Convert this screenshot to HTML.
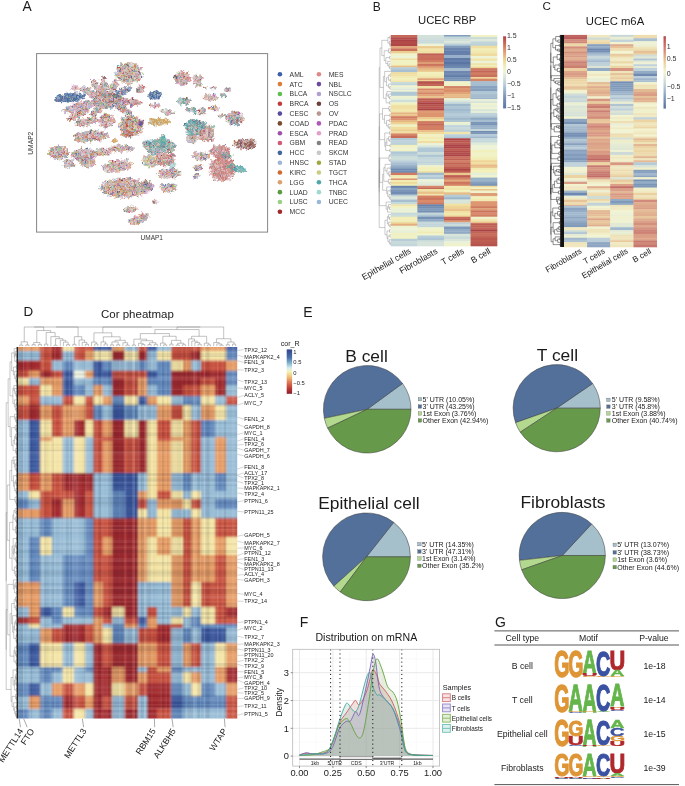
<!DOCTYPE html><html><head><meta charset="utf-8"><style>html,body{margin:0;padding:0;background:#fff;width:685px;height:786px;overflow:hidden}svg{display:block;font-family:"Liberation Sans", sans-serif;will-change:transform;filter:blur(0.35px)}</style></head><body>
<svg width="685" height="786" viewBox="0 0 685 786">
<rect width="685" height="786" fill="#fff"/>
<text x="22.6" y="11.4" font-size="13.8" text-anchor="start" fill="#1a1a1a" >A</text>
<defs><filter id="rough" x="-10%" y="-10%" width="120%" height="120%"><feTurbulence type="fractalNoise" baseFrequency="0.3" numOctaves="2" seed="3" result="n"/><feDisplacementMap in="SourceGraphic" in2="n" scale="5" xChannelSelector="R" yChannelSelector="G"/></filter></defs>
<g filter="url(#rough)"><g opacity="0.55"><ellipse cx="128.8" cy="73.3" rx="11.70" ry="9.24" fill="#c9b0a1" transform="rotate(0 128.8 73.3)"/><ellipse cx="140.5" cy="89.5" rx="4.50" ry="3.52" fill="#c9aaa6" transform="rotate(-60 140.5 89.5)"/><ellipse cx="70" cy="97.5" rx="13.50" ry="3.96" fill="#40669a" transform="rotate(-4 70 97.5)"/><ellipse cx="80" cy="106.5" rx="16.20" ry="4.05" fill="#cda8ac" transform="rotate(-14 80 106.5)"/><ellipse cx="79" cy="114" rx="10.80" ry="3.17" fill="#caa195" transform="rotate(-27 79 114)"/><ellipse cx="90" cy="92.5" rx="10.80" ry="3.17" fill="#c9aaa6" transform="rotate(24 90 92.5)"/><ellipse cx="97" cy="87" rx="9.00" ry="2.99" fill="#cda4a1" transform="rotate(52 97 87)"/><ellipse cx="104" cy="84.5" rx="8.10" ry="2.99" fill="#c9aaa6" transform="rotate(-101 104 84.5)"/><ellipse cx="113" cy="88" rx="8.10" ry="2.99" fill="#c9aaa6" transform="rotate(-63 113 88)"/><ellipse cx="122" cy="92" rx="9.00" ry="3.17" fill="#8f8da1" transform="rotate(-28 122 92)"/><ellipse cx="128" cy="102" rx="12.60" ry="3.52" fill="#cb979b" transform="rotate(5 128 102)"/><ellipse cx="123" cy="109" rx="9.00" ry="3.17" fill="#c9aaa6" transform="rotate(29 123 109)"/><ellipse cx="107" cy="100" rx="12.60" ry="7.48" fill="#c9aaa6" transform="rotate(0 107 100)"/><ellipse cx="97" cy="111" rx="7.20" ry="3.17" fill="#c9aaa6" transform="rotate(-48 97 111)"/><ellipse cx="74.8" cy="88.4" rx="3.42" ry="2.46" fill="#d4a5b6" transform="rotate(0 74.8 88.4)"/><ellipse cx="86" cy="122" rx="10.80" ry="3.96" fill="#c9aaa6" transform="rotate(-10 86 122)"/><ellipse cx="106" cy="121" rx="7.20" ry="6.16" fill="#cda8ac" transform="rotate(0 106 121)"/><ellipse cx="131" cy="126" rx="10.80" ry="9.68" fill="#caa195" transform="rotate(0 131 126)"/><ellipse cx="140" cy="123" rx="3.15" ry="1.32" fill="#5a4aa0" transform="rotate(0 140 123)"/><ellipse cx="127" cy="134" rx="5.40" ry="2.64" fill="#d06a30" transform="rotate(0 127 134)"/><ellipse cx="91" cy="136.5" rx="15.30" ry="5.28" fill="#c9aaa6" transform="rotate(-5 91 136.5)"/><ellipse cx="115" cy="140.5" rx="2.25" ry="1.32" fill="#d0a050" transform="rotate(0 115 140.5)"/><ellipse cx="58.8" cy="152.6" rx="9.00" ry="6.16" fill="#c9aaa6" transform="rotate(0 58.8 152.6)"/><ellipse cx="84" cy="155" rx="10.80" ry="6.16" fill="#c9aaa6" transform="rotate(0 84 155)"/><ellipse cx="87.4" cy="162.7" rx="7.20" ry="4.40" fill="#cda899" transform="rotate(0 87.4 162.7)"/><ellipse cx="69" cy="163.6" rx="5.40" ry="4.40" fill="#c9aaa6" transform="rotate(0 69 163.6)"/><ellipse cx="121" cy="148.5" rx="10.80" ry="3.52" fill="#c9aaa6" transform="rotate(0 121 148.5)"/><ellipse cx="117.6" cy="166" rx="13.50" ry="5.28" fill="#c9aaa6" transform="rotate(-10 117.6 166)"/><ellipse cx="103" cy="152" rx="7.20" ry="3.52" fill="#c9aaa6" transform="rotate(0 103 152)"/><ellipse cx="124.3" cy="187.9" rx="21.60" ry="8.80" fill="#cca89c" transform="rotate(0 124.3 187.9)"/><ellipse cx="146" cy="186" rx="5.40" ry="4.40" fill="#c9aaa6" transform="rotate(0 146 186)"/><ellipse cx="131" cy="209.7" rx="6.30" ry="2.64" fill="#c9aaa6" transform="rotate(0 131 209.7)"/><ellipse cx="137.7" cy="219.8" rx="9.00" ry="3.52" fill="#c9aaa6" transform="rotate(-10 137.7 219.8)"/><ellipse cx="144.4" cy="215.6" rx="4.50" ry="2.64" fill="#c9aaa6" transform="rotate(0 144.4 215.6)"/><ellipse cx="182.4" cy="78.2" rx="7.56" ry="6.34" fill="#cfa29f" transform="rotate(0 182.4 78.2)"/><ellipse cx="176" cy="77.3" rx="2.25" ry="1.32" fill="#40669a" transform="rotate(0 176 77.3)"/><ellipse cx="197.4" cy="80.4" rx="4.32" ry="5.72" fill="#c9aaa6" transform="rotate(0 197.4 80.4)"/><ellipse cx="205" cy="87.8" rx="1.80" ry="1.14" fill="#c9aaa6" transform="rotate(0 205 87.8)"/><ellipse cx="213.5" cy="87.8" rx="3.15" ry="1.14" fill="#c9aaa6" transform="rotate(0 213.5 87.8)"/><ellipse cx="228" cy="89.6" rx="3.60" ry="1.94" fill="#c9aaa6" transform="rotate(0 228 89.6)"/><ellipse cx="155.4" cy="95.4" rx="5.94" ry="3.87" fill="#40669a" transform="rotate(0 155.4 95.4)"/><ellipse cx="154.8" cy="105.8" rx="4.68" ry="2.29" fill="#d1a6b2" transform="rotate(0 154.8 105.8)"/><ellipse cx="167" cy="112.3" rx="6.30" ry="2.64" fill="#c9aaa6" transform="rotate(10 167 112.3)"/><ellipse cx="159" cy="122" rx="9.90" ry="3.52" fill="#d0a050" transform="rotate(0 159 122)"/><ellipse cx="184.3" cy="101.5" rx="5.85" ry="3.08" fill="#9da9a7" transform="rotate(0 184.3 101.5)"/><ellipse cx="190.7" cy="109.7" rx="4.68" ry="2.64" fill="#acaaa6" transform="rotate(0 190.7 109.7)"/><ellipse cx="201.7" cy="111.5" rx="3.60" ry="3.52" fill="#c9aaa6" transform="rotate(0 201.7 111.5)"/><ellipse cx="210.4" cy="97.5" rx="7.20" ry="3.08" fill="#c9aaa6" transform="rotate(0 210.4 97.5)"/><ellipse cx="223.6" cy="95.3" rx="3.60" ry="1.32" fill="#50a8a8" transform="rotate(30 223.6 95.3)"/><ellipse cx="214" cy="108.4" rx="4.50" ry="2.29" fill="#c9aaa6" transform="rotate(0 214 108.4)"/><ellipse cx="221" cy="116" rx="3.60" ry="1.94" fill="#c9aaa6" transform="rotate(0 221 116)"/><ellipse cx="234.6" cy="118" rx="7.92" ry="6.16" fill="#c9aaa6" transform="rotate(0 234.6 118)"/><ellipse cx="234.6" cy="120.5" rx="4.50" ry="4.40" fill="#9da9a7" transform="rotate(0 234.6 120.5)"/><ellipse cx="195" cy="111.5" rx="1.35" ry="2.64" fill="#50a8a8" transform="rotate(0 195 111.5)"/><ellipse cx="195" cy="128.5" rx="9.00" ry="5.72" fill="#9da9a7" transform="rotate(-10 195 128.5)"/><ellipse cx="206" cy="135" rx="7.65" ry="6.16" fill="#cb9e9b" transform="rotate(0 206 135)"/><ellipse cx="192" cy="138.5" rx="5.40" ry="4.40" fill="#c9aaa6" transform="rotate(0 192 138.5)"/><ellipse cx="201" cy="124" rx="5.40" ry="3.08" fill="#9da9a7" transform="rotate(0 201 124)"/><ellipse cx="191" cy="123" rx="6.30" ry="2.64" fill="#50a8a8" transform="rotate(-20 191 123)"/><ellipse cx="210" cy="128" rx="3.60" ry="2.64" fill="#c9aaa6" transform="rotate(0 210 128)"/><ellipse cx="155" cy="147" rx="9.00" ry="7.04" fill="#96a9a7" transform="rotate(-20 155 147)"/><ellipse cx="168" cy="146" rx="7.20" ry="5.28" fill="#9da9a7" transform="rotate(20 168 146)"/><ellipse cx="165" cy="158.5" rx="9.00" ry="6.16" fill="#cb9e9b" transform="rotate(0 165 158.5)"/><ellipse cx="150" cy="161" rx="7.20" ry="5.28" fill="#c9ba98" transform="rotate(0 150 161)"/><ellipse cx="163" cy="140" rx="3.15" ry="4.40" fill="#50a8a8" transform="rotate(0 163 140)"/><ellipse cx="146" cy="144" rx="3.60" ry="3.52" fill="#8fa9a7" transform="rotate(0 146 144)"/><ellipse cx="172.5" cy="166" rx="2.25" ry="4.40" fill="#a0d8d0" transform="rotate(0 172.5 166)"/><ellipse cx="169" cy="173.5" rx="10.80" ry="4.40" fill="#c9aaa6" transform="rotate(0 169 173.5)"/><ellipse cx="146.5" cy="186.5" rx="5.85" ry="4.84" fill="#cda8ac" transform="rotate(0 146.5 186.5)"/><ellipse cx="150.5" cy="188" rx="1.80" ry="2.64" fill="#5a4aa0" transform="rotate(0 150.5 188)"/><ellipse cx="169" cy="188" rx="8.10" ry="3.78" fill="#c9aaa6" transform="rotate(0 169 188)"/><ellipse cx="154.3" cy="201.5" rx="3.60" ry="1.76" fill="#c9aaa6" transform="rotate(0 154.3 201.5)"/><ellipse cx="222.3" cy="168.5" rx="11.70" ry="11.44" fill="#cc9290" transform="rotate(0 222.3 168.5)"/><ellipse cx="220.5" cy="152" rx="9.00" ry="6.16" fill="#cc9895" transform="rotate(0 220.5 152)"/><ellipse cx="236" cy="168.5" rx="9.00" ry="2.82" fill="#50a8a8" transform="rotate(12 236 168.5)"/><ellipse cx="226" cy="155.5" rx="6.30" ry="2.20" fill="#50a8a8" transform="rotate(10 226 155.5)"/><ellipse cx="200.4" cy="156.4" rx="8.10" ry="3.96" fill="#c9aaa6" transform="rotate(0 200.4 156.4)"/><ellipse cx="198.5" cy="167.6" rx="4.05" ry="3.17" fill="#c9aaa6" transform="rotate(0 198.5 167.6)"/><ellipse cx="196.5" cy="176" rx="2.88" ry="2.64" fill="#c9aaa6" transform="rotate(0 196.5 176)"/><ellipse cx="244.7" cy="143.8" rx="9.90" ry="4.84" fill="#ab7c75" transform="rotate(0 244.7 143.8)"/><ellipse cx="252" cy="145" rx="3.60" ry="2.20" fill="#8a4a40" transform="rotate(0 252 145)"/></g>
<g opacity="0.95">
<path stroke="#7a4a30" stroke-width="0.95" stroke-linecap="square" fill="none" d="M124.0 65.6h0M126.0 64.6h0M124.2 76.0h0M120.5 78.9h0M120.7 79.8h0M136.6 74.8h0M134.6 70.7h0M132.4 70.3h0M129.7 70.8h0M137.1 89.9h0M81.8 108.3h0M85.4 107.1h0M81.9 111.4h0M75.6 113.7h0M100.4 85.5h0M101.3 87.7h0M94.0 81.4h0M105.3 91.8h0M113.9 88.8h0M123.5 98.3h0M128.2 111.7h0M123.9 107.7h0M104.5 95.0h0M107.0 98.9h0M108.9 106.7h0M100.4 102.1h0M110.9 102.1h0M111.8 97.3h0M102.7 105.8h0M113.9 102.4h0M100.6 103.2h0M102.1 105.4h0M98.0 110.7h0M75.5 87.7h0M108.5 127.5h0M105.4 121.8h0M102.3 119.0h0M122.2 125.5h0M141.6 123.7h0M139.8 131.5h0M133.3 122.2h0M124.9 129.6h0M97.8 133.6h0M90.7 132.0h0M84.1 137.3h0M76.2 135.0h0M75.2 139.3h0M89.7 139.6h0M91.6 135.8h0M67.3 150.1h0M55.4 156.9h0M92.0 150.5h0M73.8 158.8h0M74.2 157.3h0M78.9 151.9h0M83.1 161.1h0M81.1 165.1h0M73.2 165.5h0M123.9 149.7h0M111.4 163.3h0M102.5 151.9h0M118.6 188.2h0M137.3 196.4h0M139.2 182.4h0M108.0 186.0h0M135.5 184.7h0M121.0 184.4h0M113.5 185.0h0M130.5 179.0h0M112.6 194.4h0M148.5 189.2h0M145.3 183.0h0M140.1 218.0h0M142.5 215.2h0M176.0 78.2h0M175.7 81.8h0M185.3 80.3h0M197.9 85.4h0M197.1 76.1h0M159.0 92.7h0M169.6 110.0h0M167.0 120.2h0M188.0 103.5h0M234.8 112.6h0M238.1 122.6h0M228.8 116.1h0M187.6 128.3h0M192.5 129.2h0M188.8 125.0h0M202.4 135.8h0M199.1 127.5h0M190.7 120.0h0M193.2 124.3h0M151.7 154.2h0M150.5 145.8h0M153.7 141.2h0M162.6 142.8h0M163.6 141.2h0M162.7 163.0h0M158.4 161.9h0M156.5 156.4h0M162.3 169.3h0M161.8 175.6h0M143.8 187.2h0M150.3 182.0h0M167.0 187.3h0M171.8 185.6h0M172.2 190.1h0M227.4 157.9h0M231.0 159.9h0M226.3 178.2h0M220.0 175.8h0M218.1 172.2h0M230.7 159.8h0M219.7 153.5h0M219.8 152.0h0M196.6 173.9h0M252.7 146.7h0M244.6 143.4h0"/>
<path stroke="#c8cc88" stroke-width="0.95" stroke-linecap="square" fill="none" d="M129.8 70.3h0M129.0 63.1h0M138.6 68.7h0M128.1 76.9h0M134.3 76.5h0M127.8 66.0h0M127.4 74.4h0M119.6 69.8h0M117.9 70.3h0M139.0 75.8h0M127.9 72.9h0M117.9 69.8h0M130.0 62.9h0M121.2 80.2h0M129.3 70.1h0M130.1 65.2h0M122.2 71.5h0M129.7 73.8h0M127.2 66.3h0M128.2 83.0h0M130.4 83.1h0M118.5 72.0h0M126.0 73.0h0M130.3 72.0h0M136.4 68.2h0M130.7 77.7h0M116.7 77.4h0M140.8 76.3h0M129.5 67.5h0M117.6 71.1h0M129.4 73.4h0M134.1 67.3h0M118.8 70.2h0M133.7 73.1h0M121.5 82.1h0M135.6 80.8h0M130.1 78.1h0M123.0 63.4h0M116.8 68.4h0M125.8 82.7h0M121.3 75.5h0M125.1 82.1h0M138.3 76.9h0M127.7 65.9h0M130.5 79.0h0M127.3 71.9h0M122.7 80.3h0M129.0 69.3h0M119.8 79.6h0M129.6 76.3h0M120.0 78.7h0M118.8 67.3h0M121.8 65.6h0M130.2 83.0h0M139.4 79.5h0M127.5 67.3h0M124.3 78.8h0M141.9 72.6h0M120.9 76.0h0M116.9 75.3h0M134.4 74.1h0M134.2 73.3h0M125.9 81.9h0M124.7 69.5h0M136.3 75.0h0M135.0 64.5h0M120.5 76.3h0M120.8 70.8h0M132.4 72.5h0M134.7 73.6h0M116.7 68.3h0M124.8 76.4h0M137.8 76.2h0M133.1 67.8h0M121.5 65.3h0M129.9 81.3h0M134.8 76.1h0M139.3 74.3h0M127.7 79.1h0M136.3 82.4h0M128.1 71.4h0M123.6 78.4h0M127.1 77.2h0M122.3 71.6h0M120.6 66.3h0M131.5 71.0h0M124.8 82.2h0M124.0 67.9h0M134.7 66.6h0M127.4 64.4h0M132.3 72.2h0M128.2 76.1h0M134.6 74.5h0M137.2 69.8h0M121.1 74.9h0M137.3 69.7h0M128.6 62.6h0M121.3 66.3h0M122.0 80.3h0M118.5 71.2h0M131.3 81.3h0M130.8 78.7h0M124.3 71.9h0M127.0 73.4h0M129.7 65.5h0M125.6 75.2h0M136.2 65.8h0M138.9 72.0h0M133.6 75.9h0M130.9 75.1h0M141.0 77.2h0M137.7 73.6h0M127.4 70.8h0M132.1 67.8h0M123.1 74.7h0M122.9 67.5h0M117.7 68.2h0M125.8 64.2h0M123.9 76.9h0M133.1 77.7h0M140.1 78.5h0M123.6 76.3h0M133.8 70.0h0M138.5 75.7h0M137.8 68.5h0M121.9 65.3h0M143.2 87.9h0M142.1 89.9h0M137.9 88.3h0M142.8 90.1h0M82.0 95.3h0M71.7 99.2h0M67.2 93.4h0M68.2 100.7h0M79.0 94.1h0M77.2 95.9h0M89.2 107.2h0M87.5 108.1h0M87.4 100.6h0M93.4 102.4h0M71.0 110.3h0M92.0 104.5h0M82.4 102.8h0M79.7 103.1h0M73.5 105.0h0M74.1 105.2h0M86.7 103.7h0M72.5 112.4h0M90.3 105.2h0M77.0 103.3h0M77.9 111.0h0M79.2 113.8h0M75.0 119.0h0M77.8 110.5h0M88.7 109.5h0M82.2 113.2h0M81.9 110.6h0M89.9 91.5h0M97.0 98.3h0M88.9 89.5h0M95.4 93.7h0M80.3 89.2h0M88.3 92.5h0M81.8 88.9h0M85.4 93.1h0M97.5 82.4h0M94.0 85.4h0M91.4 81.8h0M99.7 89.8h0M98.7 84.3h0M92.3 86.6h0M95.9 86.9h0M93.1 87.1h0M98.1 83.9h0M99.6 94.1h0M107.6 89.6h0M103.3 75.7h0M103.2 77.4h0M104.7 84.2h0M104.5 82.3h0M110.1 86.5h0M109.4 94.9h0M112.1 84.3h0M109.1 89.0h0M114.1 86.3h0M115.2 84.5h0M116.0 80.0h0M116.7 82.0h0M113.0 88.3h0M115.8 88.6h0M111.9 94.1h0M115.0 93.0h0M129.3 91.4h0M114.6 94.8h0M132.8 105.7h0M141.4 103.8h0M129.9 100.2h0M115.3 102.2h0M139.6 103.2h0M124.2 100.3h0M128.0 98.2h0M127.2 99.1h0M138.3 102.4h0M136.4 103.5h0M132.7 104.0h0M132.3 101.1h0M130.9 101.2h0M123.0 105.2h0M126.5 107.8h0M124.9 109.7h0M125.2 109.6h0M128.3 113.3h0M123.4 107.0h0M120.0 110.6h0M129.2 109.7h0M96.4 98.6h0M119.6 101.6h0M113.5 94.5h0M98.9 98.7h0M97.2 96.0h0M108.2 94.9h0M107.5 101.8h0M104.1 100.8h0M98.0 99.8h0M101.3 105.3h0M98.5 102.2h0M117.0 97.0h0M108.3 108.0h0M105.6 106.9h0M113.5 95.1h0M116.4 96.3h0M104.5 93.6h0M102.2 99.3h0M99.8 97.7h0M103.6 93.5h0M96.6 103.1h0M117.6 98.6h0M114.5 99.0h0M118.3 103.5h0M101.2 95.3h0M112.1 103.9h0M95.7 98.6h0M96.4 100.7h0M106.4 98.6h0M103.4 108.6h0M111.2 98.3h0M118.5 99.5h0M102.7 99.7h0M112.2 100.9h0M100.5 103.0h0M102.1 95.4h0M95.2 99.0h0M106.5 100.8h0M113.2 98.2h0M115.5 96.9h0M116.7 94.8h0M96.0 116.4h0M93.7 112.6h0M95.8 107.7h0M95.8 111.7h0M95.1 109.9h0M97.6 106.5h0M95.6 115.2h0M90.9 114.8h0M95.4 107.4h0M93.0 115.8h0M92.1 112.2h0M100.9 107.7h0M75.5 87.1h0M75.7 89.2h0M75.8 91.2h0M79.8 124.7h0M80.0 123.8h0M76.5 123.6h0M93.3 123.4h0M87.3 117.2h0M80.2 121.8h0M79.1 120.4h0M93.7 122.7h0M97.2 118.3h0M84.4 120.2h0M83.1 118.1h0M89.9 118.6h0M87.9 119.4h0M93.0 117.9h0M90.2 125.5h0M97.8 119.2h0M96.8 119.8h0M109.3 115.7h0M101.4 124.6h0M108.4 120.2h0M102.9 115.8h0M104.0 127.6h0M100.6 117.2h0M108.2 119.6h0M99.7 120.9h0M100.0 123.5h0M111.6 121.7h0M109.1 125.6h0M102.8 125.6h0M110.0 120.6h0M106.0 122.1h0M120.8 130.7h0M131.3 114.5h0M131.3 123.2h0M129.4 127.0h0M121.8 127.8h0M140.3 122.1h0M140.0 131.4h0M126.7 129.4h0M122.6 132.7h0M122.0 123.5h0M134.1 127.4h0M127.6 118.2h0M131.5 131.7h0M128.1 129.8h0M123.0 120.1h0M125.2 117.5h0M135.7 128.9h0M126.1 116.1h0M124.2 129.4h0M135.4 131.3h0M137.0 119.7h0M132.3 129.9h0M120.5 122.5h0M134.8 115.5h0M141.2 132.3h0M124.2 130.7h0M125.1 125.3h0M132.4 134.6h0M134.4 125.3h0M130.9 115.8h0M129.4 132.8h0M120.9 121.9h0M123.3 132.9h0M127.5 122.6h0M130.9 130.2h0M126.5 130.1h0M139.6 119.9h0M136.6 126.0h0M121.7 130.0h0M128.6 115.1h0M127.2 120.3h0M133.0 135.9h0M136.2 119.4h0M126.4 130.4h0M128.5 133.5h0M125.6 131.0h0M120.2 127.1h0M128.6 132.8h0M128.7 131.1h0M124.3 133.6h0M127.4 131.4h0M81.1 138.7h0M91.2 135.1h0M75.8 138.9h0M92.5 141.3h0M105.2 135.1h0M102.4 132.6h0M81.9 140.7h0M93.9 130.1h0M105.6 133.0h0M83.4 135.9h0M95.4 130.6h0M75.9 136.6h0M75.5 136.6h0M104.9 134.0h0M103.3 133.5h0M81.1 134.2h0M92.0 130.5h0M77.5 134.9h0M84.7 135.1h0M94.7 134.9h0M108.4 134.7h0M81.9 132.2h0M85.5 141.2h0M89.5 140.4h0M99.8 131.0h0M93.1 138.7h0M85.4 141.0h0M102.0 136.5h0M106.2 132.8h0M94.6 138.4h0M90.6 140.0h0M78.0 141.6h0M103.8 135.8h0M113.9 139.2h0M57.4 150.7h0M52.6 153.6h0M54.5 148.1h0M55.0 151.2h0M59.3 159.9h0M49.8 151.9h0M55.6 150.3h0M54.9 158.5h0M65.6 157.2h0M59.0 158.6h0M55.8 154.5h0M65.9 152.6h0M55.6 152.6h0M66.1 150.6h0M60.2 157.7h0M65.7 154.1h0M73.2 153.0h0M87.4 160.3h0M80.0 156.7h0M81.8 151.3h0M77.4 149.8h0M74.1 155.4h0M85.5 159.3h0M95.3 154.9h0M83.2 151.9h0M78.2 159.8h0M94.4 155.7h0M86.8 157.8h0M85.1 158.5h0M88.9 148.9h0M86.4 154.6h0M91.3 158.5h0M79.0 156.2h0M79.9 148.8h0M74.1 151.7h0M86.3 166.0h0M87.8 166.7h0M90.8 161.3h0M94.2 160.4h0M85.7 162.4h0M85.9 161.2h0M92.8 161.4h0M88.4 161.4h0M64.6 167.4h0M70.1 161.0h0M65.2 160.8h0M66.2 167.9h0M73.0 164.8h0M124.6 146.5h0M117.9 150.8h0M117.3 148.3h0M121.5 145.7h0M129.6 150.2h0M114.3 146.1h0M117.4 149.6h0M116.8 148.1h0M130.2 147.5h0M124.6 144.8h0M111.6 146.0h0M113.9 147.9h0M123.6 151.4h0M109.9 149.9h0M116.4 149.3h0M125.8 152.3h0M109.8 150.3h0M124.9 151.2h0M106.2 171.4h0M108.6 167.7h0M114.7 166.6h0M130.1 164.6h0M108.1 163.5h0M105.4 166.6h0M128.6 162.6h0M105.9 167.4h0M118.9 164.6h0M130.2 160.7h0M115.5 167.7h0M108.6 164.3h0M119.9 165.1h0M131.9 165.7h0M123.7 167.5h0M115.8 166.8h0M124.8 163.6h0M116.5 169.2h0M120.4 169.0h0M113.4 166.3h0M121.5 170.4h0M120.5 161.5h0M110.5 163.3h0M126.9 165.9h0M112.4 163.9h0M124.2 161.8h0M108.9 166.2h0M95.1 153.2h0M102.7 155.3h0M107.1 150.2h0M106.7 155.6h0M101.0 153.0h0M107.8 153.6h0M99.5 152.2h0M123.6 194.9h0M119.7 190.1h0M115.2 196.6h0M134.0 194.9h0M141.0 190.7h0M145.9 187.6h0M119.9 190.0h0M124.0 191.7h0M119.1 187.3h0M149.3 188.7h0M130.5 192.9h0M120.6 178.5h0M129.0 193.2h0M126.9 192.5h0M115.1 188.1h0M106.1 194.0h0M137.2 188.8h0M132.5 187.6h0M142.0 193.7h0M129.9 191.5h0M115.7 189.1h0M132.9 195.1h0M121.4 195.4h0M142.1 191.0h0M128.1 179.7h0M144.1 181.9h0M111.1 185.9h0M136.3 181.8h0M106.0 186.5h0M140.0 190.3h0M128.8 193.0h0M134.4 195.8h0M133.5 185.2h0M107.1 192.2h0M129.4 191.7h0M129.0 181.6h0M106.5 181.0h0M136.4 190.4h0M113.0 181.9h0M140.4 185.3h0M114.0 193.8h0M114.0 187.8h0M127.4 182.0h0M140.8 193.8h0M132.6 189.0h0M136.3 184.7h0M140.0 194.3h0M111.3 184.0h0M136.3 195.2h0M118.4 196.7h0M137.7 193.8h0M113.4 190.6h0M131.9 193.3h0M143.7 184.8h0M133.4 181.3h0M122.7 187.9h0M115.8 195.4h0M105.7 191.3h0M127.1 191.6h0M142.4 190.4h0M143.5 183.6h0M144.3 184.5h0M148.7 189.0h0M143.9 189.8h0M147.4 190.0h0M143.9 186.9h0M150.5 185.0h0M147.0 186.3h0M149.3 187.7h0M143.3 186.1h0M148.2 184.2h0M149.3 188.6h0M144.8 190.1h0M132.2 207.8h0M133.5 207.4h0M133.8 208.9h0M131.2 210.2h0M126.7 211.2h0M140.0 216.5h0M147.3 218.7h0M143.2 219.4h0M136.8 219.8h0M133.5 223.4h0M143.2 218.5h0M139.3 222.5h0M136.7 220.3h0M141.7 222.2h0M139.4 217.2h0M130.2 221.1h0M135.0 219.7h0M138.4 218.4h0M130.7 221.6h0M143.6 217.0h0M141.2 215.3h0M145.3 214.8h0M145.0 216.2h0M149.1 214.5h0M141.6 215.1h0M185.1 78.8h0M182.0 83.0h0M182.7 72.1h0M178.7 79.0h0M173.9 79.2h0M182.3 74.5h0M175.2 76.7h0M180.6 83.8h0M181.3 80.3h0M177.1 74.7h0M177.1 72.3h0M185.6 73.5h0M179.0 80.2h0M175.3 77.4h0M182.1 84.4h0M188.0 78.4h0M176.8 80.1h0M180.9 71.5h0M198.7 86.0h0M194.5 75.4h0M198.0 86.1h0M200.5 80.8h0M194.6 84.8h0M196.1 75.1h0M194.4 79.2h0M200.4 78.8h0M197.6 85.7h0M198.9 85.1h0M201.5 84.2h0M196.5 85.4h0M200.4 76.5h0M206.2 87.4h0M229.6 89.5h0M150.4 95.0h0M149.1 95.0h0M155.1 93.5h0M155.5 105.2h0M152.7 104.5h0M155.8 103.2h0M159.3 105.4h0M154.0 105.2h0M151.9 106.7h0M170.5 114.2h0M166.8 111.2h0M171.0 111.8h0M162.0 110.0h0M172.5 114.0h0M157.0 123.2h0M166.6 121.9h0M159.2 121.7h0M181.8 102.0h0M178.5 99.7h0M192.2 109.5h0M194.3 108.7h0M192.3 108.5h0M190.4 107.7h0M189.0 108.3h0M202.8 108.1h0M203.6 108.2h0M202.2 110.0h0M201.5 110.6h0M203.5 111.2h0M203.6 114.8h0M210.4 94.2h0M214.3 97.6h0M208.1 99.5h0M210.2 101.1h0M208.7 96.7h0M215.0 107.2h0M219.3 117.9h0M219.6 115.8h0M237.0 113.3h0M225.6 117.1h0M237.5 124.0h0M232.8 115.5h0M237.7 112.9h0M242.1 120.7h0M231.9 121.9h0M228.0 114.5h0M233.0 112.3h0M233.9 120.2h0M233.8 117.5h0M238.1 121.3h0M241.8 118.5h0M232.0 121.1h0M237.0 113.8h0M228.7 117.4h0M230.6 116.8h0M228.4 116.4h0M232.9 116.7h0M233.2 116.6h0M235.5 122.8h0M236.8 122.3h0M236.2 123.8h0M195.7 111.8h0M188.6 131.6h0M203.0 128.0h0M192.6 125.7h0M194.0 130.7h0M194.1 122.9h0M202.9 125.6h0M188.9 125.7h0M193.0 126.9h0M186.8 131.5h0M198.6 128.7h0M197.7 122.0h0M192.6 133.1h0M207.6 131.8h0M213.9 134.4h0M200.0 132.7h0M202.6 133.8h0M208.9 136.7h0M211.2 131.3h0M210.5 134.1h0M207.4 140.2h0M201.8 131.8h0M198.0 132.9h0M200.1 130.6h0M197.5 133.0h0M206.6 133.1h0M204.2 129.0h0M211.6 134.6h0M205.1 129.4h0M202.9 140.2h0M199.3 139.3h0M201.8 134.1h0M210.7 134.0h0M191.6 138.5h0M190.3 136.6h0M191.2 142.6h0M190.4 139.6h0M197.0 136.5h0M194.0 135.6h0M198.3 124.8h0M197.7 122.5h0M197.4 124.7h0M207.9 128.0h0M146.4 150.4h0M164.2 146.1h0M154.1 146.0h0M155.7 145.3h0M160.5 143.4h0M162.5 148.0h0M151.5 141.9h0M161.9 145.2h0M147.7 144.8h0M164.4 147.4h0M153.0 145.1h0M158.0 153.7h0M150.1 151.3h0M158.2 150.6h0M149.0 149.5h0M152.4 143.3h0M148.5 143.3h0M154.6 145.0h0M162.6 142.4h0M147.2 147.2h0M165.1 147.5h0M166.5 143.1h0M163.4 145.6h0M170.4 148.7h0M173.7 148.6h0M166.1 145.8h0M172.8 143.7h0M170.6 149.2h0M163.6 144.4h0M163.2 146.5h0M174.2 148.5h0M162.5 144.8h0M173.7 146.2h0M164.3 145.0h0M173.4 147.4h0M168.4 143.9h0M160.6 142.9h0M162.0 162.0h0M171.5 162.7h0M173.5 162.4h0M161.5 152.3h0M163.1 162.1h0M166.8 164.3h0M161.8 159.6h0M166.7 155.5h0M167.6 159.9h0M168.0 165.0h0M172.6 160.2h0M162.3 159.1h0M168.1 163.7h0M159.0 155.0h0M158.4 155.8h0M161.7 157.5h0M160.4 152.3h0M167.5 152.6h0M153.3 159.6h0M149.4 155.0h0M155.1 165.9h0M146.7 165.0h0M154.8 159.2h0M150.3 156.8h0M151.1 163.9h0M155.0 160.2h0M153.7 161.4h0M144.0 161.4h0M153.4 165.9h0M145.5 160.8h0M150.7 166.8h0M144.0 162.0h0M144.7 157.2h0M148.9 160.0h0M153.6 164.2h0M157.2 164.0h0M150.4 158.3h0M149.0 156.8h0M145.5 161.5h0M156.6 159.2h0M144.1 159.3h0M153.9 163.1h0M152.6 165.7h0M153.5 157.9h0M149.5 162.0h0M151.8 157.9h0M141.9 161.2h0M145.3 156.4h0M152.8 158.8h0M150.5 156.3h0M145.1 156.4h0M149.7 161.4h0M148.4 157.6h0M149.3 164.2h0M144.9 157.1h0M149.9 159.3h0M157.1 159.3h0M146.1 156.5h0M152.9 162.0h0M146.9 159.8h0M154.8 165.0h0M145.8 156.4h0M142.8 161.3h0M155.3 164.8h0M149.8 165.7h0M153.8 163.6h0M156.0 161.5h0M155.7 160.7h0M148.3 156.4h0M146.4 164.2h0M143.3 161.2h0M151.2 160.4h0M145.9 160.5h0M151.0 161.5h0M144.0 164.7h0M154.1 156.0h0M151.2 157.7h0M146.2 161.9h0M147.0 157.8h0M144.9 158.5h0M146.5 158.7h0M148.6 161.6h0M147.6 162.4h0M149.2 160.8h0M144.8 157.7h0M149.6 156.5h0M147.9 155.1h0M150.7 165.6h0M147.1 163.8h0M156.9 162.6h0M155.1 160.0h0M149.8 164.4h0M150.4 157.3h0M144.3 157.5h0M163.7 135.8h0M160.0 138.0h0M143.1 145.0h0M179.8 173.4h0M165.0 173.2h0M164.0 174.2h0M170.0 168.7h0M176.4 176.1h0M161.5 170.7h0M173.8 173.2h0M170.8 177.0h0M171.2 173.7h0M176.3 170.8h0M175.6 177.9h0M164.1 174.8h0M178.4 172.5h0M179.8 171.1h0M164.9 170.1h0M176.1 173.8h0M176.7 172.0h0M175.6 170.4h0M181.4 174.1h0M169.5 172.1h0M150.7 189.8h0M147.1 187.8h0M139.7 186.8h0M145.8 184.2h0M144.3 183.9h0M147.4 183.9h0M146.0 181.7h0M150.9 188.3h0M144.7 191.0h0M167.9 191.7h0M161.5 188.9h0M165.4 190.5h0M172.5 191.1h0M175.3 186.5h0M169.0 184.3h0M173.9 185.9h0M167.6 187.3h0M165.8 186.6h0M172.4 189.1h0M164.5 187.0h0M168.0 187.5h0M172.2 189.4h0M166.7 185.8h0M151.4 202.2h0M219.8 175.7h0M213.9 168.2h0M234.4 172.5h0M211.6 173.9h0M223.9 163.1h0M220.3 165.0h0M220.2 168.1h0M229.3 157.2h0M222.8 157.4h0M215.8 178.6h0M221.6 168.0h0M229.0 174.6h0M233.7 175.1h0M232.3 164.3h0M226.3 167.7h0M232.7 170.2h0M234.8 165.6h0M225.8 158.2h0M223.1 165.9h0M220.7 179.1h0M223.1 158.0h0M217.1 159.3h0M217.5 162.4h0M231.8 161.8h0M219.1 154.4h0M229.2 149.5h0M226.3 157.5h0M215.0 157.5h0M224.2 155.2h0M220.0 146.7h0M217.2 151.1h0M214.9 153.9h0M222.8 149.1h0M217.1 153.5h0M219.9 153.5h0M227.8 166.7h0M228.5 156.8h0M193.6 155.2h0M197.2 155.8h0M192.6 157.5h0M202.3 157.6h0M198.5 155.4h0M196.1 156.9h0M198.9 164.1h0M201.0 165.8h0M196.3 166.4h0M195.2 174.4h0M197.2 177.8h0M197.3 174.7h0M196.0 175.6h0M249.1 143.8h0M245.8 140.8h0M242.2 145.6h0M239.7 143.8h0M240.9 147.2h0M238.6 139.9h0M253.8 143.4h0M240.9 148.5h0M248.0 145.5h0"/>
<path stroke="#d05a78" stroke-width="0.95" stroke-linecap="square" fill="none" d="M117.6 71.6h0M122.0 69.9h0M128.2 76.7h0M121.5 82.6h0M122.0 76.3h0M122.8 70.0h0M130.2 76.4h0M122.9 73.8h0M128.9 70.6h0M130.3 75.1h0M127.5 69.2h0M133.8 70.9h0M127.9 68.8h0M123.3 75.3h0M128.6 69.3h0M129.3 72.1h0M141.1 68.6h0M125.7 72.0h0M128.9 67.3h0M140.0 79.4h0M124.8 76.1h0M127.7 79.2h0M141.1 87.7h0M142.9 86.2h0M140.6 85.2h0M143.5 88.6h0M142.8 90.1h0M142.9 86.8h0M138.0 91.3h0M66.5 100.9h0M64.3 95.5h0M75.4 93.5h0M79.2 96.6h0M84.8 102.4h0M89.3 107.7h0M86.9 101.2h0M91.6 105.1h0M64.8 112.8h0M86.1 104.3h0M69.6 108.1h0M78.2 103.4h0M73.0 119.4h0M70.7 118.1h0M79.5 117.8h0M86.8 112.0h0M83.5 110.5h0M74.8 116.5h0M84.5 114.5h0M70.9 120.1h0M87.1 88.4h0M84.2 90.2h0M90.1 94.2h0M99.4 95.7h0M93.5 92.9h0M86.1 89.5h0M81.8 90.7h0M96.9 92.6h0M81.6 87.7h0M89.7 96.0h0M95.7 95.6h0M91.8 81.5h0M92.4 85.1h0M95.8 88.9h0M100.0 86.1h0M96.0 83.9h0M90.5 81.5h0M93.8 84.2h0M106.1 89.4h0M102.3 77.4h0M104.2 84.2h0M104.1 78.1h0M107.4 88.4h0M116.4 87.2h0M111.2 91.8h0M113.9 85.2h0M116.0 80.1h0M112.0 86.5h0M114.8 84.5h0M113.5 90.1h0M109.2 89.2h0M121.3 88.2h0M114.9 94.8h0M127.9 92.1h0M115.4 97.0h0M122.2 104.3h0M117.2 100.7h0M125.2 101.7h0M135.4 102.8h0M122.2 104.4h0M117.1 98.9h0M119.6 99.2h0M135.2 102.2h0M131.8 106.1h0M134.8 101.9h0M124.6 102.3h0M142.0 104.0h0M132.8 105.7h0M142.0 102.6h0M133.6 104.7h0M141.3 103.4h0M128.9 100.9h0M114.3 101.2h0M134.2 104.7h0M131.4 106.3h0M132.3 99.7h0M123.8 102.3h0M133.2 99.5h0M130.2 104.1h0M130.1 104.5h0M137.2 102.4h0M131.3 105.8h0M117.8 100.3h0M123.2 98.0h0M124.7 99.6h0M135.9 100.1h0M115.3 101.3h0M137.0 103.8h0M135.3 103.0h0M119.7 102.5h0M116.7 102.3h0M135.3 104.2h0M118.3 100.8h0M131.7 103.5h0M122.9 104.7h0M125.2 102.2h0M126.8 102.1h0M128.9 99.1h0M136.7 103.1h0M123.0 101.8h0M134.0 105.7h0M113.8 100.2h0M121.3 110.6h0M121.3 111.6h0M125.0 111.7h0M130.6 112.5h0M120.3 109.8h0M122.6 110.7h0M126.7 112.6h0M124.0 110.1h0M115.4 106.6h0M109.1 96.3h0M112.3 96.2h0M103.7 106.7h0M97.7 94.9h0M104.5 101.3h0M110.5 107.0h0M98.3 107.0h0M95.2 101.5h0M106.2 102.5h0M108.9 99.3h0M100.0 93.0h0M121.1 100.6h0M117.0 101.6h0M107.9 94.4h0M97.0 95.3h0M100.3 95.5h0M112.1 94.8h0M105.1 93.8h0M93.9 96.9h0M93.3 100.3h0M98.7 94.4h0M98.9 95.6h0M92.8 112.6h0M95.8 115.6h0M91.9 115.3h0M96.2 115.9h0M101.1 106.7h0M75.9 86.3h0M78.1 88.3h0M94.6 122.1h0M81.5 124.6h0M78.8 119.8h0M95.2 121.0h0M86.4 120.3h0M84.7 123.2h0M83.7 122.5h0M89.9 119.4h0M103.1 115.5h0M113.1 119.7h0M114.0 119.2h0M105.9 125.2h0M103.1 120.3h0M101.7 118.1h0M105.1 122.5h0M106.2 117.0h0M110.1 118.7h0M134.8 130.5h0M122.8 125.4h0M140.6 121.9h0M126.1 117.3h0M137.4 131.1h0M122.0 118.0h0M136.3 117.2h0M139.4 125.0h0M140.5 120.5h0M138.7 125.0h0M136.9 116.9h0M127.1 134.1h0M128.9 117.7h0M124.3 131.4h0M142.2 122.4h0M123.5 132.8h0M138.0 119.0h0M126.0 131.8h0M130.0 125.6h0M127.4 121.8h0M142.7 123.4h0M137.4 127.3h0M137.7 128.1h0M143.2 128.0h0M138.4 130.3h0M127.7 125.8h0M131.4 132.4h0M132.4 133.1h0M127.5 134.2h0M132.4 134.6h0M124.8 136.5h0M128.3 132.7h0M91.3 136.5h0M102.2 137.8h0M91.3 139.9h0M84.2 139.6h0M90.3 131.8h0M91.3 132.8h0M79.6 140.9h0M96.4 136.7h0M75.6 137.8h0M78.0 140.3h0M93.9 137.8h0M108.1 136.2h0M73.6 136.7h0M84.3 133.1h0M78.2 140.5h0M94.9 138.2h0M78.6 139.5h0M82.6 133.3h0M82.5 135.4h0M101.2 139.9h0M94.4 137.4h0M85.2 135.2h0M96.6 131.8h0M114.1 140.0h0M55.5 159.0h0M52.2 147.9h0M63.9 149.5h0M62.4 151.4h0M64.8 155.2h0M63.9 151.4h0M59.9 155.8h0M53.1 156.3h0M60.8 145.8h0M49.9 154.8h0M64.6 151.7h0M61.7 159.6h0M56.6 152.8h0M62.4 156.4h0M60.4 148.2h0M66.5 152.1h0M55.5 148.1h0M51.3 152.2h0M63.7 158.7h0M63.6 151.0h0M60.6 158.1h0M60.5 147.8h0M51.4 147.9h0M80.5 148.9h0M77.8 160.1h0M93.0 158.6h0M83.6 149.2h0M92.0 153.5h0M85.7 155.3h0M92.9 154.8h0M85.5 152.6h0M92.5 152.8h0M92.3 162.9h0M87.0 163.8h0M86.5 164.3h0M86.0 166.8h0M94.5 163.0h0M81.7 159.5h0M91.4 162.5h0M91.0 162.3h0M84.8 162.9h0M66.2 159.7h0M71.4 160.9h0M68.4 164.7h0M64.8 165.3h0M66.7 167.0h0M66.2 161.2h0M72.6 164.9h0M114.1 148.5h0M122.9 145.4h0M114.9 146.9h0M127.8 168.1h0M113.9 168.0h0M110.3 166.6h0M113.0 168.1h0M119.8 168.1h0M119.0 171.7h0M117.1 160.7h0M104.1 168.4h0M118.0 161.3h0M128.9 163.0h0M112.3 169.7h0M132.7 164.7h0M123.1 163.0h0M121.3 169.6h0M106.6 151.7h0M96.8 153.9h0M95.0 152.0h0M97.5 152.3h0M147.4 185.1h0M110.8 196.1h0M142.8 194.2h0M143.9 184.1h0M139.0 180.0h0M119.7 190.0h0M128.2 179.5h0M122.6 181.2h0M111.4 180.7h0M125.0 180.8h0M117.0 192.9h0M147.2 188.2h0M109.0 189.8h0M114.5 180.8h0M131.9 188.4h0M138.0 183.1h0M117.5 181.3h0M127.3 189.4h0M101.9 187.6h0M127.2 184.9h0M118.9 181.3h0M108.3 193.4h0M142.1 191.6h0M132.3 195.1h0M106.5 190.6h0M123.5 186.8h0M104.4 181.8h0M101.5 185.1h0M133.7 191.1h0M141.6 194.8h0M123.3 193.5h0M143.4 184.8h0M114.4 195.3h0M143.9 191.0h0M104.0 192.9h0M139.2 188.9h0M134.1 188.9h0M115.9 190.3h0M117.9 194.6h0M125.6 181.6h0M133.5 180.8h0M118.8 192.5h0M145.2 190.6h0M129.2 184.7h0M131.0 196.6h0M135.1 195.8h0M104.2 191.8h0M113.8 192.3h0M141.4 182.4h0M113.8 181.2h0M128.4 196.8h0M112.8 182.6h0M131.3 186.5h0M129.4 183.3h0M145.9 190.4h0M115.2 185.0h0M113.7 190.8h0M113.1 189.8h0M109.1 184.1h0M127.9 197.3h0M133.9 181.4h0M146.3 187.0h0M143.1 188.3h0M145.4 186.4h0M144.2 189.2h0M141.8 188.8h0M143.2 183.0h0M151.1 187.1h0M130.5 211.0h0M136.2 208.5h0M126.8 210.4h0M127.9 208.2h0M144.9 217.3h0M133.3 224.2h0M136.9 220.7h0M128.9 222.7h0M127.4 220.9h0M137.5 221.3h0M144.3 220.5h0M147.2 217.1h0M146.2 217.6h0M142.4 213.0h0M144.3 218.4h0M142.6 213.7h0M176.7 79.1h0M174.6 77.1h0M186.6 79.8h0M189.0 79.9h0M177.1 79.4h0M179.6 74.5h0M179.1 84.1h0M182.1 74.9h0M183.7 73.7h0M182.6 79.4h0M174.4 76.5h0M186.4 83.8h0M185.0 77.7h0M176.5 77.4h0M195.9 77.6h0M195.4 80.1h0M199.3 83.0h0M202.1 77.9h0M201.8 78.7h0M201.2 77.3h0M213.3 87.3h0M212.1 87.7h0M157.7 98.6h0M154.0 108.1h0M155.5 107.0h0M167.2 113.8h0M171.7 112.0h0M171.2 110.7h0M169.4 112.6h0M160.0 111.1h0M163.1 122.7h0M165.8 121.8h0M160.9 122.7h0M154.1 122.2h0M183.5 98.5h0M186.0 100.1h0M187.7 102.1h0M184.2 98.2h0M201.7 111.4h0M204.7 109.3h0M203.9 111.6h0M199.5 108.3h0M208.8 98.2h0M225.6 96.8h0M211.4 109.9h0M217.0 106.7h0M219.9 115.1h0M226.5 120.0h0M239.2 112.7h0M238.6 120.1h0M240.9 121.5h0M229.1 116.5h0M236.8 120.5h0M226.3 119.7h0M233.0 120.6h0M195.4 112.9h0M191.8 126.5h0M192.1 132.3h0M197.2 126.6h0M194.3 126.2h0M188.1 129.2h0M198.5 127.7h0M195.1 128.3h0M191.8 131.2h0M193.1 123.1h0M196.9 122.9h0M211.2 136.6h0M205.6 141.4h0M205.0 130.7h0M202.3 140.1h0M201.0 135.1h0M204.6 129.4h0M199.4 135.7h0M209.0 134.3h0M209.7 134.6h0M190.3 137.9h0M192.4 136.7h0M195.1 136.6h0M193.0 135.6h0M189.8 138.0h0M195.7 141.7h0M187.7 134.7h0M193.9 139.2h0M190.7 134.0h0M197.1 123.4h0M204.3 125.2h0M200.3 126.9h0M188.4 121.8h0M211.1 129.7h0M209.1 130.6h0M210.0 125.6h0M210.0 129.6h0M211.0 128.8h0M163.1 148.0h0M165.0 147.5h0M158.7 151.2h0M162.0 151.6h0M155.4 143.9h0M152.1 142.2h0M146.5 152.4h0M150.1 150.1h0M157.1 138.5h0M149.8 151.3h0M164.6 145.0h0M171.0 149.1h0M161.5 147.3h0M169.6 142.2h0M160.0 145.3h0M161.6 143.6h0M168.9 144.0h0M169.0 147.0h0M174.0 146.8h0M164.6 155.2h0M158.5 153.3h0M161.5 154.9h0M166.5 161.8h0M167.6 159.5h0M168.2 158.2h0M169.4 155.9h0M160.7 164.3h0M170.4 156.5h0M152.0 162.6h0M149.3 163.6h0M155.5 162.5h0M142.0 159.3h0M155.3 161.3h0M151.3 162.3h0M150.4 160.5h0M174.5 168.6h0M167.0 172.4h0M166.8 172.7h0M175.7 171.3h0M160.0 174.4h0M179.5 172.3h0M169.9 174.4h0M178.1 175.5h0M172.9 171.9h0M162.5 171.9h0M168.2 177.9h0M163.8 173.0h0M147.0 184.4h0M146.8 182.9h0M146.7 184.1h0M147.3 182.7h0M149.8 185.4h0M147.7 189.3h0M143.0 190.0h0M163.3 190.3h0M173.6 189.7h0M170.0 184.4h0M169.8 185.1h0M171.5 185.3h0M175.2 187.2h0M151.9 200.9h0M231.8 161.4h0M220.9 172.8h0M223.2 158.0h0M231.1 163.0h0M215.1 167.0h0M228.2 162.9h0M223.8 160.0h0M227.4 159.4h0M227.7 167.5h0M218.1 174.0h0M221.5 157.5h0M213.7 173.3h0M220.0 181.2h0M215.6 156.7h0M224.2 160.8h0M220.9 169.2h0M223.7 156.5h0M214.9 146.1h0M228.2 152.2h0M212.2 150.6h0M220.1 157.3h0M210.7 151.0h0M229.9 151.5h0M221.4 153.0h0M245.7 171.1h0M235.2 171.4h0M239.6 171.1h0M236.9 166.4h0M223.8 156.4h0M200.6 152.3h0M197.6 156.5h0M201.0 154.1h0M205.4 160.4h0M201.7 165.7h0M196.8 167.3h0M196.1 174.2h0M239.5 145.2h0M246.3 139.9h0M251.3 144.1h0M248.6 142.0h0M239.5 142.5h0M239.6 147.6h0M247.8 141.9h0M249.5 145.2h0"/>
<path stroke="#b89890" stroke-width="0.95" stroke-linecap="square" fill="none" d="M121.2 76.1h0M131.0 76.4h0M134.2 67.7h0M128.5 63.1h0M122.0 68.7h0M140.0 70.1h0M130.3 69.5h0M129.1 77.5h0M138.7 72.3h0M136.9 78.8h0M132.8 79.1h0M126.9 64.3h0M118.1 70.2h0M119.4 67.7h0M129.3 64.5h0M120.9 71.9h0M128.4 63.6h0M125.1 74.7h0M131.9 77.9h0M128.7 73.6h0M140.7 70.8h0M123.6 67.6h0M124.8 81.3h0M131.1 73.3h0M125.4 71.1h0M132.8 74.0h0M134.3 80.0h0M130.5 69.6h0M135.6 64.1h0M120.2 80.5h0M140.5 92.1h0M140.4 87.5h0M140.3 90.4h0M138.8 87.9h0M142.8 91.6h0M143.8 90.0h0M138.1 86.9h0M139.8 85.4h0M139.9 89.7h0M63.6 96.1h0M79.3 94.0h0M72.8 94.3h0M83.9 96.4h0M90.0 101.5h0M74.8 107.5h0M83.4 103.2h0M70.4 106.3h0M95.2 105.0h0M65.7 110.9h0M70.6 106.6h0M86.1 103.4h0M75.6 106.2h0M90.7 103.0h0M88.6 100.9h0M65.7 107.9h0M82.9 106.4h0M86.3 109.4h0M79.0 105.1h0M68.0 118.1h0M71.7 117.8h0M84.9 108.9h0M79.7 111.0h0M75.4 117.7h0M82.9 113.6h0M87.5 108.9h0M78.4 114.9h0M78.7 113.4h0M84.1 109.5h0M79.2 117.4h0M84.9 112.3h0M84.8 113.7h0M90.3 96.0h0M98.2 95.3h0M84.9 91.9h0M100.3 96.7h0M94.3 92.8h0M87.4 90.6h0M80.0 88.2h0M85.7 92.8h0M94.8 92.2h0M85.8 92.5h0M83.4 87.5h0M89.4 90.6h0M95.4 92.7h0M97.8 94.3h0M98.6 97.7h0M88.6 93.1h0M98.9 96.6h0M96.2 92.8h0M92.5 95.9h0M102.1 93.7h0M94.1 85.5h0M95.5 81.8h0M93.7 83.1h0M92.6 79.9h0M93.6 83.4h0M102.3 94.2h0M97.3 91.3h0M103.7 94.6h0M92.6 85.4h0M100.5 92.9h0M103.5 90.9h0M105.4 91.5h0M104.5 81.7h0M103.5 92.5h0M103.8 86.5h0M107.7 86.0h0M101.3 88.2h0M102.4 89.8h0M106.8 90.9h0M105.5 82.0h0M103.7 92.1h0M101.3 82.4h0M103.1 88.8h0M116.5 82.3h0M114.5 84.8h0M113.0 91.0h0M108.0 92.2h0M111.0 94.9h0M112.9 82.9h0M109.5 88.2h0M116.5 83.5h0M117.4 86.2h0M123.5 89.7h0M125.3 89.4h0M129.5 86.9h0M123.6 90.2h0M122.8 93.2h0M123.1 89.3h0M134.2 102.1h0M132.1 101.0h0M123.5 105.5h0M140.3 104.1h0M129.6 102.3h0M134.7 100.2h0M136.0 101.7h0M129.5 102.8h0M131.2 98.1h0M122.0 104.8h0M137.8 104.9h0M136.4 101.6h0M124.1 108.3h0M124.8 108.6h0M130.2 114.7h0M119.8 107.0h0M122.4 110.3h0M121.0 110.0h0M120.3 111.7h0M120.3 110.4h0M115.7 106.2h0M103.2 91.4h0M108.9 93.5h0M103.8 104.8h0M100.0 107.1h0M104.5 108.5h0M119.6 100.5h0M111.9 92.1h0M112.5 99.0h0M119.2 97.6h0M101.0 94.1h0M118.0 97.8h0M99.5 104.8h0M96.1 98.4h0M106.7 104.6h0M105.5 107.4h0M100.1 103.8h0M113.7 101.2h0M100.7 98.1h0M101.6 96.1h0M116.9 101.7h0M117.0 102.1h0M100.3 93.5h0M112.5 102.5h0M111.0 104.0h0M105.8 91.7h0M96.1 101.0h0M103.0 95.2h0M107.2 107.4h0M96.5 96.1h0M109.6 108.0h0M111.6 107.8h0M109.6 98.3h0M109.9 95.0h0M119.0 97.5h0M113.1 101.3h0M95.2 102.4h0M105.7 106.3h0M100.1 94.9h0M97.8 97.9h0M98.0 96.8h0M93.7 100.5h0M115.1 103.0h0M101.4 93.0h0M95.6 99.9h0M112.0 93.8h0M102.6 99.4h0M109.7 107.5h0M110.3 94.5h0M108.6 104.2h0M118.1 94.6h0M105.6 103.4h0M94.9 112.9h0M94.6 116.7h0M92.9 111.3h0M96.9 110.0h0M98.7 107.1h0M95.2 113.6h0M100.1 108.3h0M94.6 110.3h0M96.0 107.4h0M93.8 116.2h0M91.9 114.0h0M96.9 114.1h0M94.5 113.4h0M70.9 88.8h0M84.2 127.0h0M77.6 122.6h0M83.6 118.5h0M91.3 123.2h0M78.0 121.3h0M86.5 119.8h0M90.1 120.4h0M105.4 118.8h0M113.6 120.8h0M101.4 124.4h0M102.8 118.8h0M105.0 114.8h0M112.1 125.2h0M113.8 123.5h0M111.0 124.4h0M134.8 133.2h0M126.1 123.0h0M129.5 116.0h0M139.6 119.7h0M136.7 127.4h0M138.9 126.5h0M138.0 126.0h0M133.7 135.4h0M127.0 121.6h0M133.1 137.3h0M128.8 132.9h0M128.4 117.9h0M124.2 129.7h0M137.1 117.5h0M121.2 127.4h0M138.8 118.9h0M138.7 128.1h0M142.1 126.2h0M141.0 121.2h0M131.7 125.0h0M132.7 126.0h0M123.9 125.4h0M130.3 125.3h0M129.9 134.3h0M127.8 118.1h0M137.0 133.8h0M121.5 128.5h0M132.6 126.1h0M125.7 136.4h0M124.9 131.2h0M135.4 130.1h0M136.6 122.0h0M123.4 135.0h0M124.9 135.9h0M140.3 130.4h0M122.7 124.0h0M130.0 136.5h0M124.2 132.0h0M132.8 133.0h0M92.5 136.5h0M100.8 140.9h0M101.6 140.4h0M98.1 141.5h0M105.3 138.3h0M102.1 138.1h0M82.3 139.1h0M86.6 136.8h0M85.8 135.0h0M94.7 133.3h0M105.0 133.7h0M99.6 141.1h0M93.5 136.0h0M79.4 139.2h0M92.6 133.0h0M87.7 141.6h0M85.2 139.3h0M98.1 139.4h0M105.3 137.9h0M92.3 137.4h0M85.6 142.9h0M89.5 131.8h0M90.1 139.0h0M85.8 137.5h0M57.0 157.0h0M61.2 159.2h0M68.4 153.5h0M61.1 146.3h0M60.3 146.9h0M60.6 148.7h0M64.8 156.5h0M52.6 147.9h0M60.1 151.4h0M55.1 151.2h0M64.8 152.7h0M58.6 156.3h0M51.3 149.8h0M57.6 156.0h0M60.3 156.2h0M58.3 158.1h0M65.4 157.1h0M50.9 157.4h0M61.0 146.1h0M79.5 149.1h0M89.8 151.8h0M85.7 151.7h0M75.0 157.7h0M76.7 157.2h0M84.6 152.7h0M76.7 154.6h0M78.4 161.3h0M89.8 152.7h0M91.2 155.6h0M76.3 151.5h0M82.3 156.5h0M73.3 157.5h0M89.7 152.8h0M80.9 158.0h0M82.9 149.2h0M72.2 152.8h0M85.9 161.8h0M78.3 159.2h0M80.4 149.5h0M74.0 152.8h0M92.3 153.5h0M86.1 161.7h0M81.4 149.0h0M80.1 153.4h0M93.7 153.8h0M86.3 152.9h0M90.4 155.5h0M85.5 158.0h0M86.6 166.3h0M85.6 161.3h0M80.1 163.6h0M90.7 161.9h0M82.9 159.5h0M81.3 159.7h0M86.8 161.1h0M89.7 160.4h0M83.6 159.2h0M82.9 166.6h0M82.4 163.2h0M70.5 159.9h0M72.4 164.3h0M64.0 162.9h0M65.0 167.6h0M67.3 162.4h0M126.5 148.1h0M120.5 147.6h0M116.4 149.0h0M131.6 148.3h0M122.1 152.0h0M129.8 147.0h0M131.4 150.3h0M113.4 149.8h0M117.9 145.2h0M125.4 147.0h0M121.1 149.0h0M116.2 147.2h0M130.2 149.8h0M129.7 146.4h0M119.3 145.6h0M123.5 166.3h0M112.5 164.2h0M108.4 163.6h0M110.4 167.3h0M113.0 163.0h0M124.1 162.6h0M103.4 167.7h0M121.6 160.8h0M120.6 166.8h0M115.9 165.1h0M124.6 170.0h0M128.2 166.5h0M118.8 163.7h0M117.3 164.2h0M123.4 162.8h0M114.1 168.6h0M115.5 167.7h0M123.7 162.9h0M131.0 162.8h0M103.6 168.1h0M124.6 160.0h0M112.0 172.5h0M107.9 166.9h0M120.6 160.2h0M114.8 165.2h0M119.1 160.5h0M106.6 166.3h0M103.9 154.0h0M100.9 148.9h0M95.9 150.2h0M103.3 150.4h0M106.1 151.7h0M101.9 152.0h0M101.6 150.8h0M98.8 152.0h0M105.6 155.5h0M142.3 182.7h0M124.0 195.9h0M144.9 185.3h0M118.7 178.4h0M109.4 194.5h0M121.4 181.8h0M134.7 193.6h0M125.9 191.7h0M123.5 196.6h0M104.4 189.8h0M123.3 177.8h0M137.0 188.1h0M125.1 196.9h0M126.1 195.7h0M109.4 187.7h0M110.8 182.1h0M119.9 195.7h0M143.3 194.7h0M121.7 186.8h0M143.2 186.7h0M110.4 191.1h0M140.4 187.6h0M143.4 192.2h0M120.4 198.1h0M103.9 190.9h0M112.7 183.1h0M138.4 184.6h0M111.0 187.9h0M118.9 184.5h0M131.1 195.6h0M132.6 180.4h0M134.9 191.3h0M134.7 185.6h0M133.8 189.4h0M132.2 188.2h0M105.8 187.5h0M125.9 195.4h0M118.4 193.0h0M119.5 187.5h0M127.6 191.7h0M131.7 180.7h0M130.0 195.7h0M118.9 186.5h0M130.4 178.9h0M108.0 190.3h0M124.3 190.0h0M140.6 184.5h0M136.2 183.8h0M140.1 192.0h0M119.3 183.0h0M122.9 189.8h0M101.6 189.5h0M143.2 185.6h0M109.9 180.2h0M133.4 185.4h0M119.9 180.6h0M142.2 194.2h0M135.2 195.3h0M114.9 180.0h0M126.9 189.3h0M143.6 187.9h0M110.1 187.8h0M125.5 197.2h0M124.4 180.1h0M148.5 183.0h0M147.2 183.1h0M147.9 187.8h0M146.1 182.6h0M143.0 189.7h0M150.6 187.1h0M151.5 183.5h0M145.9 185.5h0M131.0 207.0h0M124.4 208.4h0M129.4 210.0h0M132.9 211.0h0M126.2 211.9h0M134.7 217.9h0M134.3 220.6h0M140.3 221.4h0M133.2 220.6h0M134.4 223.1h0M138.6 220.5h0M135.8 221.7h0M141.7 221.5h0M142.6 217.1h0M147.7 216.0h0M140.4 215.1h0M143.6 215.2h0M147.4 215.7h0M143.5 213.7h0M186.8 74.1h0M178.1 84.6h0M183.5 77.8h0M182.5 82.9h0M176.0 77.2h0M183.3 75.3h0M183.5 73.7h0M181.3 71.4h0M175.8 75.8h0M182.1 74.9h0M187.9 78.3h0M185.5 74.7h0M178.2 78.0h0M185.5 82.2h0M187.0 72.5h0M183.7 83.3h0M181.5 77.6h0M199.0 77.1h0M196.5 86.2h0M199.1 84.7h0M200.8 75.7h0M194.7 81.5h0M197.9 84.7h0M199.5 85.6h0M198.9 81.0h0M197.1 85.7h0M205.1 87.8h0M215.6 88.3h0M229.3 88.5h0M153.5 92.2h0M150.5 94.8h0M156.7 104.8h0M158.9 106.8h0M151.5 105.1h0M154.6 108.4h0M161.1 109.9h0M169.9 111.5h0M163.5 110.1h0M167.3 112.3h0M168.0 111.1h0M168.1 124.0h0M160.4 119.3h0M149.6 123.1h0M159.2 118.8h0M180.6 102.8h0M178.7 100.8h0M186.3 98.5h0M186.3 104.6h0M183.9 103.1h0M190.1 108.9h0M189.6 107.5h0M193.4 107.5h0M186.4 110.5h0M203.1 114.6h0M201.5 113.3h0M199.1 109.6h0M201.2 114.2h0M201.6 114.7h0M211.5 95.5h0M202.8 98.2h0M208.3 97.8h0M209.8 96.7h0M212.2 96.3h0M213.9 95.1h0M210.3 97.6h0M205.9 94.9h0M223.3 95.0h0M220.9 93.5h0M214.3 110.6h0M219.0 108.5h0M218.6 107.6h0M222.9 116.7h0M224.5 115.8h0M228.8 120.1h0M230.5 116.8h0M237.2 122.7h0M238.1 115.6h0M235.8 124.2h0M241.2 122.8h0M233.7 118.9h0M239.3 118.4h0M236.5 112.2h0M232.3 120.8h0M236.8 113.9h0M231.7 122.9h0M232.2 112.2h0M235.4 116.4h0M237.4 111.8h0M230.6 124.0h0M228.5 119.3h0M230.3 115.3h0M232.0 112.2h0M240.6 113.7h0M235.1 113.4h0M235.8 120.7h0M233.2 121.2h0M193.9 109.8h0M196.2 128.9h0M195.8 133.6h0M187.9 129.9h0M192.6 126.9h0M201.1 123.9h0M194.6 131.6h0M193.0 128.9h0M185.0 127.9h0M193.5 135.0h0M190.0 126.4h0M194.6 124.3h0M203.7 127.3h0M187.1 127.2h0M201.9 122.7h0M185.9 131.5h0M186.5 129.2h0M207.2 136.3h0M206.9 140.0h0M201.2 138.9h0M201.6 131.5h0M206.1 134.6h0M204.3 140.3h0M202.4 140.4h0M208.5 138.5h0M208.7 134.7h0M197.6 133.9h0M199.4 138.9h0M211.0 140.0h0M210.4 137.8h0M208.2 128.4h0M208.3 139.3h0M199.6 132.6h0M204.9 128.8h0M192.5 138.4h0M194.9 138.4h0M195.6 138.5h0M196.7 136.6h0M193.6 140.5h0M195.5 122.9h0M201.4 126.6h0M204.9 125.4h0M203.2 123.7h0M194.3 124.5h0M191.0 122.6h0M209.2 129.0h0M211.7 126.9h0M163.7 144.1h0M154.2 150.9h0M148.0 152.3h0M159.2 148.2h0M162.6 140.7h0M152.5 140.7h0M163.2 148.0h0M163.5 143.3h0M161.8 141.9h0M159.2 150.9h0M156.2 144.8h0M155.9 141.1h0M156.4 154.6h0M149.3 147.9h0M157.5 143.4h0M167.5 147.8h0M169.8 152.4h0M170.3 144.0h0M168.9 149.1h0M162.4 142.7h0M159.5 159.0h0M166.1 161.6h0M158.7 158.5h0M165.6 158.6h0M171.8 157.6h0M172.6 154.8h0M170.8 163.6h0M158.6 158.6h0M151.8 159.2h0M145.2 157.9h0M148.6 157.4h0M150.7 160.8h0M156.6 158.5h0M151.6 163.7h0M164.0 136.3h0M162.3 138.9h0M161.3 135.6h0M159.9 137.9h0M165.0 139.9h0M145.7 142.9h0M143.2 144.2h0M147.7 145.3h0M144.4 142.7h0M144.3 143.0h0M143.8 142.0h0M171.7 166.5h0M173.6 162.9h0M171.6 171.6h0M161.0 176.6h0M178.5 170.5h0M166.5 169.6h0M169.8 170.7h0M163.7 174.1h0M168.1 171.2h0M171.5 174.5h0M179.3 172.1h0M177.4 175.3h0M167.4 173.1h0M175.1 169.9h0M180.8 171.9h0M163.0 170.0h0M177.9 171.8h0M145.9 192.0h0M146.5 185.4h0M146.2 185.4h0M147.7 186.2h0M141.7 188.2h0M145.9 184.3h0M141.8 187.2h0M143.2 185.8h0M150.6 189.9h0M173.2 185.8h0M160.9 187.5h0M176.2 189.0h0M174.1 184.2h0M173.4 190.2h0M170.6 183.6h0M164.2 188.4h0M165.0 185.9h0M154.7 203.0h0M219.8 175.9h0M214.7 175.4h0M231.2 166.8h0M229.3 170.0h0M224.0 170.9h0M216.5 158.6h0M234.7 164.8h0M220.8 167.7h0M214.5 166.1h0M232.2 174.4h0M219.3 172.3h0M231.3 178.3h0M212.5 173.0h0M222.9 157.8h0M215.8 170.1h0M231.0 165.8h0M221.4 175.1h0M217.2 176.2h0M217.9 181.2h0M219.7 172.6h0M235.3 167.5h0M227.4 161.5h0M224.6 158.0h0M227.1 165.0h0M226.4 174.3h0M212.0 173.8h0M222.4 155.5h0M216.0 162.5h0M226.9 168.1h0M232.6 176.5h0M233.3 174.7h0M233.0 161.5h0M223.6 169.0h0M231.1 163.1h0M226.0 158.8h0M223.3 163.2h0M219.7 158.8h0M223.0 149.1h0M215.8 154.9h0M217.1 158.9h0M227.3 149.7h0M229.4 149.8h0M217.9 150.7h0M219.4 147.8h0M217.6 153.0h0M226.6 146.7h0M210.1 152.0h0M222.3 145.5h0M213.2 147.6h0M220.3 148.9h0M210.4 152.4h0M217.8 148.5h0M219.1 146.7h0M228.1 167.2h0M228.7 168.7h0M241.4 167.1h0M232.0 170.8h0M234.8 166.6h0M228.1 153.4h0M225.1 153.3h0M229.2 157.4h0M228.4 156.7h0M195.0 156.8h0M204.3 159.4h0M195.5 153.0h0M197.3 155.4h0M200.2 157.5h0M203.8 153.9h0M201.0 164.8h0M200.7 168.0h0M196.6 167.8h0M193.2 175.9h0M193.7 176.1h0M196.4 174.1h0M196.9 174.3h0M195.9 177.4h0M250.0 142.2h0M249.6 143.4h0M250.5 142.0h0M243.3 138.9h0M242.9 148.6h0M254.7 143.1h0M243.8 143.8h0M250.3 145.7h0M243.8 144.1h0M240.4 148.7h0M254.4 142.7h0M251.9 139.7h0M243.4 148.2h0M248.8 145.6h0M243.8 148.7h0M249.2 143.7h0"/>
<path stroke="#a0b4d8" stroke-width="0.95" stroke-linecap="square" fill="none" d="M118.4 69.1h0M118.4 71.5h0M134.2 68.0h0M125.6 72.7h0M116.1 69.7h0M116.5 72.7h0M125.1 66.6h0M128.5 80.0h0M128.5 73.1h0M127.8 81.8h0M123.4 77.8h0M126.3 77.2h0M125.4 67.9h0M134.8 67.6h0M117.5 74.5h0M118.0 76.2h0M138.9 68.1h0M122.6 80.8h0M120.1 79.3h0M124.5 74.0h0M129.1 73.4h0M124.0 78.1h0M118.5 80.5h0M127.3 80.7h0M118.1 73.1h0M136.3 80.8h0M132.6 80.9h0M131.0 64.0h0M139.7 88.3h0M137.1 88.8h0M60.0 100.5h0M64.7 97.7h0M66.4 98.5h0M75.8 94.5h0M70.3 101.8h0M58.7 98.4h0M60.0 96.4h0M88.5 100.4h0M71.7 110.7h0M86.0 105.9h0M96.3 102.7h0M73.5 109.8h0M67.8 109.9h0M72.3 106.7h0M89.2 101.7h0M77.0 108.4h0M68.3 107.6h0M71.4 107.0h0M83.9 101.7h0M86.8 101.6h0M68.5 109.4h0M86.9 105.3h0M81.1 110.4h0M89.4 106.3h0M76.8 109.2h0M65.3 110.2h0M65.5 112.4h0M80.0 105.7h0M83.3 112.8h0M83.6 111.8h0M83.3 112.1h0M78.4 114.4h0M86.8 109.1h0M86.9 112.9h0M78.8 116.6h0M75.4 116.7h0M85.5 93.0h0M88.5 95.4h0M85.4 93.6h0M91.5 95.1h0M86.6 89.5h0M85.0 94.1h0M91.3 95.4h0M87.6 94.0h0M93.9 87.8h0M97.8 89.8h0M97.8 91.4h0M100.6 89.5h0M98.8 90.6h0M98.8 83.8h0M102.4 85.2h0M105.5 85.3h0M116.8 81.3h0M113.1 83.5h0M114.6 85.3h0M111.9 93.4h0M115.1 89.5h0M121.6 92.5h0M129.6 88.5h0M126.2 93.1h0M127.6 92.4h0M126.6 87.7h0M126.2 89.8h0M120.7 100.0h0M121.2 101.6h0M136.6 101.9h0M131.7 102.7h0M124.6 108.7h0M122.7 112.4h0M123.1 107.3h0M123.1 111.1h0M96.8 95.2h0M99.9 102.4h0M108.5 98.8h0M119.1 95.6h0M97.7 95.8h0M99.1 92.9h0M101.1 104.3h0M104.0 95.1h0M101.2 95.9h0M116.2 103.2h0M98.5 101.0h0M107.4 100.3h0M102.4 93.7h0M117.8 98.8h0M117.6 104.9h0M110.9 100.9h0M97.7 104.7h0M97.9 101.6h0M105.4 97.7h0M98.3 94.0h0M108.0 94.8h0M119.8 102.0h0M93.8 103.6h0M97.8 102.8h0M94.4 100.9h0M117.0 97.2h0M111.6 106.3h0M104.9 94.7h0M105.3 98.4h0M107.3 107.2h0M98.8 107.1h0M108.2 100.4h0M91.5 117.2h0M100.2 105.5h0M102.9 105.8h0M96.1 111.1h0M98.8 108.7h0M84.4 123.7h0M86.8 124.9h0M91.5 119.8h0M84.2 124.6h0M84.5 122.7h0M78.8 124.3h0M106.8 127.5h0M102.3 120.8h0M109.2 127.2h0M109.6 117.5h0M104.0 124.1h0M103.5 115.3h0M101.9 115.4h0M109.7 116.0h0M105.4 115.5h0M103.0 115.5h0M133.6 117.1h0M141.9 124.4h0M127.8 124.6h0M137.3 124.5h0M126.2 117.9h0M129.0 126.4h0M127.7 133.5h0M127.1 126.5h0M135.2 122.6h0M135.5 132.1h0M124.2 128.0h0M133.1 132.0h0M127.1 126.9h0M123.6 132.0h0M130.9 136.2h0M129.7 133.5h0M121.9 123.0h0M131.2 127.7h0M130.9 114.6h0M125.0 126.8h0M142.1 129.2h0M126.3 118.5h0M119.1 127.0h0M129.2 117.0h0M127.5 117.4h0M118.7 127.7h0M95.3 140.5h0M87.6 134.7h0M83.4 138.1h0M99.0 139.4h0M88.7 141.4h0M92.1 141.2h0M91.9 137.7h0M89.5 134.9h0M87.1 137.2h0M90.1 137.7h0M83.4 135.3h0M98.0 130.5h0M84.3 134.4h0M80.7 135.1h0M98.4 139.3h0M85.5 136.5h0M85.0 132.6h0M80.1 141.6h0M50.7 152.6h0M68.8 152.6h0M67.6 152.8h0M55.4 152.0h0M51.5 149.6h0M63.4 154.0h0M58.9 154.2h0M55.4 159.1h0M63.7 156.5h0M50.1 153.8h0M60.2 150.1h0M52.1 149.4h0M75.3 154.5h0M78.1 158.6h0M78.4 151.1h0M88.2 149.2h0M82.1 153.7h0M74.3 156.9h0M95.8 154.4h0M95.9 155.9h0M73.9 159.0h0M92.2 151.1h0M83.6 160.3h0M84.6 149.0h0M72.4 153.7h0M81.4 161.5h0M84.7 159.9h0M86.4 152.2h0M84.4 160.0h0M91.0 152.9h0M87.7 159.1h0M81.0 163.2h0M85.5 160.9h0M88.0 163.2h0M92.7 159.7h0M82.9 164.1h0M73.3 162.0h0M70.9 164.7h0M71.6 162.5h0M66.8 163.6h0M73.9 160.6h0M74.1 165.0h0M72.5 163.6h0M71.1 163.3h0M118.0 149.7h0M122.2 149.2h0M122.0 146.8h0M121.1 148.0h0M115.5 150.1h0M115.1 151.6h0M124.3 145.7h0M122.2 146.9h0M130.3 150.3h0M130.7 165.7h0M108.1 163.8h0M112.3 170.8h0M110.9 164.5h0M119.4 164.2h0M111.6 163.0h0M116.9 166.6h0M113.6 165.5h0M109.9 166.6h0M120.3 165.5h0M103.9 170.8h0M112.8 171.0h0M107.1 151.8h0M98.6 155.3h0M107.8 150.1h0M97.3 154.4h0M97.0 153.7h0M99.7 148.4h0M101.5 183.5h0M112.8 184.2h0M115.7 194.2h0M124.3 195.1h0M126.8 192.2h0M116.8 181.7h0M128.7 188.5h0M110.8 191.4h0M114.5 191.1h0M134.4 180.3h0M140.6 193.5h0M122.8 184.8h0M146.9 187.9h0M124.0 188.2h0M126.4 197.0h0M121.7 197.1h0M127.9 186.8h0M112.3 183.4h0M108.4 193.8h0M123.6 188.1h0M136.0 188.1h0M109.3 196.2h0M103.3 189.5h0M105.5 183.6h0M136.8 188.9h0M138.1 195.9h0M134.1 187.2h0M125.5 180.6h0M121.1 182.6h0M138.0 187.6h0M131.8 190.4h0M106.7 182.2h0M130.5 181.7h0M115.5 179.3h0M102.9 185.4h0M142.0 188.6h0M132.1 190.6h0M137.7 194.4h0M137.9 180.2h0M104.0 190.5h0M106.1 192.6h0M107.7 189.4h0M135.2 189.6h0M105.9 184.4h0M136.7 187.5h0M145.3 189.2h0M134.2 189.2h0M135.1 191.9h0M137.0 189.2h0M124.1 181.3h0M144.4 185.4h0M145.8 188.5h0M146.1 182.0h0M143.2 187.1h0M127.6 210.7h0M126.1 207.5h0M126.3 211.8h0M133.4 207.6h0M128.6 208.2h0M128.0 208.0h0M127.9 209.8h0M145.8 220.0h0M130.0 222.8h0M140.3 217.4h0M134.8 217.2h0M141.9 216.3h0M139.9 221.7h0M142.7 218.7h0M143.7 218.9h0M136.7 218.6h0M146.5 214.4h0M142.3 214.2h0M187.3 79.3h0M188.2 81.4h0M182.0 74.4h0M188.2 78.7h0M176.6 83.5h0M186.5 81.5h0M186.4 73.4h0M178.8 78.5h0M183.7 77.5h0M176.8 78.4h0M195.3 79.1h0M199.7 81.9h0M195.7 77.1h0M199.0 86.4h0M194.1 76.7h0M211.7 86.9h0M226.1 90.5h0M225.7 90.9h0M155.6 91.9h0M150.4 96.0h0M152.8 99.6h0M158.5 103.9h0M157.7 107.4h0M168.3 110.3h0M162.3 111.9h0M167.0 109.8h0M171.1 113.9h0M165.5 124.8h0M186.8 101.3h0M180.9 103.9h0M185.8 100.5h0M191.1 112.4h0M194.0 109.7h0M203.7 109.7h0M211.0 100.5h0M210.6 95.4h0M211.1 98.2h0M209.8 97.2h0M206.4 95.7h0M213.6 97.7h0M222.9 95.5h0M221.2 114.7h0M231.9 112.5h0M231.2 123.2h0M233.3 112.2h0M238.7 113.4h0M234.8 124.4h0M235.6 123.0h0M238.6 118.7h0M236.3 122.2h0M195.1 113.6h0M194.5 114.1h0M197.2 132.8h0M186.2 133.0h0M192.7 133.8h0M198.9 130.1h0M202.8 127.5h0M208.4 130.9h0M213.4 135.9h0M202.8 135.1h0M201.9 137.1h0M211.5 138.7h0M210.4 129.2h0M204.8 132.9h0M187.3 137.8h0M190.9 140.8h0M190.6 139.4h0M189.2 136.0h0M194.1 141.7h0M206.7 125.3h0M202.4 126.7h0M184.4 125.0h0M194.9 122.6h0M210.5 128.1h0M209.4 129.9h0M162.6 143.2h0M159.3 148.9h0M154.8 148.7h0M155.0 140.1h0M157.3 149.5h0M154.5 138.7h0M158.5 150.9h0M156.9 151.8h0M162.1 152.1h0M151.1 150.6h0M158.9 150.2h0M165.5 142.6h0M160.4 144.6h0M171.4 148.0h0M165.0 151.6h0M172.3 146.4h0M163.6 160.2h0M164.4 160.9h0M172.8 159.7h0M164.8 158.6h0M167.6 161.7h0M157.2 156.4h0M171.3 157.7h0M160.7 154.0h0M173.4 162.0h0M163.4 155.7h0M168.1 162.6h0M157.7 163.5h0M168.6 163.3h0M161.6 158.5h0M163.1 163.9h0M153.1 166.3h0M154.5 162.7h0M146.9 156.2h0M150.2 166.5h0M144.5 161.4h0M144.8 159.4h0M148.1 157.7h0M144.9 144.3h0M145.3 142.3h0M165.1 176.9h0M175.1 170.1h0M168.4 173.0h0M165.6 176.4h0M168.0 174.8h0M165.0 175.1h0M170.9 173.4h0M172.7 172.1h0M172.3 173.2h0M171.8 171.9h0M179.1 173.0h0M161.8 173.3h0M180.1 174.1h0M159.0 173.5h0M169.2 169.0h0M161.5 175.5h0M170.7 170.6h0M174.6 175.0h0M170.1 169.0h0M143.0 184.8h0M147.8 188.4h0M147.0 185.7h0M145.8 186.0h0M148.1 185.9h0M144.4 187.2h0M153.1 186.7h0M142.0 190.7h0M171.5 188.3h0M173.4 185.0h0M172.2 188.6h0M155.5 202.2h0M232.0 162.5h0M216.3 167.6h0M221.5 157.7h0M219.0 163.5h0M214.9 166.9h0M213.8 176.9h0M219.2 171.1h0M224.5 170.6h0M219.3 162.4h0M227.3 165.2h0M219.8 179.7h0M221.9 159.4h0M219.7 178.6h0M217.8 168.9h0M214.4 150.3h0M229.8 149.6h0M217.4 154.8h0M227.0 156.3h0M222.2 147.7h0M227.7 151.1h0M219.1 155.0h0M217.8 152.5h0M219.4 157.2h0M233.1 169.9h0M221.1 153.0h0M199.9 156.6h0M195.8 152.3h0M192.9 156.1h0M205.1 157.1h0M197.8 159.0h0M203.1 154.8h0M196.7 165.7h0M195.4 169.2h0M196.7 167.7h0M200.3 168.8h0M241.0 142.4h0M238.7 145.5h0M255.4 144.7h0M238.6 148.1h0M239.7 140.0h0M238.6 146.9h0M249.6 141.4h0M240.8 148.2h0M254.7 145.4h0M251.9 144.8h0"/>
<path stroke="#5a9a40" stroke-width="0.95" stroke-linecap="square" fill="none" d="M120.8 77.3h0M132.0 68.1h0M124.1 77.2h0M122.9 78.1h0M133.0 79.7h0M134.7 80.3h0M77.8 104.3h0M66.7 108.2h0M84.1 110.1h0M95.3 100.4h0M62.9 109.3h0M73.3 117.6h0M78.5 117.9h0M77.6 114.4h0M80.0 90.4h0M100.8 95.5h0M100.3 93.2h0M110.9 91.1h0M131.8 98.3h0M123.9 112.8h0M127.7 111.9h0M115.4 103.9h0M103.6 100.1h0M98.5 103.4h0M101.6 107.0h0M107.7 103.3h0M113.0 98.6h0M90.6 119.6h0M76.8 123.4h0M79.0 121.8h0M108.4 118.9h0M107.5 116.3h0M108.2 119.7h0M132.4 126.0h0M140.7 125.0h0M128.9 127.5h0M130.3 137.3h0M133.9 117.5h0M127.3 122.6h0M126.0 133.0h0M142.6 124.1h0M131.6 122.6h0M135.6 124.9h0M91.7 139.1h0M92.7 130.9h0M98.9 135.1h0M104.1 135.3h0M60.6 150.8h0M66.8 151.1h0M52.6 149.8h0M64.2 149.9h0M59.2 150.0h0M59.4 147.1h0M78.5 156.0h0M86.4 150.7h0M86.8 161.0h0M92.2 155.3h0M80.3 162.2h0M81.2 160.4h0M82.5 163.2h0M67.0 159.6h0M73.3 164.6h0M121.0 146.8h0M119.5 150.9h0M125.2 149.1h0M97.8 150.0h0M105.1 150.6h0M104.6 183.5h0M117.3 190.4h0M131.3 192.3h0M126.4 178.9h0M103.1 191.8h0M133.4 182.1h0M128.9 186.5h0M151.4 185.8h0M135.7 209.6h0M185.7 77.5h0M196.1 83.8h0M227.0 88.3h0M167.4 110.5h0M153.0 119.7h0M150.8 122.8h0M184.9 100.9h0M187.8 109.1h0M215.1 100.1h0M211.6 97.3h0M213.4 108.3h0M219.9 115.8h0M228.5 120.5h0M232.9 117.6h0M234.9 115.3h0M226.7 116.2h0M198.4 124.5h0M188.7 130.2h0M198.0 131.8h0M210.4 139.5h0M211.7 133.3h0M194.3 134.5h0M192.5 142.8h0M201.2 121.5h0M194.2 124.4h0M213.2 127.0h0M164.8 143.7h0M162.5 146.3h0M151.1 147.1h0M164.8 147.8h0M172.9 161.8h0M173.0 159.2h0M168.7 155.4h0M169.0 157.8h0M156.0 157.1h0M164.4 140.3h0M164.1 137.9h0M178.1 174.6h0M178.2 170.4h0M174.6 176.6h0M170.5 175.1h0M158.3 174.0h0M149.1 187.6h0M175.0 189.6h0M219.6 163.6h0M211.0 164.0h0M213.0 175.6h0M226.7 153.3h0M241.0 170.7h0M200.9 154.4h0M197.5 160.4h0M245.0 139.6h0M234.3 144.4h0M252.7 141.0h0M245.7 144.4h0"/>
<path stroke="#a0a840" stroke-width="0.95" stroke-linecap="square" fill="none" d="M131.1 72.3h0M133.2 82.3h0M136.2 73.5h0M120.7 69.2h0M121.5 75.2h0M137.5 67.4h0M124.1 66.4h0M137.1 78.6h0M126.5 76.0h0M132.0 73.1h0M128.6 83.4h0M121.4 78.2h0M136.5 77.0h0M125.1 72.7h0M123.3 75.2h0M136.4 71.7h0M129.3 78.6h0M116.4 74.7h0M126.4 65.0h0M129.2 74.2h0M135.6 64.2h0M138.2 89.8h0M140.0 87.0h0M68.4 97.4h0M75.7 97.6h0M60.6 99.3h0M76.5 96.0h0M79.0 111.5h0M78.2 108.8h0M80.9 111.0h0M65.1 110.4h0M95.4 102.0h0M77.5 107.8h0M78.9 105.7h0M75.4 113.5h0M86.8 110.4h0M71.7 119.4h0M81.7 113.7h0M80.7 113.5h0M73.8 113.3h0M79.1 113.5h0M71.2 119.4h0M72.8 118.9h0M82.8 113.4h0M82.5 115.4h0M96.0 96.9h0M80.9 88.4h0M87.6 94.5h0M79.0 88.0h0M86.6 88.6h0M83.9 91.2h0M91.7 90.5h0M97.2 98.0h0M94.5 93.8h0M88.2 89.5h0M93.8 79.6h0M95.9 85.3h0M97.5 84.7h0M92.4 86.1h0M99.7 85.9h0M102.6 90.1h0M92.4 81.4h0M98.3 89.2h0M101.6 87.2h0M106.7 81.3h0M104.3 85.3h0M101.9 84.3h0M116.1 82.5h0M110.0 94.0h0M110.4 91.8h0M122.2 88.3h0M125.9 92.1h0M122.3 96.0h0M118.9 103.6h0M131.7 103.1h0M126.6 101.3h0M137.6 101.3h0M128.0 98.5h0M124.1 105.0h0M123.4 104.8h0M124.2 98.1h0M123.3 100.5h0M118.4 105.9h0M129.6 113.5h0M118.6 107.4h0M125.8 109.7h0M120.1 109.0h0M118.3 101.9h0M106.4 103.8h0M96.2 102.6h0M116.4 100.1h0M118.0 105.0h0M115.9 101.9h0M100.5 104.3h0M102.4 103.0h0M94.9 100.1h0M105.3 106.1h0M109.4 96.0h0M109.4 93.5h0M97.4 94.9h0M117.7 103.0h0M101.3 95.7h0M96.9 106.3h0M106.9 104.3h0M101.8 96.4h0M101.4 107.6h0M98.9 105.6h0M99.9 104.0h0M110.4 100.4h0M95.0 112.0h0M93.9 114.5h0M100.4 112.7h0M90.9 114.6h0M95.0 117.1h0M94.5 110.4h0M99.6 109.6h0M90.9 114.3h0M75.2 88.7h0M71.9 88.8h0M83.1 123.7h0M96.5 121.4h0M83.1 120.6h0M85.1 125.3h0M86.5 122.8h0M77.7 126.5h0M97.9 120.0h0M94.1 122.4h0M87.5 118.8h0M87.9 119.0h0M113.1 119.3h0M106.2 121.6h0M104.1 127.3h0M108.2 121.3h0M104.4 125.1h0M108.4 114.9h0M106.7 123.9h0M105.5 127.3h0M106.7 115.0h0M111.9 121.3h0M104.8 117.5h0M101.2 126.1h0M110.3 125.9h0M125.2 118.8h0M135.2 124.6h0M128.6 117.7h0M136.2 118.8h0M127.7 126.1h0M123.8 125.7h0M140.6 133.3h0M125.2 126.1h0M123.8 124.4h0M134.6 119.5h0M132.9 117.8h0M135.1 119.9h0M135.1 135.1h0M128.4 121.3h0M119.4 121.7h0M128.8 121.3h0M132.3 129.4h0M130.9 116.4h0M136.2 133.4h0M129.4 128.2h0M126.7 131.8h0M134.0 130.5h0M126.0 119.8h0M132.8 121.0h0M133.2 119.6h0M142.1 122.7h0M138.3 120.6h0M129.3 119.4h0M120.1 126.4h0M127.8 125.7h0M129.2 126.6h0M124.3 116.3h0M138.3 134.7h0M123.1 123.5h0M123.4 119.1h0M87.9 138.5h0M76.3 135.1h0M90.6 131.9h0M98.6 137.3h0M91.9 134.6h0M84.9 137.9h0M82.1 133.1h0M95.0 138.9h0M86.8 134.2h0M103.6 135.5h0M105.6 137.9h0M78.4 140.0h0M90.8 138.6h0M80.5 136.7h0M87.5 134.8h0M95.3 133.0h0M87.7 135.7h0M84.0 139.4h0M67.4 153.3h0M65.5 147.7h0M60.5 147.6h0M57.2 155.1h0M49.1 152.8h0M58.8 148.9h0M60.2 151.9h0M67.4 151.9h0M59.6 157.0h0M53.5 155.9h0M67.0 150.6h0M49.3 152.7h0M50.4 152.2h0M59.3 146.3h0M91.8 154.1h0M84.5 148.9h0M77.7 152.3h0M85.3 160.1h0M87.0 148.5h0M89.7 155.5h0M86.5 149.0h0M82.6 159.1h0M90.8 159.4h0M76.8 154.2h0M84.1 158.6h0M86.2 160.8h0M73.9 152.4h0M76.5 152.5h0M86.2 156.5h0M81.6 161.3h0M79.5 156.6h0M85.5 153.8h0M92.8 161.1h0M89.7 160.7h0M82.8 164.8h0M83.7 165.1h0M91.4 163.6h0M90.6 165.3h0M90.5 163.5h0M71.6 160.4h0M72.0 165.7h0M64.9 165.2h0M131.2 146.8h0M116.1 148.4h0M112.7 148.0h0M117.6 148.3h0M130.3 147.5h0M127.1 148.8h0M122.8 149.3h0M113.2 162.2h0M124.6 164.7h0M126.7 163.6h0M118.5 159.5h0M119.2 170.1h0M112.0 165.4h0M119.8 170.9h0M125.4 165.2h0M124.2 161.1h0M103.8 165.6h0M123.7 168.2h0M125.5 170.3h0M119.6 167.1h0M129.3 164.7h0M118.4 159.8h0M97.2 150.9h0M102.4 149.3h0M102.7 154.6h0M128.0 190.3h0M114.9 193.8h0M129.0 196.2h0M121.8 178.6h0M115.5 182.9h0M126.1 185.4h0M109.5 194.2h0M126.1 188.0h0M137.1 191.3h0M127.5 198.1h0M122.1 187.0h0M137.1 181.1h0M146.3 187.7h0M113.0 192.4h0M121.2 180.3h0M127.4 178.2h0M138.9 189.8h0M133.1 194.8h0M114.2 182.6h0M131.8 189.5h0M122.8 189.2h0M143.3 192.6h0M137.6 189.3h0M119.9 191.6h0M123.1 179.3h0M128.1 190.7h0M103.3 191.0h0M135.0 185.0h0M110.3 188.1h0M118.0 193.6h0M107.5 183.8h0M130.8 191.0h0M114.3 190.1h0M117.3 189.7h0M103.4 187.6h0M112.5 184.6h0M128.7 189.3h0M112.4 188.4h0M119.8 189.3h0M116.2 192.7h0M141.4 184.9h0M104.3 187.8h0M121.4 192.5h0M113.4 186.1h0M102.4 189.9h0M148.5 185.6h0M145.0 188.0h0M146.7 187.0h0M149.8 187.6h0M148.8 183.2h0M129.4 207.6h0M124.1 210.1h0M137.3 216.2h0M134.7 223.5h0M144.3 217.3h0M137.2 222.5h0M133.1 217.0h0M130.9 221.6h0M148.7 214.0h0M146.1 214.0h0M174.4 81.3h0M174.9 76.9h0M180.4 79.0h0M186.7 83.7h0M180.7 82.8h0M186.5 82.6h0M186.0 79.1h0M188.4 80.6h0M186.0 73.1h0M177.8 75.7h0M197.0 75.8h0M199.6 80.7h0M195.2 78.9h0M204.9 88.1h0M158.1 93.2h0M158.7 96.9h0M163.0 109.3h0M165.2 122.8h0M168.4 124.3h0M153.2 120.0h0M161.0 121.4h0M167.5 123.2h0M161.5 118.0h0M154.5 120.1h0M183.5 101.5h0M192.2 108.1h0M198.3 112.8h0M202.7 114.0h0M214.7 99.1h0M216.6 98.1h0M214.9 107.5h0M212.2 108.7h0M210.3 108.9h0M220.8 114.2h0M221.3 116.0h0M228.2 122.6h0M232.3 125.1h0M232.0 114.2h0M235.6 114.1h0M236.0 114.2h0M230.1 120.7h0M195.7 113.4h0M196.3 125.3h0M199.6 133.3h0M189.1 133.5h0M197.4 126.3h0M195.3 132.2h0M205.3 128.0h0M191.2 135.0h0M198.7 133.3h0M194.6 135.3h0M201.8 131.2h0M191.9 126.1h0M187.9 130.0h0M212.0 129.7h0M207.9 139.7h0M201.3 132.9h0M202.5 140.7h0M200.8 136.0h0M214.4 135.6h0M192.6 137.0h0M194.7 137.9h0M193.5 136.6h0M191.6 137.2h0M194.7 136.1h0M188.1 136.4h0M189.6 133.7h0M191.8 140.3h0M202.6 125.4h0M185.0 125.7h0M196.4 122.3h0M206.9 127.9h0M208.1 128.7h0M210.3 131.1h0M206.6 127.6h0M149.7 145.1h0M145.8 146.7h0M157.4 139.9h0M149.3 142.1h0M152.0 152.8h0M157.5 140.0h0M161.4 152.0h0M162.0 147.2h0M155.0 143.7h0M162.0 142.9h0M157.5 144.8h0M155.6 140.1h0M158.2 149.0h0M163.0 148.9h0M171.1 150.0h0M166.9 144.8h0M172.5 142.1h0M171.3 149.4h0M167.5 149.8h0M169.4 147.1h0M164.7 164.4h0M172.1 160.9h0M165.9 155.8h0M162.9 151.5h0M162.8 151.5h0M162.7 160.6h0M164.7 163.5h0M168.6 160.8h0M163.7 164.5h0M164.0 155.0h0M164.0 157.6h0M149.5 158.5h0M147.0 164.7h0M155.0 162.6h0M148.4 160.7h0M149.5 158.2h0M163.5 139.8h0M142.9 143.1h0M172.0 175.3h0M159.4 176.7h0M165.6 172.8h0M175.3 171.5h0M167.4 174.8h0M160.4 170.6h0M172.1 170.5h0M163.5 170.2h0M167.9 174.8h0M174.3 169.4h0M165.7 177.0h0M179.5 171.4h0M149.6 183.8h0M149.1 191.0h0M145.1 184.6h0M142.8 184.3h0M141.2 186.9h0M167.9 184.2h0M174.0 188.6h0M169.5 190.0h0M175.4 188.9h0M173.7 189.1h0M170.8 186.2h0M175.9 186.2h0M151.7 200.6h0M227.4 166.9h0M211.3 160.7h0M214.9 160.8h0M224.8 180.0h0M223.3 181.6h0M214.4 175.0h0M218.1 174.3h0M220.5 177.1h0M232.5 171.2h0M229.7 166.5h0M224.8 169.8h0M223.5 158.0h0M227.7 165.4h0M234.9 169.7h0M223.2 179.2h0M215.0 179.4h0M229.4 157.2h0M218.2 155.9h0M221.5 171.1h0M226.6 158.7h0M220.4 162.1h0M209.8 170.7h0M219.9 173.0h0M218.3 167.2h0M228.6 165.7h0M219.0 154.3h0M225.5 149.4h0M217.6 155.5h0M216.8 148.5h0M215.3 156.6h0M232.4 166.2h0M230.5 167.1h0M232.9 168.2h0M232.2 155.1h0M227.2 157.0h0M195.9 159.0h0M196.5 154.9h0M192.8 156.0h0M208.6 157.0h0M192.4 157.1h0M207.9 154.2h0M203.1 155.6h0M208.1 155.4h0M201.7 155.4h0M197.5 168.4h0M194.5 176.6h0M194.9 173.8h0M248.2 146.8h0M250.1 140.8h0M252.3 139.6h0M243.1 146.6h0M246.3 148.9h0M239.8 140.1h0M250.3 142.6h0M237.3 141.0h0M244.3 140.4h0M251.0 146.2h0"/>
<path stroke="#98b8d8" stroke-width="0.95" stroke-linecap="square" fill="none" d="M139.0 78.4h0M131.0 65.4h0M121.5 72.8h0M130.9 69.5h0M135.1 80.2h0M125.9 79.9h0M137.5 67.9h0M119.5 69.5h0M128.0 74.7h0M138.1 70.5h0M128.9 68.3h0M115.5 70.8h0M137.7 69.6h0M116.5 74.6h0M125.9 72.2h0M140.3 69.4h0M128.4 72.0h0M139.6 77.5h0M132.4 75.6h0M119.9 70.2h0M124.8 78.2h0M137.0 92.5h0M137.5 89.1h0M141.1 89.0h0M137.0 92.8h0M55.8 96.6h0M61.6 101.6h0M77.6 111.2h0M86.3 102.0h0M89.1 104.9h0M70.4 112.2h0M94.6 104.5h0M89.9 101.4h0M85.7 101.7h0M69.5 106.8h0M89.9 105.1h0M78.4 105.9h0M69.0 107.9h0M62.5 110.9h0M89.1 106.4h0M88.2 103.6h0M79.2 110.3h0M94.5 100.1h0M66.8 108.4h0M87.3 106.7h0M75.6 109.7h0M95.7 105.4h0M77.4 114.2h0M69.3 116.9h0M86.2 109.0h0M75.5 119.4h0M75.7 113.3h0M85.9 110.0h0M76.2 114.9h0M78.4 117.6h0M86.4 111.2h0M78.3 111.7h0M78.3 113.0h0M78.4 117.1h0M90.1 94.3h0M90.6 96.5h0M82.3 88.5h0M99.9 96.7h0M92.4 91.0h0M92.2 91.4h0M100.4 95.8h0M93.6 90.8h0M81.8 88.1h0M88.7 90.9h0M80.8 89.2h0M95.8 85.2h0M97.1 82.8h0M101.1 91.8h0M97.6 84.7h0M96.2 86.6h0M101.5 89.8h0M102.8 84.2h0M104.8 80.4h0M105.3 91.2h0M103.6 90.6h0M104.7 92.5h0M105.8 88.7h0M104.8 85.6h0M109.6 95.5h0M109.1 89.0h0M111.7 94.6h0M117.6 83.5h0M111.8 86.9h0M114.2 86.6h0M127.1 86.4h0M122.8 95.0h0M124.5 94.9h0M129.0 100.5h0M121.9 102.1h0M124.2 100.2h0M126.5 100.3h0M124.0 101.6h0M136.3 102.7h0M118.6 99.9h0M128.5 112.3h0M131.1 112.3h0M122.0 105.4h0M129.7 112.8h0M127.3 109.0h0M115.0 95.1h0M105.6 100.8h0M101.9 101.9h0M111.8 101.8h0M101.3 99.9h0M102.6 108.1h0M98.0 93.0h0M112.1 101.5h0M112.0 98.6h0M113.9 100.6h0M115.2 106.1h0M100.8 100.1h0M99.7 99.7h0M96.3 100.0h0M113.4 101.8h0M114.3 95.8h0M114.8 94.8h0M102.0 92.9h0M105.1 98.5h0M108.3 108.6h0M106.0 98.7h0M108.3 106.8h0M114.1 103.8h0M112.9 106.4h0M97.2 103.0h0M111.9 98.0h0M105.8 93.2h0M112.0 94.2h0M114.5 105.4h0M109.3 96.8h0M120.3 100.6h0M102.9 93.0h0M101.4 106.7h0M91.6 112.8h0M94.8 116.2h0M96.9 110.5h0M100.7 107.6h0M99.3 104.8h0M96.6 112.3h0M93.4 110.1h0M99.9 112.8h0M72.9 88.1h0M79.5 124.9h0M90.8 122.7h0M81.6 126.1h0M90.7 120.6h0M91.2 116.9h0M76.9 120.9h0M88.1 121.7h0M88.0 118.9h0M81.6 123.6h0M87.3 120.8h0M106.2 114.0h0M104.2 123.3h0M101.0 120.7h0M106.3 121.4h0M106.3 126.1h0M133.5 120.1h0M126.6 129.7h0M132.7 131.5h0M129.6 127.1h0M129.8 125.1h0M128.4 120.1h0M130.9 129.0h0M127.6 134.3h0M132.6 132.6h0M128.7 133.2h0M124.1 132.1h0M126.6 133.8h0M123.6 117.5h0M123.4 122.6h0M126.7 118.4h0M128.4 117.6h0M132.4 116.5h0M135.4 124.7h0M124.1 120.8h0M138.4 121.9h0M123.9 135.9h0M106.5 133.8h0M86.4 141.3h0M99.3 138.0h0M96.4 140.5h0M91.7 130.8h0M91.9 140.4h0M84.4 136.2h0M87.4 134.1h0M102.3 137.3h0M101.8 135.8h0M80.9 136.1h0M97.9 136.5h0M102.6 137.4h0M100.0 134.8h0M73.5 137.3h0M107.8 133.9h0M104.1 134.6h0M85.8 133.6h0M98.1 134.9h0M94.1 134.5h0M106.6 135.8h0M113.2 140.8h0M58.4 157.3h0M58.7 146.8h0M68.0 151.8h0M63.1 150.2h0M65.9 155.9h0M66.7 150.1h0M59.4 146.1h0M61.2 158.6h0M51.6 150.4h0M60.8 157.3h0M54.2 154.9h0M54.4 158.7h0M56.4 158.1h0M68.0 154.9h0M53.9 150.9h0M80.3 149.5h0M83.3 156.7h0M88.3 153.3h0M77.4 156.9h0M89.2 151.4h0M81.0 162.1h0M92.8 159.1h0M90.2 155.4h0M81.2 153.8h0M81.8 160.0h0M81.9 156.2h0M86.6 161.4h0M90.1 158.0h0M90.3 158.7h0M84.9 153.8h0M87.0 163.1h0M94.2 161.4h0M69.7 168.5h0M71.5 168.3h0M67.0 165.1h0M71.1 166.8h0M67.6 167.3h0M68.8 161.1h0M70.8 164.2h0M128.5 146.5h0M122.4 145.6h0M117.6 147.0h0M117.8 150.8h0M128.7 146.1h0M123.9 149.4h0M123.2 168.3h0M117.3 165.0h0M116.3 166.9h0M119.4 163.7h0M127.4 165.4h0M112.4 165.2h0M120.9 162.3h0M125.0 170.1h0M121.0 168.1h0M107.9 166.0h0M104.9 165.2h0M104.8 153.0h0M127.0 179.4h0M103.9 185.8h0M110.6 183.3h0M111.7 188.6h0M123.8 181.8h0M106.8 187.8h0M114.6 189.0h0M124.6 190.3h0M121.8 186.9h0M142.4 185.1h0M112.5 180.0h0M146.5 183.6h0M145.3 191.4h0M118.3 181.3h0M105.8 182.3h0M129.8 195.7h0M105.0 183.3h0M114.4 184.1h0M126.7 194.0h0M125.0 182.1h0M115.2 193.6h0M118.1 180.6h0M123.8 185.8h0M108.2 195.3h0M131.7 184.1h0M125.7 185.9h0M110.2 191.4h0M151.0 187.8h0M150.0 187.4h0M146.5 189.4h0M145.8 181.8h0M146.5 187.2h0M145.6 185.3h0M129.3 209.0h0M133.3 217.3h0M147.8 217.5h0M140.2 222.5h0M144.5 219.7h0M136.1 218.4h0M147.3 217.1h0M174.4 79.1h0M184.3 82.6h0M184.3 80.7h0M184.3 82.1h0M188.6 81.0h0M186.5 81.9h0M176.2 79.0h0M183.3 80.7h0M180.5 84.3h0M179.9 78.3h0M183.7 73.4h0M185.0 84.5h0M173.8 77.1h0M200.1 81.1h0M197.5 85.2h0M196.8 81.8h0M199.3 78.0h0M215.1 88.8h0M225.7 88.8h0M228.8 88.8h0M159.2 97.0h0M152.4 107.7h0M165.2 112.9h0M165.5 115.2h0M170.6 113.4h0M171.5 113.2h0M170.3 114.3h0M159.9 121.2h0M156.8 122.9h0M155.8 125.7h0M162.5 123.8h0M183.2 102.9h0M179.3 101.1h0M188.8 110.9h0M205.4 111.2h0M203.6 110.6h0M203.7 110.0h0M201.7 112.2h0M214.2 95.2h0M215.0 98.4h0M217.4 96.7h0M226.5 115.5h0M239.6 116.1h0M229.5 121.2h0M239.0 121.3h0M233.6 115.5h0M231.3 122.9h0M237.2 124.7h0M226.6 118.6h0M233.4 124.4h0M235.0 121.2h0M235.1 125.0h0M233.1 124.2h0M238.1 117.5h0M190.4 123.1h0M186.3 127.6h0M189.1 130.6h0M195.4 134.7h0M191.7 132.1h0M189.0 131.1h0M196.2 122.4h0M185.7 128.2h0M187.7 127.6h0M198.1 133.4h0M195.6 133.6h0M199.9 128.5h0M208.4 134.2h0M199.8 131.8h0M212.4 137.2h0M213.3 131.9h0M199.7 134.8h0M210.5 138.8h0M209.2 132.7h0M188.5 139.0h0M192.5 138.6h0M189.3 142.4h0M194.8 135.6h0M190.1 140.9h0M197.2 138.8h0M190.4 138.8h0M188.1 135.5h0M200.3 121.1h0M203.0 121.0h0M199.7 125.3h0M195.2 123.3h0M191.7 125.6h0M190.4 123.0h0M210.0 128.3h0M212.2 125.8h0M212.7 126.3h0M148.6 146.7h0M160.8 140.7h0M147.2 145.3h0M162.9 149.8h0M150.0 140.1h0M153.4 144.7h0M152.2 142.6h0M152.2 150.3h0M155.8 144.2h0M163.6 145.6h0M163.6 143.4h0M168.3 143.3h0M172.3 145.5h0M161.8 148.1h0M167.9 142.0h0M161.9 153.7h0M163.9 163.8h0M159.9 164.7h0M170.7 160.3h0M166.9 156.2h0M168.4 159.6h0M159.6 154.0h0M170.6 159.3h0M165.3 151.2h0M164.7 162.6h0M171.5 161.2h0M166.0 152.3h0M165.3 163.9h0M157.9 159.7h0M150.8 158.9h0M150.0 158.4h0M152.8 159.6h0M148.4 156.5h0M152.2 165.8h0M147.3 155.8h0M153.2 158.8h0M153.7 163.9h0M147.8 155.6h0M155.3 159.6h0M163.2 137.0h0M163.7 142.5h0M148.4 143.1h0M173.7 162.6h0M173.3 163.9h0M172.7 174.0h0M175.9 172.0h0M166.8 178.1h0M171.5 176.6h0M174.4 170.3h0M174.2 170.5h0M161.6 173.1h0M167.0 174.2h0M176.6 170.1h0M177.2 176.7h0M173.3 169.8h0M164.0 173.1h0M165.2 177.8h0M142.8 183.6h0M143.8 190.9h0M150.9 188.8h0M145.0 187.8h0M150.4 183.8h0M144.4 184.0h0M145.4 184.5h0M151.5 188.5h0M170.5 184.6h0M164.4 185.5h0M169.3 184.2h0M176.7 186.4h0M167.8 187.2h0M161.9 188.1h0M176.9 187.4h0M219.3 178.0h0M222.4 174.5h0M230.2 173.4h0M226.6 159.0h0M228.9 157.3h0M221.5 156.8h0M227.2 175.4h0M213.9 163.7h0M235.3 168.0h0M223.1 164.3h0M228.9 174.8h0M231.8 161.3h0M227.9 180.1h0M220.0 177.9h0M224.9 158.0h0M213.2 165.3h0M222.9 154.8h0M212.0 155.0h0M214.2 154.3h0M221.9 148.4h0M215.4 151.5h0M219.4 151.5h0M225.3 152.4h0M218.3 148.9h0M220.1 154.5h0M226.2 156.6h0M229.2 168.4h0M237.9 166.3h0M245.2 171.1h0M242.1 169.9h0M227.9 156.9h0M221.1 156.4h0M208.7 156.5h0M196.0 157.4h0M193.6 156.5h0M202.5 156.9h0M192.8 156.3h0M201.8 159.9h0M194.9 156.4h0M200.0 166.6h0M195.0 165.9h0M198.6 176.9h0M198.8 176.6h0M197.2 174.2h0M245.1 147.5h0M249.2 144.7h0M245.1 149.3h0M248.2 143.1h0M252.6 144.0h0M249.1 146.4h0M238.2 139.6h0M251.7 146.1h0M250.8 139.9h0M243.5 148.1h0"/>
<path stroke="#b058b8" stroke-width="0.95" stroke-linecap="square" fill="none" d="M139.1 69.2h0M139.3 73.8h0M134.4 68.0h0M135.9 66.0h0M138.6 93.1h0M82.9 98.9h0M78.1 103.4h0M85.5 106.0h0M96.2 102.2h0M75.9 111.0h0M75.3 108.2h0M87.8 109.0h0M83.1 108.5h0M93.9 90.9h0M96.3 82.4h0M101.2 79.8h0M105.8 93.4h0M132.4 106.2h0M127.7 110.4h0M99.3 105.4h0M103.4 95.0h0M116.8 105.1h0M105.9 95.5h0M99.0 109.2h0M72.5 86.8h0M82.4 125.5h0M79.7 125.1h0M100.3 126.2h0M131.0 119.3h0M132.9 124.6h0M125.1 123.8h0M137.0 124.1h0M138.4 123.7h0M122.7 119.0h0M124.9 131.4h0M102.1 132.1h0M99.0 140.9h0M87.8 137.8h0M100.9 133.0h0M100.1 137.4h0M56.7 155.7h0M62.4 146.5h0M56.9 147.7h0M67.5 153.2h0M56.3 155.6h0M78.9 157.6h0M75.2 152.6h0M81.8 161.9h0M94.3 156.3h0M91.9 165.2h0M85.2 165.0h0M87.3 159.6h0M81.7 161.6h0M64.4 164.5h0M123.4 148.3h0M113.7 146.3h0M103.9 168.9h0M112.9 165.6h0M109.6 167.2h0M124.8 168.9h0M103.4 148.3h0M134.4 188.0h0M131.3 182.1h0M115.7 181.1h0M144.6 182.5h0M143.6 182.6h0M119.8 195.2h0M117.5 184.7h0M123.7 183.9h0M106.1 191.1h0M130.4 192.1h0M133.1 184.8h0M117.5 184.9h0M117.7 190.4h0M145.3 192.0h0M120.6 178.2h0M134.1 195.5h0M117.1 193.4h0M113.4 194.9h0M134.6 182.2h0M125.1 178.2h0M142.3 185.0h0M150.8 188.0h0M147.3 218.9h0M141.9 216.9h0M131.9 224.0h0M187.4 75.5h0M178.1 83.5h0M228.6 90.4h0M150.9 97.8h0M154.9 104.2h0M170.8 111.5h0M189.6 110.5h0M209.0 99.5h0M213.5 96.3h0M223.0 115.5h0M239.6 112.5h0M237.7 124.8h0M229.7 115.8h0M193.0 130.5h0M191.7 123.8h0M191.1 124.7h0M207.2 138.7h0M201.9 132.4h0M162.6 142.2h0M147.9 152.1h0M162.4 146.5h0M157.3 151.0h0M172.7 148.4h0M167.9 140.4h0M169.2 139.9h0M174.1 143.2h0M170.3 161.5h0M174.6 160.5h0M155.8 160.6h0M161.2 156.5h0M148.6 156.2h0M141.9 144.4h0M162.8 175.1h0M167.3 171.5h0M157.8 172.1h0M167.3 168.5h0M172.7 169.6h0M166.9 174.3h0M166.8 169.5h0M161.6 175.7h0M214.9 174.2h0M230.2 167.4h0M218.3 177.8h0M214.8 161.6h0M233.8 169.5h0M225.0 166.6h0M216.4 155.6h0M212.4 151.2h0M228.9 151.9h0M221.9 149.9h0M234.2 169.6h0M223.0 152.9h0M192.1 157.5h0M203.0 157.5h0M204.7 155.1h0M202.3 168.1h0M200.2 170.6h0M193.9 177.9h0M245.8 149.3h0M251.9 140.4h0"/>
<path stroke="#a0d8d0" stroke-width="0.95" stroke-linecap="square" fill="none" d="M131.0 72.3h0M130.2 66.5h0M137.3 76.2h0M122.3 67.5h0M130.0 65.8h0M122.4 67.2h0M126.6 70.8h0M121.7 73.6h0M72.0 96.5h0M81.5 107.6h0M69.3 111.7h0M90.5 95.0h0M89.1 89.4h0M95.6 93.6h0M96.2 88.7h0M107.0 87.6h0M116.4 81.9h0M113.4 84.6h0M109.6 87.7h0M116.5 94.2h0M132.6 102.3h0M118.2 102.3h0M121.5 101.3h0M136.8 102.5h0M121.3 106.3h0M118.6 100.3h0M118.4 95.3h0M117.2 95.5h0M95.4 97.3h0M93.0 115.0h0M98.5 107.9h0M83.8 126.0h0M81.2 123.8h0M76.9 120.9h0M109.9 121.0h0M130.5 122.4h0M135.6 119.3h0M122.7 129.5h0M140.7 121.4h0M128.0 122.5h0M122.5 128.9h0M96.9 130.6h0M101.1 140.6h0M89.9 139.4h0M104.1 138.2h0M55.5 154.8h0M65.2 156.8h0M63.5 148.7h0M87.8 148.7h0M87.6 154.8h0M79.3 156.3h0M90.5 166.7h0M72.8 166.6h0M69.0 162.4h0M111.2 148.5h0M124.7 170.2h0M115.3 171.4h0M104.0 168.9h0M107.9 150.0h0M124.8 195.3h0M127.9 185.9h0M113.7 191.5h0M120.2 184.7h0M99.5 186.4h0M134.4 194.1h0M116.7 186.8h0M101.9 189.7h0M179.6 76.5h0M188.3 77.6h0M184.7 71.2h0M199.9 81.2h0M229.5 88.8h0M150.3 104.8h0M166.8 109.9h0M149.4 120.8h0M218.1 106.9h0M217.4 106.5h0M218.7 117.1h0M231.1 123.1h0M232.6 122.4h0M236.5 113.4h0M237.4 118.4h0M234.5 119.7h0M198.2 133.8h0M190.3 128.1h0M190.0 127.3h0M208.7 130.4h0M189.8 135.9h0M188.8 134.3h0M198.9 127.2h0M200.0 121.4h0M150.5 149.3h0M166.4 143.3h0M168.3 145.5h0M170.4 163.4h0M169.3 154.7h0M167.3 165.4h0M142.8 162.9h0M143.2 159.2h0M154.7 161.4h0M144.8 164.8h0M171.0 169.5h0M171.1 167.7h0M171.9 168.3h0M172.9 168.0h0M172.1 166.0h0M172.3 161.6h0M172.3 166.1h0M173.3 168.2h0M173.0 161.1h0M170.5 163.3h0M171.6 162.4h0M173.7 170.0h0M170.5 165.2h0M173.1 169.0h0M172.3 160.8h0M173.9 162.4h0M173.7 165.3h0M173.8 163.9h0M170.9 167.5h0M173.7 162.3h0M171.6 166.1h0M170.6 167.4h0M173.2 166.2h0M173.7 165.1h0M176.8 173.7h0M140.9 186.3h0M152.0 186.3h0M174.4 184.3h0M217.4 157.8h0M228.6 176.7h0M220.0 149.1h0M215.8 150.6h0M210.7 152.5h0M219.1 154.2h0M229.1 154.0h0M202.5 152.9h0M200.1 169.2h0M198.6 171.1h0M233.7 144.4h0M249.2 147.5h0M247.8 139.1h0"/>
<path stroke="#e07a3a" stroke-width="0.95" stroke-linecap="square" fill="none" d="M122.9 70.8h0M120.5 69.3h0M132.7 67.0h0M131.5 69.9h0M135.0 68.7h0M138.2 91.4h0M62.1 101.6h0M76.2 105.9h0M76.9 104.0h0M77.7 114.7h0M77.4 118.1h0M74.9 112.9h0M86.9 110.7h0M87.2 94.5h0M98.3 94.6h0M99.7 91.6h0M103.3 87.3h0M114.6 94.2h0M119.2 98.5h0M128.1 102.4h0M101.5 95.4h0M118.4 98.0h0M111.4 99.8h0M98.6 105.2h0M95.7 104.4h0M95.6 116.4h0M97.1 111.4h0M83.4 124.6h0M86.8 125.2h0M80.1 124.5h0M113.9 120.7h0M104.5 119.2h0M106.7 115.1h0M108.0 115.6h0M128.5 117.2h0M136.7 118.2h0M95.1 141.0h0M86.9 133.8h0M104.2 133.9h0M101.6 132.4h0M106.3 135.1h0M80.2 139.4h0M50.9 149.1h0M59.8 147.2h0M67.7 153.3h0M54.2 156.5h0M62.4 156.7h0M72.4 155.2h0M94.0 153.1h0M87.9 161.7h0M84.1 156.7h0M75.2 155.5h0M81.3 147.9h0M84.3 157.5h0M84.0 165.5h0M94.7 160.1h0M115.8 151.3h0M125.4 146.1h0M118.6 165.5h0M119.5 160.7h0M99.2 153.5h0M106.8 194.1h0M104.6 190.2h0M121.5 184.5h0M113.4 190.2h0M142.3 183.7h0M115.6 181.2h0M119.7 182.0h0M144.3 181.3h0M147.8 184.1h0M147.7 186.8h0M128.5 206.8h0M125.5 210.9h0M142.3 214.5h0M174.4 79.3h0M174.8 75.2h0M186.7 83.6h0M200.1 86.1h0M155.0 107.4h0M211.1 98.1h0M203.6 97.6h0M212.5 109.1h0M209.3 108.8h0M240.5 116.3h0M239.6 117.8h0M238.7 123.2h0M233.6 121.3h0M236.8 113.1h0M203.9 127.7h0M214.7 134.1h0M208.4 139.3h0M202.8 132.1h0M209.0 132.4h0M161.4 144.8h0M157.2 139.8h0M147.2 144.2h0M158.8 143.0h0M168.3 149.5h0M157.4 157.5h0M174.4 160.3h0M165.1 156.9h0M162.7 155.9h0M148.6 161.1h0M166.6 174.2h0M168.4 170.3h0M148.8 184.6h0M142.5 186.1h0M172.8 187.8h0M171.6 187.9h0M218.9 179.0h0M216.1 164.1h0M218.5 159.4h0M231.0 173.2h0M225.9 165.0h0M223.5 172.9h0M216.7 147.6h0M226.6 149.9h0M206.6 154.9h0M247.9 147.2h0M239.3 145.7h0"/>
<path stroke="#a050a8" stroke-width="0.95" stroke-linecap="square" fill="none" d="M118.7 67.7h0M133.1 63.7h0M136.1 75.9h0M134.6 81.1h0M137.6 92.9h0M84.6 106.3h0M72.4 112.6h0M66.4 108.9h0M83.4 114.4h0M105.3 77.7h0M104.5 83.1h0M107.1 89.5h0M103.4 92.0h0M112.4 86.5h0M121.5 92.1h0M125.3 88.7h0M121.1 93.9h0M128.3 104.1h0M135.8 100.1h0M125.6 111.5h0M104.2 97.9h0M116.4 103.3h0M100.9 92.2h0M92.6 100.8h0M98.9 105.5h0M99.9 105.5h0M92.8 124.3h0M78.3 125.2h0M104.4 119.0h0M124.2 128.9h0M123.6 126.6h0M131.5 117.4h0M131.5 134.0h0M132.5 122.4h0M141.4 123.1h0M105.5 134.2h0M84.6 139.3h0M80.1 133.6h0M95.6 140.2h0M95.0 139.7h0M78.6 135.1h0M99.8 133.7h0M90.7 141.9h0M52.3 156.3h0M61.6 152.3h0M59.7 153.2h0M80.9 148.6h0M74.0 154.3h0M87.9 157.2h0M86.4 161.4h0M87.5 161.8h0M93.0 162.4h0M90.7 160.9h0M73.5 163.5h0M121.2 147.7h0M126.5 149.9h0M132.4 147.9h0M105.1 166.3h0M106.4 165.1h0M104.1 148.7h0M100.4 155.0h0M117.8 183.6h0M120.2 179.4h0M123.0 178.1h0M117.6 197.0h0M136.1 190.2h0M129.1 179.1h0M126.9 188.2h0M147.1 192.3h0M116.0 188.9h0M100.4 189.5h0M125.3 187.3h0M136.3 194.7h0M130.1 197.5h0M128.5 179.3h0M107.1 190.3h0M128.1 180.7h0M147.6 183.3h0M137.1 210.5h0M132.6 211.7h0M146.7 218.9h0M136.1 218.1h0M197.9 78.9h0M192.9 81.3h0M212.3 87.4h0M213.6 107.9h0M218.4 116.4h0M238.5 113.6h0M235.6 118.3h0M237.1 120.0h0M203.0 131.4h0M209.5 131.9h0M195.7 134.9h0M160.5 145.2h0M155.8 150.4h0M165.1 145.3h0M149.3 141.8h0M174.7 144.8h0M168.3 150.9h0M163.8 144.8h0M173.9 156.6h0M174.5 158.2h0M161.9 164.2h0M159.5 161.6h0M168.7 157.7h0M161.0 159.3h0M150.3 159.3h0M163.2 142.1h0M171.6 172.0h0M160.8 170.5h0M148.8 191.8h0M140.2 187.8h0M144.7 192.1h0M160.4 186.4h0M169.5 191.9h0M221.1 155.7h0M213.3 165.2h0M218.8 172.9h0M218.9 159.1h0M204.6 159.1h0M198.0 170.0h0M195.6 174.0h0M243.3 147.8h0M253.1 140.8h0M243.6 143.5h0M240.0 139.1h0M253.8 144.7h0"/>
<path stroke="#e08888" stroke-width="0.95" stroke-linecap="square" fill="none" d="M138.7 68.4h0M139.7 79.5h0M119.1 80.5h0M126.9 73.2h0M137.9 77.9h0M133.1 78.1h0M140.4 78.0h0M122.4 73.5h0M133.1 68.9h0M130.7 81.8h0M117.1 73.8h0M131.7 69.5h0M138.1 68.8h0M141.2 69.2h0M137.7 65.8h0M121.1 71.1h0M132.6 81.5h0M135.8 66.8h0M136.6 76.1h0M126.9 74.9h0M126.6 71.5h0M129.5 67.1h0M126.8 76.3h0M137.7 68.7h0M137.8 75.5h0M123.0 68.0h0M122.4 66.4h0M129.3 83.4h0M135.3 65.7h0M123.1 70.9h0M125.8 70.2h0M122.4 64.5h0M118.6 78.1h0M133.7 76.9h0M118.2 69.4h0M144.9 87.9h0M140.8 92.2h0M141.1 93.7h0M140.1 88.3h0M140.1 91.1h0M72.9 101.9h0M54.6 98.4h0M65.4 97.8h0M61.7 99.3h0M82.3 97.7h0M65.0 96.8h0M88.7 102.1h0M91.5 101.8h0M65.2 107.7h0M68.0 110.3h0M84.3 102.8h0M74.8 106.6h0M70.6 112.7h0M82.5 108.5h0M76.1 106.0h0M81.5 101.2h0M73.5 107.9h0M85.1 105.0h0M84.7 108.2h0M84.4 107.1h0M94.2 104.0h0M96.0 103.7h0M82.4 109.5h0M72.9 104.2h0M80.1 105.2h0M91.4 106.0h0M76.4 118.3h0M69.5 116.4h0M86.1 108.2h0M85.4 110.4h0M86.6 110.7h0M85.5 112.8h0M74.4 117.5h0M86.3 110.1h0M83.6 110.6h0M75.5 117.0h0M78.2 111.4h0M79.2 113.9h0M85.4 110.5h0M86.2 108.7h0M84.8 108.1h0M79.9 112.1h0M78.3 113.6h0M79.5 112.7h0M99.9 94.8h0M84.1 90.0h0M92.6 96.8h0M92.1 96.5h0M87.3 95.3h0M92.0 93.7h0M79.5 89.2h0M91.7 94.5h0M97.7 97.4h0M86.9 88.0h0M91.8 92.2h0M103.8 93.7h0M101.1 94.0h0M100.1 88.8h0M93.2 81.0h0M95.2 85.3h0M96.1 81.2h0M98.7 93.6h0M100.3 94.7h0M97.1 87.7h0M93.7 85.3h0M95.0 81.2h0M103.2 92.2h0M100.4 89.6h0M103.2 91.4h0M97.1 87.9h0M102.8 93.7h0M98.6 88.2h0M94.8 83.8h0M102.1 92.5h0M101.2 91.1h0M101.6 88.7h0M91.6 85.0h0M95.8 83.7h0M99.1 93.1h0M93.1 79.9h0M95.4 85.8h0M92.9 79.5h0M105.7 82.5h0M103.7 89.5h0M103.2 80.6h0M102.0 76.4h0M104.8 90.7h0M104.2 84.5h0M103.3 91.7h0M100.3 79.6h0M106.3 82.8h0M111.2 87.9h0M114.8 84.4h0M114.4 81.5h0M117.8 80.9h0M111.9 88.8h0M108.0 92.0h0M109.9 87.7h0M117.7 84.6h0M115.6 89.9h0M115.6 79.8h0M117.8 83.3h0M116.3 84.3h0M119.6 96.4h0M116.8 94.6h0M126.1 87.9h0M115.6 93.1h0M130.8 88.0h0M116.1 96.2h0M120.3 89.8h0M123.2 93.5h0M121.8 98.7h0M134.2 103.2h0M140.1 102.5h0M131.7 104.2h0M138.1 100.9h0M126.5 101.5h0M122.7 98.4h0M124.3 99.3h0M126.8 104.9h0M135.2 100.9h0M139.5 102.0h0M134.4 105.4h0M123.7 103.7h0M121.9 100.4h0M126.1 101.0h0M133.5 102.2h0M119.6 98.2h0M134.0 99.0h0M122.2 97.7h0M139.3 104.4h0M124.7 106.1h0M125.3 107.9h0M123.8 109.8h0M125.3 108.3h0M118.7 104.7h0M120.1 107.1h0M131.0 110.7h0M125.9 112.3h0M128.0 109.8h0M127.2 109.3h0M116.9 108.3h0M122.3 105.6h0M122.6 109.5h0M98.3 93.6h0M119.5 103.6h0M93.7 100.7h0M112.9 103.4h0M100.5 107.8h0M103.1 100.8h0M103.6 103.9h0M100.6 96.4h0M107.7 100.2h0M100.2 106.9h0M97.6 98.5h0M93.4 99.5h0M113.1 104.8h0M115.7 96.1h0M96.1 95.4h0M113.8 97.1h0M111.4 107.9h0M115.2 98.7h0M112.1 97.0h0M109.0 103.5h0M98.9 103.7h0M105.7 100.9h0M113.4 95.4h0M112.1 94.0h0M95.3 100.4h0M107.0 93.0h0M104.4 94.5h0M113.6 96.1h0M107.4 107.0h0M98.9 93.4h0M99.2 96.5h0M101.2 98.5h0M116.7 96.8h0M110.4 96.5h0M99.1 105.6h0M109.7 93.7h0M119.2 99.4h0M95.9 97.5h0M106.8 96.3h0M98.2 99.9h0M98.4 93.3h0M106.0 99.1h0M106.2 102.1h0M93.9 96.4h0M105.6 103.7h0M110.0 97.9h0M111.0 102.9h0M111.6 102.7h0M107.9 96.3h0M101.8 110.5h0M97.2 106.5h0M95.6 110.3h0M94.4 108.9h0M72.7 87.7h0M72.3 86.7h0M87.5 122.7h0M88.4 124.0h0M85.8 123.7h0M86.0 118.9h0M82.4 122.8h0M80.1 126.4h0M92.9 118.1h0M89.8 122.4h0M87.6 123.3h0M83.7 121.5h0M81.4 125.6h0M98.9 120.5h0M106.4 126.1h0M107.2 120.1h0M103.0 124.9h0M112.5 124.8h0M100.8 120.4h0M112.7 118.5h0M104.4 125.4h0M97.9 122.5h0M103.5 125.1h0M98.6 119.8h0M100.4 119.8h0M111.8 117.3h0M107.0 120.2h0M98.1 122.1h0M109.1 126.2h0M130.8 128.9h0M127.4 131.7h0M139.6 132.7h0M135.8 118.7h0M129.4 117.4h0M127.9 122.9h0M127.5 120.5h0M123.9 129.9h0M124.2 131.6h0M123.0 132.8h0M141.0 131.5h0M135.4 130.7h0M128.9 134.3h0M133.7 135.1h0M127.7 133.9h0M132.8 123.8h0M124.2 125.6h0M139.7 122.2h0M130.7 136.0h0M120.8 131.4h0M132.3 130.9h0M141.8 131.7h0M129.9 114.7h0M123.7 128.6h0M130.2 126.9h0M130.6 125.4h0M124.7 133.8h0M121.5 119.3h0M127.6 117.5h0M125.1 116.2h0M142.3 130.7h0M126.3 124.9h0M140.1 120.9h0M139.7 119.9h0M123.4 119.5h0M126.1 123.3h0M130.9 128.6h0M127.0 131.5h0M139.2 120.3h0M130.5 126.4h0M123.3 129.0h0M126.5 120.3h0M129.1 116.4h0M133.2 123.5h0M76.5 138.3h0M85.5 134.5h0M100.6 139.0h0M95.0 134.7h0M108.0 136.6h0M90.2 135.2h0M79.7 138.2h0M95.4 141.2h0M81.0 134.9h0M88.9 132.4h0M79.5 133.9h0M87.0 135.2h0M90.7 136.8h0M91.8 134.0h0M88.7 134.3h0M81.6 141.9h0M77.5 139.4h0M86.1 136.7h0M100.9 136.2h0M87.9 141.2h0M93.0 133.6h0M77.2 136.0h0M90.2 132.7h0M82.2 135.0h0M100.1 137.1h0M61.2 147.5h0M59.2 151.4h0M67.5 151.5h0M69.3 152.5h0M64.7 154.4h0M58.1 152.0h0M52.6 153.0h0M49.5 154.8h0M65.5 148.2h0M64.6 149.0h0M79.4 155.4h0M78.6 153.7h0M94.2 154.5h0M80.9 156.4h0M82.5 158.4h0M88.6 151.0h0M84.0 157.0h0M80.5 158.8h0M76.1 152.2h0M74.7 154.9h0M71.8 153.9h0M84.9 156.6h0M71.9 155.3h0M79.0 153.3h0M81.7 148.3h0M94.2 153.5h0M80.9 155.7h0M76.5 159.5h0M95.5 153.1h0M80.1 152.8h0M75.8 152.0h0M76.9 157.4h0M81.3 162.7h0M81.0 161.5h0M93.7 163.1h0M92.9 163.5h0M71.6 164.5h0M71.3 159.0h0M66.4 161.1h0M74.2 165.1h0M63.8 165.2h0M64.7 162.1h0M122.2 150.7h0M131.6 146.8h0M112.2 148.1h0M127.2 147.7h0M115.9 150.8h0M117.9 149.5h0M115.1 147.5h0M114.4 149.7h0M113.1 150.6h0M112.4 147.3h0M128.5 149.2h0M113.8 149.0h0M111.1 169.6h0M117.6 166.1h0M111.4 161.9h0M119.8 162.8h0M106.0 166.4h0M130.2 165.7h0M112.5 164.1h0M127.9 165.0h0M120.0 160.6h0M102.5 166.9h0M113.6 171.6h0M118.3 165.2h0M107.0 163.7h0M111.3 170.6h0M125.6 162.0h0M106.8 166.9h0M130.8 160.8h0M129.3 163.0h0M115.5 160.4h0M125.5 162.6h0M115.4 164.9h0M110.7 161.4h0M130.7 164.6h0M106.1 164.8h0M121.7 165.2h0M128.7 167.8h0M114.1 169.2h0M115.2 165.1h0M98.9 154.0h0M108.5 152.4h0M110.1 152.1h0M99.0 149.9h0M96.6 150.4h0M110.0 150.1h0M108.5 153.0h0M103.7 150.6h0M101.9 148.1h0M100.2 153.8h0M109.8 150.4h0M105.5 152.1h0M109.4 152.7h0M102.2 184.7h0M117.7 195.2h0M144.2 181.6h0M148.3 187.4h0M124.8 179.3h0M111.0 196.5h0M126.1 188.5h0M130.7 187.5h0M142.1 192.1h0M140.3 191.9h0M115.5 189.8h0M112.6 180.1h0M135.2 187.5h0M134.2 190.6h0M102.6 191.7h0M112.4 193.8h0M142.7 183.1h0M127.0 189.7h0M102.6 191.7h0M137.5 180.5h0M127.0 180.7h0M127.6 194.6h0M144.2 192.2h0M148.7 190.2h0M125.3 188.1h0M140.1 186.7h0M133.5 188.9h0M131.3 186.4h0M134.4 178.6h0M133.2 178.5h0M130.9 195.0h0M142.7 186.8h0M128.6 179.7h0M121.4 181.3h0M132.1 186.8h0M144.9 184.0h0M114.5 186.8h0M123.0 178.0h0M118.8 181.7h0M128.8 197.9h0M109.3 187.3h0M146.3 182.8h0M128.6 196.6h0M108.9 188.8h0M141.6 181.3h0M118.8 193.9h0M111.4 187.1h0M124.7 184.4h0M123.1 192.2h0M127.9 196.7h0M135.9 186.1h0M116.2 191.2h0M142.3 187.1h0M137.9 193.0h0M133.5 191.1h0M110.7 191.2h0M108.4 190.5h0M125.2 197.3h0M104.0 185.8h0M129.8 191.3h0M137.5 188.7h0M121.5 198.1h0M123.2 189.1h0M126.8 195.3h0M107.0 181.7h0M149.8 182.8h0M144.6 188.1h0M147.3 187.2h0M150.7 184.2h0M147.3 181.5h0M143.4 185.2h0M146.2 189.1h0M126.0 210.9h0M137.2 208.2h0M128.0 209.2h0M128.8 212.6h0M126.4 211.6h0M133.9 210.5h0M134.3 211.7h0M134.6 211.3h0M128.9 212.2h0M140.9 215.7h0M136.4 217.4h0M139.8 222.8h0M132.7 219.6h0M131.6 223.1h0M134.5 222.8h0M139.8 222.0h0M143.0 217.1h0M181.8 79.3h0M190.0 78.5h0M183.8 77.3h0M185.5 81.1h0M186.2 73.6h0M187.2 81.1h0M184.1 85.2h0M186.2 78.6h0M182.2 72.3h0M175.6 79.3h0M181.4 80.6h0M183.8 77.0h0M176.9 79.4h0M184.5 76.7h0M188.0 78.5h0M177.0 83.1h0M175.4 76.3h0M178.1 74.2h0M185.1 82.7h0M189.4 80.4h0M183.3 77.7h0M182.8 81.0h0M177.3 81.4h0M176.6 74.8h0M176.2 77.5h0M184.4 77.3h0M178.5 74.1h0M184.6 71.8h0M174.6 80.3h0M178.4 78.8h0M182.3 84.4h0M182.4 83.5h0M185.6 76.6h0M190.4 81.1h0M188.3 78.9h0M188.0 76.7h0M184.5 84.0h0M181.2 83.5h0M176.0 76.5h0M188.0 80.4h0M190.2 80.2h0M189.8 78.1h0M177.6 75.9h0M186.4 82.9h0M179.7 80.2h0M186.3 84.4h0M178.6 82.4h0M183.8 82.3h0M174.0 79.1h0M182.9 75.0h0M181.3 80.2h0M185.0 74.5h0M185.1 75.6h0M184.4 72.4h0M185.3 75.8h0M180.6 83.4h0M184.2 72.3h0M182.4 78.6h0M182.9 72.5h0M181.0 83.8h0M178.2 77.1h0M198.0 82.2h0M194.0 76.0h0M193.2 78.1h0M195.9 79.9h0M195.4 79.4h0M193.3 80.3h0M195.5 76.2h0M215.9 87.1h0M228.3 88.7h0M225.3 88.7h0M230.2 91.0h0M226.0 88.9h0M228.7 87.7h0M161.3 95.7h0M150.7 107.1h0M166.1 114.2h0M166.3 113.1h0M163.9 118.8h0M154.3 120.1h0M150.7 122.3h0M148.3 121.7h0M187.6 101.2h0M189.4 102.7h0M187.9 100.4h0M185.7 103.2h0M182.3 101.6h0M185.8 99.1h0M182.0 103.3h0M184.6 100.2h0M192.0 108.6h0M192.3 109.0h0M189.1 112.4h0M195.5 109.5h0M204.3 110.5h0M204.9 108.8h0M214.8 99.9h0M207.1 99.5h0M204.9 96.6h0M213.3 100.5h0M207.3 95.7h0M205.0 97.4h0M205.2 95.6h0M222.9 96.6h0M224.8 96.0h0M226.2 95.8h0M222.8 94.2h0M214.3 110.9h0M216.7 107.1h0M216.9 109.0h0M223.3 115.7h0M222.5 114.6h0M237.4 119.6h0M227.9 114.4h0M232.4 119.5h0M226.8 117.8h0M233.8 114.9h0M227.4 116.5h0M242.3 120.7h0M229.1 113.5h0M240.3 117.6h0M242.8 119.5h0M232.3 116.3h0M236.3 121.8h0M240.3 118.0h0M238.6 118.8h0M231.9 121.1h0M226.2 120.5h0M238.6 111.8h0M237.9 119.8h0M233.1 123.2h0M236.5 120.0h0M231.0 118.0h0M237.7 120.2h0M187.4 129.8h0M184.7 128.7h0M196.3 127.7h0M195.8 129.2h0M194.8 134.1h0M201.3 130.4h0M185.7 130.1h0M199.6 132.6h0M203.7 129.5h0M188.2 125.8h0M198.3 133.5h0M195.4 129.0h0M201.0 126.8h0M203.3 128.3h0M198.6 126.7h0M198.2 129.7h0M192.6 126.6h0M203.3 125.1h0M188.6 127.4h0M203.8 139.8h0M210.2 129.1h0M211.5 139.7h0M206.2 137.7h0M205.8 130.2h0M207.9 139.0h0M200.1 130.3h0M208.6 140.7h0M199.2 131.1h0M200.3 132.9h0M212.0 134.7h0M199.0 135.4h0M211.1 132.9h0M210.8 136.0h0M201.4 140.6h0M204.1 133.1h0M212.0 130.6h0M203.9 128.4h0M191.4 140.0h0M192.0 141.8h0M186.6 136.7h0M192.0 142.7h0M192.5 134.9h0M189.9 138.1h0M196.1 137.7h0M193.8 137.7h0M186.7 139.1h0M199.9 120.7h0M189.2 123.4h0M190.7 125.9h0M187.1 125.6h0M194.3 120.6h0M192.2 120.1h0M207.4 127.1h0M146.3 146.6h0M155.4 147.3h0M160.9 152.4h0M150.9 143.4h0M152.4 152.6h0M151.8 141.1h0M162.9 150.1h0M157.1 153.5h0M153.5 151.0h0M159.3 150.1h0M150.1 148.9h0M155.8 148.4h0M163.1 151.0h0M161.5 142.7h0M174.4 144.9h0M168.3 150.4h0M174.8 147.5h0M173.0 146.0h0M166.4 147.5h0M167.0 143.0h0M169.3 149.3h0M167.5 150.5h0M168.6 148.3h0M162.6 145.0h0M155.9 159.7h0M161.9 155.3h0M174.7 159.2h0M167.2 163.4h0M169.6 161.0h0M158.8 162.2h0M169.8 158.0h0M163.0 157.5h0M162.2 159.0h0M160.8 153.2h0M158.8 155.6h0M164.3 158.5h0M171.4 158.1h0M165.4 156.4h0M174.8 159.8h0M174.1 158.7h0M158.0 161.5h0M150.9 156.5h0M148.1 166.8h0M149.4 155.1h0M154.7 164.2h0M162.3 140.9h0M160.9 143.5h0M147.0 145.7h0M144.6 145.1h0M149.8 143.6h0M172.9 163.2h0M175.3 172.0h0M169.0 174.3h0M173.9 178.2h0M161.0 171.5h0M164.6 175.4h0M174.7 171.8h0M162.6 172.5h0M179.6 174.2h0M162.6 173.5h0M170.3 177.7h0M160.3 173.2h0M161.9 177.4h0M178.2 175.1h0M163.0 173.5h0M172.5 176.4h0M145.5 188.1h0M147.4 182.4h0M141.6 188.3h0M146.0 184.9h0M150.3 184.1h0M152.6 185.9h0M143.9 183.1h0M144.2 184.2h0M148.7 184.6h0M151.1 189.3h0M165.0 192.0h0M175.3 191.2h0M161.3 189.8h0M165.2 191.8h0M167.1 187.8h0M174.6 191.4h0M171.0 190.8h0M171.1 185.8h0M172.5 187.0h0M170.7 187.7h0M174.7 188.3h0M164.7 186.5h0M173.9 188.3h0M155.4 199.8h0M155.4 199.8h0M229.6 160.2h0M227.7 159.4h0M216.4 171.4h0M220.5 170.1h0M227.3 164.5h0M219.3 175.3h0M218.1 156.3h0M229.7 165.4h0M230.3 179.6h0M220.9 166.8h0M223.4 163.7h0M220.9 155.7h0M227.6 157.7h0M226.7 162.4h0M227.5 167.6h0M214.4 167.4h0M231.6 159.2h0M216.3 176.5h0M219.3 167.0h0M221.1 178.8h0M222.3 179.3h0M211.9 166.6h0M221.3 171.6h0M217.4 174.2h0M226.5 158.5h0M220.7 155.3h0M213.4 166.4h0M228.3 175.7h0M225.1 156.4h0M214.8 151.8h0M213.3 157.3h0M219.4 159.1h0M226.6 154.6h0M218.3 155.1h0M216.5 157.7h0M221.5 150.7h0M214.3 154.5h0M223.1 155.7h0M222.4 154.6h0M227.3 148.1h0M212.0 154.0h0M221.1 147.2h0M227.9 150.8h0M211.9 153.5h0M222.8 154.3h0M222.0 154.0h0M212.1 152.0h0M214.8 156.6h0M239.3 166.3h0M229.3 167.7h0M229.5 155.4h0M230.0 157.3h0M206.6 158.6h0M201.0 161.0h0M194.9 159.0h0M192.8 157.0h0M208.2 158.3h0M204.2 157.3h0M204.0 153.1h0M197.8 153.8h0M200.6 156.8h0M195.2 160.2h0M205.4 153.2h0M208.6 155.4h0M193.7 153.7h0M200.4 156.9h0M196.8 155.1h0M204.5 153.7h0M200.8 157.7h0M195.7 166.9h0M200.5 165.9h0M197.6 170.6h0M202.2 168.3h0M193.2 175.3h0M241.5 148.7h0M234.7 142.4h0M247.4 141.9h0M233.7 145.2h0M237.1 148.0h0M251.2 139.7h0M244.6 147.1h0M254.0 144.6h0M252.8 144.4h0M241.5 140.3h0M254.1 145.0h0M237.2 141.6h0M255.2 144.8h0M254.4 143.3h0M250.6 143.6h0"/>
<path stroke="#dba070" stroke-width="0.95" stroke-linecap="square" fill="none" d="M121.5 73.0h0M136.6 64.6h0M126.7 82.4h0M133.5 68.5h0M127.7 65.7h0M130.1 67.7h0M119.2 67.9h0M131.2 70.2h0M124.5 64.3h0M125.3 81.4h0M134.1 71.3h0M131.5 74.4h0M128.9 82.6h0M127.1 78.3h0M128.7 69.9h0M137.9 70.1h0M127.1 81.7h0M136.6 74.7h0M137.9 80.2h0M138.8 73.0h0M118.5 73.2h0M118.7 68.7h0M128.6 68.6h0M139.4 71.6h0M132.5 63.2h0M120.5 73.3h0M123.7 82.1h0M125.8 78.1h0M125.7 76.8h0M130.5 70.2h0M124.9 71.4h0M128.6 73.3h0M142.2 88.4h0M138.9 87.4h0M139.9 93.4h0M139.3 91.6h0M76.8 99.5h0M62.9 100.4h0M77.4 93.9h0M62.6 93.9h0M87.3 109.0h0M78.3 109.0h0M70.8 112.3h0M65.3 111.4h0M66.3 109.6h0M74.5 111.3h0M66.6 109.5h0M86.2 104.9h0M69.4 108.7h0M75.8 115.0h0M80.5 110.0h0M77.0 112.5h0M69.7 118.7h0M69.9 120.3h0M77.9 111.9h0M85.3 114.5h0M87.8 111.9h0M97.8 96.5h0M80.4 90.5h0M88.0 89.9h0M99.1 94.5h0M84.2 90.1h0M94.5 96.6h0M92.5 84.5h0M103.0 95.0h0M96.2 83.0h0M97.8 90.2h0M100.1 91.5h0M91.1 80.3h0M101.2 92.2h0M105.5 93.3h0M105.5 86.6h0M101.6 76.9h0M112.7 92.8h0M112.3 83.5h0M115.4 87.0h0M114.4 83.1h0M113.6 90.2h0M111.7 91.7h0M108.5 92.0h0M112.7 86.2h0M115.9 83.9h0M121.3 90.3h0M122.3 91.8h0M120.2 98.5h0M136.5 103.2h0M128.0 101.1h0M136.7 100.1h0M125.1 99.2h0M126.4 98.5h0M141.7 102.3h0M120.4 104.9h0M120.2 110.5h0M116.9 106.0h0M125.0 111.4h0M120.7 104.3h0M120.6 110.9h0M124.4 107.5h0M108.8 97.6h0M105.1 92.8h0M113.2 101.1h0M106.0 101.4h0M103.9 106.8h0M112.6 101.2h0M102.6 108.1h0M95.9 100.9h0M116.2 101.0h0M113.1 99.0h0M103.8 92.6h0M117.7 103.0h0M109.7 101.2h0M101.8 101.7h0M113.4 99.9h0M95.3 101.1h0M102.7 101.8h0M95.6 98.1h0M108.8 105.9h0M98.9 100.4h0M106.7 100.0h0M102.6 102.2h0M108.0 99.3h0M96.0 101.8h0M96.6 105.2h0M111.8 95.4h0M112.7 97.6h0M100.4 94.3h0M107.0 94.1h0M104.4 97.9h0M107.0 99.5h0M107.2 106.3h0M109.2 102.1h0M120.0 103.6h0M119.6 102.3h0M110.5 92.9h0M116.4 103.2h0M114.8 100.0h0M107.9 92.5h0M105.2 93.1h0M102.0 110.2h0M93.0 111.1h0M95.2 111.7h0M96.7 115.4h0M77.6 86.8h0M92.8 122.1h0M76.5 121.3h0M90.8 122.8h0M96.9 118.3h0M85.5 122.8h0M84.6 124.3h0M84.0 124.7h0M73.8 124.6h0M76.6 124.4h0M109.4 115.9h0M110.2 117.9h0M106.4 119.4h0M112.2 116.9h0M112.5 120.8h0M101.0 126.8h0M111.9 116.1h0M107.5 121.9h0M127.4 120.6h0M137.7 126.7h0M141.5 129.1h0M125.3 119.7h0M126.1 125.3h0M128.3 120.6h0M135.9 122.3h0M122.7 131.7h0M139.7 132.8h0M123.7 125.6h0M137.2 118.0h0M126.1 121.0h0M134.3 122.8h0M129.3 118.0h0M125.7 130.5h0M131.7 121.9h0M135.7 125.0h0M123.5 134.6h0M126.9 126.2h0M130.0 120.1h0M131.2 134.4h0M121.9 120.9h0M142.2 120.9h0M124.5 119.4h0M125.8 131.2h0M134.4 134.7h0M124.2 116.5h0M124.0 130.9h0M129.6 132.3h0M129.8 135.7h0M137.9 117.1h0M138.4 122.5h0M128.2 133.1h0M132.4 132.5h0M97.5 139.4h0M102.9 133.3h0M101.0 131.3h0M97.8 135.0h0M77.3 138.6h0M90.5 131.3h0M103.9 137.6h0M95.5 140.6h0M83.3 137.4h0M92.1 132.4h0M103.1 131.5h0M76.4 139.6h0M79.8 140.4h0M76.7 141.2h0M93.2 136.3h0M99.7 138.4h0M88.7 131.8h0M78.3 140.4h0M85.4 141.4h0M91.6 142.0h0M83.8 142.2h0M106.4 134.9h0M63.3 156.3h0M49.1 150.4h0M63.1 156.8h0M51.1 152.4h0M66.4 152.7h0M54.5 146.6h0M91.9 156.4h0M80.3 157.4h0M84.1 151.2h0M80.8 148.9h0M81.6 156.4h0M73.8 157.4h0M87.7 157.1h0M88.2 161.4h0M80.5 157.5h0M88.2 152.2h0M80.6 149.0h0M91.4 154.7h0M79.8 155.2h0M79.8 152.8h0M86.7 157.4h0M94.6 160.9h0M89.0 163.9h0M83.6 161.1h0M95.0 161.0h0M91.1 162.3h0M85.3 167.3h0M89.4 157.9h0M86.6 164.4h0M91.9 165.0h0M80.3 163.3h0M81.5 162.2h0M79.4 163.9h0M83.8 163.0h0M91.6 158.8h0M84.8 160.4h0M82.9 165.9h0M85.9 166.6h0M90.8 159.6h0M87.5 167.0h0M83.0 165.1h0M87.4 164.0h0M80.6 161.9h0M86.9 161.7h0M74.2 166.5h0M64.5 164.1h0M74.0 163.9h0M68.2 165.3h0M111.2 148.9h0M123.7 151.0h0M129.1 151.0h0M111.8 149.5h0M113.5 151.8h0M130.8 147.8h0M115.0 162.6h0M114.5 172.3h0M107.1 164.7h0M132.1 165.2h0M132.0 162.5h0M123.9 166.7h0M108.1 172.4h0M121.9 169.4h0M118.1 164.0h0M115.9 171.8h0M116.9 168.2h0M126.5 159.7h0M123.6 165.4h0M123.6 168.2h0M116.0 161.3h0M106.0 166.5h0M125.4 164.2h0M101.7 154.8h0M96.5 152.1h0M103.5 152.7h0M112.4 195.5h0M140.1 185.5h0M106.0 183.9h0M144.1 186.0h0M136.4 193.8h0M125.7 191.8h0M136.2 187.2h0M137.6 189.7h0M128.4 190.7h0M129.3 189.3h0M134.2 187.3h0M131.6 178.6h0M127.5 198.2h0M138.6 192.8h0M119.7 179.0h0M119.2 183.2h0M101.0 188.5h0M105.7 193.1h0M126.7 179.7h0M122.2 192.7h0M113.7 197.3h0M109.7 180.1h0M121.3 187.4h0M129.5 196.7h0M130.2 188.5h0M127.1 177.7h0M122.2 190.4h0M117.2 191.8h0M121.3 195.7h0M120.1 191.1h0M117.3 189.7h0M121.6 189.7h0M110.8 181.1h0M117.7 192.9h0M116.6 193.6h0M119.3 181.1h0M119.7 191.2h0M115.4 188.1h0M139.4 186.1h0M130.1 190.9h0M129.3 180.1h0M113.7 182.5h0M107.2 189.8h0M122.6 186.5h0M125.2 183.6h0M137.9 180.5h0M141.1 181.7h0M116.8 186.8h0M108.6 192.3h0M119.0 184.4h0M141.4 186.9h0M120.3 180.4h0M132.0 181.4h0M122.4 183.4h0M137.1 193.3h0M120.4 188.0h0M130.2 192.8h0M132.0 188.4h0M124.6 197.8h0M105.5 186.9h0M108.0 181.8h0M110.9 192.4h0M122.4 186.0h0M125.6 189.3h0M102.8 185.0h0M124.1 185.4h0M117.4 191.6h0M108.8 180.5h0M100.4 188.9h0M123.5 194.5h0M117.9 187.3h0M126.0 192.1h0M115.1 187.9h0M135.2 192.1h0M114.9 191.9h0M118.2 190.4h0M111.3 180.5h0M100.5 190.1h0M120.2 192.0h0M103.3 188.2h0M122.9 191.0h0M122.8 186.5h0M113.6 195.8h0M120.7 187.5h0M131.2 190.4h0M117.2 184.1h0M142.2 193.0h0M136.8 194.1h0M140.3 192.0h0M123.1 196.3h0M122.7 185.7h0M121.8 187.0h0M133.4 186.5h0M106.2 193.9h0M106.9 190.1h0M122.8 180.3h0M125.2 190.3h0M134.5 183.5h0M120.5 193.3h0M123.1 187.8h0M141.5 187.8h0M114.4 191.7h0M149.2 188.2h0M111.7 190.9h0M134.8 189.5h0M110.2 193.4h0M125.3 182.6h0M132.0 187.0h0M137.5 180.8h0M120.9 185.4h0M111.0 184.5h0M124.0 188.2h0M142.6 194.2h0M104.8 193.4h0M138.3 195.8h0M110.7 185.0h0M123.4 183.2h0M119.2 187.3h0M143.3 193.9h0M117.9 187.7h0M125.7 190.3h0M140.4 192.1h0M118.1 187.0h0M110.3 194.8h0M148.7 189.1h0M135.4 187.2h0M108.5 191.5h0M119.4 190.6h0M124.9 182.2h0M116.2 195.6h0M107.6 187.2h0M108.9 194.3h0M127.9 181.2h0M133.6 178.8h0M119.6 185.4h0M133.8 191.0h0M116.5 192.7h0M121.4 190.0h0M129.3 188.6h0M116.2 192.2h0M125.8 194.5h0M118.0 178.0h0M111.6 193.7h0M144.1 192.6h0M118.0 179.1h0M121.6 192.3h0M119.8 182.0h0M138.6 185.1h0M119.6 192.7h0M140.6 183.2h0M138.6 192.6h0M109.7 190.1h0M107.5 183.4h0M144.6 182.8h0M123.2 192.0h0M120.0 179.9h0M104.7 188.1h0M141.2 187.4h0M123.5 191.7h0M103.7 188.0h0M137.3 194.3h0M130.6 187.8h0M104.9 192.1h0M138.9 181.4h0M108.7 189.5h0M126.1 184.3h0M131.8 182.0h0M105.6 188.1h0M115.4 194.3h0M136.4 184.4h0M117.2 190.1h0M122.5 179.9h0M145.8 182.4h0M111.5 183.6h0M126.1 179.2h0M118.3 186.3h0M121.3 191.0h0M104.9 186.6h0M106.4 192.4h0M113.4 185.1h0M115.7 195.8h0M122.3 190.3h0M144.4 193.7h0M126.9 181.3h0M110.2 181.8h0M104.0 191.9h0M105.3 192.5h0M108.1 182.5h0M145.7 187.1h0M125.4 182.2h0M134.7 194.8h0M138.9 194.4h0M109.3 184.6h0M144.7 184.5h0M129.4 178.3h0M104.0 184.8h0M122.3 191.6h0M145.7 180.8h0M143.3 186.8h0M151.0 188.3h0M144.3 183.2h0M145.9 183.5h0M145.1 186.1h0M134.8 211.2h0M132.7 208.2h0M128.6 211.8h0M135.6 207.9h0M139.1 222.1h0M141.4 218.3h0M141.4 216.5h0M135.7 219.8h0M132.1 222.0h0M130.7 220.7h0M132.1 224.1h0M140.7 217.9h0M133.6 218.5h0M139.6 220.3h0M139.1 222.5h0M141.0 222.6h0M149.0 216.1h0M146.2 218.0h0M147.8 213.8h0M142.5 218.4h0M178.6 78.5h0M188.6 74.7h0M175.6 78.4h0M184.2 78.2h0M183.0 82.3h0M197.6 80.7h0M199.7 80.5h0M200.2 77.5h0M228.5 89.3h0M158.7 104.9h0M159.5 105.7h0M172.3 114.2h0M162.9 112.3h0M187.2 98.3h0M189.1 102.8h0M192.5 111.3h0M189.0 107.5h0M193.9 107.4h0M198.8 112.1h0M199.6 110.6h0M201.9 111.0h0M202.2 113.6h0M201.1 111.0h0M211.5 95.8h0M208.8 99.1h0M203.3 96.9h0M216.7 96.9h0M208.2 97.3h0M220.7 94.4h0M225.4 97.6h0M211.6 109.1h0M224.6 116.0h0M238.2 124.8h0M242.5 114.9h0M242.4 119.9h0M234.9 122.8h0M239.0 115.4h0M237.2 122.1h0M238.7 120.8h0M241.9 118.1h0M237.7 122.7h0M234.6 117.2h0M229.1 117.6h0M236.5 123.8h0M238.2 113.1h0M235.9 118.2h0M233.1 125.4h0M197.6 123.3h0M189.1 126.8h0M191.4 130.1h0M189.2 129.8h0M195.4 124.1h0M201.1 133.6h0M209.4 135.7h0M206.1 135.8h0M209.7 132.9h0M205.0 127.9h0M200.0 133.3h0M200.0 132.5h0M200.6 139.8h0M197.5 136.8h0M190.7 135.6h0M191.2 139.7h0M193.8 142.6h0M188.6 135.2h0M206.8 124.8h0M198.2 121.7h0M197.3 125.3h0M211.3 126.5h0M145.7 147.7h0M157.0 142.7h0M157.0 146.7h0M162.8 143.7h0M157.7 144.7h0M151.7 152.8h0M154.1 151.1h0M162.8 143.2h0M147.6 145.2h0M151.5 139.6h0M159.6 143.4h0M164.6 140.9h0M165.7 147.3h0M171.5 152.1h0M161.4 148.0h0M164.1 146.3h0M164.7 150.6h0M166.6 140.2h0M175.4 145.3h0M171.1 161.7h0M165.8 161.9h0M156.4 160.0h0M173.1 156.0h0M160.7 158.7h0M162.3 163.8h0M163.7 157.8h0M162.4 164.3h0M156.7 161.3h0M159.2 163.3h0M160.5 162.9h0M154.6 159.6h0M160.2 155.1h0M168.9 164.5h0M154.0 157.8h0M142.8 161.7h0M151.8 158.9h0M155.4 163.7h0M152.2 157.9h0M147.5 143.8h0M175.4 173.6h0M172.4 175.7h0M162.0 177.5h0M178.2 171.6h0M160.2 171.0h0M178.8 170.8h0M170.0 175.3h0M157.7 171.5h0M173.6 172.7h0M151.3 184.3h0M140.9 187.7h0M150.0 182.6h0M141.0 188.1h0M171.3 186.7h0M165.8 187.4h0M172.2 189.1h0M165.1 188.9h0M160.0 188.1h0M162.4 189.9h0M154.9 200.5h0M153.6 201.8h0M213.9 173.2h0M212.9 160.6h0M218.6 173.7h0M217.2 175.8h0M220.2 163.8h0M214.0 166.2h0M212.7 166.4h0M220.5 164.3h0M227.1 156.2h0M215.5 159.5h0M225.0 156.9h0M221.5 181.7h0M228.5 164.5h0M231.8 169.2h0M228.1 169.1h0M229.7 171.2h0M213.3 165.8h0M227.3 159.4h0M212.0 169.1h0M225.6 166.9h0M216.6 154.6h0M214.5 147.5h0M226.7 149.5h0M227.2 152.4h0M227.4 148.2h0M211.1 154.3h0M230.0 155.0h0M212.3 155.5h0M226.4 166.3h0M230.0 167.3h0M240.0 170.4h0M224.1 154.1h0M202.7 155.8h0M209.5 156.6h0M194.8 152.7h0M200.8 160.2h0M195.4 169.3h0M203.2 167.9h0M196.8 167.9h0M199.1 169.2h0M235.6 143.9h0M243.8 148.5h0M252.0 142.9h0"/>
<path stroke="#808080" stroke-width="0.95" stroke-linecap="square" fill="none" d="M125.2 74.8h0M137.7 75.2h0M141.8 73.2h0M129.9 84.3h0M87.2 102.1h0M94.7 103.5h0M85.1 91.9h0M95.0 80.7h0M106.5 86.6h0M127.4 87.0h0M129.2 90.6h0M115.8 101.1h0M130.9 104.2h0M127.7 100.0h0M121.6 106.7h0M104.4 98.8h0M114.9 105.8h0M115.5 104.2h0M109.4 95.5h0M120.7 97.6h0M112.1 96.2h0M112.5 106.7h0M110.1 94.7h0M113.6 105.3h0M118.5 101.8h0M94.3 116.7h0M75.2 86.1h0M84.8 123.8h0M85.6 118.4h0M80.8 122.3h0M83.3 123.7h0M99.3 121.2h0M102.6 120.1h0M132.6 122.1h0M127.2 117.3h0M122.8 119.9h0M136.7 130.7h0M124.5 134.2h0M126.4 131.6h0M82.9 140.7h0M85.7 131.8h0M81.5 137.5h0M83.3 142.4h0M85.4 139.6h0M95.7 130.4h0M105.7 138.5h0M97.9 139.9h0M58.8 158.8h0M62.5 152.6h0M55.0 155.6h0M62.9 150.2h0M80.0 154.5h0M71.0 167.5h0M125.2 161.6h0M113.0 165.0h0M125.4 169.4h0M124.2 182.5h0M106.6 193.1h0M125.1 190.3h0M106.2 194.1h0M140.6 183.8h0M140.8 191.7h0M118.2 187.9h0M129.1 220.0h0M146.7 214.7h0M175.1 80.4h0M186.7 83.8h0M175.7 80.9h0M180.6 75.3h0M200.2 79.7h0M214.3 88.8h0M161.9 125.1h0M188.1 102.4h0M200.3 114.5h0M240.0 115.0h0M241.2 121.3h0M228.5 115.7h0M235.1 123.5h0M235.9 124.5h0M210.4 140.7h0M213.4 133.9h0M200.8 134.0h0M190.8 142.5h0M194.0 139.4h0M195.1 121.7h0M209.3 126.6h0M211.5 130.2h0M163.6 148.6h0M157.0 144.8h0M150.2 144.5h0M146.3 149.7h0M165.6 164.9h0M167.6 156.8h0M173.3 155.7h0M171.7 157.8h0M171.2 155.7h0M171.9 173.1h0M157.8 173.2h0M171.0 175.4h0M166.8 170.4h0M145.4 189.5h0M144.3 184.7h0M216.0 174.0h0M232.0 164.8h0M225.9 164.0h0M210.8 171.0h0M212.9 149.4h0M221.5 153.9h0M222.9 157.3h0M196.3 167.3h0M238.7 143.4h0M245.9 147.8h0"/>
<path stroke="#5a4aa0" stroke-width="0.95" stroke-linecap="square" fill="none" d="M129.2 75.9h0M135.2 79.4h0M129.7 71.2h0M137.4 66.1h0M134.5 76.5h0M135.2 71.3h0M137.8 76.1h0M141.6 76.3h0M123.0 70.2h0M143.4 89.7h0M83.6 96.0h0M76.9 107.1h0M72.6 106.5h0M75.2 103.7h0M84.6 101.9h0M82.9 108.6h0M95.6 83.4h0M124.8 98.6h0M128.8 102.3h0M124.8 101.9h0M120.0 102.9h0M126.8 100.1h0M133.3 99.3h0M95.8 95.6h0M98.7 102.1h0M113.9 96.9h0M110.9 94.1h0M109.2 99.8h0M112.6 98.0h0M104.6 94.1h0M104.9 96.8h0M106.6 107.6h0M98.0 107.6h0M94.5 120.2h0M76.6 121.9h0M97.2 119.8h0M83.5 120.5h0M104.7 115.6h0M112.8 125.1h0M123.1 128.7h0M125.5 121.7h0M129.4 124.1h0M128.7 119.7h0M133.2 121.7h0M139.0 119.3h0M125.0 133.0h0M140.0 122.6h0M137.3 123.1h0M141.4 124.3h0M138.5 124.0h0M140.7 123.7h0M142.4 123.2h0M136.4 122.9h0M137.7 122.3h0M140.8 123.7h0M142.4 122.8h0M139.0 122.9h0M139.3 123.5h0M137.3 122.1h0M141.2 123.7h0M141.3 122.0h0M139.5 124.1h0M142.0 124.0h0M142.3 122.1h0M97.3 133.8h0M102.1 133.3h0M93.9 137.5h0M98.4 140.8h0M58.5 153.6h0M90.7 156.2h0M90.0 155.2h0M73.5 156.7h0M94.2 151.8h0M92.3 157.3h0M80.5 163.9h0M72.1 159.1h0M64.3 166.5h0M121.9 144.5h0M109.9 149.2h0M119.0 168.1h0M108.6 154.9h0M108.8 154.0h0M105.2 193.9h0M102.0 186.5h0M130.1 178.8h0M115.4 188.0h0M136.4 190.8h0M145.2 186.9h0M141.6 192.6h0M111.1 192.5h0M131.0 178.2h0M100.4 185.5h0M123.5 191.0h0M147.9 183.9h0M124.7 210.6h0M142.8 218.9h0M130.6 219.4h0M183.3 83.7h0M196.9 84.3h0M204.8 88.3h0M154.0 96.8h0M172.8 113.9h0M187.0 104.3h0M201.3 115.1h0M214.2 110.5h0M238.3 123.9h0M229.6 118.9h0M230.1 121.8h0M236.7 113.3h0M233.0 123.0h0M201.2 122.7h0M204.2 121.7h0M185.5 124.5h0M159.9 139.5h0M157.6 153.3h0M152.2 147.2h0M155.7 149.3h0M149.2 145.1h0M163.8 157.3h0M171.8 162.9h0M163.8 165.2h0M155.5 161.7h0M142.3 162.6h0M154.1 165.1h0M164.1 170.7h0M176.6 174.2h0M149.7 188.3h0M150.3 186.4h0M149.2 187.6h0M150.9 190.5h0M149.6 187.7h0M152.2 189.3h0M150.2 190.2h0M152.4 187.7h0M151.3 188.4h0M149.5 185.4h0M151.8 189.7h0M152.2 187.4h0M151.7 190.2h0M151.3 186.8h0M151.9 189.7h0M151.1 190.0h0M164.8 186.2h0M224.9 165.2h0M213.4 174.5h0M225.4 166.7h0M212.7 155.3h0M218.5 151.7h0M224.1 145.3h0M225.4 145.6h0M231.3 167.8h0M207.1 155.5h0M241.9 142.9h0M241.2 146.5h0M240.6 143.6h0M252.6 142.8h0"/>
<path stroke="#98d088" stroke-width="0.95" stroke-linecap="square" fill="none" d="M136.2 74.0h0M128.2 66.2h0M116.0 76.9h0M135.5 69.5h0M131.8 77.3h0M136.6 80.6h0M82.6 112.4h0M82.9 109.7h0M90.3 93.5h0M96.4 93.0h0M91.5 93.0h0M86.2 91.4h0M102.4 92.0h0M103.3 83.1h0M111.6 85.7h0M109.2 92.9h0M124.6 91.0h0M120.0 99.0h0M100.7 100.3h0M105.5 101.5h0M103.0 105.2h0M112.9 100.5h0M109.2 106.1h0M91.9 116.5h0M85.3 118.8h0M111.2 118.0h0M123.0 134.5h0M131.5 120.9h0M129.0 117.1h0M135.5 129.2h0M120.2 129.3h0M126.2 123.7h0M136.9 123.6h0M140.0 126.5h0M95.1 134.4h0M94.9 141.5h0M101.7 138.1h0M84.1 134.6h0M62.7 156.7h0M62.7 153.9h0M51.4 150.1h0M59.4 149.9h0M94.0 154.8h0M91.7 160.7h0M81.9 157.7h0M73.6 157.2h0M92.2 162.8h0M80.2 161.8h0M69.4 165.3h0M128.0 145.7h0M128.8 151.1h0M116.9 165.6h0M101.9 153.2h0M135.8 187.6h0M111.6 182.0h0M137.0 181.9h0M130.1 196.5h0M109.5 187.4h0M117.8 189.8h0M124.0 178.7h0M124.2 187.2h0M147.6 191.3h0M147.5 184.3h0M107.0 194.5h0M144.9 188.7h0M143.1 218.4h0M137.8 218.0h0M131.7 220.3h0M175.9 82.2h0M200.3 80.5h0M173.7 112.9h0M166.3 122.0h0M155.9 118.9h0M155.1 119.7h0M183.0 103.0h0M186.6 98.2h0M232.6 116.2h0M226.5 121.5h0M235.6 123.9h0M202.7 124.7h0M186.7 130.8h0M204.7 132.8h0M200.9 139.6h0M209.1 138.6h0M189.7 134.0h0M203.5 123.8h0M212.4 126.2h0M145.7 145.9h0M162.5 140.6h0M166.4 147.7h0M162.8 154.5h0M163.7 164.7h0M164.3 162.2h0M146.3 164.2h0M160.6 143.3h0M173.8 165.1h0M168.8 178.3h0M144.9 190.1h0M175.4 186.1h0M163.4 187.4h0M153.7 202.7h0M151.5 200.5h0M234.6 168.3h0M214.5 168.2h0M220.8 159.5h0M229.5 157.3h0M227.8 166.0h0M233.2 168.2h0M199.9 161.0h0M199.0 157.4h0M202.8 156.3h0M195.1 165.6h0M245.6 146.9h0M250.9 146.5h0M250.3 143.3h0"/>
<path stroke="#d06a30" stroke-width="0.95" stroke-linecap="square" fill="none" d="M137.2 80.3h0M122.5 66.9h0M137.9 68.6h0M128.9 76.2h0M139.3 72.8h0M128.8 77.1h0M136.9 78.6h0M123.2 83.3h0M128.8 77.9h0M135.3 66.7h0M118.0 75.4h0M125.2 65.4h0M127.3 82.9h0M129.4 71.3h0M131.7 77.2h0M131.8 73.2h0M126.0 83.0h0M131.6 83.4h0M139.0 73.0h0M125.2 67.7h0M118.9 77.9h0M139.4 89.1h0M73.1 95.7h0M70.8 97.7h0M97.4 101.0h0M89.1 101.5h0M79.5 109.0h0M69.5 111.8h0M86.8 103.7h0M87.3 105.8h0M64.0 109.4h0M91.0 106.6h0M74.6 110.0h0M97.4 101.5h0M65.2 110.1h0M66.8 111.2h0M95.7 102.3h0M83.4 103.7h0M81.6 104.7h0M76.5 104.7h0M73.0 108.4h0M73.4 105.8h0M75.4 110.2h0M76.1 114.4h0M80.7 110.5h0M79.7 111.8h0M82.5 111.8h0M87.4 108.4h0M77.1 115.1h0M82.7 108.4h0M84.0 109.6h0M78.8 117.8h0M80.1 112.7h0M82.2 108.7h0M75.3 117.7h0M70.2 116.1h0M78.0 112.2h0M70.5 119.7h0M67.8 119.1h0M86.7 109.0h0M70.7 120.0h0M70.6 119.3h0M69.3 118.5h0M92.5 96.1h0M90.3 88.7h0M96.6 92.0h0M87.3 95.3h0M85.1 89.9h0M81.3 87.3h0M95.6 93.4h0M88.9 90.1h0M92.5 92.5h0M98.5 94.2h0M96.5 92.2h0M102.6 93.3h0M104.0 89.1h0M102.3 77.1h0M104.9 82.9h0M104.5 77.6h0M101.6 84.3h0M106.9 89.1h0M107.8 86.5h0M103.0 84.7h0M100.9 83.5h0M111.4 87.3h0M111.5 87.0h0M115.7 82.3h0M128.5 88.6h0M128.6 91.0h0M123.7 94.3h0M115.1 97.4h0M118.6 101.7h0M139.4 101.3h0M135.5 105.8h0M137.9 99.8h0M134.3 104.6h0M137.2 104.5h0M123.4 98.8h0M127.5 98.6h0M127.1 104.8h0M129.7 104.2h0M137.0 102.1h0M118.8 103.8h0M123.9 110.6h0M115.8 105.8h0M119.9 109.7h0M117.8 109.0h0M122.6 112.5h0M118.6 106.4h0M119.8 109.1h0M108.0 100.9h0M102.6 101.5h0M109.1 96.7h0M115.4 94.1h0M114.3 97.7h0M113.2 94.6h0M112.6 94.0h0M111.7 95.4h0M111.7 101.7h0M103.9 97.9h0M104.0 97.2h0M105.9 96.7h0M111.0 105.1h0M103.9 107.5h0M112.4 97.7h0M111.2 93.5h0M114.8 98.5h0M117.2 98.0h0M119.9 97.1h0M119.1 95.4h0M99.3 93.6h0M98.9 98.5h0M117.1 95.5h0M99.4 99.4h0M113.3 100.9h0M98.1 100.0h0M100.8 99.2h0M114.7 93.6h0M104.0 100.5h0M114.9 93.8h0M103.5 106.3h0M101.1 100.5h0M94.2 101.7h0M99.9 109.3h0M102.9 105.2h0M100.8 111.7h0M92.2 117.6h0M99.4 109.9h0M101.1 107.4h0M88.8 118.1h0M78.8 121.6h0M81.5 126.2h0M97.6 120.7h0M82.6 120.6h0M89.3 120.9h0M76.6 122.3h0M76.0 125.4h0M93.0 121.4h0M83.6 118.2h0M90.0 120.6h0M79.2 121.6h0M80.0 122.8h0M101.3 120.0h0M100.2 121.3h0M102.0 125.7h0M110.6 120.4h0M105.6 117.6h0M110.9 119.8h0M106.4 123.0h0M105.1 115.7h0M105.5 126.5h0M133.6 120.6h0M132.8 118.0h0M125.9 127.4h0M129.2 117.6h0M119.5 124.1h0M123.0 125.7h0M133.1 126.6h0M129.8 134.2h0M141.6 124.0h0M132.4 126.7h0M135.3 120.4h0M139.1 127.5h0M138.4 126.0h0M128.2 120.9h0M120.8 126.6h0M135.7 122.5h0M130.5 122.3h0M125.1 127.2h0M143.2 123.4h0M126.6 119.5h0M133.0 117.9h0M129.3 134.8h0M123.4 127.9h0M126.2 124.4h0M121.4 130.1h0M127.8 133.3h0M122.7 130.7h0M125.1 130.9h0M126.1 122.2h0M125.4 132.0h0M137.4 130.8h0M123.3 133.9h0M137.2 133.6h0M139.9 118.3h0M134.7 117.5h0M127.7 129.4h0M129.3 128.9h0M141.7 129.8h0M124.9 126.7h0M135.9 124.4h0M132.2 132.2h0M131.0 122.5h0M127.4 125.8h0M137.6 127.7h0M126.0 124.2h0M130.2 117.9h0M130.8 131.3h0M125.1 123.3h0M138.8 131.3h0M131.8 129.4h0M126.9 124.8h0M122.7 121.6h0M128.6 133.1h0M131.4 116.7h0M129.6 128.5h0M124.2 121.2h0M129.3 125.8h0M132.3 123.6h0M130.0 119.7h0M127.7 119.9h0M141.0 126.5h0M137.5 132.4h0M132.1 124.4h0M123.1 133.1h0M137.6 134.6h0M132.3 124.8h0M141.8 124.4h0M125.3 122.9h0M132.1 122.8h0M123.6 128.5h0M127.2 133.2h0M129.0 135.6h0M132.6 134.5h0M125.8 132.7h0M122.9 133.2h0M122.0 135.7h0M128.1 134.2h0M121.4 134.2h0M124.2 133.1h0M130.4 132.8h0M122.9 135.2h0M126.5 136.2h0M123.5 134.7h0M132.5 132.7h0M129.6 133.4h0M131.2 134.9h0M126.8 132.4h0M128.4 135.3h0M128.8 136.5h0M125.8 135.5h0M129.7 131.2h0M129.4 131.3h0M126.5 134.7h0M129.6 132.5h0M131.9 134.2h0M130.6 131.5h0M131.5 134.5h0M128.6 136.7h0M127.5 131.7h0M129.0 133.7h0M132.6 134.9h0M126.9 134.4h0M125.8 134.3h0M129.9 136.0h0M129.8 133.4h0M128.6 133.3h0M129.7 134.2h0M128.8 131.5h0M127.7 134.2h0M123.5 132.8h0M102.8 133.7h0M95.2 136.6h0M92.8 131.4h0M78.4 136.5h0M86.0 134.8h0M83.5 134.0h0M94.9 136.2h0M103.4 136.7h0M86.8 136.5h0M79.7 140.3h0M94.0 140.8h0M96.4 132.5h0M93.7 134.7h0M90.6 140.3h0M99.2 139.4h0M87.5 139.8h0M92.9 133.8h0M68.2 155.8h0M64.4 152.2h0M52.0 153.8h0M62.6 152.7h0M64.8 149.0h0M61.7 155.3h0M59.6 157.0h0M49.8 154.2h0M51.4 154.7h0M52.1 151.2h0M63.0 152.3h0M64.9 153.0h0M49.0 153.7h0M52.4 152.5h0M57.1 158.1h0M57.5 147.0h0M62.8 153.1h0M55.0 156.5h0M55.6 146.1h0M90.4 157.4h0M74.9 155.9h0M91.1 156.8h0M74.8 152.8h0M79.9 158.0h0M86.4 152.0h0M91.6 154.5h0M94.3 153.4h0M91.6 151.5h0M96.2 156.0h0M79.8 161.1h0M93.5 165.3h0M88.0 162.7h0M91.9 166.9h0M69.6 163.1h0M73.4 162.7h0M72.6 166.0h0M73.3 163.9h0M126.7 146.3h0M119.0 149.2h0M109.2 148.0h0M111.1 151.0h0M120.9 147.7h0M124.3 148.3h0M132.6 148.9h0M125.8 145.1h0M122.2 144.5h0M125.1 149.0h0M109.7 148.8h0M118.3 166.0h0M110.9 168.4h0M104.5 169.7h0M119.9 171.9h0M130.5 166.8h0M107.8 171.4h0M115.5 162.7h0M112.9 161.8h0M116.9 170.0h0M103.3 166.0h0M109.4 169.1h0M106.8 164.4h0M119.4 163.1h0M121.4 166.8h0M115.7 169.7h0M127.7 169.0h0M120.2 165.2h0M129.8 166.9h0M108.4 164.0h0M111.4 169.1h0M107.9 172.3h0M119.4 170.1h0M100.0 154.8h0M95.3 153.6h0M103.3 155.3h0M107.2 154.6h0M101.5 154.2h0M109.6 194.1h0M139.4 188.5h0M108.5 184.9h0M123.3 186.6h0M114.3 178.6h0M127.3 178.9h0M142.2 185.3h0M117.1 186.6h0M126.3 184.6h0M104.3 185.3h0M115.5 188.0h0M107.4 187.7h0M138.1 186.7h0M107.4 187.7h0M130.5 187.4h0M115.6 186.3h0M127.9 193.9h0M146.2 188.1h0M114.4 181.0h0M109.4 185.4h0M134.5 192.6h0M118.7 193.2h0M125.9 181.6h0M134.8 185.3h0M143.3 184.0h0M115.7 186.9h0M124.4 192.3h0M126.4 188.3h0M143.8 185.4h0M126.5 191.5h0M127.6 182.7h0M132.8 178.8h0M120.4 189.5h0M142.7 188.0h0M124.5 178.2h0M124.7 189.4h0M133.9 189.2h0M115.5 189.0h0M129.9 187.2h0M119.6 190.2h0M125.5 192.3h0M116.2 184.0h0M133.7 187.7h0M145.2 190.9h0M140.6 187.1h0M144.2 185.9h0M144.3 182.9h0M146.7 187.7h0M141.8 184.6h0M147.0 186.1h0M125.8 209.5h0M135.4 208.9h0M135.4 211.3h0M136.9 223.2h0M138.7 223.6h0M145.9 220.1h0M135.2 217.4h0M141.2 218.4h0M131.6 223.8h0M130.0 220.2h0M140.0 214.6h0M139.9 216.2h0M181.3 82.2h0M177.2 80.0h0M177.4 76.1h0M180.7 76.4h0M186.9 73.1h0M183.5 73.0h0M181.1 75.1h0M196.0 84.5h0M201.8 80.8h0M198.9 81.3h0M200.0 75.1h0M205.0 87.2h0M204.6 87.9h0M214.0 87.2h0M150.9 104.6h0M159.3 107.3h0M150.6 124.2h0M168.0 119.5h0M148.8 122.2h0M187.3 98.9h0M188.1 103.8h0M187.7 102.5h0M184.3 98.5h0M192.7 111.4h0M187.1 109.3h0M201.1 112.3h0M199.8 108.8h0M202.8 114.5h0M214.9 100.4h0M221.9 95.2h0M215.6 106.2h0M241.7 122.2h0M241.4 119.7h0M239.5 121.2h0M236.7 112.8h0M238.9 120.6h0M232.5 116.0h0M237.0 118.8h0M234.4 112.2h0M232.7 123.1h0M242.8 118.1h0M232.9 113.3h0M236.0 111.3h0M233.5 118.7h0M200.5 126.0h0M196.0 122.0h0M192.4 129.9h0M198.3 131.8h0M198.8 123.1h0M197.0 128.5h0M202.3 132.4h0M204.6 127.7h0M200.5 130.1h0M186.7 127.8h0M213.1 131.4h0M200.7 130.0h0M201.6 132.1h0M214.1 133.7h0M203.5 135.5h0M198.9 135.9h0M193.0 134.6h0M193.8 142.9h0M188.9 135.4h0M190.8 143.2h0M199.1 121.6h0M196.6 125.5h0M199.5 121.4h0M187.8 124.9h0M211.9 128.6h0M211.9 130.5h0M210.4 131.1h0M209.1 125.2h0M156.3 145.0h0M148.2 152.0h0M156.6 153.2h0M162.8 151.1h0M160.0 140.9h0M156.3 155.2h0M150.2 149.0h0M156.4 151.9h0M159.8 146.5h0M170.8 148.0h0M168.6 149.1h0M174.3 149.2h0M163.2 163.8h0M166.5 163.0h0M168.2 153.9h0M173.0 162.2h0M170.2 160.8h0M171.4 155.2h0M166.9 157.7h0M160.1 163.0h0M166.7 155.2h0M172.4 153.3h0M170.5 163.6h0M158.5 160.5h0M157.2 162.5h0M170.5 155.9h0M163.4 162.8h0M156.7 157.9h0M158.5 152.9h0M155.0 157.0h0M171.6 158.0h0M159.7 159.3h0M143.8 157.0h0M152.7 166.9h0M145.7 166.0h0M147.6 158.9h0M143.1 157.8h0M148.7 146.7h0M146.9 146.3h0M161.3 173.2h0M172.7 174.7h0M158.3 173.5h0M164.1 178.2h0M176.4 174.6h0M167.7 173.1h0M175.4 170.5h0M160.5 171.3h0M170.0 172.4h0M167.0 171.4h0M163.6 172.7h0M144.3 185.9h0M147.6 183.9h0M150.2 188.6h0M152.4 187.5h0M146.6 186.2h0M143.8 191.5h0M160.2 186.8h0M161.7 188.3h0M168.5 190.3h0M173.2 188.6h0M163.7 191.6h0M172.7 186.8h0M152.0 200.7h0M216.7 173.3h0M213.6 162.1h0M233.4 176.2h0M224.7 179.8h0M232.5 168.0h0M216.0 159.9h0M219.8 168.6h0M232.6 163.5h0M214.7 176.8h0M232.8 171.6h0M220.5 158.9h0M214.8 157.2h0M226.9 158.1h0M215.3 164.5h0M215.6 157.0h0M226.4 158.0h0M212.1 172.6h0M229.6 173.3h0M219.1 173.9h0M223.0 155.0h0M224.4 168.5h0M221.7 177.2h0M222.6 172.2h0M223.0 178.8h0M232.1 161.0h0M218.5 164.6h0M214.3 165.9h0M212.0 166.6h0M225.0 162.0h0M221.9 169.8h0M217.9 158.8h0M227.9 154.9h0M224.9 147.7h0M219.4 153.4h0M217.5 151.6h0M216.1 154.9h0M219.9 149.1h0M219.0 158.2h0M223.7 152.1h0M220.1 154.7h0M228.4 153.3h0M226.1 154.5h0M225.5 157.6h0M195.2 157.2h0M205.3 158.4h0M200.5 157.6h0M202.0 154.4h0M200.8 156.8h0M206.6 158.1h0M195.9 165.9h0M201.5 165.2h0M201.3 165.0h0M194.1 167.0h0M197.5 173.6h0M249.8 146.3h0M234.3 142.3h0M242.4 142.0h0M247.0 145.7h0M239.0 139.6h0M236.2 141.8h0M244.6 145.2h0"/>
<path stroke="#b0a0d0" stroke-width="0.95" stroke-linecap="square" fill="none" d="M122.2 77.5h0M123.1 73.7h0M127.7 80.4h0M122.5 67.8h0M125.7 67.8h0M136.4 72.4h0M130.9 70.2h0M131.2 66.8h0M125.5 81.8h0M133.0 79.4h0M122.8 67.7h0M137.3 75.0h0M122.1 78.8h0M139.6 77.0h0M131.4 83.4h0M127.7 74.4h0M122.8 66.6h0M137.3 91.7h0M138.9 88.2h0M137.0 90.4h0M137.8 91.9h0M73.4 95.0h0M65.7 101.6h0M64.5 99.1h0M87.3 105.7h0M72.6 107.4h0M75.4 106.3h0M74.0 104.2h0M79.2 106.8h0M85.5 100.9h0M91.2 106.0h0M85.5 102.4h0M88.4 107.1h0M80.1 111.0h0M73.5 105.6h0M73.3 109.5h0M79.1 106.1h0M78.5 109.8h0M70.9 104.9h0M87.2 107.1h0M70.2 110.6h0M85.2 108.9h0M83.7 113.1h0M85.5 111.3h0M82.3 113.4h0M81.4 86.9h0M85.3 90.0h0M82.6 91.3h0M84.8 88.7h0M83.1 91.7h0M83.7 87.1h0M90.4 94.8h0M82.3 86.7h0M86.4 93.4h0M94.5 94.5h0M93.3 94.7h0M95.4 94.0h0M93.7 96.6h0M96.6 96.8h0M94.2 80.5h0M96.4 88.9h0M98.2 91.1h0M97.0 90.0h0M104.2 92.9h0M104.5 77.9h0M105.1 91.0h0M103.4 83.0h0M104.8 92.6h0M107.4 91.1h0M106.7 82.9h0M102.4 84.5h0M115.9 88.6h0M115.5 85.0h0M115.6 80.8h0M110.1 86.0h0M113.3 88.0h0M119.0 93.7h0M120.9 91.3h0M130.2 90.1h0M122.4 92.5h0M116.9 93.1h0M127.4 88.4h0M124.8 90.6h0M131.1 105.1h0M133.1 101.9h0M122.0 97.8h0M139.9 101.9h0M127.3 102.5h0M120.4 104.3h0M131.2 98.5h0M122.7 101.8h0M118.4 101.5h0M124.6 100.9h0M117.7 108.0h0M116.7 105.4h0M127.9 111.9h0M120.8 110.1h0M118.3 104.2h0M114.7 98.9h0M119.3 98.8h0M102.2 102.3h0M111.9 99.7h0M105.0 95.6h0M100.7 98.1h0M116.0 95.1h0M114.1 103.0h0M110.4 108.7h0M96.8 94.4h0M115.9 94.9h0M95.4 98.0h0M104.2 108.4h0M108.8 93.1h0M117.8 100.3h0M113.0 93.6h0M115.7 94.9h0M101.1 99.7h0M108.6 105.3h0M104.8 94.7h0M111.5 108.0h0M96.2 104.6h0M102.4 105.5h0M115.6 105.5h0M105.4 106.3h0M106.5 91.3h0M101.6 96.1h0M101.6 103.1h0M110.6 93.4h0M95.7 101.6h0M111.6 99.0h0M115.7 93.4h0M97.1 113.3h0M93.9 115.1h0M99.6 112.4h0M91.6 114.0h0M72.2 89.1h0M74.0 85.7h0M90.3 124.8h0M89.0 124.8h0M78.0 120.2h0M78.7 124.7h0M92.4 119.3h0M90.0 117.9h0M96.8 118.1h0M100.6 121.3h0M103.9 123.8h0M106.6 120.4h0M111.0 121.4h0M102.9 117.6h0M101.3 116.0h0M109.2 116.9h0M126.7 136.6h0M128.3 133.5h0M131.7 128.7h0M133.2 115.5h0M140.0 127.3h0M123.7 124.4h0M125.2 132.3h0M126.9 117.2h0M122.8 125.1h0M138.0 130.7h0M126.5 130.6h0M139.1 121.5h0M125.0 134.5h0M125.9 129.7h0M126.9 126.4h0M124.7 120.5h0M127.3 116.2h0M137.8 118.3h0M122.9 122.5h0M129.3 122.6h0M136.5 121.8h0M125.0 132.8h0M128.5 137.0h0M131.3 134.9h0M128.1 134.5h0M97.3 131.8h0M106.6 134.7h0M100.6 131.1h0M83.8 133.8h0M82.7 133.3h0M79.6 135.8h0M77.8 138.0h0M98.8 135.7h0M84.4 133.8h0M79.5 138.2h0M93.9 135.6h0M100.3 134.2h0M96.9 139.2h0M78.6 141.8h0M78.0 133.9h0M92.0 140.1h0M103.3 131.9h0M96.9 134.4h0M52.8 150.4h0M63.4 151.9h0M57.3 154.9h0M57.3 147.0h0M58.5 146.3h0M58.3 146.3h0M50.4 152.8h0M54.5 159.2h0M51.9 155.6h0M55.7 154.4h0M55.0 150.9h0M54.7 150.7h0M66.4 157.1h0M96.2 156.2h0M78.2 153.3h0M91.1 150.9h0M77.2 156.7h0M76.9 158.7h0M90.9 149.1h0M84.2 161.3h0M92.0 159.1h0M79.2 153.2h0M88.0 149.7h0M95.0 152.4h0M78.5 160.6h0M82.6 150.4h0M83.3 162.2h0M84.5 160.8h0M76.7 158.1h0M91.0 159.6h0M91.0 165.8h0M85.9 164.1h0M87.2 160.3h0M85.2 166.6h0M93.7 161.3h0M63.5 163.5h0M70.3 164.4h0M72.3 161.0h0M73.1 166.1h0M74.8 164.9h0M69.6 164.6h0M66.7 162.9h0M130.5 147.7h0M117.6 149.7h0M118.8 146.6h0M118.8 146.6h0M118.7 145.0h0M119.9 160.9h0M123.2 170.1h0M123.6 164.7h0M108.7 169.1h0M113.6 160.6h0M109.9 164.2h0M111.9 171.5h0M114.2 165.0h0M121.0 169.0h0M111.4 166.6h0M105.6 167.1h0M103.0 168.8h0M126.4 164.4h0M108.3 167.3h0M122.1 164.7h0M123.8 166.0h0M106.4 168.4h0M103.8 149.2h0M95.0 150.8h0M110.3 152.5h0M107.2 151.2h0M102.1 190.0h0M114.9 190.5h0M121.0 183.3h0M131.1 196.3h0M123.9 196.4h0M114.2 192.7h0M132.4 193.0h0M131.6 181.8h0M103.9 188.2h0M125.8 179.7h0M136.0 188.5h0M144.9 189.3h0M122.0 195.5h0M121.0 182.7h0M126.9 188.4h0M142.7 185.4h0M149.2 188.5h0M115.5 180.8h0M110.9 184.9h0M122.5 193.7h0M108.4 182.9h0M138.0 180.5h0M117.9 181.7h0M136.8 181.5h0M111.8 193.1h0M135.2 189.8h0M113.2 178.9h0M131.1 190.0h0M113.6 194.3h0M125.7 185.3h0M131.2 183.3h0M132.4 187.0h0M127.6 179.0h0M139.1 179.9h0M133.5 195.7h0M108.7 184.4h0M125.9 196.6h0M137.0 190.2h0M126.0 184.3h0M147.4 189.6h0M150.3 185.4h0M143.3 182.9h0M150.6 185.1h0M126.8 210.1h0M133.9 223.8h0M136.6 218.2h0M143.1 221.5h0M137.9 221.2h0M137.4 220.5h0M144.4 220.0h0M141.3 221.5h0M147.1 213.8h0M141.4 215.7h0M144.1 217.7h0M146.7 216.6h0M143.8 217.8h0M180.7 70.9h0M177.0 81.9h0M175.4 76.6h0M189.6 73.9h0M183.9 73.3h0M179.2 79.8h0M179.9 83.5h0M188.1 80.1h0M194.3 82.3h0M201.4 81.6h0M192.9 77.8h0M195.0 84.2h0M201.1 79.9h0M199.9 78.8h0M212.8 88.6h0M228.7 91.8h0M230.1 88.0h0M157.5 104.2h0M153.5 103.8h0M154.6 125.1h0M159.2 121.9h0M164.1 123.3h0M148.3 122.7h0M168.0 122.0h0M150.4 123.8h0M153.4 119.2h0M156.7 122.8h0M184.9 103.6h0M182.0 101.4h0M180.8 100.2h0M185.8 98.5h0M178.7 100.7h0M190.9 109.4h0M190.1 111.4h0M187.7 110.2h0M192.8 111.6h0M204.6 113.1h0M201.0 112.8h0M198.4 110.8h0M207.4 100.4h0M211.9 99.4h0M213.9 109.8h0M215.2 110.2h0M211.9 110.3h0M236.5 123.9h0M242.3 114.0h0M241.7 120.3h0M230.0 123.6h0M228.0 113.8h0M236.9 124.0h0M235.0 122.5h0M237.0 118.0h0M235.9 115.4h0M243.0 116.5h0M238.3 112.4h0M236.7 124.0h0M233.7 118.6h0M235.0 121.6h0M238.4 120.6h0M232.1 116.9h0M192.2 130.1h0M192.6 132.2h0M205.2 129.3h0M205.6 135.3h0M200.2 135.8h0M202.9 139.4h0M197.8 135.1h0M205.9 131.3h0M199.6 132.1h0M203.5 140.4h0M209.1 134.8h0M188.6 136.1h0M187.2 136.3h0M190.3 136.2h0M192.0 142.9h0M190.6 134.0h0M189.9 136.4h0M189.6 142.0h0M198.5 126.4h0M200.8 124.9h0M210.4 130.6h0M160.8 149.6h0M158.2 152.6h0M153.4 153.2h0M156.3 138.7h0M152.7 152.3h0M152.8 144.7h0M146.3 147.3h0M156.5 147.6h0M153.8 155.2h0M153.5 150.4h0M152.8 148.2h0M149.5 147.2h0M169.6 147.8h0M162.2 143.1h0M164.0 145.8h0M162.7 144.3h0M161.1 143.4h0M164.9 148.1h0M159.7 154.8h0M165.9 152.9h0M166.3 162.2h0M159.9 155.1h0M169.5 155.7h0M158.4 155.5h0M160.3 158.8h0M170.9 160.5h0M144.3 156.8h0M148.8 154.9h0M151.8 163.9h0M150.2 161.0h0M144.1 158.3h0M159.5 140.7h0M146.6 142.7h0M145.1 140.4h0M147.4 145.6h0M146.1 140.9h0M171.8 164.2h0M175.0 166.1h0M171.6 173.2h0M167.8 168.6h0M179.2 171.2h0M166.9 172.0h0M162.0 169.3h0M173.2 172.0h0M160.3 176.0h0M146.6 186.4h0M152.5 186.8h0M148.6 185.2h0M147.2 191.5h0M145.9 185.9h0M147.7 183.7h0M166.9 186.1h0M172.6 190.5h0M173.8 190.3h0M156.2 202.9h0M158.1 201.2h0M217.3 167.0h0M232.0 169.6h0M215.5 160.6h0M214.3 170.8h0M216.9 171.2h0M216.4 180.6h0M222.1 159.7h0M212.1 168.2h0M223.6 167.7h0M233.0 164.8h0M221.7 161.1h0M226.2 174.6h0M230.5 171.3h0M215.8 172.8h0M218.4 158.2h0M227.2 158.2h0M231.0 172.9h0M222.8 166.8h0M212.9 163.2h0M229.0 168.3h0M222.2 152.8h0M225.7 148.6h0M220.0 151.0h0M220.1 147.1h0M217.9 153.6h0M228.6 147.8h0M215.6 148.9h0M214.6 153.2h0M217.6 150.2h0M229.7 148.7h0M225.9 156.1h0M225.5 155.3h0M226.4 153.1h0M195.8 157.7h0M201.8 153.3h0M195.9 158.7h0M198.6 153.4h0M194.2 156.4h0M206.3 156.3h0M202.3 154.5h0M198.8 169.4h0M197.4 167.6h0M196.6 175.1h0M198.1 176.4h0M195.2 176.9h0M196.2 176.3h0M240.2 141.7h0M248.3 148.0h0M252.7 146.7h0M240.7 142.3h0M245.0 140.9h0M244.5 140.0h0M242.0 140.9h0M241.4 140.7h0M240.0 141.6h0M250.3 147.6h0M254.5 143.8h0M248.8 141.2h0M238.9 142.1h0M249.0 139.2h0M253.3 142.7h0"/>
<path stroke="#e0a0c8" stroke-width="0.95" stroke-linecap="square" fill="none" d="M121.3 66.6h0M138.0 74.6h0M122.5 77.1h0M135.1 72.2h0M123.4 72.4h0M129.0 67.4h0M117.9 71.0h0M140.4 70.8h0M126.6 75.1h0M132.8 74.7h0M120.6 75.7h0M136.7 73.8h0M121.7 82.3h0M137.3 76.3h0M129.7 78.9h0M134.3 81.1h0M126.6 79.5h0M122.0 71.6h0M120.9 65.1h0M136.8 66.0h0M138.1 72.6h0M131.4 77.3h0M126.7 69.3h0M136.9 70.3h0M139.4 70.6h0M130.6 76.4h0M119.1 78.9h0M121.8 64.2h0M126.6 79.6h0M123.5 80.8h0M119.8 73.8h0M130.0 62.5h0M144.2 90.8h0M139.3 85.1h0M142.7 92.0h0M142.9 87.6h0M141.8 87.4h0M60.6 100.4h0M60.2 98.5h0M73.4 101.7h0M71.3 96.7h0M56.5 98.9h0M64.0 99.3h0M87.2 100.3h0M76.7 110.2h0M90.5 100.5h0M91.4 107.5h0M92.8 106.4h0M97.6 102.6h0M85.0 110.0h0M74.0 106.2h0M90.9 104.1h0M86.7 102.9h0M74.1 104.4h0M96.7 101.0h0M77.9 105.2h0M85.6 105.2h0M76.8 109.1h0M72.6 112.8h0M87.0 107.7h0M79.5 108.4h0M70.7 111.2h0M69.0 106.9h0M90.6 107.2h0M82.6 102.9h0M91.6 106.6h0M90.1 101.3h0M86.1 105.6h0M68.9 110.1h0M81.7 108.3h0M87.6 101.8h0M83.0 101.7h0M77.9 104.0h0M81.7 108.8h0M83.4 101.7h0M72.9 110.9h0M65.6 107.5h0M88.5 106.7h0M93.5 103.9h0M65.1 107.5h0M90.1 107.1h0M76.4 110.8h0M93.4 106.6h0M86.8 106.3h0M73.6 105.6h0M90.2 101.2h0M79.2 105.9h0M85.5 108.1h0M77.9 103.0h0M71.1 108.9h0M76.9 103.1h0M91.3 105.5h0M75.7 104.4h0M82.9 110.0h0M92.9 102.1h0M75.1 110.1h0M81.5 107.9h0M95.4 103.3h0M73.9 110.6h0M87.7 102.1h0M76.2 112.0h0M96.9 104.1h0M79.4 102.9h0M96.9 101.3h0M91.3 101.1h0M79.9 104.9h0M90.1 100.1h0M94.2 105.1h0M76.0 109.2h0M70.9 111.6h0M73.8 103.4h0M69.7 107.4h0M77.0 117.2h0M73.8 119.9h0M75.5 114.9h0M74.1 117.7h0M75.3 117.4h0M72.0 116.3h0M75.6 118.8h0M72.9 118.3h0M80.2 111.7h0M84.5 92.2h0M100.4 98.2h0M95.3 97.1h0M83.5 91.2h0M83.9 92.8h0M86.8 87.5h0M91.1 89.2h0M93.9 94.5h0M94.8 92.1h0M94.0 96.2h0M90.1 96.0h0M99.6 86.6h0M98.1 87.7h0M96.6 81.3h0M98.7 87.2h0M94.6 83.7h0M103.1 76.8h0M104.1 91.8h0M104.3 81.1h0M107.2 86.8h0M105.7 78.5h0M102.6 78.6h0M102.4 87.6h0M104.0 80.6h0M117.5 85.9h0M113.1 92.6h0M116.3 83.8h0M116.4 83.3h0M111.9 86.7h0M112.8 93.2h0M113.1 89.6h0M116.9 82.1h0M114.0 81.5h0M113.9 82.0h0M115.2 81.9h0M111.1 94.2h0M115.8 79.9h0M122.4 88.5h0M126.9 90.4h0M125.5 90.2h0M124.8 92.9h0M120.5 90.3h0M131.3 100.0h0M135.3 102.1h0M123.4 104.5h0M123.7 104.0h0M123.0 103.9h0M124.6 100.5h0M132.0 103.1h0M127.8 99.4h0M124.2 103.3h0M126.1 99.2h0M130.2 111.9h0M119.2 110.8h0M125.5 109.1h0M117.4 107.1h0M123.3 112.2h0M123.6 106.6h0M128.0 108.9h0M126.1 112.2h0M126.3 109.4h0M116.1 106.1h0M131.5 114.1h0M116.9 107.6h0M108.4 101.7h0M109.8 103.2h0M108.7 91.5h0M120.9 101.2h0M113.8 103.2h0M114.5 99.1h0M104.9 105.3h0M100.8 98.5h0M109.2 92.9h0M119.0 99.8h0M100.3 105.5h0M110.7 97.2h0M106.3 94.2h0M100.7 101.4h0M109.3 93.0h0M105.4 95.8h0M120.6 98.8h0M110.5 104.2h0M97.7 99.7h0M110.5 104.7h0M100.4 98.2h0M112.4 95.0h0M111.5 105.8h0M95.9 104.1h0M102.0 92.9h0M94.6 101.5h0M118.6 102.3h0M97.7 98.6h0M102.0 108.4h0M112.6 106.0h0M105.7 101.3h0M112.4 93.9h0M119.3 102.8h0M118.7 101.0h0M109.0 92.3h0M103.4 96.3h0M102.8 107.1h0M100.6 110.9h0M95.6 114.4h0M76.8 86.4h0M75.7 86.9h0M76.1 86.1h0M76.8 86.3h0M74.1 87.4h0M74.4 86.3h0M77.9 88.9h0M76.6 86.3h0M71.3 88.3h0M72.4 86.6h0M73.2 87.2h0M74.4 86.3h0M74.1 91.2h0M73.6 90.2h0M74.5 91.2h0M78.4 123.9h0M96.2 122.2h0M86.6 119.7h0M83.5 125.5h0M81.2 119.9h0M79.2 126.3h0M77.2 121.8h0M91.6 119.7h0M94.2 123.7h0M85.7 121.1h0M78.4 123.8h0M106.8 124.0h0M108.9 115.7h0M99.1 119.5h0M107.9 121.1h0M101.1 116.5h0M104.1 115.5h0M111.3 121.2h0M104.3 114.8h0M105.3 119.2h0M110.1 125.0h0M111.2 125.3h0M103.4 119.8h0M102.6 115.6h0M104.3 124.9h0M105.1 128.2h0M113.0 123.8h0M113.9 122.4h0M107.7 117.8h0M105.7 125.3h0M113.4 118.1h0M102.6 121.0h0M99.5 120.2h0M107.6 121.8h0M105.5 126.2h0M113.7 120.5h0M111.1 124.6h0M108.5 123.8h0M100.2 120.4h0M105.9 124.9h0M108.6 117.2h0M105.5 124.1h0M109.7 117.8h0M111.8 119.1h0M100.7 122.3h0M110.3 120.0h0M107.8 127.8h0M103.7 127.4h0M113.5 122.5h0M99.0 123.2h0M102.5 122.2h0M112.1 116.9h0M111.4 120.9h0M105.5 125.9h0M108.2 121.8h0M108.5 127.4h0M100.9 122.1h0M142.0 121.8h0M119.4 127.1h0M122.1 132.7h0M141.0 128.6h0M127.9 118.9h0M126.9 132.7h0M123.6 121.7h0M126.8 127.8h0M141.0 120.7h0M129.3 134.0h0M124.6 131.9h0M135.5 119.6h0M137.3 135.2h0M126.1 120.1h0M138.2 127.8h0M131.6 135.6h0M126.2 115.7h0M136.6 130.4h0M130.1 124.4h0M136.6 124.3h0M130.1 121.2h0M138.0 123.2h0M140.4 130.9h0M120.7 132.5h0M131.4 119.1h0M130.9 131.0h0M126.5 120.6h0M122.6 122.5h0M140.7 119.0h0M125.2 130.3h0M120.3 128.2h0M131.3 134.8h0M126.4 132.2h0M87.2 137.5h0M92.2 135.6h0M104.6 132.4h0M87.6 135.0h0M94.0 135.5h0M77.3 135.3h0M78.1 133.9h0M105.0 133.5h0M95.7 139.1h0M77.4 135.9h0M89.6 138.1h0M90.7 136.3h0M93.1 136.6h0M97.6 135.6h0M78.9 140.6h0M91.9 133.9h0M85.3 136.4h0M99.4 141.3h0M90.7 139.9h0M97.8 138.3h0M80.8 135.8h0M85.0 137.7h0M85.6 136.1h0M92.6 140.4h0M101.2 137.4h0M84.9 131.6h0M106.6 136.1h0M84.9 139.2h0M100.3 133.0h0M95.5 136.9h0M88.5 141.6h0M104.4 135.8h0M80.3 132.6h0M50.7 149.8h0M51.7 157.3h0M60.6 159.0h0M54.5 151.1h0M56.8 147.0h0M57.2 149.7h0M60.2 151.3h0M54.8 149.4h0M60.6 153.5h0M54.9 149.2h0M54.5 152.3h0M59.2 145.8h0M67.6 149.4h0M66.0 150.1h0M51.3 156.5h0M62.6 152.7h0M86.9 150.2h0M94.0 157.2h0M81.5 154.9h0M74.7 154.5h0M85.3 156.7h0M84.8 149.8h0M95.6 157.6h0M81.9 152.0h0M89.6 155.7h0M87.4 156.2h0M73.3 157.0h0M93.6 159.0h0M92.7 160.0h0M84.5 151.9h0M77.5 154.7h0M82.6 152.6h0M91.0 158.5h0M85.1 160.9h0M83.9 153.6h0M90.0 155.2h0M83.7 152.7h0M82.7 150.0h0M89.3 149.7h0M91.4 150.0h0M92.9 156.7h0M89.0 158.6h0M89.4 148.6h0M79.5 155.7h0M82.9 157.2h0M96.2 154.0h0M94.2 163.3h0M87.1 160.0h0M90.0 166.4h0M92.9 165.1h0M86.9 158.6h0M91.3 160.4h0M95.2 162.2h0M80.0 164.5h0M71.9 162.1h0M69.9 166.4h0M67.9 167.7h0M68.4 161.8h0M64.3 164.5h0M67.6 168.5h0M70.4 167.2h0M71.7 160.0h0M71.4 159.7h0M68.5 165.9h0M70.7 165.3h0M123.4 148.1h0M118.2 149.6h0M117.8 146.9h0M123.2 149.5h0M129.2 150.0h0M127.6 147.2h0M110.7 149.2h0M129.8 150.7h0M121.4 151.8h0M112.0 165.7h0M131.5 164.2h0M122.7 170.2h0M105.3 170.8h0M130.9 164.7h0M113.5 161.3h0M113.0 171.2h0M123.6 160.9h0M124.2 169.9h0M126.8 166.7h0M115.2 169.6h0M122.2 162.4h0M122.5 170.0h0M120.4 171.4h0M127.6 160.5h0M128.8 167.6h0M125.5 161.6h0M118.7 160.7h0M128.8 166.7h0M117.3 168.3h0M120.1 166.2h0M117.5 161.4h0M122.7 167.9h0M127.3 166.6h0M124.4 164.1h0M116.5 163.5h0M116.3 169.7h0M123.3 166.3h0M126.8 163.8h0M125.0 160.7h0M121.1 159.4h0M108.0 151.5h0M109.0 150.6h0M106.4 148.3h0M103.8 155.8h0M102.2 149.6h0M103.7 150.6h0M98.7 155.0h0M103.7 150.2h0M100.6 152.1h0M118.9 189.4h0M126.6 177.6h0M132.2 186.5h0M144.7 192.4h0M117.2 183.5h0M113.2 194.0h0M134.5 193.9h0M135.6 189.3h0M131.4 180.6h0M111.9 191.2h0M141.3 182.8h0M141.4 190.8h0M143.5 190.8h0M102.5 190.6h0M129.9 192.9h0M134.8 179.7h0M139.9 191.9h0M114.8 189.9h0M132.3 197.0h0M134.2 193.0h0M110.8 193.3h0M112.4 195.3h0M114.9 192.7h0M140.9 187.3h0M123.0 180.0h0M126.5 193.9h0M121.9 181.6h0M118.0 179.1h0M117.8 181.1h0M135.2 191.5h0M118.4 189.9h0M111.2 183.7h0M140.5 192.3h0M122.4 194.8h0M114.9 188.8h0M101.1 187.7h0M146.2 187.7h0M138.1 182.3h0M135.0 178.5h0M140.6 195.3h0M126.5 187.5h0M140.2 192.4h0M114.7 185.9h0M129.5 181.0h0M111.6 191.8h0M121.4 197.1h0M145.8 184.0h0M145.0 184.1h0M123.7 194.4h0M150.1 185.5h0M149.1 185.3h0M142.9 184.7h0M146.8 187.6h0M147.6 183.4h0M128.5 211.0h0M131.7 212.7h0M129.7 211.4h0M137.3 209.9h0M135.5 208.0h0M131.0 210.8h0M143.8 220.8h0M143.7 221.5h0M136.9 217.1h0M140.3 223.1h0M145.8 220.3h0M135.2 216.5h0M135.2 217.5h0M145.1 218.4h0M145.9 220.0h0M137.8 215.9h0M133.1 220.8h0M143.1 216.0h0M148.5 215.4h0M146.8 217.9h0M148.5 213.9h0M146.2 215.6h0M187.1 78.4h0M180.6 81.8h0M181.7 72.3h0M179.3 79.2h0M186.7 76.2h0M179.7 85.3h0M191.1 77.5h0M177.8 84.4h0M176.1 80.4h0M177.7 80.5h0M178.3 76.1h0M182.9 84.0h0M182.3 72.9h0M179.1 78.4h0M196.8 87.1h0M197.6 80.3h0M199.5 77.0h0M196.1 86.7h0M194.1 80.0h0M195.8 80.5h0M196.0 86.7h0M154.4 91.5h0M153.8 95.2h0M156.0 99.7h0M156.4 104.8h0M159.0 104.4h0M153.6 103.9h0M159.7 104.7h0M156.1 107.9h0M155.8 104.1h0M156.0 105.6h0M155.5 104.7h0M155.9 107.2h0M156.6 106.1h0M154.1 107.8h0M154.3 105.8h0M157.7 107.1h0M158.8 106.0h0M151.4 106.6h0M157.2 106.0h0M171.1 114.0h0M167.6 113.6h0M154.6 122.8h0M161.9 123.1h0M178.9 101.7h0M185.9 100.6h0M189.2 100.4h0M185.9 102.0h0M190.5 108.3h0M193.3 112.1h0M187.3 109.4h0M200.9 110.2h0M204.2 111.7h0M202.1 113.0h0M201.8 108.9h0M198.5 109.8h0M212.5 95.3h0M210.4 94.8h0M213.0 97.5h0M212.1 97.6h0M215.0 96.2h0M222.0 94.9h0M213.9 109.4h0M218.2 109.9h0M210.6 108.2h0M223.2 115.1h0M230.7 119.6h0M228.2 114.0h0M235.9 110.8h0M227.8 117.6h0M242.0 121.6h0M229.6 118.9h0M234.7 119.5h0M233.6 125.0h0M237.7 123.7h0M233.4 111.1h0M238.5 120.1h0M235.0 114.4h0M239.4 113.8h0M228.1 116.0h0M229.1 121.8h0M227.8 115.9h0M240.7 113.9h0M233.3 113.6h0M238.7 117.3h0M229.3 118.2h0M233.2 115.3h0M228.2 114.9h0M233.9 121.5h0M239.1 114.1h0M232.7 121.2h0M238.2 123.4h0M232.0 122.1h0M189.5 131.0h0M192.5 133.8h0M193.7 128.1h0M186.1 128.9h0M194.8 134.0h0M199.6 127.5h0M203.0 125.0h0M197.2 123.3h0M197.3 130.3h0M195.9 129.0h0M202.5 128.6h0M201.4 126.7h0M194.8 133.1h0M190.2 129.0h0M203.9 126.8h0M194.4 128.8h0M193.7 123.2h0M204.2 131.0h0M199.6 132.3h0M200.1 136.2h0M214.4 133.2h0M203.2 135.1h0M211.1 134.8h0M207.8 127.9h0M211.4 129.9h0M213.0 132.0h0M212.5 136.1h0M207.5 130.1h0M197.4 134.3h0M211.4 140.4h0M203.7 141.4h0M205.7 140.5h0M208.7 132.1h0M208.6 138.9h0M199.4 137.7h0M191.5 142.4h0M194.7 135.9h0M192.5 142.6h0M187.8 139.7h0M188.0 140.8h0M195.1 135.9h0M194.3 135.9h0M187.9 140.9h0M190.4 142.5h0M190.2 137.8h0M195.1 140.5h0M202.3 126.5h0M198.6 123.9h0M199.8 124.1h0M197.9 121.1h0M201.7 127.2h0M189.8 124.7h0M192.7 123.9h0M194.5 121.1h0M213.9 128.9h0M211.1 126.0h0M211.1 127.1h0M150.2 144.4h0M151.4 143.5h0M156.6 140.0h0M149.3 153.3h0M161.5 146.7h0M157.2 144.8h0M159.3 145.3h0M161.2 150.3h0M158.3 147.5h0M156.4 146.0h0M160.0 149.5h0M157.0 154.9h0M163.2 141.0h0M148.2 152.7h0M152.6 152.7h0M151.5 144.1h0M164.2 143.5h0M164.4 145.0h0M167.7 147.4h0M161.4 145.7h0M172.7 146.9h0M170.4 144.1h0M168.4 144.4h0M169.7 151.3h0M164.5 140.3h0M161.4 158.6h0M159.6 155.8h0M161.9 155.6h0M170.6 161.7h0M161.9 152.3h0M172.8 154.4h0M172.7 155.6h0M162.3 158.3h0M162.1 163.3h0M170.5 155.5h0M167.5 161.3h0M172.9 163.1h0M162.7 163.4h0M163.5 165.6h0M151.4 160.1h0M146.9 163.8h0M148.0 164.4h0M144.6 158.2h0M155.6 164.7h0M146.7 163.0h0M143.6 162.2h0M150.6 166.7h0M162.0 137.1h0M145.0 143.2h0M144.7 140.1h0M175.1 166.4h0M174.0 169.5h0M166.9 172.4h0M175.5 173.1h0M170.7 177.2h0M159.7 175.6h0M168.5 173.1h0M168.8 177.6h0M169.4 174.1h0M176.3 174.6h0M179.8 171.6h0M161.1 170.7h0M160.8 175.2h0M161.0 171.1h0M149.8 183.1h0M148.6 181.4h0M142.1 184.0h0M149.5 183.7h0M141.5 184.9h0M142.0 188.1h0M148.1 186.6h0M142.4 186.3h0M147.6 191.4h0M152.3 185.2h0M145.0 188.7h0M150.8 187.6h0M149.8 183.8h0M151.0 188.9h0M147.3 182.6h0M144.1 188.4h0M141.4 188.6h0M147.1 190.1h0M145.7 189.2h0M141.1 188.9h0M149.1 182.2h0M151.5 186.6h0M145.7 186.1h0M151.0 187.9h0M168.5 188.3h0M167.0 183.6h0M163.6 188.9h0M170.6 187.2h0M176.6 188.0h0M176.4 188.1h0M152.5 202.7h0M230.0 176.4h0M216.7 158.6h0M219.9 170.4h0M220.0 179.0h0M225.8 158.0h0M223.8 157.2h0M223.1 160.5h0M222.7 161.6h0M223.9 179.4h0M219.3 178.3h0M214.0 178.5h0M222.1 173.7h0M215.8 170.4h0M212.3 161.8h0M211.8 170.6h0M229.7 177.3h0M223.1 165.7h0M231.8 169.1h0M215.1 176.4h0M211.6 170.2h0M217.0 162.9h0M222.2 165.8h0M210.7 175.0h0M229.9 169.0h0M226.4 160.6h0M226.1 164.9h0M217.3 168.3h0M210.1 163.8h0M233.4 171.3h0M210.4 166.3h0M222.6 152.0h0M211.7 150.7h0M211.6 150.3h0M212.3 149.9h0M229.2 153.8h0M214.6 155.7h0M215.8 157.9h0M225.4 149.7h0M227.2 155.1h0M228.8 151.7h0M222.1 148.4h0M221.8 152.3h0M239.2 168.4h0M235.8 170.1h0M224.9 157.4h0M194.0 155.5h0M204.8 152.8h0M195.8 153.2h0M198.6 159.5h0M208.0 157.0h0M198.2 171.1h0M201.5 167.2h0M201.3 166.9h0M199.7 175.6h0M194.1 176.7h0M243.4 146.4h0M247.5 142.2h0M244.0 141.0h0M238.7 142.1h0M247.7 147.2h0M250.3 145.4h0M247.1 146.2h0M243.8 148.1h0M250.5 139.0h0M250.8 144.8h0M251.4 147.1h0M254.5 143.7h0"/>
<path stroke="#c8c8c8" stroke-width="0.95" stroke-linecap="square" fill="none" d="M126.0 71.1h0M137.0 66.1h0M122.4 78.4h0M118.8 80.4h0M128.0 69.9h0M129.4 77.3h0M125.9 82.1h0M138.2 78.7h0M134.1 76.3h0M132.5 64.1h0M138.0 66.6h0M131.9 75.9h0M120.3 66.5h0M115.6 75.5h0M130.7 76.6h0M125.5 72.2h0M133.3 69.8h0M141.0 71.6h0M130.6 76.1h0M137.6 92.4h0M75.5 93.2h0M68.5 100.0h0M76.8 103.5h0M84.1 109.9h0M70.6 111.5h0M80.3 106.6h0M92.6 101.6h0M83.7 107.8h0M72.7 108.9h0M85.5 100.7h0M62.8 110.4h0M87.8 108.8h0M84.9 106.8h0M83.6 107.8h0M80.6 104.1h0M88.4 107.6h0M71.1 115.3h0M79.9 109.6h0M85.6 113.4h0M77.7 113.6h0M70.0 116.9h0M80.6 110.6h0M76.3 114.7h0M79.4 116.7h0M88.9 92.5h0M88.1 89.4h0M95.3 93.2h0M93.3 93.5h0M84.2 92.0h0M88.5 95.0h0M84.5 86.8h0M93.4 85.7h0M99.6 92.5h0M97.2 88.4h0M94.8 85.2h0M93.4 88.1h0M99.3 91.3h0M103.3 79.4h0M103.3 87.5h0M100.7 83.6h0M106.3 85.7h0M103.8 92.1h0M104.5 87.9h0M110.3 86.8h0M112.5 91.4h0M111.4 84.3h0M113.0 88.9h0M115.4 85.2h0M122.7 94.8h0M118.8 96.7h0M116.9 92.3h0M120.5 90.7h0M122.2 90.7h0M128.6 90.5h0M136.2 101.3h0M127.3 101.8h0M139.4 103.6h0M129.4 100.6h0M138.4 103.4h0M138.2 102.2h0M131.0 100.7h0M125.8 98.9h0M121.5 107.5h0M126.2 109.3h0M125.0 113.1h0M129.5 110.6h0M131.4 113.1h0M123.0 106.4h0M126.9 111.8h0M127.5 111.6h0M128.9 110.2h0M117.4 103.6h0M113.7 104.8h0M109.1 107.7h0M105.6 105.0h0M107.1 98.1h0M112.5 94.2h0M111.2 91.6h0M119.9 102.4h0M100.5 105.3h0M111.1 91.6h0M104.7 98.3h0M95.7 105.0h0M99.8 98.2h0M100.7 101.3h0M98.2 100.2h0M115.7 98.4h0M99.0 97.2h0M95.7 101.9h0M97.5 107.1h0M99.0 111.9h0M99.0 105.3h0M99.2 106.6h0M97.4 106.0h0M74.8 86.6h0M74.8 90.8h0M93.5 120.9h0M77.9 123.3h0M93.0 120.3h0M78.8 120.9h0M84.1 122.8h0M87.2 126.4h0M80.8 123.5h0M86.6 121.8h0M88.9 125.5h0M93.0 118.9h0M79.5 126.3h0M94.5 120.2h0M84.9 120.8h0M85.2 124.8h0M80.0 119.4h0M83.3 120.2h0M95.7 119.0h0M105.5 123.0h0M110.7 114.9h0M109.6 122.1h0M109.3 126.7h0M102.8 124.8h0M104.8 122.8h0M101.2 119.0h0M130.7 125.5h0M136.1 125.4h0M140.4 129.6h0M131.0 125.1h0M140.8 121.4h0M125.7 117.2h0M142.2 125.1h0M129.2 124.5h0M133.7 115.6h0M136.4 121.8h0M142.9 124.7h0M142.1 128.8h0M127.2 125.0h0M138.0 126.1h0M140.9 126.2h0M120.9 123.4h0M123.8 126.0h0M126.0 118.6h0M128.1 135.2h0M85.7 132.0h0M89.0 137.8h0M86.0 139.5h0M90.9 133.3h0M94.9 141.3h0M88.0 131.2h0M97.2 139.7h0M88.7 131.3h0M86.1 133.9h0M77.6 133.8h0M90.5 134.0h0M85.6 139.9h0M75.0 136.5h0M75.4 136.5h0M83.5 139.4h0M59.7 147.3h0M54.4 152.8h0M57.1 150.0h0M58.4 150.2h0M67.3 151.4h0M57.4 159.5h0M59.7 158.4h0M52.9 155.5h0M52.5 153.6h0M68.0 151.8h0M66.9 152.4h0M62.9 147.9h0M76.2 151.9h0M86.8 159.8h0M89.8 155.4h0M95.6 156.3h0M80.6 150.8h0M86.2 149.2h0M75.6 152.2h0M90.0 159.2h0M92.5 150.2h0M91.8 152.4h0M81.8 151.0h0M89.2 152.3h0M90.6 157.7h0M75.4 152.6h0M73.0 157.8h0M86.6 151.9h0M81.3 166.0h0M88.0 164.4h0M84.1 159.1h0M87.1 165.3h0M87.6 166.8h0M91.4 163.8h0M85.5 163.9h0M85.7 162.3h0M80.5 161.6h0M84.1 158.6h0M89.1 164.5h0M64.8 166.4h0M66.8 166.5h0M68.2 162.7h0M126.4 149.7h0M110.6 146.5h0M115.1 146.8h0M116.6 151.9h0M121.2 149.1h0M118.4 144.9h0M128.0 145.6h0M132.7 148.7h0M127.2 152.1h0M117.1 146.0h0M119.7 162.7h0M114.3 163.6h0M128.1 168.1h0M124.9 162.5h0M117.4 168.5h0M127.4 159.8h0M127.1 160.0h0M124.2 164.5h0M115.7 161.9h0M117.1 168.5h0M119.7 162.7h0M122.4 170.4h0M118.5 169.2h0M114.5 164.0h0M121.1 166.7h0M111.1 152.8h0M103.9 151.8h0M121.6 181.8h0M117.7 186.8h0M112.3 188.3h0M134.2 185.6h0M137.7 189.4h0M141.2 182.4h0M118.0 193.7h0M140.1 182.0h0M111.0 190.8h0M128.1 190.0h0M133.8 184.3h0M147.8 191.0h0M136.7 190.1h0M117.1 182.8h0M126.3 182.4h0M129.1 183.1h0M108.1 192.0h0M103.9 184.5h0M111.2 190.3h0M117.8 192.0h0M126.4 188.3h0M124.0 184.0h0M113.8 187.0h0M140.1 192.4h0M109.6 194.7h0M129.7 181.9h0M125.5 187.1h0M138.9 192.0h0M104.4 186.7h0M120.3 193.3h0M144.1 188.9h0M104.3 183.9h0M146.3 184.6h0M119.2 188.2h0M129.7 198.0h0M115.8 197.5h0M135.7 178.7h0M128.1 181.3h0M145.5 183.7h0M137.4 180.9h0M126.1 183.1h0M112.8 184.8h0M146.3 181.5h0M143.1 181.7h0M148.8 181.4h0M151.7 185.7h0M131.3 209.1h0M128.2 211.7h0M125.7 209.5h0M129.4 209.0h0M128.7 212.2h0M143.9 220.1h0M138.5 217.7h0M142.5 219.8h0M138.3 217.6h0M143.8 214.2h0M144.8 217.0h0M189.8 79.6h0M182.8 82.8h0M177.4 73.0h0M187.3 76.1h0M185.7 76.7h0M199.6 77.6h0M200.1 82.6h0M194.8 86.3h0M197.2 84.2h0M199.0 77.5h0M206.1 88.3h0M215.0 87.4h0M212.8 88.7h0M225.6 90.0h0M226.1 90.6h0M229.8 87.9h0M158.8 93.5h0M151.6 103.8h0M167.0 112.0h0M171.2 113.1h0M152.8 123.7h0M151.6 122.1h0M153.2 124.0h0M168.9 121.5h0M180.7 104.1h0M181.4 99.0h0M193.6 111.7h0M190.8 110.0h0M199.5 109.0h0M201.5 108.4h0M200.5 109.7h0M216.4 99.1h0M207.6 99.0h0M218.2 109.0h0M211.3 106.1h0M215.2 109.3h0M220.1 115.3h0M222.1 115.4h0M220.9 115.7h0M243.4 116.3h0M232.0 121.1h0M236.5 117.2h0M233.4 118.7h0M228.0 121.4h0M236.2 112.6h0M227.2 120.8h0M231.5 116.8h0M234.6 118.3h0M228.9 117.8h0M229.9 122.7h0M228.6 123.1h0M228.9 123.5h0M234.7 122.5h0M233.9 121.6h0M231.4 118.7h0M233.4 115.8h0M237.3 116.7h0M235.8 123.2h0M191.9 130.8h0M195.8 128.3h0M196.8 132.6h0M198.8 123.5h0M189.1 127.6h0M195.7 122.8h0M198.7 126.2h0M213.4 134.8h0M203.6 137.3h0M202.5 137.7h0M202.7 132.5h0M209.6 135.0h0M206.1 130.1h0M205.1 138.0h0M212.1 136.5h0M203.6 128.3h0M203.7 130.1h0M200.7 139.1h0M204.9 139.7h0M207.7 130.4h0M197.3 137.1h0M193.1 136.9h0M190.6 137.6h0M194.1 139.5h0M197.5 138.6h0M188.3 139.7h0M204.5 125.3h0M200.5 126.6h0M190.4 123.6h0M211.6 130.2h0M208.1 125.9h0M162.0 145.7h0M147.4 146.9h0M155.2 143.9h0M151.4 145.6h0M146.3 152.1h0M151.7 152.5h0M152.6 143.9h0M155.7 153.1h0M161.7 150.4h0M145.0 146.7h0M166.8 145.8h0M170.8 148.8h0M172.9 150.5h0M171.3 146.5h0M166.3 145.9h0M171.1 149.3h0M172.6 142.6h0M162.9 142.1h0M164.4 147.0h0M161.4 155.6h0M160.9 153.4h0M159.2 159.6h0M170.0 163.1h0M165.1 154.9h0M165.0 155.5h0M162.9 157.1h0M156.0 155.3h0M170.9 163.7h0M145.4 159.6h0M156.1 162.4h0M146.4 164.5h0M161.4 143.0h0M162.9 138.9h0M148.4 144.7h0M145.3 141.7h0M145.1 141.1h0M171.8 166.1h0M168.1 178.5h0M157.9 173.5h0M169.8 176.7h0M164.4 171.1h0M169.8 171.4h0M167.6 173.2h0M164.1 177.7h0M173.2 176.1h0M163.7 174.8h0M163.9 175.3h0M171.4 175.2h0M168.4 169.2h0M164.6 175.2h0M171.9 174.2h0M178.9 171.3h0M149.7 190.2h0M147.4 183.6h0M151.0 187.4h0M147.3 190.6h0M141.9 190.0h0M176.6 185.9h0M166.0 190.7h0M162.4 190.1h0M169.6 184.6h0M165.5 185.5h0M169.3 184.2h0M164.5 188.1h0M154.3 203.4h0M155.9 200.3h0M155.3 202.7h0M229.1 168.6h0M227.4 156.3h0M227.6 175.5h0M232.1 169.9h0M220.7 170.3h0M211.5 166.1h0M227.7 177.7h0M232.3 167.3h0M215.7 176.5h0M227.8 158.5h0M223.7 167.3h0M221.5 171.5h0M215.6 161.1h0M229.6 172.1h0M216.5 167.4h0M219.2 170.8h0M232.5 174.1h0M214.8 165.6h0M219.6 160.3h0M214.7 173.9h0M226.6 159.6h0M218.3 167.9h0M225.8 179.3h0M210.3 168.4h0M214.4 174.7h0M224.1 176.4h0M214.4 153.3h0M225.5 155.8h0M219.0 154.0h0M219.5 153.7h0M227.7 149.3h0M222.2 149.8h0M225.4 151.3h0M216.5 158.4h0M239.8 168.0h0M236.0 171.4h0M228.3 156.3h0M204.2 159.9h0M192.3 156.9h0M205.0 155.8h0M194.8 153.7h0M206.6 155.5h0M193.2 155.7h0M204.1 152.3h0M196.2 170.0h0M201.6 166.6h0M198.5 170.5h0M194.1 176.9h0M252.0 146.2h0M239.4 145.4h0M238.6 140.6h0M242.5 147.3h0M248.8 142.0h0M239.6 138.8h0M252.0 147.2h0"/>
<path stroke="#6a4aa0" stroke-width="0.95" stroke-linecap="square" fill="none" d="M141.7 76.6h0M124.9 80.4h0M134.6 68.1h0M133.2 78.6h0M125.6 84.0h0M132.1 67.8h0M139.5 75.1h0M130.7 78.1h0M138.9 89.5h0M83.0 98.6h0M78.5 103.6h0M83.2 105.0h0M85.7 109.3h0M68.5 118.9h0M88.5 91.2h0M90.5 79.9h0M101.7 88.5h0M105.5 89.7h0M114.1 87.9h0M131.3 104.4h0M119.2 109.6h0M126.3 114.3h0M127.1 107.9h0M97.1 104.7h0M113.9 103.2h0M94.8 104.3h0M113.5 99.7h0M100.2 107.4h0M112.6 103.4h0M94.3 116.4h0M80.7 121.0h0M96.0 122.1h0M110.2 117.1h0M102.9 122.5h0M109.3 116.4h0M134.3 132.8h0M131.3 115.4h0M127.9 132.1h0M130.9 120.1h0M127.2 135.1h0M125.5 131.5h0M98.4 138.4h0M60.7 153.9h0M66.3 157.0h0M86.9 157.7h0M83.2 160.7h0M76.9 159.8h0M115.5 161.4h0M125.4 165.3h0M132.6 194.3h0M122.2 188.6h0M122.0 179.7h0M129.2 189.8h0M101.0 188.2h0M102.9 182.7h0M104.6 191.2h0M132.4 193.1h0M113.3 192.2h0M140.4 194.1h0M133.8 183.5h0M138.0 221.7h0M176.0 82.1h0M227.7 89.2h0M189.9 100.4h0M201.0 108.3h0M197.9 110.6h0M232.3 123.5h0M234.6 124.2h0M231.5 121.7h0M203.4 131.7h0M204.7 140.8h0M209.7 132.6h0M204.0 134.8h0M188.3 134.8h0M186.4 124.4h0M148.7 148.3h0M159.3 152.8h0M163.8 150.8h0M168.2 146.1h0M148.3 158.3h0M144.5 144.4h0M172.2 176.7h0M170.3 173.2h0M165.4 172.9h0M145.2 184.5h0M221.2 171.0h0M225.3 165.5h0M220.6 175.3h0M223.5 156.1h0M221.3 148.0h0M198.7 171.2h0M194.6 176.9h0M241.7 142.5h0M242.0 145.1h0M249.8 146.1h0"/>
<path stroke="#6a4038" stroke-width="0.95" stroke-linecap="square" fill="none" d="M139.8 71.5h0M140.1 72.0h0M120.8 68.1h0M126.0 79.7h0M127.9 65.5h0M123.9 79.6h0M137.1 89.5h0M93.0 103.8h0M84.0 108.5h0M82.6 103.1h0M78.4 113.4h0M98.2 94.9h0M98.3 84.3h0M106.0 88.7h0M113.0 86.8h0M137.9 105.5h0M132.7 99.5h0M122.7 101.7h0M119.6 105.9h0M124.2 108.4h0M112.9 100.5h0M107.2 92.6h0M111.6 93.1h0M110.2 94.2h0M115.7 94.1h0M97.6 113.1h0M76.7 125.2h0M77.2 121.2h0M78.6 123.0h0M106.0 126.1h0M108.1 126.3h0M109.3 116.6h0M104.2 121.6h0M128.9 135.5h0M141.2 125.6h0M125.5 115.9h0M139.2 123.4h0M139.5 121.0h0M74.8 135.4h0M78.1 134.9h0M92.4 131.6h0M100.2 132.6h0M76.4 135.2h0M87.4 134.8h0M57.4 153.0h0M55.6 145.8h0M76.4 150.7h0M92.6 151.9h0M67.0 160.9h0M96.3 153.6h0M117.0 196.7h0M105.4 191.1h0M124.8 186.4h0M122.5 180.5h0M119.3 196.1h0M105.3 188.0h0M118.7 192.7h0M117.1 193.5h0M133.3 207.3h0M139.8 218.7h0M175.3 75.5h0M160.4 97.1h0M186.5 98.8h0M226.4 116.7h0M236.2 122.6h0M236.4 121.0h0M241.5 121.0h0M199.7 123.4h0M198.8 127.3h0M196.8 133.0h0M203.1 128.4h0M201.8 131.8h0M200.7 135.5h0M191.6 138.9h0M190.2 126.2h0M173.1 145.8h0M169.5 152.1h0M161.5 156.5h0M169.1 162.4h0M177.1 176.5h0M173.5 176.7h0M172.4 173.9h0M145.5 180.9h0M145.6 182.4h0M162.4 185.0h0M154.0 203.4h0M226.5 168.1h0M231.7 173.2h0M229.3 167.9h0M192.4 157.5h0M247.7 143.6h0"/>
<path stroke="#50a8a8" stroke-width="0.95" stroke-linecap="square" fill="none" d="M121.7 63.9h0M139.9 73.2h0M116.1 74.5h0M128.1 80.3h0M118.4 66.5h0M126.7 80.4h0M124.7 78.9h0M120.1 65.8h0M132.0 71.8h0M131.6 71.2h0M131.8 76.8h0M132.3 77.9h0M136.2 67.4h0M129.5 66.4h0M132.4 80.1h0M133.7 68.3h0M128.1 79.6h0M121.8 64.7h0M134.2 71.7h0M143.7 89.4h0M138.3 90.7h0M141.1 87.3h0M60.3 94.5h0M64.3 94.5h0M76.9 108.4h0M74.3 110.6h0M89.7 107.7h0M67.7 106.9h0M66.7 110.0h0M69.0 108.3h0M71.7 111.0h0M82.9 108.7h0M87.2 102.4h0M94.1 101.5h0M68.3 113.0h0M95.1 103.6h0M85.1 103.0h0M78.2 102.8h0M66.9 107.8h0M64.3 110.8h0M90.3 104.1h0M71.5 108.5h0M78.7 116.7h0M77.0 115.2h0M69.5 117.4h0M86.0 91.1h0M85.0 93.0h0M89.9 91.5h0M92.4 95.6h0M85.6 92.9h0M93.7 90.8h0M88.9 90.0h0M91.2 81.3h0M94.6 84.1h0M95.2 88.1h0M92.1 84.3h0M91.1 81.0h0M94.5 86.6h0M103.6 77.6h0M102.7 78.7h0M106.6 88.7h0M107.2 91.7h0M104.0 81.8h0M103.8 84.4h0M115.3 85.8h0M113.7 84.6h0M125.9 88.8h0M119.5 93.5h0M115.1 96.3h0M122.7 93.9h0M139.0 103.5h0M127.8 101.6h0M120.9 103.8h0M135.3 104.4h0M141.6 104.2h0M132.2 104.5h0M117.5 102.9h0M125.6 105.9h0M133.9 99.8h0M133.3 105.1h0M122.2 105.3h0M119.4 108.7h0M126.3 112.7h0M127.7 111.3h0M120.5 107.2h0M121.6 106.9h0M126.8 111.5h0M123.4 108.8h0M117.1 106.1h0M130.8 112.7h0M117.9 96.2h0M99.6 104.0h0M110.0 108.4h0M93.9 100.1h0M110.8 95.2h0M119.0 98.8h0M93.9 99.9h0M107.4 97.4h0M114.0 101.8h0M100.5 93.2h0M118.6 103.7h0M110.3 102.6h0M114.2 95.6h0M117.2 102.8h0M101.1 102.9h0M103.5 94.7h0M105.6 105.0h0M109.1 97.3h0M107.6 95.1h0M112.8 106.5h0M103.9 95.7h0M102.6 96.4h0M93.9 99.7h0M97.1 102.5h0M112.1 92.0h0M107.6 105.5h0M103.7 103.9h0M105.7 108.1h0M102.1 94.2h0M105.0 107.1h0M106.9 102.4h0M104.8 93.2h0M110.5 106.8h0M98.5 105.1h0M111.0 93.4h0M111.4 101.8h0M115.6 97.9h0M107.6 102.3h0M96.4 108.7h0M96.3 109.6h0M97.9 113.5h0M73.8 90.1h0M89.8 118.9h0M88.9 118.6h0M88.0 119.5h0M79.8 121.9h0M87.5 118.8h0M76.1 122.3h0M103.0 121.3h0M104.0 120.3h0M109.1 117.3h0M106.7 116.5h0M104.4 126.0h0M110.7 123.6h0M101.7 116.4h0M127.2 119.4h0M127.2 133.4h0M130.1 128.0h0M138.3 132.0h0M131.9 117.0h0M122.5 131.6h0M130.9 125.7h0M126.3 117.7h0M135.3 130.1h0M123.2 119.6h0M122.3 125.4h0M125.6 123.9h0M131.2 134.4h0M124.9 129.2h0M135.5 119.8h0M140.7 129.2h0M135.7 134.1h0M123.4 119.5h0M131.7 131.7h0M124.5 129.5h0M130.0 121.3h0M122.7 122.5h0M135.4 119.8h0M123.0 130.6h0M123.0 136.4h0M130.3 136.6h0M122.9 133.9h0M77.6 138.2h0M91.1 141.0h0M92.5 139.1h0M101.5 133.7h0M106.8 136.0h0M76.9 138.7h0M83.1 132.5h0M86.9 132.3h0M101.2 135.0h0M80.1 133.2h0M100.5 136.8h0M95.4 132.8h0M87.1 140.9h0M82.2 139.8h0M87.2 139.2h0M92.4 131.0h0M68.1 155.0h0M58.1 153.2h0M59.8 148.2h0M65.8 156.7h0M63.2 158.2h0M65.6 153.9h0M62.6 151.6h0M59.7 146.8h0M54.4 149.0h0M50.2 152.8h0M58.1 152.2h0M56.0 147.5h0M55.3 156.9h0M90.4 158.1h0M78.7 160.1h0M93.5 157.3h0M86.1 150.0h0M75.5 154.0h0M82.2 157.6h0M86.8 152.8h0M79.5 158.6h0M81.1 157.6h0M75.0 157.0h0M76.9 153.8h0M75.1 155.3h0M85.9 163.2h0M84.7 163.7h0M88.8 159.8h0M84.2 163.4h0M81.9 160.2h0M88.0 166.3h0M85.2 166.2h0M65.6 163.1h0M71.0 164.0h0M71.1 161.0h0M66.2 166.7h0M63.3 161.7h0M74.3 166.2h0M63.3 165.5h0M67.1 161.3h0M112.9 149.7h0M116.5 151.4h0M125.4 146.4h0M124.4 145.8h0M119.4 148.6h0M111.2 147.5h0M113.1 149.1h0M106.2 172.0h0M126.3 159.9h0M115.4 169.5h0M120.2 169.0h0M108.7 164.8h0M106.5 171.3h0M113.4 169.8h0M118.8 167.4h0M109.3 172.5h0M122.8 162.7h0M121.4 160.4h0M103.7 167.8h0M104.1 154.4h0M96.5 150.0h0M101.3 149.9h0M96.6 151.7h0M108.3 184.5h0M129.8 191.2h0M116.9 178.2h0M142.6 190.1h0M99.6 188.1h0M128.3 178.6h0M130.1 178.6h0M122.0 192.9h0M143.6 183.6h0M137.8 185.7h0M113.8 188.5h0M135.6 185.9h0M131.6 191.4h0M107.7 182.4h0M138.2 191.1h0M140.8 185.2h0M113.5 187.2h0M116.9 197.3h0M121.9 185.1h0M133.9 188.2h0M117.5 195.4h0M110.9 187.6h0M118.2 196.8h0M130.8 197.3h0M138.4 184.8h0M104.9 189.9h0M116.5 194.2h0M128.0 180.0h0M121.8 193.1h0M140.6 182.5h0M114.6 182.0h0M123.6 178.1h0M126.7 192.8h0M130.0 197.5h0M113.1 189.3h0M131.6 186.3h0M104.0 191.2h0M140.8 187.5h0M144.8 185.0h0M146.6 187.1h0M126.4 210.6h0M131.3 206.8h0M126.8 207.5h0M132.8 210.5h0M126.7 210.7h0M131.6 218.6h0M135.2 221.2h0M139.7 222.5h0M128.9 221.0h0M140.3 217.6h0M141.0 221.6h0M144.1 217.7h0M129.2 221.3h0M145.4 216.5h0M145.0 216.6h0M142.8 222.6h0M141.1 217.3h0M179.3 75.4h0M178.6 78.1h0M180.9 81.4h0M176.6 80.9h0M181.2 76.5h0M181.2 80.1h0M183.8 82.6h0M179.2 73.4h0M195.2 85.5h0M195.7 74.1h0M199.5 84.7h0M201.1 78.2h0M195.5 79.1h0M197.7 85.1h0M226.8 89.1h0M158.3 97.8h0M153.0 96.7h0M159.8 104.8h0M154.6 103.7h0M163.8 113.0h0M162.5 109.9h0M162.5 111.0h0M155.4 120.9h0M161.1 123.4h0M149.2 121.4h0M159.2 121.6h0M154.4 122.9h0M188.6 102.7h0M179.3 99.8h0M185.6 99.4h0M185.3 99.6h0M185.1 102.1h0M183.5 99.5h0M182.9 103.2h0M178.2 102.7h0M188.5 100.0h0M182.4 102.6h0M183.5 102.9h0M186.4 99.7h0M188.3 103.0h0M188.3 104.3h0M180.2 104.3h0M186.3 103.9h0M182.8 98.9h0M182.5 100.0h0M184.8 104.0h0M183.1 103.1h0M177.7 100.6h0M177.5 101.7h0M190.0 101.5h0M181.1 98.7h0M184.1 103.6h0M182.1 105.0h0M189.9 99.9h0M181.1 100.6h0M182.6 100.3h0M194.0 108.9h0M193.4 107.6h0M192.2 109.2h0M189.1 107.8h0M189.2 110.3h0M189.0 110.0h0M187.5 107.4h0M194.0 110.0h0M188.7 108.5h0M189.6 108.0h0M193.3 108.3h0M187.4 110.3h0M190.5 111.0h0M203.2 108.9h0M203.5 111.8h0M215.2 95.1h0M210.4 98.4h0M226.7 96.8h0M221.3 94.5h0M227.1 96.4h0M222.4 96.2h0M224.3 94.9h0M224.1 96.8h0M225.5 97.5h0M215.5 109.3h0M212.8 110.7h0M224.1 115.9h0M222.4 116.7h0M225.5 116.9h0M240.4 116.3h0M243.5 118.0h0M230.9 117.1h0M233.8 121.3h0M229.2 118.4h0M240.3 119.9h0M232.1 120.1h0M235.9 122.5h0M238.3 123.3h0M238.3 118.3h0M237.6 119.7h0M233.2 125.1h0M232.8 118.4h0M237.5 123.1h0M233.0 117.3h0M238.3 120.3h0M237.3 124.7h0M230.4 121.2h0M233.3 117.7h0M232.9 118.1h0M235.2 118.9h0M238.2 124.2h0M234.2 124.3h0M235.5 124.3h0M237.9 118.5h0M238.1 119.5h0M229.5 121.2h0M195.2 111.2h0M195.7 112.0h0M195.9 111.0h0M194.1 111.1h0M195.5 109.7h0M195.6 111.8h0M195.9 113.2h0M197.5 122.9h0M190.3 131.2h0M192.2 129.7h0M189.1 130.1h0M201.2 127.8h0M204.2 125.5h0M199.8 131.1h0M188.2 132.0h0M190.5 128.7h0M195.6 124.9h0M193.1 126.2h0M199.6 123.7h0M188.1 125.4h0M191.6 123.7h0M200.7 132.3h0M205.4 128.0h0M205.2 127.6h0M188.5 129.1h0M201.3 122.7h0M196.3 129.5h0M187.2 129.9h0M199.3 123.9h0M198.0 126.7h0M202.6 126.7h0M197.5 126.4h0M193.6 122.2h0M196.4 134.1h0M199.4 126.6h0M192.7 129.8h0M201.4 127.1h0M201.0 126.3h0M200.4 122.4h0M192.0 123.4h0M191.2 123.4h0M193.3 133.8h0M196.3 133.3h0M191.5 126.8h0M201.5 124.2h0M204.9 125.9h0M193.7 125.0h0M186.9 133.4h0M191.7 124.5h0M191.7 126.3h0M197.3 125.1h0M187.9 133.4h0M191.1 130.7h0M188.0 131.6h0M192.9 133.1h0M191.9 134.6h0M189.5 130.8h0M193.5 127.8h0M195.3 129.6h0M200.9 128.9h0M195.8 131.5h0M198.8 134.1h0M197.9 134.1h0M186.2 127.2h0M199.1 132.6h0M198.9 129.4h0M197.1 129.3h0M192.6 128.4h0M202.5 128.1h0M199.5 129.2h0M202.1 126.7h0M200.5 129.1h0M189.8 132.2h0M200.4 124.8h0M185.6 128.2h0M194.5 126.0h0M191.8 133.5h0M191.5 133.9h0M197.9 129.7h0M192.4 134.0h0M199.5 126.6h0M200.8 129.3h0M190.5 131.4h0M196.8 133.8h0M201.3 132.5h0M203.6 129.3h0M189.2 131.0h0M202.3 126.3h0M194.7 128.0h0M195.3 134.7h0M197.0 129.3h0M192.1 131.5h0M194.9 126.4h0M197.4 130.3h0M187.7 128.2h0M210.0 139.6h0M212.5 136.2h0M211.2 130.1h0M208.5 133.8h0M209.3 136.1h0M206.2 139.9h0M192.7 137.8h0M194.9 140.2h0M188.9 141.2h0M191.0 143.6h0M193.5 140.9h0M190.2 133.6h0M206.3 122.5h0M203.0 121.1h0M200.8 124.2h0M203.2 125.6h0M196.8 125.6h0M201.7 121.9h0M205.1 123.9h0M199.5 123.9h0M201.1 122.8h0M201.8 122.0h0M202.9 120.6h0M199.8 125.8h0M200.2 127.2h0M197.6 125.2h0M201.1 124.7h0M198.0 127.1h0M199.1 124.7h0M200.5 124.0h0M198.8 121.3h0M196.0 125.4h0M205.0 125.3h0M197.1 124.0h0M202.6 123.1h0M203.4 122.1h0M200.1 122.7h0M198.8 121.2h0M204.8 123.7h0M203.3 127.4h0M203.3 122.0h0M195.2 123.1h0M186.2 126.6h0M187.9 126.5h0M185.3 126.2h0M184.8 124.6h0M196.0 121.9h0M186.6 123.1h0M194.3 119.3h0M189.6 121.1h0M191.1 125.2h0M192.8 119.9h0M184.7 125.7h0M186.9 123.5h0M189.7 123.1h0M186.3 123.5h0M187.5 125.5h0M194.9 122.0h0M192.7 121.8h0M193.5 119.8h0M196.1 120.9h0M187.1 125.1h0M192.8 122.2h0M197.4 120.6h0M194.2 121.1h0M189.6 122.4h0M193.2 124.6h0M190.2 120.1h0M185.1 125.3h0M188.6 124.8h0M194.4 124.0h0M190.0 121.3h0M187.2 126.3h0M194.8 123.2h0M196.1 122.0h0M191.1 126.0h0M196.3 119.5h0M186.3 124.6h0M189.6 125.1h0M189.7 125.5h0M195.5 122.4h0M193.4 124.0h0M192.8 122.8h0M187.3 123.1h0M195.3 119.4h0M188.0 125.2h0M208.6 127.2h0M213.9 127.2h0M155.6 150.9h0M153.7 152.8h0M164.2 146.1h0M149.6 147.6h0M147.9 145.9h0M160.8 146.2h0M151.4 154.7h0M155.3 139.3h0M164.7 147.4h0M160.1 152.5h0M161.0 151.5h0M152.7 144.6h0M161.6 144.0h0M158.5 147.2h0M163.8 143.4h0M157.8 140.7h0M156.8 146.7h0M162.2 150.8h0M159.4 143.2h0M155.1 153.2h0M158.3 148.8h0M159.3 154.2h0M158.8 145.5h0M162.5 142.2h0M160.2 147.5h0M148.2 150.9h0M151.6 151.6h0M156.2 141.5h0M154.1 141.0h0M161.8 149.2h0M160.6 147.5h0M155.9 153.4h0M157.5 154.0h0M150.7 145.1h0M152.8 139.6h0M156.4 143.3h0M156.6 149.5h0M152.9 140.1h0M152.2 145.2h0M156.9 140.9h0M163.4 146.0h0M151.3 153.7h0M146.3 145.3h0M151.6 141.7h0M158.6 145.7h0M160.0 140.0h0M152.8 154.2h0M157.4 142.3h0M159.9 139.7h0M150.6 148.0h0M160.4 146.1h0M152.1 151.4h0M148.1 142.2h0M150.7 148.4h0M157.7 147.5h0M147.7 145.0h0M152.4 151.6h0M159.9 144.3h0M155.8 144.9h0M148.5 144.0h0M153.0 147.6h0M156.1 145.0h0M160.5 147.3h0M156.0 138.5h0M147.8 142.2h0M159.7 149.4h0M147.6 149.6h0M149.6 148.6h0M150.1 150.5h0M163.3 148.0h0M155.2 143.7h0M154.7 153.0h0M155.1 142.0h0M153.5 146.1h0M151.7 144.4h0M153.0 150.1h0M146.4 143.6h0M154.6 145.5h0M153.9 142.6h0M158.3 147.3h0M161.3 142.5h0M157.2 142.8h0M155.8 148.2h0M163.1 147.7h0M150.4 142.9h0M152.7 151.4h0M151.1 141.0h0M161.1 146.4h0M153.4 146.8h0M150.2 150.4h0M157.8 153.1h0M153.1 145.3h0M154.5 142.9h0M149.5 142.9h0M157.7 142.2h0M154.3 150.0h0M159.3 142.9h0M158.9 150.4h0M152.1 151.0h0M160.6 147.8h0M153.1 140.9h0M154.1 146.5h0M153.7 139.8h0M148.7 141.1h0M161.1 140.8h0M149.4 153.1h0M154.7 140.9h0M148.7 152.2h0M162.5 150.2h0M150.4 142.8h0M149.3 141.3h0M169.1 148.3h0M169.7 147.7h0M169.0 151.2h0M160.2 144.5h0M170.5 145.3h0M162.7 145.9h0M169.4 144.1h0M172.0 142.4h0M165.7 151.5h0M161.3 144.9h0M169.1 151.4h0M173.5 143.2h0M167.8 151.4h0M169.8 145.1h0M166.8 151.7h0M163.5 150.3h0M163.2 144.1h0M166.5 141.4h0M170.0 143.3h0M161.1 148.3h0M173.1 146.2h0M164.7 140.7h0M172.8 148.8h0M165.8 143.1h0M165.5 148.2h0M170.7 145.0h0M171.4 152.4h0M171.8 143.2h0M171.9 142.2h0M161.5 141.9h0M164.6 145.6h0M165.1 147.8h0M172.9 147.7h0M169.4 141.3h0M170.1 147.0h0M164.1 148.2h0M172.7 143.3h0M167.7 146.9h0M174.7 144.7h0M162.6 142.5h0M170.3 150.3h0M161.5 146.7h0M172.3 143.4h0M173.8 150.1h0M167.6 142.0h0M174.7 145.7h0M173.1 146.9h0M163.2 146.0h0M173.0 150.8h0M164.2 142.9h0M175.2 146.6h0M163.4 142.9h0M161.6 146.8h0M164.3 150.4h0M166.5 146.2h0M166.3 146.7h0M168.9 140.9h0M173.3 145.0h0M175.6 146.1h0M166.1 146.9h0M167.3 146.7h0M162.7 141.6h0M165.4 151.2h0M168.5 145.8h0M167.0 147.1h0M174.1 147.6h0M171.5 160.5h0M165.7 164.7h0M165.4 165.6h0M165.6 159.6h0M169.2 163.4h0M159.2 161.5h0M159.0 164.4h0M166.6 164.2h0M162.4 158.3h0M164.6 152.2h0M156.9 159.6h0M159.7 160.0h0M168.6 164.3h0M145.6 164.0h0M144.4 161.0h0M157.5 159.4h0M154.0 163.7h0M146.8 164.8h0M144.9 162.4h0M162.7 140.3h0M160.0 139.4h0M162.6 141.7h0M162.2 136.9h0M163.7 137.7h0M165.9 139.1h0M163.8 141.9h0M161.1 142.9h0M164.9 136.3h0M162.9 139.1h0M163.5 143.3h0M160.2 141.2h0M166.0 137.8h0M164.6 135.7h0M165.8 142.0h0M162.5 140.6h0M164.4 140.6h0M160.1 138.0h0M164.8 140.6h0M162.4 137.9h0M163.2 136.5h0M160.7 142.5h0M161.4 143.9h0M164.1 140.8h0M162.7 145.1h0M163.1 141.4h0M163.9 138.5h0M165.5 143.4h0M160.7 142.1h0M164.4 136.5h0M163.4 142.3h0M162.7 137.3h0M164.1 136.4h0M165.1 140.3h0M163.1 139.0h0M162.7 143.2h0M165.0 143.7h0M164.2 142.5h0M162.6 142.1h0M149.1 142.6h0M144.0 142.3h0M148.5 145.5h0M144.8 141.4h0M144.4 144.8h0M142.3 145.7h0M147.6 140.4h0M147.5 144.9h0M146.7 142.1h0M146.5 144.4h0M144.3 147.4h0M147.5 141.7h0M146.2 143.2h0M145.0 147.0h0M143.1 142.3h0M173.7 168.6h0M167.1 169.1h0M173.5 174.1h0M171.7 172.4h0M161.9 169.8h0M145.7 187.4h0M146.7 182.8h0M150.6 186.1h0M146.5 181.6h0M142.1 184.3h0M142.1 186.5h0M151.9 188.4h0M167.0 190.7h0M171.6 191.5h0M168.3 184.5h0M167.4 184.8h0M163.0 187.6h0M177.7 189.6h0M172.1 183.9h0M165.4 187.1h0M152.8 201.0h0M224.7 158.5h0M219.1 179.2h0M225.5 175.6h0M235.6 171.1h0M229.7 172.5h0M222.4 173.8h0M215.5 173.2h0M216.6 163.7h0M234.5 174.2h0M234.6 166.0h0M219.3 174.9h0M213.4 163.2h0M216.6 168.2h0M223.9 156.0h0M212.2 177.6h0M222.0 171.4h0M228.5 163.2h0M221.3 177.6h0M212.3 166.6h0M225.2 170.4h0M222.3 156.4h0M224.8 159.9h0M225.5 178.4h0M229.3 149.7h0M212.3 152.0h0M220.4 150.7h0M222.8 154.4h0M218.2 156.5h0M214.3 148.3h0M211.8 151.5h0M214.8 146.1h0M219.1 157.5h0M216.8 149.4h0M223.9 155.1h0M243.9 169.9h0M234.4 169.3h0M236.2 170.4h0M229.6 167.6h0M238.1 166.7h0M233.9 169.6h0M242.4 171.1h0M227.9 168.4h0M230.9 169.8h0M236.5 166.9h0M245.1 170.8h0M227.6 168.3h0M245.4 171.2h0M228.0 168.3h0M230.3 165.2h0M228.1 168.0h0M227.4 167.7h0M230.3 166.1h0M232.9 167.4h0M232.2 169.7h0M239.1 167.4h0M228.9 168.1h0M235.7 171.2h0M238.0 166.2h0M231.2 166.6h0M239.6 168.5h0M232.5 166.4h0M244.1 172.0h0M234.2 170.8h0M240.2 168.0h0M241.8 169.1h0M229.0 166.1h0M231.5 169.3h0M238.2 165.8h0M228.5 166.4h0M239.0 170.5h0M237.3 165.8h0M229.2 165.6h0M234.9 165.1h0M243.9 169.3h0M238.4 171.0h0M243.0 171.7h0M238.6 172.3h0M237.1 170.7h0M231.8 170.7h0M230.4 164.6h0M245.1 168.8h0M229.5 165.4h0M237.5 172.1h0M236.1 167.7h0M234.3 166.2h0M230.7 167.3h0M235.9 170.6h0M229.4 166.6h0M240.9 167.8h0M232.3 168.9h0M241.0 167.2h0M237.7 166.0h0M243.0 169.9h0M233.8 167.0h0M236.3 169.6h0M233.4 164.8h0M244.1 171.2h0M232.8 170.2h0M232.7 169.1h0M242.9 167.6h0M239.5 168.5h0M232.3 168.0h0M241.7 167.4h0M242.1 168.3h0M240.2 166.7h0M230.5 166.5h0M235.4 169.8h0M235.5 169.2h0M233.5 164.7h0M235.6 168.3h0M241.7 171.5h0M238.9 171.0h0M244.3 171.6h0M230.0 165.5h0M238.9 166.9h0M240.1 166.4h0M236.2 169.6h0M225.7 154.2h0M223.3 152.9h0M219.8 153.4h0M231.1 155.5h0M223.1 153.0h0M230.4 157.1h0M227.1 156.7h0M228.4 156.1h0M231.0 156.3h0M229.8 156.3h0M223.8 155.1h0M220.9 153.9h0M228.3 154.1h0M231.6 157.6h0M222.9 155.7h0M225.5 156.4h0M221.4 152.9h0M226.4 154.9h0M225.6 157.2h0M229.5 154.4h0M229.4 155.2h0M226.8 153.3h0M226.0 155.5h0M231.9 157.5h0M222.3 153.6h0M226.3 157.0h0M221.1 155.0h0M225.7 157.8h0M229.7 156.9h0M224.8 153.2h0M229.5 158.1h0M224.0 153.9h0M231.6 155.6h0M221.4 155.7h0M224.3 156.3h0M222.7 154.4h0M224.1 156.9h0M228.8 157.4h0M219.3 155.5h0M224.8 155.7h0M224.1 153.3h0M197.3 156.0h0M205.8 154.5h0M200.9 152.8h0M207.2 155.1h0M206.0 157.8h0M206.3 159.3h0M194.7 166.7h0M200.9 167.2h0M197.4 173.9h0M195.5 176.9h0M237.3 142.7h0M248.6 141.2h0M244.2 138.8h0M238.5 141.5h0M251.6 145.1h0"/>
<path stroke="#40669a" stroke-width="0.95" stroke-linecap="square" fill="none" d="M119.4 78.1h0M132.3 78.5h0M115.2 73.1h0M126.5 76.9h0M125.9 67.0h0M132.1 70.5h0M128.3 66.0h0M127.3 66.3h0M124.7 68.9h0M83.6 95.0h0M69.8 101.3h0M59.3 96.1h0M61.1 97.2h0M73.5 100.7h0M81.7 95.2h0M64.7 100.2h0M67.1 99.4h0M73.9 95.7h0M72.9 95.0h0M73.7 99.4h0M58.9 100.8h0M79.8 96.1h0M72.8 97.8h0M68.4 95.5h0M70.1 98.0h0M70.1 98.8h0M79.4 96.5h0M77.0 92.9h0M73.8 94.6h0M62.5 97.4h0M60.8 100.6h0M61.1 98.8h0M75.8 98.0h0M72.7 100.9h0M60.3 101.6h0M79.3 98.6h0M70.0 95.0h0M69.4 94.1h0M60.0 100.0h0M77.5 97.0h0M59.7 96.0h0M55.7 98.6h0M76.0 98.5h0M76.8 96.1h0M67.8 102.1h0M73.7 101.3h0M73.4 96.1h0M56.0 100.3h0M78.0 100.3h0M76.6 96.0h0M73.7 98.9h0M74.1 97.6h0M77.0 97.2h0M61.0 94.7h0M59.9 101.3h0M59.0 95.9h0M65.7 100.7h0M68.2 93.7h0M59.1 100.0h0M70.5 95.0h0M64.9 96.7h0M60.6 98.8h0M60.0 100.3h0M74.5 100.6h0M67.8 100.4h0M65.7 93.5h0M76.5 95.1h0M74.9 100.1h0M66.1 99.3h0M56.7 100.9h0M72.9 96.9h0M80.6 96.0h0M82.2 96.1h0M70.6 100.5h0M77.5 96.0h0M57.2 100.8h0M75.8 99.1h0M56.1 100.3h0M64.8 98.0h0M62.4 96.3h0M81.3 97.2h0M81.0 94.4h0M56.0 98.8h0M69.7 98.3h0M55.8 96.7h0M71.9 95.7h0M79.2 94.9h0M79.6 97.7h0M68.0 99.0h0M79.4 96.8h0M75.4 95.2h0M80.4 93.4h0M67.4 99.2h0M82.9 98.4h0M80.4 94.8h0M72.5 95.6h0M64.7 101.1h0M66.3 93.3h0M61.3 98.5h0M69.0 99.7h0M83.8 96.8h0M65.4 100.2h0M69.8 101.0h0M71.0 93.5h0M63.1 101.7h0M55.8 96.9h0M56.5 99.0h0M71.8 100.1h0M68.5 93.2h0M74.4 93.7h0M65.3 96.6h0M59.2 95.1h0M69.1 94.2h0M69.9 97.8h0M68.8 94.4h0M70.1 96.2h0M66.8 94.9h0M66.7 97.9h0M72.3 94.8h0M79.1 98.9h0M83.8 95.7h0M62.1 100.3h0M58.9 96.8h0M60.3 95.5h0M79.1 96.7h0M79.0 100.7h0M57.3 100.4h0M84.7 98.1h0M71.3 101.6h0M62.4 101.2h0M60.5 97.8h0M70.0 101.4h0M76.0 101.3h0M79.8 96.0h0M68.6 96.0h0M65.6 101.1h0M76.3 96.5h0M79.4 93.2h0M80.2 93.6h0M68.8 100.5h0M65.1 94.1h0M81.4 96.8h0M74.9 93.1h0M84.3 95.2h0M66.1 98.0h0M82.8 96.6h0M80.6 98.5h0M58.9 99.1h0M55.7 97.5h0M63.3 100.5h0M79.7 98.5h0M75.9 95.0h0M77.3 93.9h0M64.3 97.3h0M62.4 97.0h0M68.7 100.8h0M78.6 95.1h0M78.1 96.7h0M75.5 99.5h0M66.0 101.7h0M63.4 99.2h0M80.3 97.4h0M67.5 100.6h0M76.2 99.7h0M60.4 101.7h0M75.6 100.9h0M64.6 93.8h0M81.2 98.3h0M67.0 98.4h0M81.0 99.5h0M75.6 99.5h0M77.8 100.0h0M76.5 99.0h0M60.8 95.5h0M79.4 95.5h0M73.8 93.8h0M56.1 98.0h0M61.4 99.3h0M64.7 98.5h0M70.9 93.0h0M70.1 96.8h0M74.2 99.3h0M66.9 97.8h0M56.5 98.2h0M68.7 99.3h0M68.5 96.1h0M66.8 95.7h0M77.4 97.1h0M60.6 100.1h0M62.7 98.6h0M77.1 99.1h0M81.6 98.8h0M62.5 96.7h0M59.3 100.9h0M57.8 99.0h0M60.7 95.8h0M61.1 98.9h0M79.0 96.5h0M82.2 97.0h0M74.2 94.4h0M82.7 95.5h0M72.6 93.8h0M68.7 98.4h0M76.5 96.5h0M74.7 105.9h0M80.2 107.5h0M81.7 106.1h0M81.4 110.5h0M78.1 103.2h0M80.4 90.7h0M86.0 87.5h0M96.4 93.0h0M95.1 94.4h0M100.9 94.5h0M102.8 86.8h0M113.1 87.5h0M112.0 88.8h0M125.0 90.4h0M116.8 97.8h0M117.8 94.3h0M119.8 96.6h0M114.5 96.4h0M113.6 95.8h0M116.6 97.0h0M114.5 94.8h0M117.7 91.9h0M129.9 89.8h0M130.0 88.8h0M122.0 92.1h0M112.7 96.5h0M119.9 89.5h0M124.0 87.6h0M116.2 91.7h0M117.7 91.1h0M126.7 90.1h0M117.1 94.4h0M127.7 91.5h0M118.2 93.3h0M123.4 94.3h0M113.8 96.2h0M125.0 93.7h0M116.7 92.1h0M122.1 93.5h0M114.4 94.6h0M128.9 91.3h0M115.0 97.0h0M125.7 91.5h0M126.0 90.9h0M126.9 89.7h0M121.3 89.9h0M127.9 90.4h0M130.1 90.3h0M115.9 93.9h0M118.0 95.7h0M118.3 95.6h0M131.2 88.4h0M117.7 93.6h0M128.7 90.6h0M121.5 88.7h0M116.4 96.9h0M124.3 88.2h0M125.3 91.9h0M113.5 96.9h0M119.0 91.2h0M124.6 91.9h0M123.8 91.9h0M124.4 91.0h0M123.2 93.9h0M118.0 91.6h0M122.6 91.9h0M124.6 94.6h0M120.0 93.6h0M116.8 95.7h0M136.1 104.0h0M119.0 101.0h0M122.6 103.7h0M131.0 105.5h0M125.3 106.4h0M118.5 109.9h0M117.5 107.4h0M120.5 107.9h0M125.3 109.6h0M95.8 98.5h0M106.1 106.6h0M94.2 97.7h0M103.3 104.2h0M110.9 92.6h0M114.0 105.5h0M111.2 101.9h0M113.6 105.9h0M94.4 99.5h0M110.1 106.8h0M92.6 111.3h0M99.7 105.6h0M92.8 122.7h0M86.9 124.5h0M79.1 122.9h0M102.0 117.7h0M135.7 125.1h0M130.6 132.8h0M130.2 132.5h0M90.4 137.2h0M91.6 132.0h0M87.2 139.7h0M51.0 151.1h0M50.5 154.8h0M63.8 146.5h0M90.3 153.5h0M87.7 148.4h0M72.6 154.1h0M81.0 148.3h0M84.3 158.1h0M87.4 148.2h0M91.3 157.0h0M86.5 160.2h0M128.2 145.5h0M133.0 149.2h0M128.3 149.3h0M103.3 166.6h0M108.1 165.6h0M112.1 162.0h0M106.5 151.3h0M133.5 183.2h0M135.2 185.7h0M115.5 186.1h0M135.4 181.2h0M118.1 183.2h0M118.8 192.5h0M143.8 216.7h0M175.8 77.8h0M174.4 77.8h0M176.8 78.3h0M175.7 77.2h0M176.5 78.5h0M176.4 76.1h0M174.5 77.2h0M176.1 76.3h0M173.9 76.9h0M175.9 77.2h0M158.1 91.7h0M158.1 97.2h0M156.5 96.4h0M158.2 92.0h0M152.3 98.4h0M152.5 92.2h0M157.2 92.8h0M159.2 96.0h0M151.0 92.1h0M157.9 97.7h0M152.1 96.6h0M155.1 91.3h0M152.3 96.4h0M154.0 91.3h0M160.2 96.1h0M159.6 91.8h0M156.6 92.9h0M155.7 94.5h0M151.0 98.6h0M149.3 95.0h0M157.6 91.9h0M159.9 96.9h0M150.3 97.3h0M154.6 97.5h0M158.1 97.8h0M152.3 98.9h0M154.4 97.3h0M156.6 92.8h0M153.1 96.1h0M154.4 99.1h0M155.4 94.7h0M149.9 92.8h0M148.9 95.7h0M156.7 92.5h0M160.2 93.1h0M156.2 94.6h0M156.9 98.1h0M158.8 99.1h0M158.9 97.1h0M153.0 95.5h0M158.7 92.2h0M151.0 94.4h0M161.6 96.3h0M157.3 93.4h0M159.3 96.3h0M151.8 95.1h0M153.0 94.2h0M151.9 94.7h0M151.3 98.8h0M156.8 97.3h0M151.3 92.2h0M151.9 95.7h0M152.6 95.9h0M150.8 93.2h0M158.8 92.4h0M154.4 91.2h0M155.9 92.8h0M152.6 96.2h0M160.8 95.7h0M154.6 91.6h0M155.2 91.5h0M149.4 96.9h0M160.5 96.9h0M159.5 93.3h0M160.4 96.9h0M150.5 97.4h0M151.0 97.3h0M157.4 91.6h0M158.3 95.3h0M150.9 98.3h0M150.8 94.2h0M159.6 95.3h0M149.6 93.6h0M151.6 95.4h0M150.5 95.3h0M151.7 97.5h0M157.6 99.1h0M153.6 92.5h0M157.2 91.4h0M155.6 98.8h0M160.5 95.5h0M158.8 96.2h0M160.5 96.2h0M157.4 97.4h0M152.8 91.8h0M155.6 97.5h0M152.8 96.7h0M153.6 93.1h0M152.7 95.9h0M156.0 97.1h0M159.3 98.4h0M161.2 93.8h0M161.6 95.0h0M156.7 105.5h0M168.4 110.8h0M167.9 121.5h0M212.4 106.6h0M241.2 119.1h0M233.4 119.2h0M236.8 120.9h0M236.0 120.2h0M203.3 124.3h0M197.9 124.0h0M201.3 121.2h0M196.6 122.0h0M194.2 121.5h0M175.2 147.0h0M158.6 160.3h0M174.0 155.8h0M169.9 164.6h0M179.0 171.7h0M172.7 185.3h0M171.4 186.6h0M167.6 187.9h0M169.0 186.8h0M163.5 186.1h0M232.8 163.4h0M229.3 158.5h0M217.8 170.5h0M221.3 167.8h0M225.4 157.5h0M226.8 151.0h0M215.8 151.4h0M235.2 166.9h0M228.3 158.2h0M200.5 158.0h0M204.5 158.7h0M196.6 170.5h0M195.8 168.6h0M247.2 146.5h0"/>
<path stroke="#a0282a" stroke-width="0.95" stroke-linecap="square" fill="none" d="M119.6 71.8h0M123.1 73.3h0M129.0 77.4h0M126.4 73.8h0M140.3 67.9h0M126.4 71.9h0M119.0 67.4h0M138.4 80.1h0M140.5 93.5h0M73.8 99.0h0M57.1 99.8h0M72.6 100.4h0M68.7 112.0h0M81.1 104.6h0M93.7 103.6h0M78.9 108.2h0M68.1 119.1h0M71.5 118.4h0M95.6 96.9h0M95.1 86.1h0M99.3 92.2h0M90.7 82.7h0M99.5 90.4h0M100.7 79.9h0M104.0 77.6h0M114.7 89.6h0M108.3 92.3h0M127.5 89.4h0M128.8 100.7h0M129.1 102.7h0M125.1 103.3h0M129.9 112.0h0M95.8 101.7h0M109.1 100.5h0M117.5 97.8h0M109.7 104.9h0M105.0 95.9h0M115.7 95.4h0M119.9 99.7h0M108.8 104.8h0M92.6 113.8h0M87.5 119.9h0M89.4 119.6h0M113.9 122.8h0M104.8 115.7h0M101.7 118.0h0M132.4 129.1h0M129.9 119.8h0M126.7 126.3h0M142.8 126.1h0M128.2 119.5h0M129.8 136.0h0M90.1 138.0h0M96.5 139.3h0M99.0 140.3h0M53.2 152.3h0M60.1 154.2h0M64.7 153.1h0M81.5 157.9h0M78.0 158.6h0M73.0 162.3h0M126.5 150.1h0M114.9 150.6h0M115.7 148.4h0M126.9 150.0h0M111.6 161.7h0M122.3 163.3h0M107.2 165.9h0M119.1 163.5h0M102.4 148.4h0M104.9 154.1h0M109.1 189.3h0M107.8 193.4h0M124.2 178.6h0M119.8 179.7h0M149.6 183.1h0M129.4 212.2h0M190.1 77.8h0M187.1 77.5h0M177.3 78.2h0M200.3 79.7h0M193.8 83.8h0M155.9 106.3h0M149.7 105.5h0M157.3 125.0h0M199.2 111.5h0M198.9 111.5h0M205.2 111.0h0M198.2 110.7h0M210.4 98.5h0M211.1 139.5h0M192.6 137.9h0M192.4 120.1h0M163.5 147.1h0M169.0 149.7h0M171.1 157.0h0M158.9 158.1h0M153.9 161.2h0M146.5 142.5h0M176.1 170.1h0M167.0 188.6h0M165.5 189.0h0M170.4 185.4h0M153.9 202.5h0M152.5 201.8h0M223.2 166.3h0M225.3 179.5h0M217.2 157.4h0M224.4 173.0h0M215.6 172.0h0M212.1 175.2h0M212.5 175.6h0M214.1 179.3h0M228.5 151.2h0M225.3 148.9h0M193.8 156.4h0M205.8 158.0h0M194.8 154.2h0M202.0 168.4h0M196.1 169.4h0"/>
<path stroke="#c23b3b" stroke-width="0.95" stroke-linecap="square" fill="none" d="M119.2 78.2h0M126.4 80.2h0M118.5 67.7h0M120.6 69.0h0M137.9 79.4h0M125.2 80.6h0M143.2 86.3h0M62.1 99.0h0M94.3 105.5h0M87.4 103.9h0M72.5 115.1h0M79.0 115.3h0M90.8 93.1h0M97.1 97.6h0M92.5 85.7h0M109.8 93.8h0M110.4 85.6h0M121.2 91.4h0M141.2 102.5h0M131.5 98.8h0M120.5 108.8h0M121.8 108.3h0M110.1 100.7h0M109.6 101.9h0M114.2 102.4h0M93.0 98.5h0M107.5 108.5h0M105.5 94.9h0M113.1 95.1h0M103.2 97.1h0M114.2 94.8h0M98.5 112.1h0M76.0 87.9h0M80.3 118.7h0M87.8 117.5h0M95.6 118.4h0M94.2 123.2h0M90.6 123.3h0M104.6 116.2h0M105.8 118.0h0M106.5 124.2h0M134.5 130.0h0M138.0 128.9h0M127.2 123.4h0M126.9 126.0h0M126.4 125.6h0M130.1 132.0h0M93.0 135.5h0M94.6 135.0h0M84.0 136.1h0M57.8 147.9h0M58.3 155.2h0M68.1 154.5h0M56.1 145.8h0M76.9 150.9h0M85.8 157.1h0M88.4 156.9h0M82.3 159.6h0M94.4 158.6h0M95.2 164.6h0M67.5 161.9h0M71.6 164.2h0M106.8 163.7h0M114.9 161.8h0M119.0 165.1h0M118.7 178.1h0M125.1 194.9h0M123.5 192.7h0M109.6 180.5h0M134.6 188.6h0M146.5 184.4h0M150.6 182.5h0M128.4 210.1h0M131.3 208.1h0M142.8 215.8h0M174.2 77.7h0M183.2 76.3h0M201.2 83.6h0M227.0 90.5h0M214.3 108.8h0M210.0 108.4h0M221.6 114.0h0M231.4 113.5h0M235.3 119.5h0M237.5 120.8h0M230.7 118.5h0M238.0 121.2h0M235.4 121.6h0M197.5 130.0h0M188.8 129.4h0M204.1 129.1h0M197.3 124.2h0M151.8 152.0h0M153.6 145.5h0M173.2 142.0h0M168.7 142.5h0M169.2 142.3h0M158.5 156.2h0M160.4 162.4h0M149.3 146.4h0M145.8 144.2h0M177.6 176.4h0M171.1 171.1h0M171.0 170.7h0M166.1 175.4h0M232.5 160.5h0M223.0 177.9h0M225.9 160.4h0M211.8 177.1h0M213.9 167.6h0M220.1 164.9h0M229.2 160.9h0M212.9 176.2h0M201.3 157.3h0M195.2 169.9h0M199.9 166.4h0M243.6 148.1h0M241.9 138.4h0"/>
<path stroke="#3c5fa8" stroke-width="0.95" stroke-linecap="square" fill="none" d="M124.5 69.2h0M139.6 72.7h0M131.5 76.6h0M131.1 76.9h0M120.7 79.1h0M119.6 70.5h0M120.7 71.7h0M66.9 94.3h0M71.4 95.7h0M79.7 96.5h0M73.2 100.5h0M74.6 104.5h0M67.8 108.4h0M91.7 106.4h0M78.4 111.6h0M69.7 118.4h0M79.8 111.2h0M83.6 89.4h0M106.1 84.2h0M102.3 76.4h0M115.3 80.8h0M124.7 94.4h0M127.3 102.1h0M128.6 113.4h0M108.5 102.8h0M118.1 97.7h0M107.1 105.7h0M99.2 99.9h0M103.5 99.1h0M115.9 103.8h0M110.8 99.6h0M105.8 97.5h0M101.8 99.7h0M96.0 111.4h0M88.3 122.7h0M111.5 117.3h0M131.5 135.2h0M133.2 115.0h0M121.8 129.5h0M118.7 126.3h0M141.6 123.9h0M136.8 131.5h0M90.6 132.5h0M107.3 133.8h0M82.9 137.9h0M95.1 138.0h0M83.1 137.6h0M55.2 150.8h0M57.1 148.9h0M56.3 149.9h0M62.9 156.3h0M78.7 153.7h0M74.8 150.9h0M90.1 160.3h0M75.4 153.7h0M82.9 151.4h0M77.6 155.6h0M81.7 156.1h0M85.8 161.0h0M85.5 162.6h0M129.1 148.7h0M127.6 148.2h0M123.7 169.0h0M116.7 159.9h0M121.8 166.2h0M120.0 164.4h0M101.8 151.5h0M104.4 153.8h0M100.6 148.5h0M128.8 184.5h0M111.6 193.9h0M136.8 192.6h0M119.6 185.4h0M122.0 187.3h0M102.9 192.6h0M107.5 181.5h0M116.6 192.1h0M102.4 187.0h0M136.3 187.8h0M109.5 188.1h0M144.4 190.4h0M146.3 184.5h0M133.6 218.2h0M145.1 215.5h0M184.4 76.5h0M180.1 77.2h0M196.7 74.4h0M229.4 90.7h0M156.8 122.1h0M187.0 108.8h0M213.4 94.6h0M239.3 117.8h0M234.1 114.4h0M238.3 113.6h0M199.5 122.1h0M202.9 126.1h0M208.8 135.3h0M208.6 132.6h0M211.6 137.4h0M195.7 120.3h0M146.9 152.0h0M156.3 152.8h0M161.3 144.4h0M167.5 149.5h0M165.8 161.1h0M163.8 153.8h0M171.6 154.9h0M151.8 162.2h0M149.4 143.8h0M174.0 175.4h0M164.1 174.4h0M151.3 185.0h0M145.8 183.7h0M174.5 189.4h0M165.6 184.6h0M170.3 185.7h0M231.8 168.6h0M225.8 163.3h0M234.5 167.5h0M211.0 167.3h0M230.7 160.8h0M221.9 148.5h0M224.9 155.7h0M206.2 154.7h0M200.4 165.6h0M198.2 166.7h0M202.3 167.1h0M195.3 173.9h0M240.2 142.4h0M237.0 143.2h0"/>
<path stroke="#5cbf4f" stroke-width="0.95" stroke-linecap="square" fill="none" d="M135.8 82.5h0M141.5 73.4h0M117.2 76.3h0M142.0 73.5h0M70.2 101.3h0M88.7 101.8h0M86.8 108.2h0M86.3 101.2h0M76.1 115.6h0M106.0 86.9h0M111.5 86.1h0M122.6 108.3h0M127.7 114.2h0M108.8 105.0h0M115.0 95.2h0M107.9 95.8h0M103.6 103.0h0M104.0 103.0h0M120.4 96.9h0M115.2 96.6h0M109.9 102.4h0M96.8 96.9h0M120.6 99.6h0M97.0 113.6h0M91.7 121.4h0M90.8 118.1h0M87.7 120.9h0M104.1 114.3h0M104.9 117.8h0M140.7 133.1h0M131.0 126.1h0M132.4 116.9h0M135.2 129.9h0M130.7 122.8h0M122.5 133.5h0M89.7 140.7h0M90.6 141.7h0M89.9 137.3h0M56.4 146.1h0M48.8 152.7h0M61.2 149.2h0M66.1 155.1h0M72.9 152.9h0M111.5 164.5h0M121.2 160.7h0M109.5 163.1h0M112.8 166.9h0M113.5 166.3h0M119.8 168.5h0M105.5 152.7h0M95.0 152.8h0M142.1 187.0h0M122.4 191.2h0M121.8 193.6h0M107.9 188.4h0M135.4 185.9h0M136.7 193.2h0M138.2 189.9h0M107.0 182.1h0M109.8 180.9h0M146.0 188.7h0M141.8 189.8h0M127.4 209.3h0M133.9 210.0h0M146.0 219.9h0M175.0 78.9h0M179.4 72.9h0M179.9 81.1h0M185.3 77.3h0M182.0 79.8h0M195.1 79.5h0M196.7 77.1h0M157.6 105.3h0M164.4 113.6h0M166.2 115.0h0M154.4 124.2h0M156.6 120.3h0M184.5 99.1h0M205.1 110.9h0M208.2 96.1h0M237.2 113.1h0M238.3 115.4h0M233.9 119.0h0M200.1 127.1h0M200.3 133.4h0M211.2 134.1h0M206.2 139.6h0M198.8 137.8h0M193.5 142.9h0M190.0 135.1h0M206.6 126.8h0M146.4 144.6h0M153.5 139.5h0M151.9 155.1h0M164.9 141.3h0M164.3 161.1h0M149.2 166.7h0M161.6 140.1h0M147.6 146.3h0M149.4 187.8h0M150.7 182.1h0M173.1 186.5h0M218.7 162.8h0M221.6 164.1h0M225.2 165.3h0M245.6 146.0h0M254.6 144.4h0"/>
<path stroke="#d0a050" stroke-width="0.95" stroke-linecap="square" fill="none" d="M113.4 140.4h0M115.5 139.3h0M114.2 141.4h0M113.1 141.1h0M116.9 139.9h0M117.2 140.3h0M112.7 141.0h0M112.8 140.0h0M113.6 141.6h0M115.6 140.6h0M164.8 122.6h0M153.7 120.3h0M159.9 121.5h0M155.8 120.3h0M157.1 119.4h0M153.0 121.0h0M169.6 122.7h0M158.6 125.0h0M156.5 118.4h0M161.2 125.4h0M166.4 122.5h0M161.2 120.6h0M159.7 118.3h0M167.3 122.6h0M156.0 120.3h0M154.9 121.4h0M156.8 123.3h0M167.6 121.1h0M165.7 119.1h0M169.1 121.0h0M159.2 125.0h0M164.6 122.6h0M159.2 119.7h0M159.6 119.8h0M152.7 122.1h0M163.2 120.6h0M165.4 122.6h0M152.6 124.9h0M163.6 120.8h0M156.2 118.3h0M153.4 123.5h0M164.3 119.8h0M159.2 118.9h0M157.8 123.5h0M156.5 118.7h0M157.7 121.8h0M156.8 121.9h0M151.9 119.6h0M154.5 123.5h0M158.7 120.1h0M164.6 120.5h0M156.3 118.1h0M157.4 122.9h0M163.0 119.6h0M152.8 118.9h0M156.7 123.1h0M158.0 125.2h0M151.9 122.9h0M155.8 118.6h0M164.5 121.0h0M160.5 122.6h0M156.8 119.6h0M148.9 123.7h0M148.9 122.3h0M163.7 123.3h0M169.5 121.1h0M151.6 119.9h0M163.6 122.2h0M156.4 126.1h0M154.3 122.4h0M164.2 120.4h0M149.9 119.5h0M161.8 123.2h0M150.8 119.2h0M155.7 120.3h0M155.2 121.5h0M167.1 119.3h0M164.4 119.3h0M153.0 123.8h0M168.0 122.2h0M155.8 121.2h0M161.6 118.7h0M165.8 121.4h0M153.1 120.0h0M152.2 118.9h0M163.8 119.7h0M152.6 124.3h0M159.7 125.7h0M161.1 123.5h0M154.3 120.1h0M167.7 121.7h0M158.3 122.3h0M155.0 118.2h0M158.0 122.6h0M159.0 120.4h0"/>
<path stroke="#d07878" stroke-width="0.95" stroke-linecap="square" fill="none" d="M208.1 136.0h0M211.1 133.7h0M211.0 133.4h0M205.4 138.3h0M202.5 138.8h0M203.8 133.4h0M202.1 133.9h0M214.2 135.7h0M201.0 139.0h0M201.0 132.4h0M202.2 138.8h0M203.3 136.8h0M208.9 132.3h0M203.7 130.1h0M203.7 137.1h0M213.3 136.5h0M209.2 135.8h0M201.6 138.9h0M210.8 137.0h0M202.4 133.8h0M212.4 139.8h0M197.8 137.8h0M204.7 139.0h0M205.0 134.1h0M203.6 138.1h0M205.6 130.3h0M210.4 128.8h0M213.3 138.8h0M208.0 139.4h0M203.8 131.8h0M201.8 139.1h0M211.0 137.5h0M209.1 134.6h0M209.0 129.5h0M205.2 133.3h0M209.2 139.5h0M208.5 132.1h0M209.8 139.5h0M200.7 134.4h0M201.5 132.4h0M211.4 133.9h0M206.2 128.5h0M202.9 130.0h0M204.4 128.8h0M202.4 136.7h0M201.1 133.5h0M208.6 130.8h0M209.2 130.0h0M205.2 128.1h0M165.7 157.3h0M164.0 165.8h0M173.6 160.5h0M158.3 157.2h0M169.1 155.6h0M160.7 157.4h0M167.9 161.7h0M165.9 153.8h0M173.2 154.6h0M161.2 164.8h0M163.7 155.3h0M174.3 155.2h0M156.8 161.0h0M165.0 154.1h0M162.3 151.9h0M158.1 154.6h0M169.4 158.5h0M172.7 160.9h0M173.6 156.5h0M160.7 158.5h0M165.5 152.9h0M161.9 164.5h0M166.5 158.5h0M170.8 161.7h0M157.9 163.4h0M167.5 155.9h0M160.1 157.6h0M162.1 159.0h0M163.3 165.3h0M168.5 155.6h0M160.1 160.5h0M171.5 159.2h0M167.2 151.4h0M167.1 156.1h0M159.5 164.0h0M171.2 154.6h0M165.0 158.3h0M163.6 157.3h0M171.3 156.3h0M159.9 154.4h0M173.0 161.3h0M175.0 159.9h0M157.3 162.1h0M164.5 164.0h0M166.1 161.2h0M169.4 156.3h0M160.7 163.1h0M157.8 155.5h0M157.7 161.9h0M158.9 153.4h0M169.2 163.7h0M159.8 159.2h0M164.2 165.6h0M160.7 164.2h0M216.1 174.8h0M224.9 172.0h0M216.0 170.0h0M216.5 160.4h0M220.8 170.4h0M220.9 174.1h0M229.0 170.6h0M223.0 162.7h0M222.2 180.6h0M229.0 161.9h0M228.5 172.1h0M215.0 157.0h0M218.5 160.3h0M222.0 157.6h0M227.3 173.2h0M217.8 176.1h0M221.9 163.6h0M216.6 169.3h0M228.9 179.7h0M215.9 174.9h0M209.5 168.7h0M213.1 168.0h0M222.4 177.5h0M228.7 158.0h0M221.4 170.7h0M219.0 167.4h0M214.8 167.2h0M232.6 166.6h0M226.8 174.6h0M224.4 165.8h0M216.4 165.3h0M222.9 159.7h0M217.0 171.1h0M223.6 178.9h0M217.1 175.5h0M220.7 176.7h0M234.4 165.1h0M227.1 177.9h0M220.1 172.1h0M219.7 160.7h0M229.6 172.8h0M209.2 172.0h0M219.6 165.8h0M210.1 166.5h0M211.8 170.2h0M220.6 159.0h0M211.9 164.1h0M222.7 162.3h0M227.1 168.6h0M222.2 161.2h0M222.2 164.8h0M226.1 176.8h0M220.4 180.8h0M221.8 171.7h0M213.9 175.4h0M213.0 170.9h0M222.7 173.3h0M217.1 160.5h0M231.6 168.6h0M217.7 167.9h0M213.6 162.4h0M219.3 158.3h0M218.6 160.9h0M226.2 175.7h0M220.7 164.7h0M212.2 166.9h0M217.6 159.2h0M230.9 171.4h0M223.8 177.6h0M210.3 171.3h0M209.6 173.5h0M227.1 160.6h0M221.2 169.0h0M229.5 157.3h0M217.3 165.3h0M231.3 167.4h0M227.3 163.4h0M226.8 160.5h0M232.7 171.9h0M225.2 160.5h0M223.4 169.3h0M232.0 175.1h0M227.1 178.9h0M219.7 159.8h0M218.0 177.0h0M215.7 164.1h0M215.3 177.9h0M225.9 172.3h0M219.6 173.1h0M216.8 169.9h0M232.3 162.2h0M228.0 160.3h0M225.1 177.4h0M224.3 160.4h0M232.9 170.7h0M228.7 174.6h0M218.5 177.3h0M215.5 160.4h0M216.1 175.3h0M232.8 167.7h0M216.4 164.6h0M226.2 177.2h0M219.4 181.2h0M222.8 159.3h0M219.0 173.0h0M228.3 158.3h0M233.8 167.8h0M229.1 171.5h0M220.6 169.9h0M229.4 163.4h0M232.7 163.6h0M224.8 176.3h0M217.5 178.2h0M227.0 171.2h0M225.4 177.2h0M216.9 167.8h0M231.8 172.4h0M232.6 176.6h0M223.6 155.2h0M222.4 179.2h0M229.1 166.2h0M215.0 174.1h0M215.8 161.2h0M224.4 168.5h0M212.9 161.4h0M229.7 172.9h0M216.9 161.9h0M232.9 167.4h0M219.1 178.6h0M223.2 167.3h0M217.6 160.3h0M226.0 172.3h0M224.8 163.9h0M235.2 164.5h0M210.4 173.8h0M213.7 174.5h0M225.2 179.6h0M223.3 156.3h0M223.4 164.7h0M233.8 166.6h0M214.5 169.4h0M213.7 163.2h0M224.6 162.9h0M210.7 168.8h0M222.2 178.8h0M225.0 170.9h0M229.1 174.8h0M229.8 160.8h0M224.0 165.7h0M233.1 167.5h0M235.7 170.8h0M233.3 171.2h0M227.4 161.3h0M234.2 166.6h0M223.7 175.4h0M212.2 172.4h0M220.5 155.0h0M230.7 157.8h0M221.9 179.0h0M227.6 162.7h0M217.2 176.5h0M225.7 159.7h0M228.0 176.2h0M226.1 166.2h0M226.2 175.3h0M223.0 166.6h0M225.9 165.7h0M230.9 166.2h0M222.0 181.0h0M225.1 167.7h0M225.2 174.4h0M215.2 163.7h0M210.7 168.2h0M218.3 158.6h0M224.0 169.1h0M220.2 174.0h0M228.9 175.5h0M211.0 162.5h0M228.6 176.2h0M220.2 171.8h0M220.6 166.8h0M215.5 171.1h0M216.4 162.1h0M228.9 162.8h0M223.8 178.9h0M229.6 161.9h0M216.8 170.9h0M219.1 178.1h0M225.9 161.4h0M224.2 172.6h0M227.7 179.3h0M218.7 174.1h0M230.4 172.4h0M221.4 160.7h0M219.1 172.6h0M224.0 157.6h0M228.7 169.9h0M214.7 174.0h0M211.1 175.7h0M231.2 173.9h0M221.7 162.4h0M223.8 161.5h0M235.1 172.7h0M215.1 170.3h0M221.5 158.0h0M218.4 180.6h0M210.3 168.6h0M218.4 178.0h0M215.0 174.2h0M230.3 162.8h0M232.6 164.2h0M221.2 160.0h0M209.4 167.0h0M226.4 179.9h0M233.0 160.8h0M221.2 163.2h0M223.7 163.1h0M218.9 176.2h0M223.1 176.1h0M214.8 160.1h0M232.5 172.2h0M233.4 169.9h0M231.1 167.9h0M220.3 162.3h0M213.7 167.1h0M217.9 168.4h0M217.6 169.2h0M214.2 170.7h0M214.4 175.5h0M221.2 179.9h0M231.4 161.8h0M220.0 162.3h0M221.8 155.6h0M225.6 165.0h0M224.8 171.0h0M230.3 168.9h0M230.7 170.3h0M223.3 174.3h0M219.0 178.9h0M214.6 169.6h0M228.0 177.3h0M218.0 160.1h0M219.3 156.1h0M222.5 157.0h0M231.5 178.0h0M215.8 169.3h0M228.8 162.0h0M221.0 175.9h0M229.4 162.1h0M222.0 174.5h0M217.9 171.2h0M226.2 168.6h0M231.5 166.2h0M213.8 161.6h0M210.1 166.5h0M227.1 161.9h0M233.3 171.2h0M230.7 159.7h0M221.9 171.5h0M214.7 171.2h0M209.4 170.5h0M215.4 157.0h0M218.7 157.6h0M218.9 154.6h0M220.1 154.8h0M221.1 146.2h0M229.8 149.6h0M220.4 150.4h0M210.5 153.1h0M217.8 149.4h0M213.0 149.6h0M215.0 150.3h0M220.1 149.2h0M219.4 157.1h0M220.4 150.7h0M217.8 158.6h0M213.7 149.1h0M229.8 152.8h0M216.5 153.9h0M221.0 154.3h0M219.7 145.1h0M215.1 152.2h0M224.8 154.8h0M212.1 152.2h0M219.2 151.0h0M217.8 158.4h0M213.6 146.5h0M220.6 148.5h0M220.5 157.4h0M228.6 152.0h0M223.8 153.1h0M222.8 157.1h0M212.0 155.6h0M214.8 153.9h0M211.8 151.1h0M224.1 148.9h0M222.3 147.0h0M216.0 157.4h0M210.8 153.9h0M213.7 153.3h0M219.4 153.9h0M217.0 155.9h0M221.4 146.1h0M220.3 157.9h0M215.3 157.1h0M218.4 153.0h0M217.1 146.7h0M227.5 149.5h0M218.3 151.5h0M222.8 149.3h0M220.2 149.4h0M212.7 149.3h0M226.2 156.5h0M217.4 154.8h0M224.4 145.6h0M213.5 147.8h0M219.0 147.9h0M228.8 154.2h0M219.1 158.5h0M229.4 153.6h0M223.4 147.4h0M219.3 151.9h0M223.7 150.9h0M229.8 149.6h0M227.5 155.0h0M212.3 148.5h0M217.0 154.3h0M215.5 152.0h0M214.6 153.4h0M227.6 150.0h0M220.8 154.1h0M219.9 145.9h0M228.8 149.2h0M217.5 157.7h0M227.9 149.6h0M214.2 154.8h0M214.0 148.8h0M213.7 153.5h0M223.5 158.8h0M226.1 152.7h0M230.7 151.6h0M215.8 147.0h0M221.9 155.9h0M227.0 151.7h0M224.2 151.6h0M210.5 150.0h0"/>
<path stroke="#8a4a40" stroke-width="0.95" stroke-linecap="square" fill="none" d="M244.8 147.1h0M239.2 142.3h0M245.0 148.4h0M250.8 141.6h0M237.6 142.0h0M252.9 140.2h0M252.4 146.9h0M247.8 147.2h0M243.9 138.7h0M251.0 147.4h0M234.3 142.1h0M244.3 144.4h0M239.3 146.9h0M250.4 145.8h0M238.4 141.8h0M245.6 139.8h0M240.8 142.7h0M242.9 138.8h0M237.0 144.2h0M249.7 145.7h0M247.4 139.7h0M245.7 144.2h0M246.8 147.0h0M237.3 145.8h0M238.0 147.4h0M240.1 140.4h0M245.9 143.9h0M240.6 142.3h0M250.4 147.8h0M246.1 143.8h0M252.5 144.2h0M254.3 145.9h0M241.3 142.1h0M236.7 145.3h0M251.6 142.9h0M234.2 146.1h0M249.5 144.5h0M236.2 145.4h0M237.2 143.9h0M248.3 146.9h0M240.4 147.0h0M239.1 148.0h0M255.6 143.3h0M245.6 143.0h0M248.4 142.5h0M248.1 145.2h0M239.5 148.3h0M236.9 142.3h0M245.0 145.6h0M251.0 144.9h0M247.4 141.3h0M243.8 148.0h0M247.6 142.4h0M240.1 144.7h0M245.6 148.8h0M240.5 145.5h0M237.5 141.1h0M249.0 148.8h0M251.8 147.9h0M247.6 141.7h0M240.5 144.0h0M244.7 148.5h0M250.5 139.8h0M241.2 145.5h0M253.7 143.4h0M250.3 145.3h0M246.3 148.6h0M245.1 144.5h0M247.5 149.4h0M241.8 141.5h0M251.0 145.7h0M249.9 142.6h0M250.7 144.3h0M238.6 140.5h0M252.3 141.4h0M241.1 142.9h0M237.8 143.7h0M233.6 144.2h0M254.7 141.2h0M247.9 149.1h0M249.5 148.4h0M245.8 144.0h0M254.3 142.3h0M252.5 147.6h0M252.8 144.4h0M250.2 146.2h0M249.4 145.6h0M249.7 146.4h0M254.1 146.3h0M252.5 143.9h0M254.0 143.9h0M253.0 147.1h0M254.9 143.8h0M249.8 145.2h0M250.6 145.1h0M250.9 144.2h0M250.8 142.9h0M250.1 143.5h0M252.0 145.5h0M250.6 143.2h0"/>
</g></g>
<rect x="36.6" y="53.6" width="231" height="178.5" fill="none" stroke="#858585" stroke-width="1"/>
<text x="0" y="0" font-size="6.7" text-anchor="middle" fill="#333" transform="translate(33.4,143.2) rotate(-90)">UMAP2</text>
<text x="151.8" y="239.8" font-size="6.5" text-anchor="middle" fill="#333" >UMAP1</text>
<circle cx="279.9" cy="74.30" r="2.3" fill="#3c5fa8"/>
<text x="289.6" y="76.75" font-size="6.8" text-anchor="start" fill="#333" >AML</text>
<circle cx="279.9" cy="84.12" r="2.3" fill="#e07a3a"/>
<text x="289.6" y="86.57" font-size="6.8" text-anchor="start" fill="#333" >ATC</text>
<circle cx="279.9" cy="93.94" r="2.3" fill="#5cbf4f"/>
<text x="289.6" y="96.39" font-size="6.8" text-anchor="start" fill="#333" >BLCA</text>
<circle cx="279.9" cy="103.76" r="2.3" fill="#c23b3b"/>
<text x="289.6" y="106.21" font-size="6.8" text-anchor="start" fill="#333" >BRCA</text>
<circle cx="279.9" cy="113.58" r="2.3" fill="#5a4aa0"/>
<text x="289.6" y="116.03" font-size="6.8" text-anchor="start" fill="#333" >CESC</text>
<circle cx="279.9" cy="123.40" r="2.3" fill="#7a4a30"/>
<text x="289.6" y="125.85" font-size="6.8" text-anchor="start" fill="#333" >COAD</text>
<circle cx="279.9" cy="133.22" r="2.3" fill="#a050a8"/>
<text x="289.6" y="135.67" font-size="6.8" text-anchor="start" fill="#333" >ESCA</text>
<circle cx="279.9" cy="143.04" r="2.3" fill="#d05a78"/>
<text x="289.6" y="145.49" font-size="6.8" text-anchor="start" fill="#333" >GBM</text>
<circle cx="279.9" cy="152.86" r="2.3" fill="#40669a"/>
<text x="289.6" y="155.31" font-size="6.8" text-anchor="start" fill="#333" >HCC</text>
<circle cx="279.9" cy="162.68" r="2.3" fill="#a0b4d8"/>
<text x="289.6" y="165.13" font-size="6.8" text-anchor="start" fill="#333" >HNSC</text>
<circle cx="279.9" cy="172.50" r="2.3" fill="#d06a30"/>
<text x="289.6" y="174.95" font-size="6.8" text-anchor="start" fill="#333" >KIRC</text>
<circle cx="279.9" cy="182.32" r="2.3" fill="#dba070"/>
<text x="289.6" y="184.77" font-size="6.8" text-anchor="start" fill="#333" >LGG</text>
<circle cx="279.9" cy="192.14" r="2.3" fill="#5a9a40"/>
<text x="289.6" y="194.59" font-size="6.8" text-anchor="start" fill="#333" >LUAD</text>
<circle cx="279.9" cy="201.96" r="2.3" fill="#98d088"/>
<text x="289.6" y="204.41" font-size="6.8" text-anchor="start" fill="#333" >LUSC</text>
<circle cx="279.9" cy="211.78" r="2.3" fill="#a0282a"/>
<text x="289.6" y="214.23" font-size="6.8" text-anchor="start" fill="#333" >MCC</text>
<circle cx="318.9" cy="74.30" r="2.3" fill="#e08888"/>
<text x="328.7" y="76.75" font-size="6.8" text-anchor="start" fill="#333" >MES</text>
<circle cx="318.9" cy="84.12" r="2.3" fill="#6a4aa0"/>
<text x="328.7" y="86.57" font-size="6.8" text-anchor="start" fill="#333" >NBL</text>
<circle cx="318.9" cy="93.94" r="2.3" fill="#b0a0d0"/>
<text x="328.7" y="96.39" font-size="6.8" text-anchor="start" fill="#333" >NSCLC</text>
<circle cx="318.9" cy="103.76" r="2.3" fill="#6a4038"/>
<text x="328.7" y="106.21" font-size="6.8" text-anchor="start" fill="#333" >OS</text>
<circle cx="318.9" cy="113.58" r="2.3" fill="#b89890"/>
<text x="328.7" y="116.03" font-size="6.8" text-anchor="start" fill="#333" >OV</text>
<circle cx="318.9" cy="123.40" r="2.3" fill="#b058b8"/>
<text x="328.7" y="125.85" font-size="6.8" text-anchor="start" fill="#333" >PDAC</text>
<circle cx="318.9" cy="133.22" r="2.3" fill="#e0a0c8"/>
<text x="328.7" y="135.67" font-size="6.8" text-anchor="start" fill="#333" >PRAD</text>
<circle cx="318.9" cy="143.04" r="2.3" fill="#808080"/>
<text x="328.7" y="145.49" font-size="6.8" text-anchor="start" fill="#333" >READ</text>
<circle cx="318.9" cy="152.86" r="2.3" fill="#c8c8c8"/>
<text x="328.7" y="155.31" font-size="6.8" text-anchor="start" fill="#333" >SKCM</text>
<circle cx="318.9" cy="162.68" r="2.3" fill="#a0a840"/>
<text x="328.7" y="165.13" font-size="6.8" text-anchor="start" fill="#333" >STAD</text>
<circle cx="318.9" cy="172.50" r="2.3" fill="#c8cc88"/>
<text x="328.7" y="174.95" font-size="6.8" text-anchor="start" fill="#333" >TGCT</text>
<circle cx="318.9" cy="182.32" r="2.3" fill="#50a8a8"/>
<text x="328.7" y="184.77" font-size="6.8" text-anchor="start" fill="#333" >THCA</text>
<circle cx="318.9" cy="192.14" r="2.3" fill="#a0d8d0"/>
<text x="328.7" y="194.59" font-size="6.8" text-anchor="start" fill="#333" >TNBC</text>
<circle cx="318.9" cy="201.96" r="2.3" fill="#98b8d8"/>
<text x="328.7" y="204.41" font-size="6.8" text-anchor="start" fill="#333" >UCEC</text>
<text x="372.8" y="11.3" font-size="12.0" text-anchor="start" fill="#1a1a1a" >B</text>
<text x="447.2" y="24.4" font-size="11.3" text-anchor="middle" fill="#1a1a1a" >UCEC RBP</text>
<rect x="390.8" y="35.00" width="26.9" height="2.52" fill="#c46857"/>
<rect x="390.8" y="37.22" width="26.9" height="2.52" fill="#b44d4a"/>
<rect x="390.8" y="39.44" width="26.9" height="2.52" fill="#ad4244"/>
<rect x="390.8" y="41.66" width="26.9" height="2.52" fill="#b34d49"/>
<rect x="390.8" y="43.88" width="26.9" height="2.52" fill="#b04646"/>
<rect x="390.8" y="46.10" width="26.9" height="2.70" fill="#e1a679"/>
<rect x="390.8" y="48.50" width="26.9" height="2.80" fill="#ca715c"/>
<rect x="390.8" y="51.00" width="26.9" height="2.70" fill="#ecce91"/>
<rect x="390.8" y="53.40" width="26.9" height="2.75" fill="#eff2ca"/>
<rect x="390.8" y="55.85" width="26.9" height="2.75" fill="#edf3d6"/>
<rect x="390.8" y="58.30" width="26.9" height="2.00" fill="#f0e0a4"/>
<rect x="390.8" y="60.00" width="26.9" height="2.20" fill="#f0f2c4"/>
<rect x="390.8" y="61.90" width="26.9" height="2.20" fill="#f0f2c6"/>
<rect x="390.8" y="63.80" width="26.9" height="2.20" fill="#f2efb9"/>
<rect x="390.8" y="65.70" width="26.9" height="1.90" fill="#e7bd87"/>
<rect x="390.8" y="67.30" width="26.9" height="2.75" fill="#b5cbd7"/>
<rect x="390.8" y="69.75" width="26.9" height="2.75" fill="#a7bfd0"/>
<rect x="390.8" y="72.20" width="26.9" height="2.35" fill="#efdb9c"/>
<rect x="390.8" y="74.25" width="26.9" height="2.35" fill="#f0e0a3"/>
<rect x="390.8" y="76.30" width="26.9" height="2.35" fill="#f1ebb4"/>
<rect x="390.8" y="78.35" width="26.9" height="2.35" fill="#f2efb9"/>
<rect x="390.8" y="80.40" width="26.9" height="1.90" fill="#f1e5aa"/>
<rect x="390.8" y="82.00" width="26.9" height="1.95" fill="#c9dbd9"/>
<rect x="390.8" y="83.65" width="26.9" height="1.95" fill="#bfd3da"/>
<rect x="390.8" y="85.30" width="26.9" height="1.90" fill="#eef2ce"/>
<rect x="390.8" y="86.90" width="26.9" height="1.90" fill="#eaf1d8"/>
<rect x="390.8" y="88.50" width="26.9" height="1.90" fill="#dee9d9"/>
<rect x="390.8" y="90.10" width="26.9" height="1.90" fill="#edf3d3"/>
<rect x="390.8" y="91.70" width="26.9" height="2.35" fill="#b1c8d5"/>
<rect x="390.8" y="93.75" width="26.9" height="2.35" fill="#b0c7d5"/>
<rect x="390.8" y="95.80" width="26.9" height="2.35" fill="#edf3d2"/>
<rect x="390.8" y="97.85" width="26.9" height="2.35" fill="#e6efd8"/>
<rect x="390.8" y="99.90" width="26.9" height="2.75" fill="#ceded9"/>
<rect x="390.8" y="102.35" width="26.9" height="2.75" fill="#f0f2c3"/>
<rect x="390.8" y="104.80" width="26.9" height="2.20" fill="#f0e1a5"/>
<rect x="390.8" y="106.70" width="26.9" height="2.20" fill="#f0dea0"/>
<rect x="390.8" y="108.60" width="26.9" height="2.20" fill="#f1e5aa"/>
<rect x="390.8" y="110.50" width="26.9" height="2.20" fill="#f1e5aa"/>
<rect x="390.8" y="112.40" width="26.9" height="2.20" fill="#e5b582"/>
<rect x="390.8" y="114.30" width="26.9" height="2.20" fill="#eac58b"/>
<rect x="390.8" y="116.20" width="26.9" height="2.23" fill="#d17c62"/>
<rect x="390.8" y="118.13" width="26.9" height="2.23" fill="#da8e6c"/>
<rect x="390.8" y="120.07" width="26.9" height="2.23" fill="#e5b582"/>
<rect x="390.8" y="122.00" width="26.9" height="2.73" fill="#edd092"/>
<rect x="390.8" y="124.43" width="26.9" height="2.73" fill="#f0f2c5"/>
<rect x="390.8" y="126.87" width="26.9" height="2.73" fill="#f0dc9d"/>
<rect x="390.8" y="129.30" width="26.9" height="2.35" fill="#eccd90"/>
<rect x="390.8" y="131.35" width="26.9" height="2.35" fill="#f0dd9f"/>
<rect x="390.8" y="133.40" width="26.9" height="2.60" fill="#d78667"/>
<rect x="390.8" y="135.70" width="26.9" height="2.60" fill="#c86d5a"/>
<rect x="390.8" y="138.00" width="26.9" height="2.60" fill="#b2c9d6"/>
<rect x="390.8" y="140.30" width="26.9" height="2.60" fill="#bdd2da"/>
<rect x="390.8" y="142.60" width="26.9" height="2.60" fill="#bcd2da"/>
<rect x="390.8" y="144.90" width="26.9" height="2.47" fill="#f2f1be"/>
<rect x="390.8" y="147.07" width="26.9" height="2.47" fill="#eef2d1"/>
<rect x="390.8" y="149.23" width="26.9" height="2.47" fill="#f0f2c5"/>
<rect x="390.8" y="151.40" width="26.9" height="2.55" fill="#aec5d4"/>
<rect x="390.8" y="153.65" width="26.9" height="2.55" fill="#b9cfda"/>
<rect x="390.8" y="155.90" width="26.9" height="2.55" fill="#cbdcd9"/>
<rect x="390.8" y="158.15" width="26.9" height="2.55" fill="#cbdcd9"/>
<rect x="390.8" y="160.40" width="26.9" height="2.20" fill="#b8ced9"/>
<rect x="390.8" y="162.30" width="26.9" height="2.20" fill="#a7bfd0"/>
<rect x="390.8" y="164.20" width="26.9" height="2.20" fill="#9eb6cb"/>
<rect x="390.8" y="166.10" width="26.9" height="2.50" fill="#8da7c2"/>
<rect x="390.8" y="168.30" width="26.9" height="2.50" fill="#708bb1"/>
<rect x="390.8" y="170.50" width="26.9" height="2.50" fill="#738eb3"/>
<rect x="390.8" y="172.70" width="26.9" height="2.70" fill="#d07b61"/>
<rect x="390.8" y="175.10" width="26.9" height="1.95" fill="#f1e9b0"/>
<rect x="390.8" y="176.75" width="26.9" height="1.95" fill="#f2f1bc"/>
<rect x="390.8" y="178.40" width="26.9" height="1.90" fill="#dc9771"/>
<rect x="390.8" y="180.00" width="26.9" height="2.23" fill="#f1ecb5"/>
<rect x="390.8" y="181.93" width="26.9" height="2.23" fill="#efda9a"/>
<rect x="390.8" y="183.87" width="26.9" height="2.23" fill="#f1ebb3"/>
<rect x="390.8" y="185.80" width="26.9" height="2.32" fill="#6882ac"/>
<rect x="390.8" y="187.83" width="26.9" height="2.32" fill="#8ba5c1"/>
<rect x="390.8" y="189.85" width="26.9" height="2.32" fill="#7b95b8"/>
<rect x="390.8" y="191.88" width="26.9" height="2.32" fill="#718bb2"/>
<rect x="390.8" y="193.90" width="26.9" height="1.90" fill="#94adc5"/>
<rect x="390.8" y="195.50" width="26.9" height="2.30" fill="#d1e0d9"/>
<rect x="390.8" y="197.50" width="26.9" height="2.30" fill="#dbe7d9"/>
<rect x="390.8" y="199.50" width="26.9" height="2.75" fill="#a6becf"/>
<rect x="390.8" y="201.95" width="26.9" height="2.75" fill="#c5d8da"/>
<rect x="390.8" y="204.40" width="26.9" height="2.35" fill="#f1e4aa"/>
<rect x="390.8" y="206.45" width="26.9" height="2.35" fill="#f0f2c4"/>
<rect x="390.8" y="208.50" width="26.9" height="2.35" fill="#e6efd8"/>
<rect x="390.8" y="210.55" width="26.9" height="2.35" fill="#edf3d2"/>
<rect x="390.8" y="212.60" width="26.9" height="2.35" fill="#c4d7da"/>
<rect x="390.8" y="214.65" width="26.9" height="2.35" fill="#cbdcd9"/>
<rect x="390.8" y="216.70" width="26.9" height="2.20" fill="#f2edb7"/>
<rect x="390.8" y="218.60" width="26.9" height="2.20" fill="#f2eeb8"/>
<rect x="390.8" y="220.50" width="26.9" height="2.20" fill="#f1ecb4"/>
<rect x="390.8" y="222.40" width="26.9" height="1.95" fill="#ebcb8f"/>
<rect x="390.8" y="224.05" width="26.9" height="1.95" fill="#e2a97b"/>
<rect x="390.8" y="225.70" width="26.9" height="2.70" fill="#edf3d2"/>
<rect x="390.8" y="228.10" width="26.9" height="2.75" fill="#ecf3d6"/>
<rect x="390.8" y="230.55" width="26.9" height="2.75" fill="#e8f0d8"/>
<rect x="390.8" y="233.00" width="26.9" height="2.23" fill="#f1f1bf"/>
<rect x="390.8" y="234.93" width="26.9" height="2.23" fill="#eff2c8"/>
<rect x="390.8" y="236.87" width="26.9" height="2.23" fill="#f1f1c2"/>
<rect x="390.8" y="238.80" width="26.9" height="2.70" fill="#b6ccd8"/>
<rect x="390.8" y="241.20" width="26.9" height="2.70" fill="#c7d9d9"/>
<rect x="390.8" y="243.60" width="26.9" height="2.70" fill="#c3d7da"/>
<rect x="417.4" y="35.00" width="26.9" height="2.45" fill="#d2e1d9"/>
<rect x="417.4" y="37.15" width="26.9" height="2.45" fill="#d0dfd9"/>
<rect x="417.4" y="39.30" width="26.9" height="2.45" fill="#c8dad9"/>
<rect x="417.4" y="41.45" width="26.9" height="2.45" fill="#c7d9d9"/>
<rect x="417.4" y="43.60" width="26.9" height="2.80" fill="#ecf3d7"/>
<rect x="417.4" y="46.10" width="26.9" height="2.70" fill="#ebca8e"/>
<rect x="417.4" y="48.50" width="26.9" height="2.75" fill="#f1e5aa"/>
<rect x="417.4" y="50.95" width="26.9" height="2.75" fill="#f0e2a5"/>
<rect x="417.4" y="53.40" width="26.9" height="2.50" fill="#c06154"/>
<rect x="417.4" y="55.60" width="26.9" height="2.50" fill="#ca725d"/>
<rect x="417.4" y="57.80" width="26.9" height="2.50" fill="#c86e5a"/>
<rect x="417.4" y="60.00" width="26.9" height="2.30" fill="#d17c62"/>
<rect x="417.4" y="62.00" width="26.9" height="2.30" fill="#de9e75"/>
<rect x="417.4" y="64.00" width="26.9" height="2.15" fill="#cb735d"/>
<rect x="417.4" y="65.85" width="26.9" height="2.15" fill="#dd9871"/>
<rect x="417.4" y="67.70" width="26.9" height="2.35" fill="#e5b683"/>
<rect x="417.4" y="69.75" width="26.9" height="2.35" fill="#eac78c"/>
<rect x="417.4" y="71.80" width="26.9" height="2.47" fill="#f2f1bd"/>
<rect x="417.4" y="73.97" width="26.9" height="2.47" fill="#f2edb6"/>
<rect x="417.4" y="76.13" width="26.9" height="2.47" fill="#f0e3a8"/>
<rect x="417.4" y="78.30" width="26.9" height="1.90" fill="#de9b73"/>
<rect x="417.4" y="79.90" width="26.9" height="1.60" fill="#eed394"/>
<rect x="417.4" y="81.20" width="26.9" height="2.75" fill="#b6514c"/>
<rect x="417.4" y="83.65" width="26.9" height="2.75" fill="#c36657"/>
<rect x="417.4" y="86.10" width="26.9" height="2.70" fill="#f0e3a7"/>
<rect x="417.4" y="88.50" width="26.9" height="2.20" fill="#d78667"/>
<rect x="417.4" y="90.40" width="26.9" height="2.20" fill="#e0a478"/>
<rect x="417.4" y="92.30" width="26.9" height="2.20" fill="#d58366"/>
<rect x="417.4" y="94.20" width="26.9" height="2.35" fill="#e0a277"/>
<rect x="417.4" y="96.25" width="26.9" height="2.35" fill="#e9c189"/>
<rect x="417.4" y="98.30" width="26.9" height="2.33" fill="#bd5c52"/>
<rect x="417.4" y="100.33" width="26.9" height="2.33" fill="#bc5b51"/>
<rect x="417.4" y="102.37" width="26.9" height="2.33" fill="#ad4244"/>
<rect x="417.4" y="104.40" width="26.9" height="2.33" fill="#b6504b"/>
<rect x="417.4" y="106.43" width="26.9" height="2.33" fill="#b9554e"/>
<rect x="417.4" y="108.47" width="26.9" height="2.33" fill="#ad4244"/>
<rect x="417.4" y="110.50" width="26.9" height="2.47" fill="#de9c73"/>
<rect x="417.4" y="112.67" width="26.9" height="2.47" fill="#dc9570"/>
<rect x="417.4" y="114.83" width="26.9" height="2.47" fill="#dc956f"/>
<rect x="417.4" y="117.00" width="26.9" height="2.35" fill="#ebc98e"/>
<rect x="417.4" y="119.05" width="26.9" height="2.35" fill="#f0dd9f"/>
<rect x="417.4" y="121.10" width="26.9" height="2.55" fill="#cf7960"/>
<rect x="417.4" y="123.35" width="26.9" height="2.55" fill="#c66b59"/>
<rect x="417.4" y="125.60" width="26.9" height="2.55" fill="#d27f63"/>
<rect x="417.4" y="127.85" width="26.9" height="2.55" fill="#d37f64"/>
<rect x="417.4" y="130.10" width="26.9" height="2.35" fill="#e8bf88"/>
<rect x="417.4" y="132.15" width="26.9" height="2.35" fill="#efda9a"/>
<rect x="417.4" y="134.20" width="26.9" height="2.58" fill="#f1f1c3"/>
<rect x="417.4" y="136.47" width="26.9" height="2.58" fill="#f1eab2"/>
<rect x="417.4" y="138.75" width="26.9" height="2.58" fill="#f2f1be"/>
<rect x="417.4" y="141.03" width="26.9" height="2.58" fill="#f0dea0"/>
<rect x="417.4" y="143.30" width="26.9" height="2.35" fill="#eaf2d8"/>
<rect x="417.4" y="145.35" width="26.9" height="2.35" fill="#d8e5d9"/>
<rect x="417.4" y="147.40" width="26.9" height="2.75" fill="#b2c9d6"/>
<rect x="417.4" y="149.85" width="26.9" height="2.75" fill="#b0c7d5"/>
<rect x="417.4" y="152.30" width="26.9" height="2.73" fill="#cdddd9"/>
<rect x="417.4" y="154.73" width="26.9" height="2.73" fill="#afc6d4"/>
<rect x="417.4" y="157.17" width="26.9" height="2.73" fill="#c2d5da"/>
<rect x="417.4" y="159.60" width="26.9" height="2.20" fill="#c7d9d9"/>
<rect x="417.4" y="161.50" width="26.9" height="2.20" fill="#bcd1da"/>
<rect x="417.4" y="163.40" width="26.9" height="2.20" fill="#c7d9d9"/>
<rect x="417.4" y="165.30" width="26.9" height="2.15" fill="#eff2cb"/>
<rect x="417.4" y="167.15" width="26.9" height="2.15" fill="#f2eeb8"/>
<rect x="417.4" y="169.00" width="26.9" height="2.15" fill="#f1f1bf"/>
<rect x="417.4" y="170.85" width="26.9" height="2.15" fill="#f0e1a4"/>
<rect x="417.4" y="172.70" width="26.9" height="2.47" fill="#9fb7cb"/>
<rect x="417.4" y="174.87" width="26.9" height="2.47" fill="#bed3da"/>
<rect x="417.4" y="177.03" width="26.9" height="2.47" fill="#b0c7d5"/>
<rect x="417.4" y="179.20" width="26.9" height="2.50" fill="#ecf3d7"/>
<rect x="417.4" y="181.40" width="26.9" height="2.50" fill="#e3edd8"/>
<rect x="417.4" y="183.60" width="26.9" height="2.50" fill="#dee9d9"/>
<rect x="417.4" y="185.80" width="26.9" height="1.90" fill="#d78768"/>
<rect x="417.4" y="187.40" width="26.9" height="1.90" fill="#c46857"/>
<rect x="417.4" y="189.00" width="26.9" height="2.75" fill="#f0e2a6"/>
<rect x="417.4" y="191.45" width="26.9" height="2.75" fill="#e8c189"/>
<rect x="417.4" y="193.90" width="26.9" height="1.90" fill="#f1e5aa"/>
<rect x="417.4" y="195.50" width="26.9" height="2.53" fill="#d48164"/>
<rect x="417.4" y="197.72" width="26.9" height="2.53" fill="#cc755e"/>
<rect x="417.4" y="199.95" width="26.9" height="2.53" fill="#d98b6a"/>
<rect x="417.4" y="202.18" width="26.9" height="2.53" fill="#cf7960"/>
<rect x="417.4" y="204.40" width="26.9" height="2.35" fill="#6782ac"/>
<rect x="417.4" y="206.45" width="26.9" height="2.35" fill="#728db2"/>
<rect x="417.4" y="208.50" width="26.9" height="2.35" fill="#809bbb"/>
<rect x="417.4" y="210.55" width="26.9" height="2.35" fill="#7590b4"/>
<rect x="417.4" y="212.60" width="26.9" height="2.35" fill="#c4d7da"/>
<rect x="417.4" y="214.65" width="26.9" height="2.35" fill="#afc5d4"/>
<rect x="417.4" y="216.70" width="26.9" height="2.75" fill="#7691b5"/>
<rect x="417.4" y="219.15" width="26.9" height="2.75" fill="#92abc4"/>
<rect x="417.4" y="221.60" width="26.9" height="2.20" fill="#c5d8da"/>
<rect x="417.4" y="223.50" width="26.9" height="2.20" fill="#c1d5da"/>
<rect x="417.4" y="225.40" width="26.9" height="2.20" fill="#c2d6da"/>
<rect x="417.4" y="227.30" width="26.9" height="2.35" fill="#eff2cb"/>
<rect x="417.4" y="229.35" width="26.9" height="2.35" fill="#f0f2c5"/>
<rect x="417.4" y="231.40" width="26.9" height="2.35" fill="#f1eab2"/>
<rect x="417.4" y="233.45" width="26.9" height="2.35" fill="#eff2ca"/>
<rect x="417.4" y="235.50" width="26.9" height="2.75" fill="#b7cdd8"/>
<rect x="417.4" y="237.95" width="26.9" height="2.75" fill="#aec5d3"/>
<rect x="417.4" y="240.40" width="26.9" height="2.17" fill="#ceded9"/>
<rect x="417.4" y="242.27" width="26.9" height="2.17" fill="#d4e2d9"/>
<rect x="417.4" y="244.13" width="26.9" height="2.17" fill="#d4e2d9"/>
<rect x="444.0" y="35.00" width="26.9" height="1.90" fill="#849fbd"/>
<rect x="444.0" y="36.60" width="26.9" height="2.63" fill="#c4d7da"/>
<rect x="444.0" y="38.93" width="26.9" height="2.63" fill="#d1e0d9"/>
<rect x="444.0" y="41.27" width="26.9" height="2.63" fill="#d9e5d9"/>
<rect x="444.0" y="43.60" width="26.9" height="2.40" fill="#b7cdd8"/>
<rect x="444.0" y="45.70" width="26.9" height="2.62" fill="#829dbc"/>
<rect x="444.0" y="48.03" width="26.9" height="2.62" fill="#6984ad"/>
<rect x="444.0" y="50.35" width="26.9" height="2.62" fill="#637eaa"/>
<rect x="444.0" y="52.67" width="26.9" height="2.62" fill="#6680ab"/>
<rect x="444.0" y="55.00" width="26.9" height="3.30" fill="#98b1c8"/>
<rect x="444.0" y="58.00" width="26.9" height="2.30" fill="#607aa8"/>
<rect x="444.0" y="60.00" width="26.9" height="2.30" fill="#6781ac"/>
<rect x="444.0" y="62.00" width="26.9" height="2.30" fill="#5a74a4"/>
<rect x="444.0" y="64.00" width="26.9" height="2.30" fill="#6680ab"/>
<rect x="444.0" y="66.00" width="26.9" height="2.30" fill="#6e89b0"/>
<rect x="444.0" y="68.00" width="26.9" height="3.30" fill="#a5bcce"/>
<rect x="444.0" y="71.00" width="26.9" height="2.34" fill="#6e88b0"/>
<rect x="444.0" y="73.04" width="26.9" height="2.34" fill="#718cb2"/>
<rect x="444.0" y="75.08" width="26.9" height="2.34" fill="#627ca9"/>
<rect x="444.0" y="77.12" width="26.9" height="2.34" fill="#7691b5"/>
<rect x="444.0" y="79.16" width="26.9" height="2.34" fill="#7893b6"/>
<rect x="444.0" y="81.20" width="26.9" height="2.75" fill="#eff2cc"/>
<rect x="444.0" y="83.65" width="26.9" height="2.75" fill="#f0f2c4"/>
<rect x="444.0" y="86.10" width="26.9" height="1.90" fill="#d07c62"/>
<rect x="444.0" y="87.70" width="26.9" height="2.42" fill="#dd9972"/>
<rect x="444.0" y="89.82" width="26.9" height="2.42" fill="#da8e6c"/>
<rect x="444.0" y="91.94" width="26.9" height="2.42" fill="#e0a478"/>
<rect x="444.0" y="94.06" width="26.9" height="2.42" fill="#e7bb86"/>
<rect x="444.0" y="96.18" width="26.9" height="2.42" fill="#e5b582"/>
<rect x="444.0" y="98.30" width="26.9" height="2.20" fill="#eaf2d8"/>
<rect x="444.0" y="100.20" width="26.9" height="2.20" fill="#d8e5d9"/>
<rect x="444.0" y="102.10" width="26.9" height="2.20" fill="#c2d6da"/>
<rect x="444.0" y="104.00" width="26.9" height="2.55" fill="#9fb7cb"/>
<rect x="444.0" y="106.25" width="26.9" height="2.55" fill="#acc3d2"/>
<rect x="444.0" y="108.50" width="26.9" height="2.55" fill="#a1b9cd"/>
<rect x="444.0" y="110.75" width="26.9" height="2.55" fill="#abc2d2"/>
<rect x="444.0" y="113.00" width="26.9" height="2.55" fill="#b5cbd7"/>
<rect x="444.0" y="115.25" width="26.9" height="2.55" fill="#aec5d3"/>
<rect x="444.0" y="117.50" width="26.9" height="2.55" fill="#9eb7cb"/>
<rect x="444.0" y="119.75" width="26.9" height="2.55" fill="#aec5d4"/>
<rect x="444.0" y="122.00" width="26.9" height="1.90" fill="#eef2cd"/>
<rect x="444.0" y="123.60" width="26.9" height="1.90" fill="#e4eed8"/>
<rect x="444.0" y="125.20" width="26.9" height="2.50" fill="#bdd2da"/>
<rect x="444.0" y="127.40" width="26.9" height="2.50" fill="#c8dad9"/>
<rect x="444.0" y="129.60" width="26.9" height="2.50" fill="#b9cfda"/>
<rect x="444.0" y="131.80" width="26.9" height="2.70" fill="#f1e5ab"/>
<rect x="444.0" y="134.20" width="26.9" height="2.35" fill="#bad0da"/>
<rect x="444.0" y="136.25" width="26.9" height="2.35" fill="#adc4d3"/>
<rect x="444.0" y="138.30" width="26.9" height="2.31" fill="#ad4244"/>
<rect x="444.0" y="140.31" width="26.9" height="2.31" fill="#ba564f"/>
<rect x="444.0" y="142.32" width="26.9" height="2.31" fill="#bd5c52"/>
<rect x="444.0" y="144.33" width="26.9" height="2.31" fill="#ad4244"/>
<rect x="444.0" y="146.34" width="26.9" height="2.31" fill="#ad4244"/>
<rect x="444.0" y="148.35" width="26.9" height="2.31" fill="#bc5a50"/>
<rect x="444.0" y="150.35" width="26.9" height="2.31" fill="#b34b49"/>
<rect x="444.0" y="152.36" width="26.9" height="2.31" fill="#b24a48"/>
<rect x="444.0" y="154.37" width="26.9" height="2.31" fill="#ad4244"/>
<rect x="444.0" y="156.38" width="26.9" height="2.31" fill="#ca705c"/>
<rect x="444.0" y="158.39" width="26.9" height="2.31" fill="#c06154"/>
<rect x="444.0" y="160.40" width="26.9" height="2.35" fill="#d27d63"/>
<rect x="444.0" y="162.45" width="26.9" height="2.35" fill="#c16254"/>
<rect x="444.0" y="164.50" width="26.9" height="2.35" fill="#ca715c"/>
<rect x="444.0" y="166.55" width="26.9" height="2.35" fill="#be5e52"/>
<rect x="444.0" y="168.60" width="26.9" height="2.35" fill="#ae4445"/>
<rect x="444.0" y="170.65" width="26.9" height="2.35" fill="#bd5c51"/>
<rect x="444.0" y="172.70" width="26.9" height="2.70" fill="#ebc88d"/>
<rect x="444.0" y="175.10" width="26.9" height="2.80" fill="#bf5f53"/>
<rect x="444.0" y="177.60" width="26.9" height="2.35" fill="#d48265"/>
<rect x="444.0" y="179.65" width="26.9" height="2.35" fill="#e2aa7c"/>
<rect x="444.0" y="181.70" width="26.9" height="2.35" fill="#cc745e"/>
<rect x="444.0" y="183.75" width="26.9" height="2.35" fill="#d68466"/>
<rect x="444.0" y="185.80" width="26.9" height="2.47" fill="#f1eab1"/>
<rect x="444.0" y="187.97" width="26.9" height="2.47" fill="#f1e5aa"/>
<rect x="444.0" y="190.13" width="26.9" height="2.47" fill="#f2f0bb"/>
<rect x="444.0" y="192.30" width="26.9" height="2.70" fill="#e7bc86"/>
<rect x="444.0" y="194.70" width="26.9" height="2.70" fill="#b5ccd7"/>
<rect x="444.0" y="197.10" width="26.9" height="2.70" fill="#9eb7cb"/>
<rect x="444.0" y="199.50" width="26.9" height="2.35" fill="#d8e5d9"/>
<rect x="444.0" y="201.55" width="26.9" height="2.35" fill="#d7e4d9"/>
<rect x="444.0" y="203.60" width="26.9" height="2.75" fill="#f0e0a3"/>
<rect x="444.0" y="206.05" width="26.9" height="2.75" fill="#eed393"/>
<rect x="444.0" y="208.50" width="26.9" height="2.80" fill="#e9c38b"/>
<rect x="444.0" y="211.00" width="26.9" height="2.20" fill="#f0e0a3"/>
<rect x="444.0" y="212.90" width="26.9" height="2.20" fill="#f1e8af"/>
<rect x="444.0" y="214.80" width="26.9" height="2.20" fill="#f0dd9f"/>
<rect x="444.0" y="216.70" width="26.9" height="2.20" fill="#c66b59"/>
<rect x="444.0" y="218.60" width="26.9" height="2.20" fill="#be5e52"/>
<rect x="444.0" y="220.50" width="26.9" height="2.20" fill="#dd9972"/>
<rect x="444.0" y="222.40" width="26.9" height="2.35" fill="#bcd1da"/>
<rect x="444.0" y="224.45" width="26.9" height="2.35" fill="#cbdcd9"/>
<rect x="444.0" y="226.50" width="26.9" height="2.73" fill="#7e99ba"/>
<rect x="444.0" y="228.93" width="26.9" height="2.73" fill="#94adc6"/>
<rect x="444.0" y="231.37" width="26.9" height="2.73" fill="#91aac4"/>
<rect x="444.0" y="233.80" width="26.9" height="2.80" fill="#d6e4d9"/>
<rect x="444.0" y="236.30" width="26.9" height="2.80" fill="#c9dbd9"/>
<rect x="444.0" y="238.80" width="26.9" height="2.70" fill="#dae6d9"/>
<rect x="444.0" y="241.20" width="26.9" height="2.70" fill="#e9f1d8"/>
<rect x="444.0" y="243.60" width="26.9" height="2.70" fill="#eff2ca"/>
<rect x="470.6" y="35.00" width="26.7" height="2.40" fill="#f0f2c4"/>
<rect x="470.6" y="37.10" width="26.7" height="2.47" fill="#c9dad9"/>
<rect x="470.6" y="39.27" width="26.7" height="2.47" fill="#dde8d9"/>
<rect x="470.6" y="41.43" width="26.7" height="2.47" fill="#bfd4da"/>
<rect x="470.6" y="43.60" width="26.7" height="2.40" fill="#bbd1da"/>
<rect x="470.6" y="45.70" width="26.7" height="3.10" fill="#f0dea0"/>
<rect x="470.6" y="48.50" width="26.7" height="2.80" fill="#f2edb6"/>
<rect x="470.6" y="51.00" width="26.7" height="2.70" fill="#f1e8af"/>
<rect x="470.6" y="53.40" width="26.7" height="2.80" fill="#efda9a"/>
<rect x="470.6" y="55.90" width="26.7" height="2.73" fill="#ecf3d6"/>
<rect x="470.6" y="58.33" width="26.7" height="2.73" fill="#f0e4a8"/>
<rect x="470.6" y="60.77" width="26.7" height="2.73" fill="#ecf3d6"/>
<rect x="470.6" y="63.20" width="26.7" height="1.95" fill="#f0e1a5"/>
<rect x="470.6" y="64.85" width="26.7" height="1.95" fill="#f1f1c0"/>
<rect x="470.6" y="66.50" width="26.7" height="1.90" fill="#efd998"/>
<rect x="470.6" y="68.10" width="26.7" height="2.55" fill="#ce7860"/>
<rect x="470.6" y="70.35" width="26.7" height="2.55" fill="#c46757"/>
<rect x="470.6" y="72.60" width="26.7" height="2.55" fill="#d17d62"/>
<rect x="470.6" y="74.85" width="26.7" height="2.55" fill="#c9705c"/>
<rect x="470.6" y="77.10" width="26.7" height="1.90" fill="#efd898"/>
<rect x="470.6" y="78.70" width="26.7" height="2.80" fill="#d68466"/>
<rect x="470.6" y="81.20" width="26.7" height="2.70" fill="#a5bcce"/>
<rect x="470.6" y="83.60" width="26.7" height="2.70" fill="#a5bdcf"/>
<rect x="470.6" y="86.00" width="26.7" height="2.80" fill="#88a2bf"/>
<rect x="470.6" y="88.50" width="26.7" height="2.80" fill="#859fbd"/>
<rect x="470.6" y="91.00" width="26.7" height="2.70" fill="#afc6d4"/>
<rect x="470.6" y="93.40" width="26.7" height="2.70" fill="#a8bfd0"/>
<rect x="470.6" y="95.80" width="26.7" height="1.95" fill="#a4bcce"/>
<rect x="470.6" y="97.45" width="26.7" height="1.95" fill="#9cb4ca"/>
<rect x="470.6" y="99.10" width="26.7" height="2.35" fill="#e8f0d8"/>
<rect x="470.6" y="101.15" width="26.7" height="2.35" fill="#d7e4d9"/>
<rect x="470.6" y="103.20" width="26.7" height="2.26" fill="#eff2cb"/>
<rect x="470.6" y="105.16" width="26.7" height="2.26" fill="#e5eed8"/>
<rect x="470.6" y="107.12" width="26.7" height="2.26" fill="#eef2d0"/>
<rect x="470.6" y="109.08" width="26.7" height="2.26" fill="#d9e5d9"/>
<rect x="470.6" y="111.04" width="26.7" height="2.26" fill="#e4edd8"/>
<rect x="470.6" y="113.00" width="26.7" height="2.55" fill="#bed3da"/>
<rect x="470.6" y="115.25" width="26.7" height="2.55" fill="#b1c8d5"/>
<rect x="470.6" y="117.50" width="26.7" height="2.55" fill="#8ea8c2"/>
<rect x="470.6" y="119.75" width="26.7" height="2.55" fill="#a6becf"/>
<rect x="470.6" y="122.00" width="26.7" height="1.90" fill="#7b96b8"/>
<rect x="470.6" y="123.60" width="26.7" height="1.90" fill="#7792b5"/>
<rect x="470.6" y="125.20" width="26.7" height="2.23" fill="#96afc7"/>
<rect x="470.6" y="127.13" width="26.7" height="2.23" fill="#99b2c8"/>
<rect x="470.6" y="129.07" width="26.7" height="2.23" fill="#c3d6da"/>
<rect x="470.6" y="131.00" width="26.7" height="1.90" fill="#728db2"/>
<rect x="470.6" y="132.60" width="26.7" height="1.90" fill="#7d98b9"/>
<rect x="470.6" y="134.20" width="26.7" height="2.35" fill="#b6ccd8"/>
<rect x="470.6" y="136.25" width="26.7" height="2.35" fill="#a1b9cc"/>
<rect x="470.6" y="138.30" width="26.7" height="2.40" fill="#c5d8da"/>
<rect x="470.6" y="140.40" width="26.7" height="2.40" fill="#c4d7da"/>
<rect x="470.6" y="142.50" width="26.7" height="2.73" fill="#dee9d9"/>
<rect x="470.6" y="144.93" width="26.7" height="2.73" fill="#ecf3d6"/>
<rect x="470.6" y="147.37" width="26.7" height="2.73" fill="#ecf3d8"/>
<rect x="470.6" y="149.80" width="26.7" height="2.35" fill="#f2f1bd"/>
<rect x="470.6" y="151.85" width="26.7" height="2.35" fill="#f0f2c6"/>
<rect x="470.6" y="153.90" width="26.7" height="2.35" fill="#f0f2c8"/>
<rect x="470.6" y="155.95" width="26.7" height="2.35" fill="#f1f1c0"/>
<rect x="470.6" y="158.00" width="26.7" height="2.47" fill="#f1ecb5"/>
<rect x="470.6" y="160.17" width="26.7" height="2.47" fill="#eed495"/>
<rect x="470.6" y="162.33" width="26.7" height="2.47" fill="#f0dd9f"/>
<rect x="470.6" y="164.50" width="26.7" height="1.95" fill="#e6b984"/>
<rect x="470.6" y="166.15" width="26.7" height="1.95" fill="#e8be88"/>
<rect x="470.6" y="167.80" width="26.7" height="2.75" fill="#f1ebb3"/>
<rect x="470.6" y="170.25" width="26.7" height="2.75" fill="#f2efb9"/>
<rect x="470.6" y="172.70" width="26.7" height="2.75" fill="#e5eed8"/>
<rect x="470.6" y="175.15" width="26.7" height="2.75" fill="#eef2cf"/>
<rect x="470.6" y="177.60" width="26.7" height="2.35" fill="#96afc7"/>
<rect x="470.6" y="179.65" width="26.7" height="2.35" fill="#9ab3c9"/>
<rect x="470.6" y="181.70" width="26.7" height="2.35" fill="#86a1be"/>
<rect x="470.6" y="183.75" width="26.7" height="2.35" fill="#7a95b7"/>
<rect x="470.6" y="185.80" width="26.7" height="1.90" fill="#efd796"/>
<rect x="470.6" y="187.40" width="26.7" height="1.90" fill="#f0f2c6"/>
<rect x="470.6" y="189.00" width="26.7" height="1.90" fill="#e9c28a"/>
<rect x="470.6" y="190.60" width="26.7" height="2.80" fill="#eff2cc"/>
<rect x="470.6" y="193.10" width="26.7" height="1.90" fill="#dc9670"/>
<rect x="470.6" y="194.70" width="26.7" height="1.90" fill="#e0a277"/>
<rect x="470.6" y="196.30" width="26.7" height="2.75" fill="#f2f1bd"/>
<rect x="470.6" y="198.75" width="26.7" height="2.75" fill="#f1ebb3"/>
<rect x="470.6" y="201.20" width="26.7" height="2.75" fill="#dc9570"/>
<rect x="470.6" y="203.65" width="26.7" height="2.75" fill="#dc9771"/>
<rect x="470.6" y="206.10" width="26.7" height="2.42" fill="#cf7a61"/>
<rect x="470.6" y="208.22" width="26.7" height="2.42" fill="#de9e75"/>
<rect x="470.6" y="210.34" width="26.7" height="2.42" fill="#cb725d"/>
<rect x="470.6" y="212.46" width="26.7" height="2.42" fill="#d88969"/>
<rect x="470.6" y="214.58" width="26.7" height="2.42" fill="#d27e63"/>
<rect x="470.6" y="216.70" width="26.7" height="2.75" fill="#eff2cb"/>
<rect x="470.6" y="219.15" width="26.7" height="2.75" fill="#f1e5aa"/>
<rect x="470.6" y="221.60" width="26.7" height="1.90" fill="#e9c189"/>
<rect x="470.6" y="223.20" width="26.7" height="2.37" fill="#bd5d52"/>
<rect x="470.6" y="225.27" width="26.7" height="2.37" fill="#bf6053"/>
<rect x="470.6" y="227.35" width="26.7" height="2.37" fill="#c16355"/>
<rect x="470.6" y="229.42" width="26.7" height="2.37" fill="#ad4244"/>
<rect x="470.6" y="231.49" width="26.7" height="2.37" fill="#c16355"/>
<rect x="470.6" y="233.56" width="26.7" height="2.37" fill="#c76c5a"/>
<rect x="470.6" y="235.64" width="26.7" height="2.37" fill="#c26556"/>
<rect x="470.6" y="237.71" width="26.7" height="2.37" fill="#ba574f"/>
<rect x="470.6" y="239.78" width="26.7" height="2.37" fill="#be5e52"/>
<rect x="470.6" y="241.85" width="26.7" height="2.37" fill="#bb5950"/>
<rect x="470.6" y="243.93" width="26.7" height="2.37" fill="#b7534d"/>
<path d="M390.80 36.26H389.77V38.77H390.80M390.80 43.79H390.19V46.30H390.80M390.80 41.28H389.56V45.05H390.19M389.77 37.51H387.89V43.16H389.56M390.80 51.33H390.07V53.84H390.80M390.80 48.82H388.54V52.58H390.07M390.80 56.35H389.61V58.86H390.80M390.80 66.40H389.76V68.91H390.80M390.80 63.89H389.00V67.65H389.76M390.80 61.38H387.68V65.77H389.00M389.61 57.61H385.84V63.57H387.68M388.54 50.70H384.19V60.59H385.84M387.89 40.34H381.84V55.64H384.19M390.80 73.93H390.02V76.45H390.80M390.80 78.96H390.22V81.47H390.80M390.02 75.19H388.45V80.21H390.22M390.80 86.49H389.89V89.01H390.80M390.80 83.98H388.62V87.75H389.89M388.45 77.70H386.48V85.87H388.62M390.80 71.42H384.64V81.78H386.48M390.80 96.54H389.64V99.05H390.80M390.80 94.03H388.62V97.80H389.64M390.80 91.52H386.98V95.91H388.62M390.80 101.57H389.58V104.08H390.80M386.98 93.72H386.09V102.82H389.58M384.64 76.60H383.39V98.27H386.09M381.84 47.99H380.01V87.44H383.39M390.80 109.10H389.86V111.61H390.80M390.80 106.59H388.89V110.36H389.86M390.80 114.12H389.80V116.64H390.80M390.80 119.15H389.56V121.66H390.80M390.80 126.68H389.73V129.20H390.80M390.80 124.17H388.27V127.94H389.73M389.56 120.40H386.57V126.06H388.27M389.80 115.38H384.45V123.23H386.57M388.89 108.47H382.51V119.31H384.45M390.80 131.71H389.59V134.22H390.80M390.80 139.24H389.81V141.76H390.80M390.80 136.73H388.55V140.50H389.81M390.80 144.27H390.08V146.78H390.80M388.55 138.62H386.88V145.52H390.08M390.80 149.29H389.81V151.80H390.80M386.88 142.07H385.70V150.55H389.81M389.59 132.96H384.74V146.31H385.70M382.51 113.89H379.61V139.64H384.74M390.80 154.32H389.93V156.83H390.80M390.80 159.34H390.13V161.85H390.80M389.93 155.57H388.96V160.60H390.13M390.80 166.88H390.21V169.39H390.80M390.80 174.41H389.70V176.92H390.80M390.80 171.90H388.78V175.67H389.70M390.21 168.13H387.06V173.78H388.78M390.80 164.36H385.08V170.96H387.06M390.80 181.95H389.86V184.46H390.80M390.80 179.43H388.34V183.20H389.86M385.08 167.66H383.75V181.32H388.34M390.80 189.48H390.22V191.99H390.80M390.80 197.02H390.10V199.53H390.80M390.80 194.51H389.11V198.27H390.10M390.22 190.74H387.69V196.39H389.11M390.80 186.97H386.73V193.56H387.69M383.75 174.49H382.64V190.27H386.73M388.96 158.08H379.71V182.38H382.64M390.80 207.07H389.57V209.58H390.80M390.80 204.55H388.60V208.32H389.57M388.60 206.44H387.46V212.09H390.80M390.80 202.04H386.14V209.26H387.46M379.71 170.23H379.20V205.65H386.14M379.61 126.76H379.20V187.94H379.20M390.80 217.11H389.53V219.62H390.80M390.80 214.60H388.45V218.37H389.53M390.80 224.65H389.92V227.16H390.80M390.80 222.14H388.65V225.90H389.92M388.45 216.49H387.40V224.02H388.65M390.80 229.67H389.51V232.18H390.80M390.80 234.70H389.83V237.21H390.80M390.80 242.23H390.24V244.74H390.80M390.80 239.72H389.24V243.49H390.24M389.83 235.95H387.86V241.60H389.24M389.51 230.93H387.03V238.78H387.86M387.40 220.25H384.97V234.85H387.03M379.20 157.35H379.20V227.55H384.97M380.01 67.71H379.20V192.45H379.20" stroke="#8a8a8a" stroke-width="0.45" fill="none"/>
<defs><linearGradient id="gB" x1="0" y1="0" x2="0" y2="1"><stop offset="0.000" stop-color="#ad4244"/><stop offset="0.165" stop-color="#d88868"/><stop offset="0.335" stop-color="#efd796"/><stop offset="0.425" stop-color="#f2f1bc"/><stop offset="0.500" stop-color="#ecf3d8"/><stop offset="0.665" stop-color="#bad0da"/><stop offset="0.835" stop-color="#7d98b9"/><stop offset="1.000" stop-color="#5a74a4"/></linearGradient></defs>
<rect x="503.1" y="36.3" width="3" height="72.1" fill="url(#gB)"/>
<text x="506.9" y="38.4" font-size="7.0" text-anchor="start" fill="#333" >1.5</text>
<text x="506.9" y="50.3" font-size="7.0" text-anchor="start" fill="#333" >1</text>
<text x="506.9" y="62.2" font-size="7.0" text-anchor="start" fill="#333" >0.5</text>
<text x="506.9" y="74.1" font-size="7.0" text-anchor="start" fill="#333" >0</text>
<text x="506.9" y="86.2" font-size="7.0" text-anchor="start" fill="#333" >−0.5</text>
<text x="506.9" y="98.1" font-size="7.0" text-anchor="start" fill="#333" >−1</text>
<text x="506.9" y="110.0" font-size="7.0" text-anchor="start" fill="#333" >−1.5</text>
<text x="0" y="0" font-size="8.7" text-anchor="end" fill="#1a1a1a" transform="translate(411.6,252.8) rotate(-30)">Epithelial cells</text>
<text x="0" y="0" font-size="8.7" text-anchor="end" fill="#1a1a1a" transform="translate(438.2,252.8) rotate(-30)">Fibroblasts</text>
<text x="0" y="0" font-size="8.7" text-anchor="end" fill="#1a1a1a" transform="translate(464.8,252.8) rotate(-30)">T cells</text>
<text x="0" y="0" font-size="8.7" text-anchor="end" fill="#1a1a1a" transform="translate(491.3,252.8) rotate(-30)">B cell</text>
<text x="542.4" y="10.3" font-size="11.6" text-anchor="start" fill="#1a1a1a" >C</text>
<text x="615.0" y="24.6" font-size="11.3" text-anchor="middle" fill="#1a1a1a" >UCEC m6A</text>
<rect x="564.0" y="34.90" width="23.4" height="2.42" fill="#c06764"/>
<rect x="564.0" y="37.02" width="23.4" height="2.42" fill="#ba5c5c"/>
<rect x="564.0" y="39.15" width="23.4" height="2.42" fill="#d28c7b"/>
<rect x="564.0" y="41.27" width="23.4" height="2.42" fill="#cf8677"/>
<rect x="564.0" y="43.40" width="23.4" height="3.30" fill="#edd7a8"/>
<rect x="564.0" y="46.40" width="23.4" height="2.50" fill="#d28d7c"/>
<rect x="564.0" y="48.60" width="23.4" height="3.30" fill="#e0ae8e"/>
<rect x="564.0" y="51.60" width="23.4" height="2.24" fill="#d38e7c"/>
<rect x="564.0" y="53.54" width="23.4" height="2.24" fill="#dca389"/>
<rect x="564.0" y="55.48" width="23.4" height="2.24" fill="#d99b85"/>
<rect x="564.0" y="57.42" width="23.4" height="2.24" fill="#e0b08f"/>
<rect x="564.0" y="59.36" width="23.4" height="2.24" fill="#dba187"/>
<rect x="564.0" y="61.30" width="23.4" height="2.53" fill="#cb7f73"/>
<rect x="564.0" y="63.53" width="23.4" height="2.53" fill="#d38f7d"/>
<rect x="564.0" y="65.77" width="23.4" height="2.53" fill="#cb7e72"/>
<rect x="564.0" y="68.00" width="23.4" height="3.30" fill="#ebcfa0"/>
<rect x="564.0" y="71.00" width="23.4" height="2.35" fill="#dda68a"/>
<rect x="564.0" y="73.05" width="23.4" height="2.35" fill="#d99a84"/>
<rect x="564.0" y="75.10" width="23.4" height="2.35" fill="#dca288"/>
<rect x="564.0" y="77.15" width="23.4" height="2.35" fill="#e5bf98"/>
<rect x="564.0" y="79.20" width="23.4" height="2.50" fill="#ecd5a5"/>
<rect x="564.0" y="81.40" width="23.4" height="3.30" fill="#edd8aa"/>
<rect x="564.0" y="84.40" width="23.4" height="2.07" fill="#eeddb0"/>
<rect x="564.0" y="86.17" width="23.4" height="2.07" fill="#e6c299"/>
<rect x="564.0" y="87.93" width="23.4" height="2.07" fill="#e7c59b"/>
<rect x="564.0" y="89.70" width="23.4" height="2.15" fill="#f1f0cc"/>
<rect x="564.0" y="91.55" width="23.4" height="2.15" fill="#f1f1cd"/>
<rect x="564.0" y="93.40" width="23.4" height="2.55" fill="#d0ddd7"/>
<rect x="564.0" y="95.65" width="23.4" height="2.55" fill="#c2d3d9"/>
<rect x="564.0" y="97.90" width="23.4" height="2.55" fill="#cedbd7"/>
<rect x="564.0" y="100.15" width="23.4" height="2.55" fill="#c6d6d9"/>
<rect x="564.0" y="102.40" width="23.4" height="3.30" fill="#ebefd3"/>
<rect x="564.0" y="105.40" width="23.4" height="2.53" fill="#dae4d6"/>
<rect x="564.0" y="107.63" width="23.4" height="2.53" fill="#dfe7d5"/>
<rect x="564.0" y="109.87" width="23.4" height="2.53" fill="#dde6d5"/>
<rect x="564.0" y="112.10" width="23.4" height="2.53" fill="#d8e2d6"/>
<rect x="564.0" y="114.33" width="23.4" height="2.53" fill="#d6e1d6"/>
<rect x="564.0" y="116.57" width="23.4" height="2.53" fill="#f1f3d2"/>
<rect x="564.0" y="118.80" width="23.4" height="2.90" fill="#8da5c1"/>
<rect x="564.0" y="121.40" width="23.4" height="2.90" fill="#7993b6"/>
<rect x="564.0" y="124.00" width="23.4" height="2.43" fill="#b3c7d5"/>
<rect x="564.0" y="126.13" width="23.4" height="2.43" fill="#a4bace"/>
<rect x="564.0" y="128.26" width="23.4" height="2.43" fill="#a1b7cc"/>
<rect x="564.0" y="130.38" width="23.4" height="2.43" fill="#9db4ca"/>
<rect x="564.0" y="132.51" width="23.4" height="2.43" fill="#7892b6"/>
<rect x="564.0" y="134.64" width="23.4" height="2.43" fill="#7791b5"/>
<rect x="564.0" y="136.77" width="23.4" height="2.43" fill="#94acc5"/>
<rect x="564.0" y="138.89" width="23.4" height="2.43" fill="#b3c7d5"/>
<rect x="564.0" y="141.02" width="23.4" height="2.43" fill="#a8bdcf"/>
<rect x="564.0" y="143.15" width="23.4" height="2.43" fill="#87a0be"/>
<rect x="564.0" y="145.28" width="23.4" height="2.43" fill="#acc1d2"/>
<rect x="564.0" y="147.41" width="23.4" height="2.43" fill="#b9ccd8"/>
<rect x="564.0" y="149.53" width="23.4" height="2.43" fill="#89a1bf"/>
<rect x="564.0" y="151.66" width="23.4" height="2.43" fill="#91a9c4"/>
<rect x="564.0" y="153.79" width="23.4" height="2.43" fill="#849dbd"/>
<rect x="564.0" y="155.92" width="23.4" height="2.43" fill="#8ba4c1"/>
<rect x="564.0" y="158.04" width="23.4" height="2.43" fill="#7d97b9"/>
<rect x="564.0" y="160.17" width="23.4" height="2.43" fill="#8da6c1"/>
<rect x="564.0" y="162.30" width="23.4" height="2.55" fill="#c0d2d9"/>
<rect x="564.0" y="164.55" width="23.4" height="2.55" fill="#c0d2d9"/>
<rect x="564.0" y="166.80" width="23.4" height="2.15" fill="#f1f3d2"/>
<rect x="564.0" y="168.65" width="23.4" height="2.15" fill="#f2f3d1"/>
<rect x="564.0" y="170.50" width="23.4" height="2.55" fill="#f1f0cc"/>
<rect x="564.0" y="172.75" width="23.4" height="2.55" fill="#dde5d5"/>
<rect x="564.0" y="175.00" width="23.4" height="3.30" fill="#ecd3a2"/>
<rect x="564.0" y="178.00" width="23.4" height="2.15" fill="#f1f0cc"/>
<rect x="564.0" y="179.85" width="23.4" height="2.15" fill="#e8edd4"/>
<rect x="564.0" y="181.70" width="23.4" height="2.60" fill="#da9d85"/>
<rect x="564.0" y="184.00" width="23.4" height="2.50" fill="#f2f2cf"/>
<rect x="564.0" y="186.20" width="23.4" height="2.50" fill="#f0e7c0"/>
<rect x="564.0" y="188.40" width="23.4" height="2.50" fill="#f0e8c0"/>
<rect x="564.0" y="190.60" width="23.4" height="2.50" fill="#9eb5ca"/>
<rect x="564.0" y="192.80" width="23.4" height="2.50" fill="#6e88b0"/>
<rect x="564.0" y="195.00" width="23.4" height="1.30" fill="#a3b9cd"/>
<rect x="564.0" y="196.00" width="23.4" height="2.15" fill="#eaeed3"/>
<rect x="564.0" y="197.85" width="23.4" height="2.15" fill="#f0eac4"/>
<rect x="564.0" y="199.70" width="23.4" height="2.90" fill="#e7c39a"/>
<rect x="564.0" y="202.30" width="23.4" height="2.90" fill="#eedcae"/>
<rect x="564.0" y="204.90" width="23.4" height="1.10" fill="#e0ae8f"/>
<rect x="564.0" y="205.70" width="23.4" height="2.45" fill="#aec3d3"/>
<rect x="564.0" y="207.85" width="23.4" height="2.45" fill="#8ca4c1"/>
<rect x="564.0" y="210.00" width="23.4" height="2.45" fill="#95adc6"/>
<rect x="564.0" y="212.15" width="23.4" height="2.45" fill="#a3b9cd"/>
<rect x="564.0" y="214.30" width="23.4" height="2.45" fill="#9fb5cb"/>
<rect x="564.0" y="216.45" width="23.4" height="2.45" fill="#8ea6c2"/>
<rect x="564.0" y="218.60" width="23.4" height="2.45" fill="#9fb5cb"/>
<rect x="564.0" y="220.75" width="23.4" height="2.45" fill="#91a9c3"/>
<rect x="564.0" y="222.90" width="23.4" height="2.45" fill="#869fbd"/>
<rect x="564.0" y="225.05" width="23.4" height="2.45" fill="#7f99ba"/>
<rect x="564.0" y="227.20" width="23.4" height="3.30" fill="#f0e9c1"/>
<rect x="564.0" y="230.20" width="23.4" height="2.20" fill="#cddbd7"/>
<rect x="564.0" y="232.10" width="23.4" height="2.20" fill="#b1c5d4"/>
<rect x="564.0" y="234.00" width="23.4" height="2.15" fill="#e4ead4"/>
<rect x="564.0" y="235.85" width="23.4" height="2.15" fill="#eef1d3"/>
<rect x="564.0" y="237.70" width="23.4" height="2.50" fill="#a4b9cd"/>
<rect x="564.0" y="239.90" width="23.4" height="2.50" fill="#aec3d3"/>
<rect x="564.0" y="242.10" width="23.4" height="2.75" fill="#efe3ba"/>
<rect x="564.0" y="244.55" width="23.4" height="2.75" fill="#f0e7bf"/>
<rect x="587.1" y="34.90" width="23.4" height="2.90" fill="#f0e7c0"/>
<rect x="587.1" y="37.50" width="23.4" height="2.50" fill="#cedcd7"/>
<rect x="587.1" y="39.70" width="23.4" height="2.55" fill="#eedfb4"/>
<rect x="587.1" y="41.95" width="23.4" height="2.55" fill="#edd6a7"/>
<rect x="587.1" y="44.20" width="23.4" height="2.38" fill="#859ebd"/>
<rect x="587.1" y="46.28" width="23.4" height="2.38" fill="#94abc5"/>
<rect x="587.1" y="48.36" width="23.4" height="2.38" fill="#6c86af"/>
<rect x="587.1" y="50.44" width="23.4" height="2.38" fill="#738db3"/>
<rect x="587.1" y="52.52" width="23.4" height="2.38" fill="#9db4ca"/>
<rect x="587.1" y="54.60" width="23.4" height="2.15" fill="#b2c6d5"/>
<rect x="587.1" y="56.45" width="23.4" height="2.15" fill="#cbd9d8"/>
<rect x="587.1" y="58.30" width="23.4" height="2.15" fill="#b5c9d7"/>
<rect x="587.1" y="60.15" width="23.4" height="2.15" fill="#a5bbce"/>
<rect x="587.1" y="62.00" width="23.4" height="2.30" fill="#bdd0da"/>
<rect x="587.1" y="64.00" width="23.4" height="2.30" fill="#c1d2d9"/>
<rect x="587.1" y="66.00" width="23.4" height="2.30" fill="#dce5d5"/>
<rect x="587.1" y="68.00" width="23.4" height="3.30" fill="#93aac4"/>
<rect x="587.1" y="71.00" width="23.4" height="2.90" fill="#f0f3d2"/>
<rect x="587.1" y="73.60" width="23.4" height="2.90" fill="#f0e8c1"/>
<rect x="587.1" y="76.20" width="23.4" height="2.27" fill="#f2f3d0"/>
<rect x="587.1" y="78.17" width="23.4" height="2.27" fill="#e9eed3"/>
<rect x="587.1" y="80.13" width="23.4" height="2.27" fill="#e9eed3"/>
<rect x="587.1" y="82.10" width="23.4" height="2.60" fill="#e4ba95"/>
<rect x="587.1" y="84.40" width="23.4" height="2.07" fill="#ebcfa0"/>
<rect x="587.1" y="86.17" width="23.4" height="2.07" fill="#deaa8c"/>
<rect x="587.1" y="87.93" width="23.4" height="2.07" fill="#e6c198"/>
<rect x="587.1" y="89.70" width="23.4" height="2.53" fill="#e2b492"/>
<rect x="587.1" y="91.93" width="23.4" height="2.53" fill="#dfac8e"/>
<rect x="587.1" y="94.17" width="23.4" height="2.53" fill="#e4bb96"/>
<rect x="587.1" y="96.40" width="23.4" height="2.60" fill="#f1f1ce"/>
<rect x="587.1" y="98.70" width="23.4" height="2.90" fill="#d69581"/>
<rect x="587.1" y="101.30" width="23.4" height="2.90" fill="#e9ca9d"/>
<rect x="587.1" y="103.90" width="23.4" height="2.43" fill="#d38e7c"/>
<rect x="587.1" y="106.03" width="23.4" height="2.43" fill="#ca7b70"/>
<rect x="587.1" y="108.16" width="23.4" height="2.43" fill="#dea88b"/>
<rect x="587.1" y="110.29" width="23.4" height="2.43" fill="#cb7f73"/>
<rect x="587.1" y="112.41" width="23.4" height="2.43" fill="#d89883"/>
<rect x="587.1" y="114.54" width="23.4" height="2.43" fill="#da9d86"/>
<rect x="587.1" y="116.67" width="23.4" height="2.43" fill="#d28c7b"/>
<rect x="587.1" y="118.80" width="23.4" height="2.50" fill="#e7c59a"/>
<rect x="587.1" y="121.00" width="23.4" height="2.50" fill="#e9c99d"/>
<rect x="587.1" y="123.20" width="23.4" height="2.53" fill="#d89883"/>
<rect x="587.1" y="125.43" width="23.4" height="2.53" fill="#ce8476"/>
<rect x="587.1" y="127.67" width="23.4" height="2.53" fill="#d99b85"/>
<rect x="587.1" y="129.90" width="23.4" height="2.53" fill="#dea88b"/>
<rect x="587.1" y="132.13" width="23.4" height="2.53" fill="#d89782"/>
<rect x="587.1" y="134.37" width="23.4" height="2.53" fill="#d99984"/>
<rect x="587.1" y="136.60" width="23.4" height="2.33" fill="#e6c199"/>
<rect x="587.1" y="138.63" width="23.4" height="2.33" fill="#dda68a"/>
<rect x="587.1" y="140.67" width="23.4" height="2.33" fill="#e0ae8f"/>
<rect x="587.1" y="142.70" width="23.4" height="2.33" fill="#dba188"/>
<rect x="587.1" y="144.73" width="23.4" height="2.33" fill="#dda78b"/>
<rect x="587.1" y="146.77" width="23.4" height="2.33" fill="#dda78b"/>
<rect x="587.1" y="148.80" width="23.4" height="2.33" fill="#e1b391"/>
<rect x="587.1" y="150.83" width="23.4" height="2.33" fill="#d99984"/>
<rect x="587.1" y="152.87" width="23.4" height="2.33" fill="#da9d85"/>
<rect x="587.1" y="154.90" width="23.4" height="2.15" fill="#cb7e72"/>
<rect x="587.1" y="156.75" width="23.4" height="2.15" fill="#cc7f73"/>
<rect x="587.1" y="158.60" width="23.4" height="2.15" fill="#bf6663"/>
<rect x="587.1" y="160.45" width="23.4" height="2.15" fill="#d48f7d"/>
<rect x="587.1" y="162.30" width="23.4" height="3.30" fill="#ecd4a3"/>
<rect x="587.1" y="165.30" width="23.4" height="2.33" fill="#c8786e"/>
<rect x="587.1" y="167.33" width="23.4" height="2.33" fill="#d79681"/>
<rect x="587.1" y="169.36" width="23.4" height="2.33" fill="#d5927f"/>
<rect x="587.1" y="171.39" width="23.4" height="2.33" fill="#c97a70"/>
<rect x="587.1" y="173.41" width="23.4" height="2.33" fill="#c8786f"/>
<rect x="587.1" y="175.44" width="23.4" height="2.33" fill="#c26c67"/>
<rect x="587.1" y="177.47" width="23.4" height="2.33" fill="#dfad8e"/>
<rect x="587.1" y="179.50" width="23.4" height="3.20" fill="#efe1b7"/>
<rect x="587.1" y="182.40" width="23.4" height="2.20" fill="#f1efca"/>
<rect x="587.1" y="184.30" width="23.4" height="2.20" fill="#f2f3d0"/>
<rect x="587.1" y="186.20" width="23.4" height="2.50" fill="#dfac8d"/>
<rect x="587.1" y="188.40" width="23.4" height="2.20" fill="#eedcb0"/>
<rect x="587.1" y="190.30" width="23.4" height="2.20" fill="#edf0d3"/>
<rect x="587.1" y="192.20" width="23.4" height="2.20" fill="#eee0b5"/>
<rect x="587.1" y="194.10" width="23.4" height="2.20" fill="#edd9ab"/>
<rect x="587.1" y="196.00" width="23.4" height="3.30" fill="#d0ddd7"/>
<rect x="587.1" y="199.00" width="23.4" height="2.15" fill="#edd6a7"/>
<rect x="587.1" y="200.85" width="23.4" height="2.15" fill="#f0e9c1"/>
<rect x="587.1" y="202.70" width="23.4" height="3.30" fill="#c1d3d9"/>
<rect x="587.1" y="205.70" width="23.4" height="2.50" fill="#f1f3d2"/>
<rect x="587.1" y="207.90" width="23.4" height="2.50" fill="#f1eec9"/>
<rect x="587.1" y="210.10" width="23.4" height="2.35" fill="#e3b894"/>
<rect x="587.1" y="212.15" width="23.4" height="2.35" fill="#e2b693"/>
<rect x="587.1" y="214.20" width="23.4" height="2.35" fill="#e5be97"/>
<rect x="587.1" y="216.25" width="23.4" height="2.35" fill="#eacd9f"/>
<rect x="587.1" y="218.30" width="23.4" height="2.35" fill="#dca388"/>
<rect x="587.1" y="220.35" width="23.4" height="2.35" fill="#e8c79c"/>
<rect x="587.1" y="222.40" width="23.4" height="2.35" fill="#e6c299"/>
<rect x="587.1" y="224.45" width="23.4" height="2.35" fill="#e0af8f"/>
<rect x="587.1" y="226.50" width="23.4" height="2.50" fill="#f2f4d1"/>
<rect x="587.1" y="228.70" width="23.4" height="2.30" fill="#efe5bd"/>
<rect x="587.1" y="230.70" width="23.4" height="2.30" fill="#efe3b9"/>
<rect x="587.1" y="232.70" width="23.4" height="2.30" fill="#f1eec9"/>
<rect x="587.1" y="234.70" width="23.4" height="3.30" fill="#f1f3d2"/>
<rect x="587.1" y="237.70" width="23.4" height="2.50" fill="#bccfda"/>
<rect x="587.1" y="239.90" width="23.4" height="2.50" fill="#bacdd9"/>
<rect x="587.1" y="242.10" width="23.4" height="2.75" fill="#8ea6c2"/>
<rect x="587.1" y="244.55" width="23.4" height="2.75" fill="#8ea6c2"/>
<rect x="610.2" y="34.90" width="23.6" height="2.10" fill="#c6d6d9"/>
<rect x="610.2" y="36.70" width="23.6" height="3.30" fill="#e8edd3"/>
<rect x="610.2" y="39.70" width="23.6" height="2.50" fill="#c0d1d9"/>
<rect x="610.2" y="41.90" width="23.6" height="2.60" fill="#f1f3d2"/>
<rect x="610.2" y="44.20" width="23.6" height="2.15" fill="#dfab8d"/>
<rect x="610.2" y="46.05" width="23.6" height="2.15" fill="#e5be97"/>
<rect x="610.2" y="47.90" width="23.6" height="3.30" fill="#eeddb1"/>
<rect x="610.2" y="50.90" width="23.6" height="3.20" fill="#f2f4d2"/>
<rect x="610.2" y="53.80" width="23.6" height="2.17" fill="#e9c99c"/>
<rect x="610.2" y="55.67" width="23.6" height="2.17" fill="#edd8a9"/>
<rect x="610.2" y="57.55" width="23.6" height="2.17" fill="#f0eac3"/>
<rect x="610.2" y="59.42" width="23.6" height="2.17" fill="#f0eac4"/>
<rect x="610.2" y="61.30" width="23.6" height="2.53" fill="#ecd6a6"/>
<rect x="610.2" y="63.53" width="23.6" height="2.53" fill="#f1eeca"/>
<rect x="610.2" y="65.77" width="23.6" height="2.53" fill="#ecd5a5"/>
<rect x="610.2" y="68.00" width="23.6" height="3.30" fill="#d69380"/>
<rect x="610.2" y="71.00" width="23.6" height="2.38" fill="#efe3b9"/>
<rect x="610.2" y="73.08" width="23.6" height="2.38" fill="#e6c299"/>
<rect x="610.2" y="75.16" width="23.6" height="2.38" fill="#eddbae"/>
<rect x="610.2" y="77.24" width="23.6" height="2.38" fill="#e9cb9e"/>
<rect x="610.2" y="79.32" width="23.6" height="2.38" fill="#edd9ab"/>
<rect x="610.2" y="81.40" width="23.6" height="2.30" fill="#748eb4"/>
<rect x="610.2" y="83.40" width="23.6" height="2.30" fill="#839dbc"/>
<rect x="610.2" y="85.40" width="23.6" height="2.30" fill="#7f99ba"/>
<rect x="610.2" y="87.40" width="23.6" height="2.30" fill="#839dbc"/>
<rect x="610.2" y="89.40" width="23.6" height="2.30" fill="#839dbc"/>
<rect x="610.2" y="91.40" width="23.6" height="2.30" fill="#9db3ca"/>
<rect x="610.2" y="93.40" width="23.6" height="2.30" fill="#9db4ca"/>
<rect x="610.2" y="95.40" width="23.6" height="2.30" fill="#c3d4d9"/>
<rect x="610.2" y="97.40" width="23.6" height="2.30" fill="#adc2d2"/>
<rect x="610.2" y="99.40" width="23.6" height="2.55" fill="#cbd9d8"/>
<rect x="610.2" y="101.65" width="23.6" height="2.55" fill="#eaeed3"/>
<rect x="610.2" y="103.90" width="23.6" height="2.50" fill="#afc3d3"/>
<rect x="610.2" y="106.10" width="23.6" height="2.53" fill="#d0ddd7"/>
<rect x="610.2" y="108.32" width="23.6" height="2.53" fill="#bed0da"/>
<rect x="610.2" y="110.55" width="23.6" height="2.53" fill="#dbe4d5"/>
<rect x="610.2" y="112.78" width="23.6" height="2.53" fill="#d3ded7"/>
<rect x="610.2" y="115.00" width="23.6" height="2.20" fill="#f2f4d2"/>
<rect x="610.2" y="116.90" width="23.6" height="2.20" fill="#f0ebc5"/>
<rect x="610.2" y="118.80" width="23.6" height="2.50" fill="#f1f1ce"/>
<rect x="610.2" y="121.00" width="23.6" height="2.50" fill="#eedeb2"/>
<rect x="610.2" y="123.20" width="23.6" height="2.36" fill="#e8edd3"/>
<rect x="610.2" y="125.26" width="23.6" height="2.36" fill="#eef1d3"/>
<rect x="610.2" y="127.31" width="23.6" height="2.36" fill="#f0eac3"/>
<rect x="610.2" y="129.37" width="23.6" height="2.36" fill="#f2f3d1"/>
<rect x="610.2" y="131.43" width="23.6" height="2.36" fill="#eff2d3"/>
<rect x="610.2" y="133.49" width="23.6" height="2.36" fill="#eedbae"/>
<rect x="610.2" y="135.54" width="23.6" height="2.36" fill="#eee0b5"/>
<rect x="610.2" y="137.60" width="23.6" height="2.36" fill="#d5e0d6"/>
<rect x="610.2" y="139.66" width="23.6" height="2.36" fill="#f1edc8"/>
<rect x="610.2" y="141.71" width="23.6" height="2.36" fill="#ebefd3"/>
<rect x="610.2" y="143.77" width="23.6" height="2.36" fill="#e5ebd4"/>
<rect x="610.2" y="145.83" width="23.6" height="2.36" fill="#e3ead4"/>
<rect x="610.2" y="147.89" width="23.6" height="2.36" fill="#dfe7d5"/>
<rect x="610.2" y="149.94" width="23.6" height="2.36" fill="#eef1d3"/>
<rect x="610.2" y="152.00" width="23.6" height="3.20" fill="#cddad8"/>
<rect x="610.2" y="154.90" width="23.6" height="2.15" fill="#f1efca"/>
<rect x="610.2" y="156.75" width="23.6" height="2.15" fill="#efe6be"/>
<rect x="610.2" y="158.60" width="23.6" height="2.15" fill="#f1efcb"/>
<rect x="610.2" y="160.45" width="23.6" height="2.15" fill="#f0eac4"/>
<rect x="610.2" y="162.30" width="23.6" height="3.30" fill="#d79782"/>
<rect x="610.2" y="165.30" width="23.6" height="2.28" fill="#efe5bc"/>
<rect x="610.2" y="167.28" width="23.6" height="2.28" fill="#f0e7bf"/>
<rect x="610.2" y="169.27" width="23.6" height="2.28" fill="#eeddb0"/>
<rect x="610.2" y="171.25" width="23.6" height="2.28" fill="#efe3b9"/>
<rect x="610.2" y="173.23" width="23.6" height="2.28" fill="#eddbae"/>
<rect x="610.2" y="175.22" width="23.6" height="2.28" fill="#eacd9f"/>
<rect x="610.2" y="177.20" width="23.6" height="2.60" fill="#dae4d5"/>
<rect x="610.2" y="179.50" width="23.6" height="2.55" fill="#e9c99d"/>
<rect x="610.2" y="181.75" width="23.6" height="2.55" fill="#eedcaf"/>
<rect x="610.2" y="184.00" width="23.6" height="2.50" fill="#db9f87"/>
<rect x="610.2" y="186.20" width="23.6" height="2.50" fill="#c26c67"/>
<rect x="610.2" y="188.40" width="23.6" height="3.30" fill="#db9f87"/>
<rect x="610.2" y="191.40" width="23.6" height="2.20" fill="#e3b793"/>
<rect x="610.2" y="193.30" width="23.6" height="2.20" fill="#d79782"/>
<rect x="610.2" y="195.20" width="23.6" height="2.20" fill="#dca288"/>
<rect x="610.2" y="197.10" width="23.6" height="2.20" fill="#dda68a"/>
<rect x="610.2" y="199.00" width="23.6" height="2.27" fill="#93abc5"/>
<rect x="610.2" y="200.97" width="23.6" height="2.27" fill="#7f99ba"/>
<rect x="610.2" y="202.93" width="23.6" height="2.27" fill="#92aac4"/>
<rect x="610.2" y="204.90" width="23.6" height="2.90" fill="#efe5bc"/>
<rect x="610.2" y="207.50" width="23.6" height="2.90" fill="#f0e9c3"/>
<rect x="610.2" y="210.10" width="23.6" height="2.44" fill="#f1f3d2"/>
<rect x="610.2" y="212.24" width="23.6" height="2.44" fill="#eff2d2"/>
<rect x="610.2" y="214.38" width="23.6" height="2.44" fill="#eaeed3"/>
<rect x="610.2" y="216.51" width="23.6" height="2.44" fill="#f1f0cc"/>
<rect x="610.2" y="218.65" width="23.6" height="2.44" fill="#eef1d3"/>
<rect x="610.2" y="220.79" width="23.6" height="2.44" fill="#f0f2d2"/>
<rect x="610.2" y="222.92" width="23.6" height="2.44" fill="#e2e9d4"/>
<rect x="610.2" y="225.06" width="23.6" height="2.44" fill="#e0e8d5"/>
<rect x="610.2" y="227.20" width="23.6" height="3.30" fill="#a2b8cc"/>
<rect x="610.2" y="230.20" width="23.6" height="2.55" fill="#e5ebd4"/>
<rect x="610.2" y="232.45" width="23.6" height="2.55" fill="#e9eed3"/>
<rect x="610.2" y="234.70" width="23.6" height="2.15" fill="#eee0b5"/>
<rect x="610.2" y="236.55" width="23.6" height="2.15" fill="#efe5bc"/>
<rect x="610.2" y="238.40" width="23.6" height="2.15" fill="#efe2b8"/>
<rect x="610.2" y="240.25" width="23.6" height="2.15" fill="#e9c99d"/>
<rect x="610.2" y="242.10" width="23.6" height="2.75" fill="#f0eac4"/>
<rect x="610.2" y="244.55" width="23.6" height="2.75" fill="#efe5bc"/>
<rect x="633.5" y="34.90" width="23.5" height="1.95" fill="#eedcaf"/>
<rect x="633.5" y="36.55" width="23.5" height="1.95" fill="#eddbae"/>
<rect x="633.5" y="38.20" width="23.5" height="3.30" fill="#aabfd0"/>
<rect x="633.5" y="41.20" width="23.5" height="3.30" fill="#eef1d3"/>
<rect x="633.5" y="44.20" width="23.5" height="2.53" fill="#ebefd3"/>
<rect x="633.5" y="46.43" width="23.5" height="2.53" fill="#efe6bd"/>
<rect x="633.5" y="48.67" width="23.5" height="2.53" fill="#eddbad"/>
<rect x="633.5" y="50.90" width="23.5" height="2.15" fill="#e5be97"/>
<rect x="633.5" y="52.75" width="23.5" height="2.15" fill="#eace9f"/>
<rect x="633.5" y="54.60" width="23.5" height="2.27" fill="#d1ddd7"/>
<rect x="633.5" y="56.57" width="23.5" height="2.27" fill="#e0e8d5"/>
<rect x="633.5" y="58.53" width="23.5" height="2.27" fill="#afc4d3"/>
<rect x="633.5" y="60.50" width="23.5" height="2.17" fill="#e0e7d5"/>
<rect x="633.5" y="62.38" width="23.5" height="2.17" fill="#eef1d3"/>
<rect x="633.5" y="64.25" width="23.5" height="2.17" fill="#bfd1d9"/>
<rect x="633.5" y="66.12" width="23.5" height="2.17" fill="#e2e9d4"/>
<rect x="633.5" y="68.00" width="23.5" height="3.30" fill="#bed1da"/>
<rect x="633.5" y="71.00" width="23.5" height="2.90" fill="#92aac4"/>
<rect x="633.5" y="73.60" width="23.5" height="2.90" fill="#6f89b1"/>
<rect x="633.5" y="76.20" width="23.5" height="2.27" fill="#bccfda"/>
<rect x="633.5" y="78.17" width="23.5" height="2.27" fill="#9eb4ca"/>
<rect x="633.5" y="80.13" width="23.5" height="2.27" fill="#acc1d2"/>
<rect x="633.5" y="82.10" width="23.5" height="2.60" fill="#f2f2cf"/>
<rect x="633.5" y="84.40" width="23.5" height="2.60" fill="#efe1b6"/>
<rect x="633.5" y="86.70" width="23.5" height="2.60" fill="#efe5bc"/>
<rect x="633.5" y="89.00" width="23.5" height="3.30" fill="#e3b994"/>
<rect x="633.5" y="92.00" width="23.5" height="2.27" fill="#dda68a"/>
<rect x="633.5" y="93.97" width="23.5" height="2.27" fill="#d99a84"/>
<rect x="633.5" y="95.93" width="23.5" height="2.27" fill="#e6c199"/>
<rect x="633.5" y="97.90" width="23.5" height="2.55" fill="#dfad8e"/>
<rect x="633.5" y="100.15" width="23.5" height="2.55" fill="#e2b592"/>
<rect x="633.5" y="102.40" width="23.5" height="2.43" fill="#f1eec9"/>
<rect x="633.5" y="104.53" width="23.5" height="2.43" fill="#f2f4d2"/>
<rect x="633.5" y="106.66" width="23.5" height="2.43" fill="#efe6be"/>
<rect x="633.5" y="108.79" width="23.5" height="2.43" fill="#f1f0cc"/>
<rect x="633.5" y="110.91" width="23.5" height="2.43" fill="#f1f0cc"/>
<rect x="633.5" y="113.04" width="23.5" height="2.43" fill="#efe5bc"/>
<rect x="633.5" y="115.17" width="23.5" height="2.43" fill="#f0eac4"/>
<rect x="633.5" y="117.30" width="23.5" height="2.50" fill="#bed0da"/>
<rect x="633.5" y="119.50" width="23.5" height="3.30" fill="#ecd4a3"/>
<rect x="633.5" y="122.50" width="23.5" height="2.31" fill="#efe6bd"/>
<rect x="633.5" y="124.51" width="23.5" height="2.31" fill="#efe2b7"/>
<rect x="633.5" y="126.53" width="23.5" height="2.31" fill="#ecd6a6"/>
<rect x="633.5" y="128.54" width="23.5" height="2.31" fill="#f2f2ce"/>
<rect x="633.5" y="130.56" width="23.5" height="2.31" fill="#f1ecc6"/>
<rect x="633.5" y="132.57" width="23.5" height="2.31" fill="#efe6bd"/>
<rect x="633.5" y="134.59" width="23.5" height="2.31" fill="#f2f4d2"/>
<rect x="633.5" y="136.60" width="23.5" height="2.00" fill="#eeddb1"/>
<rect x="633.5" y="138.30" width="23.5" height="2.00" fill="#e3b995"/>
<rect x="633.5" y="140.00" width="23.5" height="2.33" fill="#eace9f"/>
<rect x="633.5" y="142.03" width="23.5" height="2.33" fill="#efe2b7"/>
<rect x="633.5" y="144.05" width="23.5" height="2.33" fill="#e2b592"/>
<rect x="633.5" y="146.08" width="23.5" height="2.33" fill="#ebd0a0"/>
<rect x="633.5" y="148.11" width="23.5" height="2.33" fill="#eddaad"/>
<rect x="633.5" y="150.14" width="23.5" height="2.33" fill="#ecd3a2"/>
<rect x="633.5" y="152.16" width="23.5" height="2.33" fill="#edd9ab"/>
<rect x="633.5" y="154.19" width="23.5" height="2.33" fill="#edd8a9"/>
<rect x="633.5" y="156.22" width="23.5" height="2.33" fill="#e2b592"/>
<rect x="633.5" y="158.25" width="23.5" height="2.33" fill="#efe5bd"/>
<rect x="633.5" y="160.27" width="23.5" height="2.33" fill="#e4ba95"/>
<rect x="633.5" y="162.30" width="23.5" height="3.30" fill="#b7cad7"/>
<rect x="633.5" y="165.30" width="23.5" height="2.55" fill="#dae4d5"/>
<rect x="633.5" y="167.55" width="23.5" height="2.55" fill="#f1eeca"/>
<rect x="633.5" y="169.80" width="23.5" height="2.15" fill="#859ebd"/>
<rect x="633.5" y="171.65" width="23.5" height="2.15" fill="#8ba3c0"/>
<rect x="633.5" y="173.50" width="23.5" height="2.15" fill="#a3b9cd"/>
<rect x="633.5" y="175.35" width="23.5" height="2.15" fill="#8ba4c0"/>
<rect x="633.5" y="177.20" width="23.5" height="2.60" fill="#f1eeca"/>
<rect x="633.5" y="179.50" width="23.5" height="2.32" fill="#7791b5"/>
<rect x="633.5" y="181.53" width="23.5" height="2.32" fill="#95adc6"/>
<rect x="633.5" y="183.55" width="23.5" height="2.32" fill="#7b95b7"/>
<rect x="633.5" y="185.57" width="23.5" height="2.32" fill="#809aba"/>
<rect x="633.5" y="187.60" width="23.5" height="3.30" fill="#f1efca"/>
<rect x="633.5" y="190.60" width="23.5" height="2.60" fill="#f0e9c2"/>
<rect x="633.5" y="192.90" width="23.5" height="2.60" fill="#ebd0a0"/>
<rect x="633.5" y="195.20" width="23.5" height="2.60" fill="#efe2b8"/>
<rect x="633.5" y="197.50" width="23.5" height="2.50" fill="#edd9ab"/>
<rect x="633.5" y="199.70" width="23.5" height="2.90" fill="#d28b7b"/>
<rect x="633.5" y="202.30" width="23.5" height="2.90" fill="#dfac8e"/>
<rect x="633.5" y="204.90" width="23.5" height="2.55" fill="#dda68a"/>
<rect x="633.5" y="207.15" width="23.5" height="2.55" fill="#da9e86"/>
<rect x="633.5" y="209.40" width="23.5" height="2.52" fill="#e4bc96"/>
<rect x="633.5" y="211.62" width="23.5" height="2.52" fill="#e2b492"/>
<rect x="633.5" y="213.85" width="23.5" height="2.52" fill="#e0af8f"/>
<rect x="633.5" y="216.07" width="23.5" height="2.52" fill="#e7c59b"/>
<rect x="633.5" y="218.30" width="23.5" height="2.52" fill="#dfab8d"/>
<rect x="633.5" y="220.53" width="23.5" height="2.52" fill="#dca288"/>
<rect x="633.5" y="222.75" width="23.5" height="2.52" fill="#d4907e"/>
<rect x="633.5" y="224.97" width="23.5" height="2.52" fill="#dda78b"/>
<rect x="633.5" y="227.20" width="23.5" height="2.50" fill="#d4917e"/>
<rect x="633.5" y="229.40" width="23.5" height="2.50" fill="#cd8375"/>
<rect x="633.5" y="231.60" width="23.5" height="2.50" fill="#cd8275"/>
<rect x="633.5" y="233.80" width="23.5" height="2.50" fill="#da9d86"/>
<rect x="633.5" y="236.00" width="23.5" height="2.50" fill="#db9f87"/>
<rect x="633.5" y="238.20" width="23.5" height="2.50" fill="#dca489"/>
<rect x="633.5" y="240.40" width="23.5" height="2.50" fill="#c97a6f"/>
<rect x="633.5" y="242.60" width="23.5" height="2.50" fill="#d08878"/>
<rect x="633.5" y="244.80" width="23.5" height="2.50" fill="#c7776e"/>
<path d="M563.80 36.28H562.38V37.21H563.80M563.80 38.13H562.20V39.05H563.80M562.38 36.74H561.24V38.59H562.20M563.80 35.36H559.92V37.67H561.24M563.80 40.89H562.31V41.82H563.80M563.80 42.74H563.02V43.66H563.80M562.31 41.36H560.15V43.20H563.02M563.80 39.97H557.88V42.28H560.15M559.92 36.51H555.69V41.12H557.88M563.80 47.35H562.49V48.27H563.80M563.80 46.43H561.63V47.81H562.49M563.80 45.50H560.53V47.12H561.63M563.80 44.58H559.30V46.31H560.53M563.80 51.96H562.59V52.88H563.80M563.80 51.04H560.75V52.42H562.59M563.80 50.12H559.22V51.73H560.75M563.80 49.19H557.41V50.92H559.22M559.30 45.45H555.50V50.06H557.41M555.69 38.82H552.86V47.75H555.50M563.80 54.73H561.98V55.65H563.80M563.80 53.80H559.95V55.19H561.98M563.80 56.57H562.72V57.49H563.80M563.80 58.42H562.82V59.34H563.80M562.72 57.03H561.50V58.88H562.82M563.80 61.18H562.99V62.10H563.80M563.80 60.26H561.25V61.64H562.99M561.50 57.95H559.67V60.95H561.25M559.95 54.50H557.15V59.45H559.67M563.80 63.95H562.14V64.87H563.80M563.80 63.03H561.35V64.41H562.14M563.80 65.79H562.84V66.72H563.80M561.35 63.72H559.16V66.25H562.84M563.80 68.56H562.00V69.48H563.80M563.80 67.64H560.71V69.02H562.00M563.80 71.33H562.22V72.25H563.80M563.80 73.17H562.77V74.09H563.80M562.22 71.79H561.26V73.63H562.77M563.80 70.40H559.90V72.71H561.26M560.71 68.33H557.33V71.56H559.90M559.16 64.99H554.79V69.94H557.33M557.15 56.97H553.28V67.46H554.79M552.86 43.29H550.80V62.22H553.28M563.80 75.94H563.00V76.86H563.80M563.80 75.01H561.23V76.40H563.00M563.80 78.70H562.46V79.63H563.80M563.80 77.78H561.11V79.16H562.46M563.80 80.55H562.27V81.47H563.80M563.80 83.31H562.94V84.24H563.80M563.80 86.08H562.61V87.00H563.80M563.80 85.16H561.56V86.54H562.61M562.94 83.78H560.29V85.85H561.56M563.80 82.39H557.90V84.81H560.29M562.27 81.01H555.59V83.60H557.90M561.11 78.47H553.99V82.31H555.59M561.23 75.71H551.15V80.39H553.99M550.80 52.75H550.80V78.05H551.15M563.80 87.92H561.99V88.85H563.80M563.80 91.61H562.71V92.54H563.80M563.80 93.46H562.75V94.38H563.80M562.71 92.07H561.77V93.92H562.75M563.80 90.69H560.76V93.00H561.77M563.80 89.77H558.96V91.84H560.76M561.99 88.39H557.59V90.81H558.96M563.80 96.22H562.66V97.15H563.80M563.80 95.30H561.31V96.69H562.66M563.80 98.99H562.54V99.91H563.80M563.80 98.07H561.04V99.45H562.54M561.04 98.76H559.03V100.84H563.80M561.31 95.99H557.80V99.80H559.03M557.59 89.60H556.16V97.90H557.80M563.80 102.68H562.80V103.60H563.80M563.80 101.76H561.77V103.14H562.80M563.80 104.52H562.26V105.45H563.80M561.77 102.45H559.54V104.99H562.26M563.80 106.37H562.85V107.29H563.80M559.54 103.72H557.08V106.83H562.85M556.16 93.75H552.95V105.27H557.08M563.80 110.98H562.81V111.90H563.80M563.80 110.06H561.15V111.44H562.81M563.80 112.82H562.79V113.75H563.80M561.15 110.75H559.08V113.28H562.79M563.80 109.13H557.26V112.02H559.08M563.80 108.21H555.85V110.58H557.26M563.80 114.67H562.28V115.59H563.80M563.80 117.43H562.46V118.36H563.80M563.80 119.28H562.40V120.20H563.80M563.80 121.12H562.76V122.05H563.80M562.40 119.74H560.32V121.58H562.76M562.46 117.90H559.10V120.66H560.32M563.80 116.51H558.13V119.28H559.10M562.28 115.13H556.67V117.90H558.13M555.85 109.39H553.80V116.51H556.67M563.80 123.89H562.88V124.81H563.80M563.80 122.97H561.63V124.35H562.88M563.80 128.50H562.09V129.42H563.80M563.80 127.58H560.09V128.96H562.09M563.80 126.66H558.37V128.27H560.09M563.80 125.73H556.49V127.46H558.37M563.80 130.34H562.92V131.27H563.80M563.80 133.11H563.03V134.03H563.80M563.80 132.19H562.22V133.57H563.03M562.92 130.81H560.03V132.88H562.22M556.49 126.60H554.22V131.84H560.03M561.63 123.66H551.29V129.22H554.22M553.80 112.95H550.80V126.44H551.29M552.95 99.51H550.80V119.70H550.80M550.80 65.40H550.80V109.60H550.80M563.80 134.96H562.26V135.88H563.80M563.80 137.72H562.08V138.64H563.80M563.80 136.80H560.38V138.18H562.08M562.26 135.42H558.49V137.49H560.38M563.80 140.49H562.32V141.41H563.80M563.80 139.57H560.41V140.95H562.32M563.80 143.26H562.61V144.18H563.80M563.80 142.33H560.84V143.72H562.61M563.80 145.10H562.12V146.02H563.80M560.84 143.02H559.14V145.56H562.12M560.41 140.26H557.13V144.29H559.14M563.80 148.79H562.43V149.71H563.80M563.80 147.87H560.89V149.25H562.43M563.80 146.94H559.94V148.56H560.89M557.13 142.28H554.87V147.75H559.94M563.80 150.63H562.27V151.55H563.80M563.80 152.48H562.64V153.40H563.80M562.27 151.09H560.44V152.94H562.64M563.80 154.32H562.43V155.24H563.80M560.44 152.02H558.86V154.78H562.43M554.87 145.01H551.92V153.40H558.86M558.49 136.45H550.80V149.21H551.92M563.80 158.01H562.41V158.93H563.80M563.80 157.09H561.03V158.47H562.41M563.80 156.17H559.88V157.78H561.03M563.80 160.78H562.30V161.70H563.80M563.80 159.85H560.90V161.24H562.30M559.88 156.97H557.95V160.55H560.90M550.80 142.83H550.80V158.76H557.95M563.80 163.54H562.74V164.47H563.80M563.80 162.62H561.11V164.00H562.74M563.80 167.23H562.08V168.15H563.80M563.80 166.31H560.47V167.69H562.08M563.80 165.39H559.04V167.00H560.47M563.80 169.08H562.34V170.00H563.80M563.80 172.77H562.60V173.69H563.80M563.80 171.84H560.81V173.23H562.60M563.80 170.92H558.74V172.53H560.81M562.34 169.54H556.48V171.73H558.74M563.80 175.53H562.65V176.45H563.80M563.80 174.61H561.14V175.99H562.65M556.48 170.63H554.94V175.30H561.14M559.04 166.19H553.60V172.97H554.94M561.11 163.31H551.44V169.58H553.60M563.80 177.38H562.88V178.30H563.80M563.80 181.06H562.77V181.99H563.80M563.80 180.14H561.71V181.53H562.77M563.80 179.22H560.32V180.83H561.71M562.88 177.84H558.45V180.03H560.32M563.80 182.91H562.53V183.83H563.80M558.45 178.93H556.95V183.37H562.53M563.80 185.68H562.57V186.60H563.80M563.80 184.75H561.69V186.14H562.57M561.69 185.44H560.81V187.52H563.80M563.80 188.44H562.11V189.36H563.80M560.81 186.48H559.83V188.90H562.11M556.95 181.15H554.46V187.69H559.83M563.80 191.21H562.73V192.13H563.80M563.80 190.29H560.96V191.67H562.73M563.80 194.90H562.92V195.82H563.80M563.80 193.97H561.57V195.36H562.92M563.80 193.05H560.70V194.67H561.57M560.96 190.98H558.43V193.86H560.70M554.46 184.42H552.72V192.42H558.43M563.80 196.74H563.02V197.66H563.80M563.80 200.43H562.38V201.35H563.80M563.80 199.51H560.78V200.89H562.38M563.80 198.59H558.85V200.20H560.78M563.80 203.20H562.32V204.12H563.80M563.80 202.27H561.28V203.66H562.32M561.28 202.97H559.80V205.04H563.80M558.85 199.39H557.58V204.00H559.80M563.02 197.20H556.54V201.70H557.58M552.72 188.42H550.80V199.45H556.54M551.44 166.45H550.80V193.94H550.80M550.80 150.79H550.80V180.19H550.80M563.80 206.89H562.50V207.81H563.80M563.80 205.96H560.95V207.35H562.50M563.80 209.65H562.24V210.57H563.80M563.80 208.73H560.96V210.11H562.24M560.95 206.65H558.83V209.42H560.96M563.80 212.42H562.93V213.34H563.80M563.80 214.26H562.57V215.18H563.80M562.93 212.88H560.89V214.72H562.57M563.80 216.11H562.07V217.03H563.80M560.89 213.80H559.40V216.57H562.07M563.80 211.50H557.55V215.19H559.40M563.80 218.87H562.11V219.80H563.80M563.80 217.95H560.33V219.33H562.11M557.55 213.34H554.85V218.64H560.33M558.83 208.04H552.77V215.99H554.85M563.80 221.64H562.17V222.56H563.80M563.80 220.72H560.59V222.10H562.17M563.80 223.48H562.28V224.41H563.80M560.59 221.41H559.40V223.95H562.28M563.80 225.33H562.20V226.25H563.80M563.80 227.17H562.72V228.10H563.80M562.20 225.79H560.14V227.63H562.72M563.80 229.02H562.13V229.94H563.80M560.14 226.71H558.69V229.48H562.13M563.80 230.86H562.98V231.78H563.80M558.69 228.10H556.99V231.32H562.98M563.80 232.71H562.23V233.63H563.80M563.80 234.55H562.54V235.47H563.80M562.23 233.17H561.35V235.01H562.54M556.99 229.71H554.41V234.09H561.35M559.40 222.68H553.12V231.90H554.41M563.80 236.40H562.70V237.32H563.80M563.80 240.08H562.91V241.01H563.80M563.80 239.16H561.48V240.54H562.91M563.80 238.24H559.66V239.85H561.48M563.80 241.93H562.15V242.85H563.80M559.66 239.05H557.70V242.39H562.15M562.70 236.86H555.16V240.72H557.70M563.80 245.62H562.03V246.54H563.80M563.80 244.69H561.13V246.08H562.03M563.80 243.77H560.00V245.39H561.13M555.16 238.79H553.10V244.58H560.00M553.12 227.29H551.09V241.68H553.10M552.77 212.02H550.80V234.49H551.09M550.80 165.49H550.80V223.25H550.80M550.80 87.50H550.80V194.37H550.80" stroke="#111" stroke-width="0.45" fill="none"/>
<rect x="560.2" y="35" width="3.8" height="212" fill="#111"/>
<defs><linearGradient id="gC" x1="0" y1="0" x2="0" y2="1"><stop offset="0" stop-color="#b5474b"/><stop offset="0.2" stop-color="#d98a78"/><stop offset="0.37" stop-color="#ecd39c"/><stop offset="0.5" stop-color="#f2f4d2"/><stop offset="0.68" stop-color="#bccfda"/><stop offset="0.85" stop-color="#7f99ba"/><stop offset="1" stop-color="#5470a0"/></linearGradient></defs>
<rect x="663.5" y="36.2" width="2.4" height="72.4" fill="url(#gC)"/>
<text x="666.7" y="49.1" font-size="7.0" text-anchor="start" fill="#333" >1</text>
<text x="666.7" y="61.2" font-size="7.0" text-anchor="start" fill="#333" >0.5</text>
<text x="666.7" y="76.0" font-size="7.0" text-anchor="start" fill="#333" >0</text>
<text x="666.7" y="88.8" font-size="7.0" text-anchor="start" fill="#333" >−0.5</text>
<text x="666.7" y="101.0" font-size="7.0" text-anchor="start" fill="#333" >−1</text>
<text x="0" y="0" font-size="8.2" text-anchor="end" fill="#1a1a1a" transform="translate(582.3,252.8) rotate(-30)">Fibroblasts</text>
<text x="0" y="0" font-size="8.2" text-anchor="end" fill="#1a1a1a" transform="translate(605.5,252.8) rotate(-30)">T cells</text>
<text x="0" y="0" font-size="8.2" text-anchor="end" fill="#1a1a1a" transform="translate(628.6,252.8) rotate(-30)">Epithelial cells</text>
<text x="0" y="0" font-size="8.2" text-anchor="end" fill="#1a1a1a" transform="translate(651.9,252.8) rotate(-30)">B cell</text>
<text x="23.4" y="315.8" font-size="13.4" text-anchor="start" fill="#1a1a1a" >D</text>
<text x="101.0" y="318.0" font-size="11.5" text-anchor="start" fill="#1a1a1a" >Cor pheatmap</text>
<defs><filter id="blurD" x="0" y="0" width="1" height="1"><feGaussianBlur stdDeviation="1.1"/></filter><clipPath id="clipD"><rect x="18" y="347" width="219.2" height="371.5"/></clipPath></defs>
<g clip-path="url(#clipD)"><g filter="url(#blurD)">
<rect x="14" y="343" width="227.2" height="379.5" fill="#e8c89a"/>
<rect x="14.00" y="343.00" width="15.20" height="8.30" fill="#e59a62"/>
<rect x="28.90" y="343.00" width="11.60" height="8.30" fill="#e59a62"/>
<rect x="40.20" y="343.00" width="12.00" height="8.30" fill="#c8503c"/>
<rect x="51.90" y="343.00" width="11.00" height="8.30" fill="#a3292d"/>
<rect x="62.60" y="343.00" width="11.70" height="8.30" fill="#f4e4a4"/>
<rect x="74.00" y="343.00" width="11.60" height="8.30" fill="#c8503c"/>
<rect x="85.30" y="343.00" width="8.50" height="8.30" fill="#c8503c"/>
<rect x="93.50" y="343.00" width="9.50" height="8.30" fill="#3e5aa0"/>
<rect x="102.70" y="343.00" width="9.80" height="8.30" fill="#3e5aa0"/>
<rect x="112.20" y="343.00" width="12.60" height="8.30" fill="#e59a62"/>
<rect x="124.50" y="343.00" width="13.80" height="8.30" fill="#96bbd5"/>
<rect x="138.00" y="343.00" width="9.50" height="8.30" fill="#c8503c"/>
<rect x="147.20" y="343.00" width="10.10" height="8.30" fill="#3e5aa0"/>
<rect x="157.00" y="343.00" width="14.60" height="8.30" fill="#96bbd5"/>
<rect x="171.30" y="343.00" width="12.00" height="8.30" fill="#c8503c"/>
<rect x="183.00" y="343.00" width="8.60" height="8.30" fill="#c8503c"/>
<rect x="191.30" y="343.00" width="10.00" height="8.30" fill="#c8503c"/>
<rect x="201.00" y="343.00" width="14.50" height="8.30" fill="#e59a62"/>
<rect x="215.20" y="343.00" width="11.20" height="8.30" fill="#e59a62"/>
<rect x="226.10" y="343.00" width="15.10" height="8.30" fill="#3e5aa0"/>
<rect x="14.00" y="351.00" width="15.20" height="9.80" fill="#96bbd5"/>
<rect x="28.90" y="351.00" width="11.60" height="9.80" fill="#96bbd5"/>
<rect x="40.20" y="351.00" width="12.00" height="9.80" fill="#c8503c"/>
<rect x="51.90" y="351.00" width="11.00" height="9.80" fill="#a3292d"/>
<rect x="62.60" y="351.00" width="11.70" height="9.80" fill="#96bbd5"/>
<rect x="74.00" y="351.00" width="11.60" height="9.80" fill="#c8503c"/>
<rect x="85.30" y="351.00" width="8.50" height="9.80" fill="#e59a62"/>
<rect x="93.50" y="351.00" width="9.50" height="9.80" fill="#f4e4a4"/>
<rect x="102.70" y="351.00" width="9.80" height="9.80" fill="#f4e4a4"/>
<rect x="112.20" y="351.00" width="12.60" height="9.80" fill="#a3292d"/>
<rect x="124.50" y="351.00" width="13.80" height="9.80" fill="#f4e4a4"/>
<rect x="138.00" y="351.00" width="9.50" height="9.80" fill="#a3292d"/>
<rect x="147.20" y="351.00" width="10.10" height="9.80" fill="#96bbd5"/>
<rect x="157.00" y="351.00" width="14.60" height="9.80" fill="#f4e4a4"/>
<rect x="171.30" y="351.00" width="12.00" height="9.80" fill="#c8503c"/>
<rect x="183.00" y="351.00" width="8.60" height="9.80" fill="#c8503c"/>
<rect x="191.30" y="351.00" width="10.00" height="9.80" fill="#a3292d"/>
<rect x="201.00" y="351.00" width="14.50" height="9.80" fill="#f4e4a4"/>
<rect x="215.20" y="351.00" width="11.20" height="9.80" fill="#f4e4a4"/>
<rect x="226.10" y="351.00" width="15.10" height="9.80" fill="#6289bd"/>
<rect x="14.00" y="360.50" width="15.20" height="10.50" fill="#a3292d"/>
<rect x="28.90" y="360.50" width="11.60" height="10.50" fill="#a3292d"/>
<rect x="40.20" y="360.50" width="12.00" height="10.50" fill="#c8503c"/>
<rect x="51.90" y="360.50" width="11.00" height="10.50" fill="#96bbd5"/>
<rect x="62.60" y="360.50" width="11.70" height="10.50" fill="#6289bd"/>
<rect x="74.00" y="360.50" width="11.60" height="10.50" fill="#96bbd5"/>
<rect x="85.30" y="360.50" width="8.50" height="10.50" fill="#96bbd5"/>
<rect x="93.50" y="360.50" width="9.50" height="10.50" fill="#3e5aa0"/>
<rect x="102.70" y="360.50" width="9.80" height="10.50" fill="#6289bd"/>
<rect x="112.20" y="360.50" width="12.60" height="10.50" fill="#96bbd5"/>
<rect x="124.50" y="360.50" width="13.80" height="10.50" fill="#96bbd5"/>
<rect x="138.00" y="360.50" width="9.50" height="10.50" fill="#6289bd"/>
<rect x="147.20" y="360.50" width="10.10" height="10.50" fill="#96bbd5"/>
<rect x="157.00" y="360.50" width="14.60" height="10.50" fill="#6289bd"/>
<rect x="171.30" y="360.50" width="12.00" height="10.50" fill="#f4e4a4"/>
<rect x="183.00" y="360.50" width="8.60" height="10.50" fill="#e59a62"/>
<rect x="191.30" y="360.50" width="10.00" height="10.50" fill="#96bbd5"/>
<rect x="201.00" y="360.50" width="14.50" height="10.50" fill="#c8503c"/>
<rect x="215.20" y="360.50" width="11.20" height="10.50" fill="#c8503c"/>
<rect x="226.10" y="360.50" width="15.10" height="10.50" fill="#e59a62"/>
<rect x="14.00" y="370.70" width="15.20" height="7.60" fill="#c8503c"/>
<rect x="28.90" y="370.70" width="11.60" height="7.60" fill="#e59a62"/>
<rect x="40.20" y="370.70" width="12.00" height="7.60" fill="#a3292d"/>
<rect x="51.90" y="370.70" width="11.00" height="7.60" fill="#c8503c"/>
<rect x="62.60" y="370.70" width="11.70" height="7.60" fill="#3e5aa0"/>
<rect x="74.00" y="370.70" width="11.60" height="7.60" fill="#eef3e0"/>
<rect x="85.30" y="370.70" width="8.50" height="7.60" fill="#e59a62"/>
<rect x="93.50" y="370.70" width="9.50" height="7.60" fill="#3e5aa0"/>
<rect x="102.70" y="370.70" width="9.80" height="7.60" fill="#3e5aa0"/>
<rect x="112.20" y="370.70" width="12.60" height="7.60" fill="#c8503c"/>
<rect x="124.50" y="370.70" width="13.80" height="7.60" fill="#c8503c"/>
<rect x="138.00" y="370.70" width="9.50" height="7.60" fill="#c8503c"/>
<rect x="147.20" y="370.70" width="10.10" height="7.60" fill="#3e5aa0"/>
<rect x="157.00" y="370.70" width="14.60" height="7.60" fill="#6289bd"/>
<rect x="171.30" y="370.70" width="12.00" height="7.60" fill="#a3292d"/>
<rect x="183.00" y="370.70" width="8.60" height="7.60" fill="#a3292d"/>
<rect x="191.30" y="370.70" width="10.00" height="7.60" fill="#a3292d"/>
<rect x="201.00" y="370.70" width="14.50" height="7.60" fill="#a3292d"/>
<rect x="215.20" y="370.70" width="11.20" height="7.60" fill="#a3292d"/>
<rect x="226.10" y="370.70" width="15.10" height="7.60" fill="#6289bd"/>
<rect x="14.00" y="378.00" width="15.20" height="7.30" fill="#f4e4a4"/>
<rect x="28.90" y="378.00" width="11.60" height="7.30" fill="#96bbd5"/>
<rect x="40.20" y="378.00" width="12.00" height="7.30" fill="#e59a62"/>
<rect x="51.90" y="378.00" width="11.00" height="7.30" fill="#e59a62"/>
<rect x="62.60" y="378.00" width="11.70" height="7.30" fill="#3e5aa0"/>
<rect x="74.00" y="378.00" width="11.60" height="7.30" fill="#96bbd5"/>
<rect x="85.30" y="378.00" width="8.50" height="7.30" fill="#96bbd5"/>
<rect x="93.50" y="378.00" width="9.50" height="7.30" fill="#6289bd"/>
<rect x="102.70" y="378.00" width="9.80" height="7.30" fill="#6289bd"/>
<rect x="112.20" y="378.00" width="12.60" height="7.30" fill="#a3292d"/>
<rect x="124.50" y="378.00" width="13.80" height="7.30" fill="#c8503c"/>
<rect x="138.00" y="378.00" width="9.50" height="7.30" fill="#e59a62"/>
<rect x="147.20" y="378.00" width="10.10" height="7.30" fill="#6289bd"/>
<rect x="157.00" y="378.00" width="14.60" height="7.30" fill="#6289bd"/>
<rect x="171.30" y="378.00" width="12.00" height="7.30" fill="#a3292d"/>
<rect x="183.00" y="378.00" width="8.60" height="7.30" fill="#a3292d"/>
<rect x="191.30" y="378.00" width="10.00" height="7.30" fill="#a3292d"/>
<rect x="201.00" y="378.00" width="14.50" height="7.30" fill="#c8503c"/>
<rect x="215.20" y="378.00" width="11.20" height="7.30" fill="#a3292d"/>
<rect x="226.10" y="378.00" width="15.10" height="7.30" fill="#6289bd"/>
<rect x="14.00" y="385.00" width="15.20" height="11.30" fill="#c8503c"/>
<rect x="28.90" y="385.00" width="11.60" height="11.30" fill="#c8503c"/>
<rect x="40.20" y="385.00" width="12.00" height="11.30" fill="#f4e4a4"/>
<rect x="51.90" y="385.00" width="11.00" height="11.30" fill="#e59a62"/>
<rect x="62.60" y="385.00" width="11.70" height="11.30" fill="#3e5aa0"/>
<rect x="74.00" y="385.00" width="11.60" height="11.30" fill="#6289bd"/>
<rect x="85.30" y="385.00" width="8.50" height="11.30" fill="#96bbd5"/>
<rect x="93.50" y="385.00" width="9.50" height="11.30" fill="#e59a62"/>
<rect x="102.70" y="385.00" width="9.80" height="11.30" fill="#96bbd5"/>
<rect x="112.20" y="385.00" width="12.60" height="11.30" fill="#a3292d"/>
<rect x="124.50" y="385.00" width="13.80" height="11.30" fill="#c8503c"/>
<rect x="138.00" y="385.00" width="9.50" height="11.30" fill="#e59a62"/>
<rect x="147.20" y="385.00" width="10.10" height="11.30" fill="#96bbd5"/>
<rect x="157.00" y="385.00" width="14.60" height="11.30" fill="#6289bd"/>
<rect x="171.30" y="385.00" width="12.00" height="11.30" fill="#a3292d"/>
<rect x="183.00" y="385.00" width="8.60" height="11.30" fill="#c8503c"/>
<rect x="191.30" y="385.00" width="10.00" height="11.30" fill="#c8503c"/>
<rect x="201.00" y="385.00" width="14.50" height="11.30" fill="#e59a62"/>
<rect x="215.20" y="385.00" width="11.20" height="11.30" fill="#a3292d"/>
<rect x="226.10" y="385.00" width="15.10" height="11.30" fill="#96bbd5"/>
<rect x="14.00" y="396.00" width="15.20" height="9.30" fill="#e59a62"/>
<rect x="28.90" y="396.00" width="11.60" height="9.30" fill="#c8503c"/>
<rect x="40.20" y="396.00" width="12.00" height="9.30" fill="#96bbd5"/>
<rect x="51.90" y="396.00" width="11.00" height="9.30" fill="#96bbd5"/>
<rect x="62.60" y="396.00" width="11.70" height="9.30" fill="#c8503c"/>
<rect x="74.00" y="396.00" width="11.60" height="9.30" fill="#f4e4a4"/>
<rect x="85.30" y="396.00" width="8.50" height="9.30" fill="#c8503c"/>
<rect x="93.50" y="396.00" width="9.50" height="9.30" fill="#f4e4a4"/>
<rect x="102.70" y="396.00" width="9.80" height="9.30" fill="#e59a62"/>
<rect x="112.20" y="396.00" width="12.60" height="9.30" fill="#6289bd"/>
<rect x="124.50" y="396.00" width="13.80" height="9.30" fill="#f4e4a4"/>
<rect x="138.00" y="396.00" width="9.50" height="9.30" fill="#3e5aa0"/>
<rect x="147.20" y="396.00" width="10.10" height="9.30" fill="#e59a62"/>
<rect x="157.00" y="396.00" width="14.60" height="9.30" fill="#f4e4a4"/>
<rect x="171.30" y="396.00" width="12.00" height="9.30" fill="#96bbd5"/>
<rect x="183.00" y="396.00" width="8.60" height="9.30" fill="#6289bd"/>
<rect x="191.30" y="396.00" width="10.00" height="9.30" fill="#6289bd"/>
<rect x="201.00" y="396.00" width="14.50" height="9.30" fill="#f4e4a4"/>
<rect x="215.20" y="396.00" width="11.20" height="9.30" fill="#96bbd5"/>
<rect x="226.10" y="396.00" width="15.10" height="9.30" fill="#c8503c"/>
<rect x="14.00" y="405.00" width="15.20" height="15.30" fill="#c8503c"/>
<rect x="28.90" y="405.00" width="11.60" height="15.30" fill="#a3292d"/>
<rect x="40.20" y="405.00" width="12.00" height="15.30" fill="#e59a62"/>
<rect x="51.90" y="405.00" width="11.00" height="15.30" fill="#c8503c"/>
<rect x="62.60" y="405.00" width="11.70" height="15.30" fill="#e59a62"/>
<rect x="74.00" y="405.00" width="11.60" height="15.30" fill="#e59a62"/>
<rect x="85.30" y="405.00" width="8.50" height="15.30" fill="#c8503c"/>
<rect x="93.50" y="405.00" width="9.50" height="15.30" fill="#6289bd"/>
<rect x="102.70" y="405.00" width="9.80" height="15.30" fill="#96bbd5"/>
<rect x="112.20" y="405.00" width="12.60" height="15.30" fill="#3e5aa0"/>
<rect x="124.50" y="405.00" width="13.80" height="15.30" fill="#6289bd"/>
<rect x="138.00" y="405.00" width="9.50" height="15.30" fill="#96bbd5"/>
<rect x="147.20" y="405.00" width="10.10" height="15.30" fill="#96bbd5"/>
<rect x="157.00" y="405.00" width="14.60" height="15.30" fill="#e59a62"/>
<rect x="171.30" y="405.00" width="12.00" height="15.30" fill="#c8503c"/>
<rect x="183.00" y="405.00" width="8.60" height="15.30" fill="#f4e4a4"/>
<rect x="191.30" y="405.00" width="10.00" height="15.30" fill="#96bbd5"/>
<rect x="201.00" y="405.00" width="14.50" height="15.30" fill="#e59a62"/>
<rect x="215.20" y="405.00" width="11.20" height="15.30" fill="#f4e4a4"/>
<rect x="226.10" y="405.00" width="15.10" height="15.30" fill="#96bbd5"/>
<rect x="14.00" y="420.00" width="15.20" height="17.30" fill="#96bbd5"/>
<rect x="28.90" y="420.00" width="11.60" height="17.30" fill="#3e5aa0"/>
<rect x="40.20" y="420.00" width="12.00" height="17.30" fill="#f4e4a4"/>
<rect x="51.90" y="420.00" width="11.00" height="17.30" fill="#c8503c"/>
<rect x="62.60" y="420.00" width="11.70" height="17.30" fill="#e59a62"/>
<rect x="74.00" y="420.00" width="11.60" height="17.30" fill="#a3292d"/>
<rect x="85.30" y="420.00" width="8.50" height="17.30" fill="#f4e4a4"/>
<rect x="93.50" y="420.00" width="9.50" height="17.30" fill="#c8503c"/>
<rect x="102.70" y="420.00" width="9.80" height="17.30" fill="#e59a62"/>
<rect x="112.20" y="420.00" width="12.60" height="17.30" fill="#a3292d"/>
<rect x="124.50" y="420.00" width="13.80" height="17.30" fill="#f4e4a4"/>
<rect x="138.00" y="420.00" width="9.50" height="17.30" fill="#a3292d"/>
<rect x="147.20" y="420.00" width="10.10" height="17.30" fill="#f4e4a4"/>
<rect x="157.00" y="420.00" width="14.60" height="17.30" fill="#c8503c"/>
<rect x="171.30" y="420.00" width="12.00" height="17.30" fill="#f4e4a4"/>
<rect x="183.00" y="420.00" width="8.60" height="17.30" fill="#e59a62"/>
<rect x="191.30" y="420.00" width="10.00" height="17.30" fill="#c8503c"/>
<rect x="201.00" y="420.00" width="14.50" height="17.30" fill="#6289bd"/>
<rect x="215.20" y="420.00" width="11.20" height="17.30" fill="#96bbd5"/>
<rect x="226.10" y="420.00" width="15.10" height="17.30" fill="#96bbd5"/>
<rect x="14.00" y="437.00" width="15.20" height="4.30" fill="#96bbd5"/>
<rect x="28.90" y="437.00" width="11.60" height="4.30" fill="#3e5aa0"/>
<rect x="40.20" y="437.00" width="12.00" height="4.30" fill="#e59a62"/>
<rect x="51.90" y="437.00" width="11.00" height="4.30" fill="#f4e4a4"/>
<rect x="62.60" y="437.00" width="11.70" height="4.30" fill="#96bbd5"/>
<rect x="74.00" y="437.00" width="11.60" height="4.30" fill="#f4e4a4"/>
<rect x="85.30" y="437.00" width="8.50" height="4.30" fill="#96bbd5"/>
<rect x="93.50" y="437.00" width="9.50" height="4.30" fill="#c8503c"/>
<rect x="102.70" y="437.00" width="9.80" height="4.30" fill="#c8503c"/>
<rect x="112.20" y="437.00" width="12.60" height="4.30" fill="#a3292d"/>
<rect x="124.50" y="437.00" width="13.80" height="4.30" fill="#c8503c"/>
<rect x="138.00" y="437.00" width="9.50" height="4.30" fill="#a3292d"/>
<rect x="147.20" y="437.00" width="10.10" height="4.30" fill="#f4e4a4"/>
<rect x="157.00" y="437.00" width="14.60" height="4.30" fill="#c8503c"/>
<rect x="171.30" y="437.00" width="12.00" height="4.30" fill="#e59a62"/>
<rect x="183.00" y="437.00" width="8.60" height="4.30" fill="#e59a62"/>
<rect x="191.30" y="437.00" width="10.00" height="4.30" fill="#c8503c"/>
<rect x="201.00" y="437.00" width="14.50" height="4.30" fill="#96bbd5"/>
<rect x="215.20" y="437.00" width="11.20" height="4.30" fill="#e59a62"/>
<rect x="226.10" y="437.00" width="15.10" height="4.30" fill="#96bbd5"/>
<rect x="14.00" y="441.00" width="15.20" height="32.30" fill="#96bbd5"/>
<rect x="28.90" y="441.00" width="11.60" height="32.30" fill="#3e5aa0"/>
<rect x="40.20" y="441.00" width="12.00" height="32.30" fill="#f4e4a4"/>
<rect x="51.90" y="441.00" width="11.00" height="32.30" fill="#f4e4a4"/>
<rect x="62.60" y="441.00" width="11.70" height="32.30" fill="#96bbd5"/>
<rect x="74.00" y="441.00" width="11.60" height="32.30" fill="#f4e4a4"/>
<rect x="85.30" y="441.00" width="8.50" height="32.30" fill="#96bbd5"/>
<rect x="93.50" y="441.00" width="9.50" height="32.30" fill="#c8503c"/>
<rect x="102.70" y="441.00" width="9.80" height="32.30" fill="#e59a62"/>
<rect x="112.20" y="441.00" width="12.60" height="32.30" fill="#a3292d"/>
<rect x="124.50" y="441.00" width="13.80" height="32.30" fill="#c8503c"/>
<rect x="138.00" y="441.00" width="9.50" height="32.30" fill="#a3292d"/>
<rect x="147.20" y="441.00" width="10.10" height="32.30" fill="#f4e4a4"/>
<rect x="157.00" y="441.00" width="14.60" height="32.30" fill="#e59a62"/>
<rect x="171.30" y="441.00" width="12.00" height="32.30" fill="#f4e4a4"/>
<rect x="183.00" y="441.00" width="8.60" height="32.30" fill="#e59a62"/>
<rect x="191.30" y="441.00" width="10.00" height="32.30" fill="#c8503c"/>
<rect x="201.00" y="441.00" width="14.50" height="32.30" fill="#96bbd5"/>
<rect x="215.20" y="441.00" width="11.20" height="32.30" fill="#e59a62"/>
<rect x="226.10" y="441.00" width="15.10" height="32.30" fill="#96bbd5"/>
<rect x="14.00" y="473.00" width="15.20" height="18.30" fill="#e59a62"/>
<rect x="28.90" y="473.00" width="11.60" height="18.30" fill="#c8503c"/>
<rect x="40.20" y="473.00" width="12.00" height="18.30" fill="#e59a62"/>
<rect x="51.90" y="473.00" width="11.00" height="18.30" fill="#c8503c"/>
<rect x="62.60" y="473.00" width="11.70" height="18.30" fill="#a3292d"/>
<rect x="74.00" y="473.00" width="11.60" height="18.30" fill="#a3292d"/>
<rect x="85.30" y="473.00" width="8.50" height="18.30" fill="#a3292d"/>
<rect x="93.50" y="473.00" width="9.50" height="18.30" fill="#96bbd5"/>
<rect x="102.70" y="473.00" width="9.80" height="18.30" fill="#96bbd5"/>
<rect x="112.20" y="473.00" width="12.60" height="18.30" fill="#3e5aa0"/>
<rect x="124.50" y="473.00" width="13.80" height="18.30" fill="#3e5aa0"/>
<rect x="138.00" y="473.00" width="9.50" height="18.30" fill="#96bbd5"/>
<rect x="147.20" y="473.00" width="10.10" height="18.30" fill="#f4e4a4"/>
<rect x="157.00" y="473.00" width="14.60" height="18.30" fill="#e59a62"/>
<rect x="171.30" y="473.00" width="12.00" height="18.30" fill="#96bbd5"/>
<rect x="183.00" y="473.00" width="8.60" height="18.30" fill="#6289bd"/>
<rect x="191.30" y="473.00" width="10.00" height="18.30" fill="#96bbd5"/>
<rect x="201.00" y="473.00" width="14.50" height="18.30" fill="#96bbd5"/>
<rect x="215.20" y="473.00" width="11.20" height="18.30" fill="#6289bd"/>
<rect x="226.10" y="473.00" width="15.10" height="18.30" fill="#96bbd5"/>
<rect x="14.00" y="491.00" width="15.20" height="8.30" fill="#96bbd5"/>
<rect x="28.90" y="491.00" width="11.60" height="8.30" fill="#f4e4a4"/>
<rect x="40.20" y="491.00" width="12.00" height="8.30" fill="#c8503c"/>
<rect x="51.90" y="491.00" width="11.00" height="8.30" fill="#c8503c"/>
<rect x="62.60" y="491.00" width="11.70" height="8.30" fill="#c8503c"/>
<rect x="74.00" y="491.00" width="11.60" height="8.30" fill="#a3292d"/>
<rect x="85.30" y="491.00" width="8.50" height="8.30" fill="#c8503c"/>
<rect x="93.50" y="491.00" width="9.50" height="8.30" fill="#96bbd5"/>
<rect x="102.70" y="491.00" width="9.80" height="8.30" fill="#96bbd5"/>
<rect x="112.20" y="491.00" width="12.60" height="8.30" fill="#6289bd"/>
<rect x="124.50" y="491.00" width="13.80" height="8.30" fill="#3e5aa0"/>
<rect x="138.00" y="491.00" width="9.50" height="8.30" fill="#e59a62"/>
<rect x="147.20" y="491.00" width="10.10" height="8.30" fill="#f4e4a4"/>
<rect x="157.00" y="491.00" width="14.60" height="8.30" fill="#c8503c"/>
<rect x="171.30" y="491.00" width="12.00" height="8.30" fill="#f4e4a4"/>
<rect x="183.00" y="491.00" width="8.60" height="8.30" fill="#96bbd5"/>
<rect x="191.30" y="491.00" width="10.00" height="8.30" fill="#f4e4a4"/>
<rect x="201.00" y="491.00" width="14.50" height="8.30" fill="#96bbd5"/>
<rect x="215.20" y="491.00" width="11.20" height="8.30" fill="#96bbd5"/>
<rect x="226.10" y="491.00" width="15.10" height="8.30" fill="#96bbd5"/>
<rect x="14.00" y="499.00" width="15.20" height="10.30" fill="#6289bd"/>
<rect x="28.90" y="499.00" width="11.60" height="10.30" fill="#96bbd5"/>
<rect x="40.20" y="499.00" width="12.00" height="10.30" fill="#c8503c"/>
<rect x="51.90" y="499.00" width="11.00" height="10.30" fill="#a3292d"/>
<rect x="62.60" y="499.00" width="11.70" height="10.30" fill="#e59a62"/>
<rect x="74.00" y="499.00" width="11.60" height="10.30" fill="#a3292d"/>
<rect x="85.30" y="499.00" width="8.50" height="10.30" fill="#c8503c"/>
<rect x="93.50" y="499.00" width="9.50" height="10.30" fill="#96bbd5"/>
<rect x="102.70" y="499.00" width="9.80" height="10.30" fill="#96bbd5"/>
<rect x="112.20" y="499.00" width="12.60" height="10.30" fill="#6289bd"/>
<rect x="124.50" y="499.00" width="13.80" height="10.30" fill="#3e5aa0"/>
<rect x="138.00" y="499.00" width="9.50" height="10.30" fill="#c8503c"/>
<rect x="147.20" y="499.00" width="10.10" height="10.30" fill="#96bbd5"/>
<rect x="157.00" y="499.00" width="14.60" height="10.30" fill="#e59a62"/>
<rect x="171.30" y="499.00" width="12.00" height="10.30" fill="#e59a62"/>
<rect x="183.00" y="499.00" width="8.60" height="10.30" fill="#f4e4a4"/>
<rect x="191.30" y="499.00" width="10.00" height="10.30" fill="#c8503c"/>
<rect x="201.00" y="499.00" width="14.50" height="10.30" fill="#96bbd5"/>
<rect x="215.20" y="499.00" width="11.20" height="10.30" fill="#6289bd"/>
<rect x="226.10" y="499.00" width="15.10" height="10.30" fill="#6289bd"/>
<rect x="14.00" y="509.00" width="15.20" height="9.30" fill="#e59a62"/>
<rect x="28.90" y="509.00" width="11.60" height="9.30" fill="#e59a62"/>
<rect x="40.20" y="509.00" width="12.00" height="9.30" fill="#c8503c"/>
<rect x="51.90" y="509.00" width="11.00" height="9.30" fill="#a3292d"/>
<rect x="62.60" y="509.00" width="11.70" height="9.30" fill="#e59a62"/>
<rect x="74.00" y="509.00" width="11.60" height="9.30" fill="#a3292d"/>
<rect x="85.30" y="509.00" width="8.50" height="9.30" fill="#c8503c"/>
<rect x="93.50" y="509.00" width="9.50" height="9.30" fill="#96bbd5"/>
<rect x="102.70" y="509.00" width="9.80" height="9.30" fill="#96bbd5"/>
<rect x="112.20" y="509.00" width="12.60" height="9.30" fill="#6289bd"/>
<rect x="124.50" y="509.00" width="13.80" height="9.30" fill="#3e5aa0"/>
<rect x="138.00" y="509.00" width="9.50" height="9.30" fill="#f4e4a4"/>
<rect x="147.20" y="509.00" width="10.10" height="9.30" fill="#96bbd5"/>
<rect x="157.00" y="509.00" width="14.60" height="9.30" fill="#f4e4a4"/>
<rect x="171.30" y="509.00" width="12.00" height="9.30" fill="#96bbd5"/>
<rect x="183.00" y="509.00" width="8.60" height="9.30" fill="#96bbd5"/>
<rect x="191.30" y="509.00" width="10.00" height="9.30" fill="#f4e4a4"/>
<rect x="201.00" y="509.00" width="14.50" height="9.30" fill="#96bbd5"/>
<rect x="215.20" y="509.00" width="11.20" height="9.30" fill="#96bbd5"/>
<rect x="226.10" y="509.00" width="15.10" height="9.30" fill="#96bbd5"/>
<rect x="14.00" y="518.00" width="15.20" height="19.30" fill="#96bbd5"/>
<rect x="28.90" y="518.00" width="11.60" height="19.30" fill="#96bbd5"/>
<rect x="40.20" y="518.00" width="12.00" height="19.30" fill="#6289bd"/>
<rect x="51.90" y="518.00" width="11.00" height="19.30" fill="#96bbd5"/>
<rect x="62.60" y="518.00" width="11.70" height="19.30" fill="#96bbd5"/>
<rect x="74.00" y="518.00" width="11.60" height="19.30" fill="#96bbd5"/>
<rect x="85.30" y="518.00" width="8.50" height="19.30" fill="#6289bd"/>
<rect x="93.50" y="518.00" width="9.50" height="19.30" fill="#c8503c"/>
<rect x="102.70" y="518.00" width="9.80" height="19.30" fill="#c8503c"/>
<rect x="112.20" y="518.00" width="12.60" height="19.30" fill="#a3292d"/>
<rect x="124.50" y="518.00" width="13.80" height="19.30" fill="#a3292d"/>
<rect x="138.00" y="518.00" width="9.50" height="19.30" fill="#e59a62"/>
<rect x="147.20" y="518.00" width="10.10" height="19.30" fill="#e59a62"/>
<rect x="157.00" y="518.00" width="14.60" height="19.30" fill="#f4e4a4"/>
<rect x="171.30" y="518.00" width="12.00" height="19.30" fill="#e59a62"/>
<rect x="183.00" y="518.00" width="8.60" height="19.30" fill="#c8503c"/>
<rect x="191.30" y="518.00" width="10.00" height="19.30" fill="#e59a62"/>
<rect x="201.00" y="518.00" width="14.50" height="19.30" fill="#f4e4a4"/>
<rect x="215.20" y="518.00" width="11.20" height="19.30" fill="#c8503c"/>
<rect x="226.10" y="518.00" width="15.10" height="19.30" fill="#c8503c"/>
<rect x="14.00" y="537.00" width="15.20" height="18.30" fill="#96bbd5"/>
<rect x="28.90" y="537.00" width="11.60" height="18.30" fill="#6289bd"/>
<rect x="40.20" y="537.00" width="12.00" height="18.30" fill="#f4e4a4"/>
<rect x="51.90" y="537.00" width="11.00" height="18.30" fill="#96bbd5"/>
<rect x="62.60" y="537.00" width="11.70" height="18.30" fill="#96bbd5"/>
<rect x="74.00" y="537.00" width="11.60" height="18.30" fill="#96bbd5"/>
<rect x="85.30" y="537.00" width="8.50" height="18.30" fill="#6289bd"/>
<rect x="93.50" y="537.00" width="9.50" height="18.30" fill="#c8503c"/>
<rect x="102.70" y="537.00" width="9.80" height="18.30" fill="#e59a62"/>
<rect x="112.20" y="537.00" width="12.60" height="18.30" fill="#a3292d"/>
<rect x="124.50" y="537.00" width="13.80" height="18.30" fill="#a3292d"/>
<rect x="138.00" y="537.00" width="9.50" height="18.30" fill="#e59a62"/>
<rect x="147.20" y="537.00" width="10.10" height="18.30" fill="#f4e4a4"/>
<rect x="157.00" y="537.00" width="14.60" height="18.30" fill="#e59a62"/>
<rect x="171.30" y="537.00" width="12.00" height="18.30" fill="#f4e4a4"/>
<rect x="183.00" y="537.00" width="8.60" height="18.30" fill="#c8503c"/>
<rect x="191.30" y="537.00" width="10.00" height="18.30" fill="#e59a62"/>
<rect x="201.00" y="537.00" width="14.50" height="18.30" fill="#f4e4a4"/>
<rect x="215.20" y="537.00" width="11.20" height="18.30" fill="#e59a62"/>
<rect x="226.10" y="537.00" width="15.10" height="18.30" fill="#f4e4a4"/>
<rect x="14.00" y="555.00" width="15.20" height="27.30" fill="#96bbd5"/>
<rect x="28.90" y="555.00" width="11.60" height="27.30" fill="#6289bd"/>
<rect x="40.20" y="555.00" width="12.00" height="27.30" fill="#96bbd5"/>
<rect x="51.90" y="555.00" width="11.00" height="27.30" fill="#96bbd5"/>
<rect x="62.60" y="555.00" width="11.70" height="27.30" fill="#6289bd"/>
<rect x="74.00" y="555.00" width="11.60" height="27.30" fill="#6289bd"/>
<rect x="85.30" y="555.00" width="8.50" height="27.30" fill="#6289bd"/>
<rect x="93.50" y="555.00" width="9.50" height="27.30" fill="#c8503c"/>
<rect x="102.70" y="555.00" width="9.80" height="27.30" fill="#c8503c"/>
<rect x="112.20" y="555.00" width="12.60" height="27.30" fill="#a3292d"/>
<rect x="124.50" y="555.00" width="13.80" height="27.30" fill="#a3292d"/>
<rect x="138.00" y="555.00" width="9.50" height="27.30" fill="#e59a62"/>
<rect x="147.20" y="555.00" width="10.10" height="27.30" fill="#f4e4a4"/>
<rect x="157.00" y="555.00" width="14.60" height="27.30" fill="#f4e4a4"/>
<rect x="171.30" y="555.00" width="12.00" height="27.30" fill="#e59a62"/>
<rect x="183.00" y="555.00" width="8.60" height="27.30" fill="#c8503c"/>
<rect x="191.30" y="555.00" width="10.00" height="27.30" fill="#e59a62"/>
<rect x="201.00" y="555.00" width="14.50" height="27.30" fill="#e59a62"/>
<rect x="215.20" y="555.00" width="11.20" height="27.30" fill="#c8503c"/>
<rect x="226.10" y="555.00" width="15.10" height="27.30" fill="#e59a62"/>
<rect x="14.00" y="582.00" width="15.20" height="25.30" fill="#e59a62"/>
<rect x="28.90" y="582.00" width="11.60" height="25.30" fill="#e59a62"/>
<rect x="40.20" y="582.00" width="12.00" height="25.30" fill="#96bbd5"/>
<rect x="51.90" y="582.00" width="11.00" height="25.30" fill="#96bbd5"/>
<rect x="62.60" y="582.00" width="11.70" height="25.30" fill="#6289bd"/>
<rect x="74.00" y="582.00" width="11.60" height="25.30" fill="#3e5aa0"/>
<rect x="85.30" y="582.00" width="8.50" height="25.30" fill="#6289bd"/>
<rect x="93.50" y="582.00" width="9.50" height="25.30" fill="#e59a62"/>
<rect x="102.70" y="582.00" width="9.80" height="25.30" fill="#c8503c"/>
<rect x="112.20" y="582.00" width="12.60" height="25.30" fill="#a3292d"/>
<rect x="124.50" y="582.00" width="13.80" height="25.30" fill="#a3292d"/>
<rect x="138.00" y="582.00" width="9.50" height="25.30" fill="#96bbd5"/>
<rect x="147.20" y="582.00" width="10.10" height="25.30" fill="#96bbd5"/>
<rect x="157.00" y="582.00" width="14.60" height="25.30" fill="#96bbd5"/>
<rect x="171.30" y="582.00" width="12.00" height="25.30" fill="#e59a62"/>
<rect x="183.00" y="582.00" width="8.60" height="25.30" fill="#c8503c"/>
<rect x="191.30" y="582.00" width="10.00" height="25.30" fill="#f4e4a4"/>
<rect x="201.00" y="582.00" width="14.50" height="25.30" fill="#c8503c"/>
<rect x="215.20" y="582.00" width="11.20" height="25.30" fill="#c8503c"/>
<rect x="226.10" y="582.00" width="15.10" height="25.30" fill="#e59a62"/>
<rect x="14.00" y="607.00" width="15.20" height="10.30" fill="#96bbd5"/>
<rect x="28.90" y="607.00" width="11.60" height="10.30" fill="#e59a62"/>
<rect x="40.20" y="607.00" width="12.00" height="10.30" fill="#3e5aa0"/>
<rect x="51.90" y="607.00" width="11.00" height="10.30" fill="#6289bd"/>
<rect x="62.60" y="607.00" width="11.70" height="10.30" fill="#f4e4a4"/>
<rect x="74.00" y="607.00" width="11.60" height="10.30" fill="#6289bd"/>
<rect x="85.30" y="607.00" width="8.50" height="10.30" fill="#6289bd"/>
<rect x="93.50" y="607.00" width="9.50" height="10.30" fill="#c8503c"/>
<rect x="102.70" y="607.00" width="9.80" height="10.30" fill="#a3292d"/>
<rect x="112.20" y="607.00" width="12.60" height="10.30" fill="#f4e4a4"/>
<rect x="124.50" y="607.00" width="13.80" height="10.30" fill="#a3292d"/>
<rect x="138.00" y="607.00" width="9.50" height="10.30" fill="#96bbd5"/>
<rect x="147.20" y="607.00" width="10.10" height="10.30" fill="#c8503c"/>
<rect x="157.00" y="607.00" width="14.60" height="10.30" fill="#96bbd5"/>
<rect x="171.30" y="607.00" width="12.00" height="10.30" fill="#96bbd5"/>
<rect x="183.00" y="607.00" width="8.60" height="10.30" fill="#f4e4a4"/>
<rect x="191.30" y="607.00" width="10.00" height="10.30" fill="#96bbd5"/>
<rect x="201.00" y="607.00" width="14.50" height="10.30" fill="#f4e4a4"/>
<rect x="215.20" y="607.00" width="11.20" height="10.30" fill="#c8503c"/>
<rect x="226.10" y="607.00" width="15.10" height="10.30" fill="#a3292d"/>
<rect x="14.00" y="617.00" width="15.20" height="7.30" fill="#a3292d"/>
<rect x="28.90" y="617.00" width="11.60" height="7.30" fill="#c8503c"/>
<rect x="40.20" y="617.00" width="12.00" height="7.30" fill="#96bbd5"/>
<rect x="51.90" y="617.00" width="11.00" height="7.30" fill="#6289bd"/>
<rect x="62.60" y="617.00" width="11.70" height="7.30" fill="#96bbd5"/>
<rect x="74.00" y="617.00" width="11.60" height="7.30" fill="#96bbd5"/>
<rect x="85.30" y="617.00" width="8.50" height="7.30" fill="#96bbd5"/>
<rect x="93.50" y="617.00" width="9.50" height="7.30" fill="#e59a62"/>
<rect x="102.70" y="617.00" width="9.80" height="7.30" fill="#c8503c"/>
<rect x="112.20" y="617.00" width="12.60" height="7.30" fill="#96bbd5"/>
<rect x="124.50" y="617.00" width="13.80" height="7.30" fill="#c8503c"/>
<rect x="138.00" y="617.00" width="9.50" height="7.30" fill="#3e5aa0"/>
<rect x="147.20" y="617.00" width="10.10" height="7.30" fill="#e59a62"/>
<rect x="157.00" y="617.00" width="14.60" height="7.30" fill="#96bbd5"/>
<rect x="171.30" y="617.00" width="12.00" height="7.30" fill="#f4e4a4"/>
<rect x="183.00" y="617.00" width="8.60" height="7.30" fill="#96bbd5"/>
<rect x="191.30" y="617.00" width="10.00" height="7.30" fill="#6289bd"/>
<rect x="201.00" y="617.00" width="14.50" height="7.30" fill="#f4e4a4"/>
<rect x="215.20" y="617.00" width="11.20" height="7.30" fill="#c8503c"/>
<rect x="226.10" y="617.00" width="15.10" height="7.30" fill="#c8503c"/>
<rect x="14.00" y="624.00" width="15.20" height="4.30" fill="#96bbd5"/>
<rect x="28.90" y="624.00" width="11.60" height="4.30" fill="#f4e4a4"/>
<rect x="40.20" y="624.00" width="12.00" height="4.30" fill="#96bbd5"/>
<rect x="51.90" y="624.00" width="11.00" height="4.30" fill="#96bbd5"/>
<rect x="62.60" y="624.00" width="11.70" height="4.30" fill="#a3292d"/>
<rect x="74.00" y="624.00" width="11.60" height="4.30" fill="#a3292d"/>
<rect x="85.30" y="624.00" width="8.50" height="4.30" fill="#c8503c"/>
<rect x="93.50" y="624.00" width="9.50" height="4.30" fill="#e59a62"/>
<rect x="102.70" y="624.00" width="9.80" height="4.30" fill="#96bbd5"/>
<rect x="112.20" y="624.00" width="12.60" height="4.30" fill="#6289bd"/>
<rect x="124.50" y="624.00" width="13.80" height="4.30" fill="#e59a62"/>
<rect x="138.00" y="624.00" width="9.50" height="4.30" fill="#6289bd"/>
<rect x="147.20" y="624.00" width="10.10" height="4.30" fill="#e59a62"/>
<rect x="157.00" y="624.00" width="14.60" height="4.30" fill="#a3292d"/>
<rect x="171.30" y="624.00" width="12.00" height="4.30" fill="#c8503c"/>
<rect x="183.00" y="624.00" width="8.60" height="4.30" fill="#96bbd5"/>
<rect x="191.30" y="624.00" width="10.00" height="4.30" fill="#6289bd"/>
<rect x="201.00" y="624.00" width="14.50" height="4.30" fill="#6289bd"/>
<rect x="215.20" y="624.00" width="11.20" height="4.30" fill="#6289bd"/>
<rect x="226.10" y="624.00" width="15.10" height="4.30" fill="#6289bd"/>
<rect x="14.00" y="628.00" width="15.20" height="15.30" fill="#96bbd5"/>
<rect x="28.90" y="628.00" width="11.60" height="15.30" fill="#96bbd5"/>
<rect x="40.20" y="628.00" width="12.00" height="15.30" fill="#e59a62"/>
<rect x="51.90" y="628.00" width="11.00" height="15.30" fill="#c8503c"/>
<rect x="62.60" y="628.00" width="11.70" height="15.30" fill="#a3292d"/>
<rect x="74.00" y="628.00" width="11.60" height="15.30" fill="#a3292d"/>
<rect x="85.30" y="628.00" width="8.50" height="15.30" fill="#c8503c"/>
<rect x="93.50" y="628.00" width="9.50" height="15.30" fill="#e59a62"/>
<rect x="102.70" y="628.00" width="9.80" height="15.30" fill="#f4e4a4"/>
<rect x="112.20" y="628.00" width="12.60" height="15.30" fill="#6289bd"/>
<rect x="124.50" y="628.00" width="13.80" height="15.30" fill="#96bbd5"/>
<rect x="138.00" y="628.00" width="9.50" height="15.30" fill="#c8503c"/>
<rect x="147.20" y="628.00" width="10.10" height="15.30" fill="#c8503c"/>
<rect x="157.00" y="628.00" width="14.60" height="15.30" fill="#a3292d"/>
<rect x="171.30" y="628.00" width="12.00" height="15.30" fill="#96bbd5"/>
<rect x="183.00" y="628.00" width="8.60" height="15.30" fill="#6289bd"/>
<rect x="191.30" y="628.00" width="10.00" height="15.30" fill="#96bbd5"/>
<rect x="201.00" y="628.00" width="14.50" height="15.30" fill="#3e5aa0"/>
<rect x="215.20" y="628.00" width="11.20" height="15.30" fill="#3e5aa0"/>
<rect x="226.10" y="628.00" width="15.10" height="15.30" fill="#96bbd5"/>
<rect x="14.00" y="643.00" width="15.20" height="24.30" fill="#6289bd"/>
<rect x="28.90" y="643.00" width="11.60" height="24.30" fill="#3e5aa0"/>
<rect x="40.20" y="643.00" width="12.00" height="24.30" fill="#f4e4a4"/>
<rect x="51.90" y="643.00" width="11.00" height="24.30" fill="#f4e4a4"/>
<rect x="62.60" y="643.00" width="11.70" height="24.30" fill="#96bbd5"/>
<rect x="74.00" y="643.00" width="11.60" height="24.30" fill="#f4e4a4"/>
<rect x="85.30" y="643.00" width="8.50" height="24.30" fill="#96bbd5"/>
<rect x="93.50" y="643.00" width="9.50" height="24.30" fill="#a3292d"/>
<rect x="102.70" y="643.00" width="9.80" height="24.30" fill="#c8503c"/>
<rect x="112.20" y="643.00" width="12.60" height="24.30" fill="#a3292d"/>
<rect x="124.50" y="643.00" width="13.80" height="24.30" fill="#a3292d"/>
<rect x="138.00" y="643.00" width="9.50" height="24.30" fill="#e59a62"/>
<rect x="147.20" y="643.00" width="10.10" height="24.30" fill="#e59a62"/>
<rect x="157.00" y="643.00" width="14.60" height="24.30" fill="#c8503c"/>
<rect x="171.30" y="643.00" width="12.00" height="24.30" fill="#96bbd5"/>
<rect x="183.00" y="643.00" width="8.60" height="24.30" fill="#e59a62"/>
<rect x="191.30" y="643.00" width="10.00" height="24.30" fill="#c8503c"/>
<rect x="201.00" y="643.00" width="14.50" height="24.30" fill="#96bbd5"/>
<rect x="215.20" y="643.00" width="11.20" height="24.30" fill="#f4e4a4"/>
<rect x="226.10" y="643.00" width="15.10" height="24.30" fill="#e59a62"/>
<rect x="14.00" y="667.00" width="15.20" height="5.30" fill="#96bbd5"/>
<rect x="28.90" y="667.00" width="11.60" height="5.30" fill="#96bbd5"/>
<rect x="40.20" y="667.00" width="12.00" height="5.30" fill="#6289bd"/>
<rect x="51.90" y="667.00" width="11.00" height="5.30" fill="#6289bd"/>
<rect x="62.60" y="667.00" width="11.70" height="5.30" fill="#f4e4a4"/>
<rect x="74.00" y="667.00" width="11.60" height="5.30" fill="#96bbd5"/>
<rect x="85.30" y="667.00" width="8.50" height="5.30" fill="#6289bd"/>
<rect x="93.50" y="667.00" width="9.50" height="5.30" fill="#a3292d"/>
<rect x="102.70" y="667.00" width="9.80" height="5.30" fill="#a3292d"/>
<rect x="112.20" y="667.00" width="12.60" height="5.30" fill="#e59a62"/>
<rect x="124.50" y="667.00" width="13.80" height="5.30" fill="#a3292d"/>
<rect x="138.00" y="667.00" width="9.50" height="5.30" fill="#96bbd5"/>
<rect x="147.20" y="667.00" width="10.10" height="5.30" fill="#c8503c"/>
<rect x="157.00" y="667.00" width="14.60" height="5.30" fill="#e59a62"/>
<rect x="171.30" y="667.00" width="12.00" height="5.30" fill="#6289bd"/>
<rect x="183.00" y="667.00" width="8.60" height="5.30" fill="#96bbd5"/>
<rect x="191.30" y="667.00" width="10.00" height="5.30" fill="#96bbd5"/>
<rect x="201.00" y="667.00" width="14.50" height="5.30" fill="#96bbd5"/>
<rect x="215.20" y="667.00" width="11.20" height="5.30" fill="#e59a62"/>
<rect x="226.10" y="667.00" width="15.10" height="5.30" fill="#a3292d"/>
<rect x="14.00" y="672.00" width="15.20" height="11.30" fill="#96bbd5"/>
<rect x="28.90" y="672.00" width="11.60" height="11.30" fill="#96bbd5"/>
<rect x="40.20" y="672.00" width="12.00" height="11.30" fill="#6289bd"/>
<rect x="51.90" y="672.00" width="11.00" height="11.30" fill="#96bbd5"/>
<rect x="62.60" y="672.00" width="11.70" height="11.30" fill="#f4e4a4"/>
<rect x="74.00" y="672.00" width="11.60" height="11.30" fill="#96bbd5"/>
<rect x="85.30" y="672.00" width="8.50" height="11.30" fill="#96bbd5"/>
<rect x="93.50" y="672.00" width="9.50" height="11.30" fill="#a3292d"/>
<rect x="102.70" y="672.00" width="9.80" height="11.30" fill="#a3292d"/>
<rect x="112.20" y="672.00" width="12.60" height="11.30" fill="#e59a62"/>
<rect x="124.50" y="672.00" width="13.80" height="11.30" fill="#a3292d"/>
<rect x="138.00" y="672.00" width="9.50" height="11.30" fill="#e59a62"/>
<rect x="147.20" y="672.00" width="10.10" height="11.30" fill="#c8503c"/>
<rect x="157.00" y="672.00" width="14.60" height="11.30" fill="#c8503c"/>
<rect x="171.30" y="672.00" width="12.00" height="11.30" fill="#96bbd5"/>
<rect x="183.00" y="672.00" width="8.60" height="11.30" fill="#f4e4a4"/>
<rect x="191.30" y="672.00" width="10.00" height="11.30" fill="#e59a62"/>
<rect x="201.00" y="672.00" width="14.50" height="11.30" fill="#96bbd5"/>
<rect x="215.20" y="672.00" width="11.20" height="11.30" fill="#e59a62"/>
<rect x="226.10" y="672.00" width="15.10" height="11.30" fill="#a3292d"/>
<rect x="14.00" y="683.00" width="15.20" height="13.30" fill="#6289bd"/>
<rect x="28.90" y="683.00" width="11.60" height="13.30" fill="#3e5aa0"/>
<rect x="40.20" y="683.00" width="12.00" height="13.30" fill="#96bbd5"/>
<rect x="51.90" y="683.00" width="11.00" height="13.30" fill="#e59a62"/>
<rect x="62.60" y="683.00" width="11.70" height="13.30" fill="#c8503c"/>
<rect x="74.00" y="683.00" width="11.60" height="13.30" fill="#e59a62"/>
<rect x="85.30" y="683.00" width="8.50" height="13.30" fill="#f4e4a4"/>
<rect x="93.50" y="683.00" width="9.50" height="13.30" fill="#a3292d"/>
<rect x="102.70" y="683.00" width="9.80" height="13.30" fill="#a3292d"/>
<rect x="112.20" y="683.00" width="12.60" height="13.30" fill="#f4e4a4"/>
<rect x="124.50" y="683.00" width="13.80" height="13.30" fill="#e59a62"/>
<rect x="138.00" y="683.00" width="9.50" height="13.30" fill="#c8503c"/>
<rect x="147.20" y="683.00" width="10.10" height="13.30" fill="#a3292d"/>
<rect x="157.00" y="683.00" width="14.60" height="13.30" fill="#a3292d"/>
<rect x="171.30" y="683.00" width="12.00" height="13.30" fill="#6289bd"/>
<rect x="183.00" y="683.00" width="8.60" height="13.30" fill="#96bbd5"/>
<rect x="191.30" y="683.00" width="10.00" height="13.30" fill="#f4e4a4"/>
<rect x="201.00" y="683.00" width="14.50" height="13.30" fill="#6289bd"/>
<rect x="215.20" y="683.00" width="11.20" height="13.30" fill="#96bbd5"/>
<rect x="226.10" y="683.00" width="15.10" height="13.30" fill="#e59a62"/>
<rect x="14.00" y="696.00" width="15.20" height="13.30" fill="#96bbd5"/>
<rect x="28.90" y="696.00" width="11.60" height="13.30" fill="#e59a62"/>
<rect x="40.20" y="696.00" width="12.00" height="13.30" fill="#6289bd"/>
<rect x="51.90" y="696.00" width="11.00" height="13.30" fill="#6289bd"/>
<rect x="62.60" y="696.00" width="11.70" height="13.30" fill="#a3292d"/>
<rect x="74.00" y="696.00" width="11.60" height="13.30" fill="#c8503c"/>
<rect x="85.30" y="696.00" width="8.50" height="13.30" fill="#e59a62"/>
<rect x="93.50" y="696.00" width="9.50" height="13.30" fill="#a3292d"/>
<rect x="102.70" y="696.00" width="9.80" height="13.30" fill="#c8503c"/>
<rect x="112.20" y="696.00" width="12.60" height="13.30" fill="#96bbd5"/>
<rect x="124.50" y="696.00" width="13.80" height="13.30" fill="#c8503c"/>
<rect x="138.00" y="696.00" width="9.50" height="13.30" fill="#96bbd5"/>
<rect x="147.20" y="696.00" width="10.10" height="13.30" fill="#a3292d"/>
<rect x="157.00" y="696.00" width="14.60" height="13.30" fill="#a3292d"/>
<rect x="171.30" y="696.00" width="12.00" height="13.30" fill="#3e5aa0"/>
<rect x="183.00" y="696.00" width="8.60" height="13.30" fill="#6289bd"/>
<rect x="191.30" y="696.00" width="10.00" height="13.30" fill="#6289bd"/>
<rect x="201.00" y="696.00" width="14.50" height="13.30" fill="#6289bd"/>
<rect x="215.20" y="696.00" width="11.20" height="13.30" fill="#6289bd"/>
<rect x="226.10" y="696.00" width="15.10" height="13.30" fill="#c8503c"/>
<rect x="14.00" y="709.00" width="15.20" height="13.80" fill="#6289bd"/>
<rect x="28.90" y="709.00" width="11.60" height="13.80" fill="#96bbd5"/>
<rect x="40.20" y="709.00" width="12.00" height="13.80" fill="#6289bd"/>
<rect x="51.90" y="709.00" width="11.00" height="13.80" fill="#96bbd5"/>
<rect x="62.60" y="709.00" width="11.70" height="13.80" fill="#c8503c"/>
<rect x="74.00" y="709.00" width="11.60" height="13.80" fill="#f4e4a4"/>
<rect x="85.30" y="709.00" width="8.50" height="13.80" fill="#96bbd5"/>
<rect x="93.50" y="709.00" width="9.50" height="13.80" fill="#a3292d"/>
<rect x="102.70" y="709.00" width="9.80" height="13.80" fill="#a3292d"/>
<rect x="112.20" y="709.00" width="12.60" height="13.80" fill="#96bbd5"/>
<rect x="124.50" y="709.00" width="13.80" height="13.80" fill="#a3292d"/>
<rect x="138.00" y="709.00" width="9.50" height="13.80" fill="#96bbd5"/>
<rect x="147.20" y="709.00" width="10.10" height="13.80" fill="#a3292d"/>
<rect x="157.00" y="709.00" width="14.60" height="13.80" fill="#c8503c"/>
<rect x="171.30" y="709.00" width="12.00" height="13.80" fill="#6289bd"/>
<rect x="183.00" y="709.00" width="8.60" height="13.80" fill="#96bbd5"/>
<rect x="191.30" y="709.00" width="10.00" height="13.80" fill="#96bbd5"/>
<rect x="201.00" y="709.00" width="14.50" height="13.80" fill="#96bbd5"/>
<rect x="215.20" y="709.00" width="11.20" height="13.80" fill="#96bbd5"/>
<rect x="226.10" y="709.00" width="15.10" height="13.80" fill="#c8503c"/>
</g>
<defs><filter id="blurT"><feGaussianBlur stdDeviation="0.5"/></filter></defs>
<g filter="url(#blurT)"><rect x="18.0" y="347.0" width="2.2" height="371.5" fill="#123" opacity="0.10"/><rect x="20.2" y="347.0" width="2.9" height="371.5" fill="#123" opacity="0.12"/><rect x="23.1" y="347.0" width="1.1" height="371.5" fill="#fff" opacity="0.12"/><rect x="24.2" y="347.0" width="2.3" height="371.5" fill="#123" opacity="0.01"/><rect x="26.5" y="347.0" width="1.9" height="371.5" fill="#fff" opacity="0.07"/><rect x="28.4" y="347.0" width="2.1" height="371.5" fill="#fff" opacity="0.03"/><rect x="30.6" y="347.0" width="1.6" height="371.5" fill="#123" opacity="0.10"/><rect x="32.1" y="347.0" width="1.3" height="371.5" fill="#123" opacity="0.02"/><rect x="33.5" y="347.0" width="2.2" height="371.5" fill="#fff" opacity="0.00"/><rect x="35.7" y="347.0" width="2.7" height="371.5" fill="#fff" opacity="0.03"/><rect x="38.4" y="347.0" width="3.0" height="371.5" fill="#123" opacity="0.04"/><rect x="41.4" y="347.0" width="2.9" height="371.5" fill="#fff" opacity="0.09"/><rect x="44.3" y="347.0" width="1.4" height="371.5" fill="#123" opacity="0.09"/><rect x="45.7" y="347.0" width="2.9" height="371.5" fill="#123" opacity="0.04"/><rect x="48.7" y="347.0" width="1.7" height="371.5" fill="#fff" opacity="0.02"/><rect x="50.4" y="347.0" width="1.1" height="371.5" fill="#fff" opacity="0.08"/><rect x="51.5" y="347.0" width="1.0" height="371.5" fill="#123" opacity="0.04"/><rect x="52.5" y="347.0" width="1.6" height="371.5" fill="#123" opacity="0.06"/><rect x="54.1" y="347.0" width="1.6" height="371.5" fill="#fff" opacity="0.09"/><rect x="55.8" y="347.0" width="1.1" height="371.5" fill="#123" opacity="0.00"/><rect x="56.9" y="347.0" width="2.5" height="371.5" fill="#123" opacity="0.00"/><rect x="59.4" y="347.0" width="2.6" height="371.5" fill="#fff" opacity="0.08"/><rect x="62.0" y="347.0" width="1.0" height="371.5" fill="#fff" opacity="0.02"/><rect x="63.0" y="347.0" width="2.9" height="371.5" fill="#fff" opacity="0.10"/><rect x="65.9" y="347.0" width="2.9" height="371.5" fill="#123" opacity="0.04"/><rect x="68.7" y="347.0" width="1.7" height="371.5" fill="#fff" opacity="0.10"/><rect x="70.5" y="347.0" width="1.2" height="371.5" fill="#123" opacity="0.10"/><rect x="71.7" y="347.0" width="2.7" height="371.5" fill="#fff" opacity="0.12"/><rect x="74.4" y="347.0" width="1.2" height="371.5" fill="#fff" opacity="0.08"/><rect x="75.6" y="347.0" width="2.8" height="371.5" fill="#fff" opacity="0.12"/><rect x="78.4" y="347.0" width="2.1" height="371.5" fill="#fff" opacity="0.04"/><rect x="80.5" y="347.0" width="1.4" height="371.5" fill="#fff" opacity="0.02"/><rect x="81.9" y="347.0" width="2.4" height="371.5" fill="#123" opacity="0.02"/><rect x="84.2" y="347.0" width="1.1" height="371.5" fill="#123" opacity="0.07"/><rect x="85.3" y="347.0" width="1.8" height="371.5" fill="#fff" opacity="0.08"/><rect x="87.1" y="347.0" width="2.7" height="371.5" fill="#fff" opacity="0.05"/><rect x="89.8" y="347.0" width="1.1" height="371.5" fill="#123" opacity="0.00"/><rect x="90.9" y="347.0" width="2.0" height="371.5" fill="#123" opacity="0.02"/><rect x="92.9" y="347.0" width="2.5" height="371.5" fill="#123" opacity="0.08"/><rect x="95.4" y="347.0" width="2.6" height="371.5" fill="#fff" opacity="0.06"/><rect x="97.9" y="347.0" width="1.3" height="371.5" fill="#123" opacity="0.04"/><rect x="99.2" y="347.0" width="1.9" height="371.5" fill="#123" opacity="0.11"/><rect x="101.1" y="347.0" width="3.0" height="371.5" fill="#fff" opacity="0.06"/><rect x="104.1" y="347.0" width="2.5" height="371.5" fill="#fff" opacity="0.04"/><rect x="106.5" y="347.0" width="1.8" height="371.5" fill="#fff" opacity="0.05"/><rect x="108.4" y="347.0" width="3.0" height="371.5" fill="#123" opacity="0.08"/><rect x="111.3" y="347.0" width="2.0" height="371.5" fill="#fff" opacity="0.01"/><rect x="113.3" y="347.0" width="1.5" height="371.5" fill="#123" opacity="0.11"/><rect x="114.9" y="347.0" width="1.7" height="371.5" fill="#123" opacity="0.10"/><rect x="116.6" y="347.0" width="2.4" height="371.5" fill="#123" opacity="0.10"/><rect x="119.0" y="347.0" width="1.7" height="371.5" fill="#123" opacity="0.04"/><rect x="120.7" y="347.0" width="2.0" height="371.5" fill="#123" opacity="0.09"/><rect x="122.7" y="347.0" width="1.6" height="371.5" fill="#123" opacity="0.08"/><rect x="124.3" y="347.0" width="2.2" height="371.5" fill="#fff" opacity="0.07"/><rect x="126.4" y="347.0" width="1.5" height="371.5" fill="#123" opacity="0.06"/><rect x="127.9" y="347.0" width="2.6" height="371.5" fill="#123" opacity="0.10"/><rect x="130.6" y="347.0" width="1.7" height="371.5" fill="#123" opacity="0.10"/><rect x="132.3" y="347.0" width="2.7" height="371.5" fill="#fff" opacity="0.11"/><rect x="134.9" y="347.0" width="2.7" height="371.5" fill="#123" opacity="0.13"/><rect x="137.7" y="347.0" width="2.9" height="371.5" fill="#fff" opacity="0.07"/><rect x="140.6" y="347.0" width="1.3" height="371.5" fill="#123" opacity="0.12"/><rect x="141.9" y="347.0" width="2.0" height="371.5" fill="#123" opacity="0.09"/><rect x="143.9" y="347.0" width="2.5" height="371.5" fill="#fff" opacity="0.10"/><rect x="146.3" y="347.0" width="2.2" height="371.5" fill="#123" opacity="0.05"/><rect x="148.5" y="347.0" width="2.2" height="371.5" fill="#123" opacity="0.08"/><rect x="150.7" y="347.0" width="2.4" height="371.5" fill="#fff" opacity="0.02"/><rect x="153.2" y="347.0" width="1.9" height="371.5" fill="#123" opacity="0.03"/><rect x="155.1" y="347.0" width="2.4" height="371.5" fill="#123" opacity="0.01"/><rect x="157.4" y="347.0" width="1.9" height="371.5" fill="#fff" opacity="0.01"/><rect x="159.4" y="347.0" width="1.3" height="371.5" fill="#fff" opacity="0.02"/><rect x="160.6" y="347.0" width="1.4" height="371.5" fill="#fff" opacity="0.06"/><rect x="162.0" y="347.0" width="1.8" height="371.5" fill="#123" opacity="0.08"/><rect x="163.8" y="347.0" width="1.5" height="371.5" fill="#123" opacity="0.00"/><rect x="165.3" y="347.0" width="1.8" height="371.5" fill="#fff" opacity="0.05"/><rect x="167.1" y="347.0" width="1.2" height="371.5" fill="#123" opacity="0.05"/><rect x="168.3" y="347.0" width="1.1" height="371.5" fill="#123" opacity="0.01"/><rect x="169.4" y="347.0" width="2.1" height="371.5" fill="#fff" opacity="0.08"/><rect x="171.5" y="347.0" width="2.9" height="371.5" fill="#123" opacity="0.05"/><rect x="174.4" y="347.0" width="2.6" height="371.5" fill="#123" opacity="0.05"/><rect x="177.0" y="347.0" width="1.3" height="371.5" fill="#123" opacity="0.07"/><rect x="178.3" y="347.0" width="2.9" height="371.5" fill="#123" opacity="0.08"/><rect x="181.2" y="347.0" width="1.7" height="371.5" fill="#123" opacity="0.00"/><rect x="182.9" y="347.0" width="1.2" height="371.5" fill="#123" opacity="0.08"/><rect x="184.1" y="347.0" width="1.3" height="371.5" fill="#123" opacity="0.12"/><rect x="185.4" y="347.0" width="1.8" height="371.5" fill="#fff" opacity="0.03"/><rect x="187.2" y="347.0" width="1.6" height="371.5" fill="#123" opacity="0.05"/><rect x="188.7" y="347.0" width="2.9" height="371.5" fill="#123" opacity="0.08"/><rect x="191.7" y="347.0" width="1.5" height="371.5" fill="#123" opacity="0.06"/><rect x="193.2" y="347.0" width="1.8" height="371.5" fill="#fff" opacity="0.13"/><rect x="195.0" y="347.0" width="2.0" height="371.5" fill="#fff" opacity="0.06"/><rect x="197.0" y="347.0" width="1.2" height="371.5" fill="#123" opacity="0.06"/><rect x="198.2" y="347.0" width="1.6" height="371.5" fill="#123" opacity="0.11"/><rect x="199.8" y="347.0" width="1.0" height="371.5" fill="#fff" opacity="0.04"/><rect x="200.9" y="347.0" width="2.9" height="371.5" fill="#123" opacity="0.03"/><rect x="203.7" y="347.0" width="1.5" height="371.5" fill="#fff" opacity="0.13"/><rect x="205.3" y="347.0" width="1.6" height="371.5" fill="#123" opacity="0.06"/><rect x="206.8" y="347.0" width="2.3" height="371.5" fill="#123" opacity="0.10"/><rect x="209.1" y="347.0" width="1.2" height="371.5" fill="#123" opacity="0.04"/><rect x="210.4" y="347.0" width="2.1" height="371.5" fill="#fff" opacity="0.04"/><rect x="212.4" y="347.0" width="2.1" height="371.5" fill="#fff" opacity="0.05"/><rect x="214.5" y="347.0" width="2.5" height="371.5" fill="#123" opacity="0.00"/><rect x="217.0" y="347.0" width="1.5" height="371.5" fill="#fff" opacity="0.12"/><rect x="218.5" y="347.0" width="2.8" height="371.5" fill="#fff" opacity="0.00"/><rect x="221.3" y="347.0" width="2.6" height="371.5" fill="#fff" opacity="0.07"/><rect x="223.8" y="347.0" width="2.4" height="371.5" fill="#123" opacity="0.06"/><rect x="226.2" y="347.0" width="2.8" height="371.5" fill="#fff" opacity="0.05"/><rect x="229.1" y="347.0" width="2.7" height="371.5" fill="#fff" opacity="0.04"/><rect x="231.8" y="347.0" width="2.7" height="371.5" fill="#fff" opacity="0.11"/><rect x="234.4" y="347.0" width="2.4" height="371.5" fill="#fff" opacity="0.04"/><rect x="236.8" y="347.0" width="2.6" height="371.5" fill="#123" opacity="0.02"/><rect x="18.0" y="347.0" width="219.2" height="2.0" fill="#fff" opacity="0.05"/><rect x="18.0" y="349.0" width="219.2" height="1.7" fill="#fff" opacity="0.06"/><rect x="18.0" y="350.6" width="219.2" height="2.6" fill="#fff" opacity="0.02"/><rect x="18.0" y="353.2" width="219.2" height="2.6" fill="#123" opacity="0.07"/><rect x="18.0" y="355.9" width="219.2" height="1.1" fill="#123" opacity="0.10"/><rect x="18.0" y="356.9" width="219.2" height="3.0" fill="#123" opacity="0.00"/><rect x="18.0" y="359.9" width="219.2" height="2.7" fill="#fff" opacity="0.06"/><rect x="18.0" y="362.6" width="219.2" height="2.9" fill="#123" opacity="0.01"/><rect x="18.0" y="365.5" width="219.2" height="1.6" fill="#123" opacity="0.01"/><rect x="18.0" y="367.1" width="219.2" height="2.2" fill="#fff" opacity="0.02"/><rect x="18.0" y="369.3" width="219.2" height="2.2" fill="#fff" opacity="0.01"/><rect x="18.0" y="371.6" width="219.2" height="1.8" fill="#fff" opacity="0.01"/><rect x="18.0" y="373.3" width="219.2" height="2.2" fill="#123" opacity="0.09"/><rect x="18.0" y="375.5" width="219.2" height="1.3" fill="#fff" opacity="0.03"/><rect x="18.0" y="376.7" width="219.2" height="2.2" fill="#fff" opacity="0.09"/><rect x="18.0" y="378.9" width="219.2" height="1.7" fill="#fff" opacity="0.07"/><rect x="18.0" y="380.7" width="219.2" height="1.3" fill="#123" opacity="0.05"/><rect x="18.0" y="382.0" width="219.2" height="2.8" fill="#123" opacity="0.06"/><rect x="18.0" y="384.8" width="219.2" height="1.5" fill="#123" opacity="0.03"/><rect x="18.0" y="386.3" width="219.2" height="2.5" fill="#fff" opacity="0.01"/><rect x="18.0" y="388.8" width="219.2" height="1.5" fill="#fff" opacity="0.07"/><rect x="18.0" y="390.3" width="219.2" height="1.4" fill="#123" opacity="0.07"/><rect x="18.0" y="391.7" width="219.2" height="1.2" fill="#123" opacity="0.01"/><rect x="18.0" y="392.8" width="219.2" height="1.2" fill="#123" opacity="0.02"/><rect x="18.0" y="394.1" width="219.2" height="2.8" fill="#fff" opacity="0.03"/><rect x="18.0" y="396.8" width="219.2" height="2.6" fill="#fff" opacity="0.07"/><rect x="18.0" y="399.4" width="219.2" height="1.1" fill="#fff" opacity="0.10"/><rect x="18.0" y="400.5" width="219.2" height="2.4" fill="#fff" opacity="0.01"/><rect x="18.0" y="402.9" width="219.2" height="2.9" fill="#123" opacity="0.08"/><rect x="18.0" y="405.9" width="219.2" height="1.3" fill="#123" opacity="0.04"/><rect x="18.0" y="407.1" width="219.2" height="1.5" fill="#fff" opacity="0.06"/><rect x="18.0" y="408.6" width="219.2" height="1.7" fill="#fff" opacity="0.01"/><rect x="18.0" y="410.3" width="219.2" height="2.7" fill="#123" opacity="0.08"/><rect x="18.0" y="413.0" width="219.2" height="1.9" fill="#123" opacity="0.05"/><rect x="18.0" y="414.8" width="219.2" height="2.2" fill="#123" opacity="0.07"/><rect x="18.0" y="417.0" width="219.2" height="1.8" fill="#fff" opacity="0.00"/><rect x="18.0" y="418.8" width="219.2" height="1.4" fill="#fff" opacity="0.09"/><rect x="18.0" y="420.2" width="219.2" height="2.0" fill="#123" opacity="0.00"/><rect x="18.0" y="422.2" width="219.2" height="1.9" fill="#123" opacity="0.06"/><rect x="18.0" y="424.1" width="219.2" height="1.9" fill="#fff" opacity="0.01"/><rect x="18.0" y="426.0" width="219.2" height="1.3" fill="#fff" opacity="0.04"/><rect x="18.0" y="427.3" width="219.2" height="1.8" fill="#123" opacity="0.02"/><rect x="18.0" y="429.1" width="219.2" height="1.5" fill="#fff" opacity="0.02"/><rect x="18.0" y="430.6" width="219.2" height="1.6" fill="#fff" opacity="0.05"/><rect x="18.0" y="432.1" width="219.2" height="1.1" fill="#123" opacity="0.04"/><rect x="18.0" y="433.2" width="219.2" height="2.9" fill="#123" opacity="0.07"/><rect x="18.0" y="436.1" width="219.2" height="1.9" fill="#123" opacity="0.01"/><rect x="18.0" y="438.0" width="219.2" height="2.3" fill="#fff" opacity="0.07"/><rect x="18.0" y="440.4" width="219.2" height="2.5" fill="#fff" opacity="0.02"/><rect x="18.0" y="442.8" width="219.2" height="1.0" fill="#fff" opacity="0.01"/><rect x="18.0" y="443.9" width="219.2" height="1.8" fill="#123" opacity="0.04"/><rect x="18.0" y="445.7" width="219.2" height="1.6" fill="#fff" opacity="0.03"/><rect x="18.0" y="447.3" width="219.2" height="2.5" fill="#123" opacity="0.02"/><rect x="18.0" y="449.8" width="219.2" height="1.5" fill="#123" opacity="0.09"/><rect x="18.0" y="451.2" width="219.2" height="2.3" fill="#fff" opacity="0.10"/><rect x="18.0" y="453.5" width="219.2" height="1.0" fill="#fff" opacity="0.08"/><rect x="18.0" y="454.5" width="219.2" height="1.8" fill="#fff" opacity="0.05"/><rect x="18.0" y="456.4" width="219.2" height="3.0" fill="#fff" opacity="0.04"/><rect x="18.0" y="459.3" width="219.2" height="1.2" fill="#fff" opacity="0.09"/><rect x="18.0" y="460.5" width="219.2" height="2.0" fill="#123" opacity="0.01"/><rect x="18.0" y="462.5" width="219.2" height="1.5" fill="#fff" opacity="0.04"/><rect x="18.0" y="464.0" width="219.2" height="1.1" fill="#fff" opacity="0.04"/><rect x="18.0" y="465.1" width="219.2" height="1.6" fill="#fff" opacity="0.00"/><rect x="18.0" y="466.7" width="219.2" height="2.9" fill="#fff" opacity="0.05"/><rect x="18.0" y="469.7" width="219.2" height="1.8" fill="#fff" opacity="0.01"/><rect x="18.0" y="471.5" width="219.2" height="1.6" fill="#fff" opacity="0.05"/><rect x="18.0" y="473.1" width="219.2" height="2.8" fill="#123" opacity="0.09"/><rect x="18.0" y="475.9" width="219.2" height="1.4" fill="#fff" opacity="0.05"/><rect x="18.0" y="477.4" width="219.2" height="2.0" fill="#123" opacity="0.04"/><rect x="18.0" y="479.3" width="219.2" height="2.3" fill="#123" opacity="0.09"/><rect x="18.0" y="481.6" width="219.2" height="1.6" fill="#fff" opacity="0.08"/><rect x="18.0" y="483.2" width="219.2" height="1.4" fill="#fff" opacity="0.03"/><rect x="18.0" y="484.7" width="219.2" height="1.2" fill="#123" opacity="0.08"/><rect x="18.0" y="485.8" width="219.2" height="1.6" fill="#fff" opacity="0.01"/><rect x="18.0" y="487.5" width="219.2" height="1.5" fill="#fff" opacity="0.04"/><rect x="18.0" y="489.0" width="219.2" height="2.2" fill="#fff" opacity="0.01"/><rect x="18.0" y="491.1" width="219.2" height="2.4" fill="#fff" opacity="0.02"/><rect x="18.0" y="493.5" width="219.2" height="1.6" fill="#fff" opacity="0.01"/><rect x="18.0" y="495.1" width="219.2" height="1.8" fill="#fff" opacity="0.08"/><rect x="18.0" y="496.9" width="219.2" height="2.1" fill="#123" opacity="0.07"/><rect x="18.0" y="499.0" width="219.2" height="2.5" fill="#123" opacity="0.04"/><rect x="18.0" y="501.6" width="219.2" height="2.6" fill="#123" opacity="0.10"/><rect x="18.0" y="504.2" width="219.2" height="2.5" fill="#123" opacity="0.03"/><rect x="18.0" y="506.6" width="219.2" height="2.6" fill="#fff" opacity="0.01"/><rect x="18.0" y="509.3" width="219.2" height="1.1" fill="#fff" opacity="0.03"/><rect x="18.0" y="510.4" width="219.2" height="2.4" fill="#fff" opacity="0.01"/><rect x="18.0" y="512.7" width="219.2" height="2.5" fill="#123" opacity="0.00"/><rect x="18.0" y="515.3" width="219.2" height="1.1" fill="#fff" opacity="0.04"/><rect x="18.0" y="516.4" width="219.2" height="2.7" fill="#123" opacity="0.06"/><rect x="18.0" y="519.1" width="219.2" height="1.5" fill="#fff" opacity="0.04"/><rect x="18.0" y="520.6" width="219.2" height="1.7" fill="#fff" opacity="0.06"/><rect x="18.0" y="522.2" width="219.2" height="2.7" fill="#123" opacity="0.01"/><rect x="18.0" y="524.9" width="219.2" height="2.1" fill="#fff" opacity="0.07"/><rect x="18.0" y="526.9" width="219.2" height="1.9" fill="#123" opacity="0.08"/><rect x="18.0" y="528.8" width="219.2" height="1.2" fill="#fff" opacity="0.09"/><rect x="18.0" y="530.1" width="219.2" height="1.9" fill="#fff" opacity="0.04"/><rect x="18.0" y="532.0" width="219.2" height="2.5" fill="#123" opacity="0.05"/><rect x="18.0" y="534.5" width="219.2" height="2.9" fill="#123" opacity="0.01"/><rect x="18.0" y="537.5" width="219.2" height="2.6" fill="#fff" opacity="0.01"/><rect x="18.0" y="540.1" width="219.2" height="3.0" fill="#fff" opacity="0.06"/><rect x="18.0" y="543.0" width="219.2" height="2.0" fill="#123" opacity="0.04"/><rect x="18.0" y="545.0" width="219.2" height="1.4" fill="#fff" opacity="0.02"/><rect x="18.0" y="546.4" width="219.2" height="2.1" fill="#fff" opacity="0.08"/><rect x="18.0" y="548.6" width="219.2" height="1.5" fill="#fff" opacity="0.02"/><rect x="18.0" y="550.0" width="219.2" height="3.0" fill="#123" opacity="0.08"/><rect x="18.0" y="553.0" width="219.2" height="2.2" fill="#fff" opacity="0.01"/><rect x="18.0" y="555.2" width="219.2" height="2.7" fill="#fff" opacity="0.00"/><rect x="18.0" y="557.9" width="219.2" height="1.3" fill="#fff" opacity="0.07"/><rect x="18.0" y="559.3" width="219.2" height="2.8" fill="#fff" opacity="0.08"/><rect x="18.0" y="562.1" width="219.2" height="1.6" fill="#123" opacity="0.09"/><rect x="18.0" y="563.7" width="219.2" height="2.2" fill="#123" opacity="0.04"/><rect x="18.0" y="565.9" width="219.2" height="1.0" fill="#fff" opacity="0.06"/><rect x="18.0" y="567.0" width="219.2" height="1.4" fill="#fff" opacity="0.03"/><rect x="18.0" y="568.3" width="219.2" height="1.1" fill="#fff" opacity="0.04"/><rect x="18.0" y="569.4" width="219.2" height="2.0" fill="#123" opacity="0.04"/><rect x="18.0" y="571.3" width="219.2" height="3.0" fill="#123" opacity="0.09"/><rect x="18.0" y="574.3" width="219.2" height="2.4" fill="#123" opacity="0.05"/><rect x="18.0" y="576.7" width="219.2" height="2.6" fill="#fff" opacity="0.06"/><rect x="18.0" y="579.3" width="219.2" height="2.4" fill="#fff" opacity="0.03"/><rect x="18.0" y="581.6" width="219.2" height="1.2" fill="#fff" opacity="0.04"/><rect x="18.0" y="582.8" width="219.2" height="2.2" fill="#123" opacity="0.07"/><rect x="18.0" y="585.0" width="219.2" height="1.6" fill="#123" opacity="0.03"/><rect x="18.0" y="586.6" width="219.2" height="2.4" fill="#fff" opacity="0.08"/><rect x="18.0" y="589.0" width="219.2" height="2.3" fill="#123" opacity="0.09"/><rect x="18.0" y="591.4" width="219.2" height="2.4" fill="#123" opacity="0.07"/><rect x="18.0" y="593.7" width="219.2" height="2.2" fill="#fff" opacity="0.05"/><rect x="18.0" y="595.9" width="219.2" height="2.8" fill="#fff" opacity="0.10"/><rect x="18.0" y="598.7" width="219.2" height="2.1" fill="#fff" opacity="0.00"/><rect x="18.0" y="600.8" width="219.2" height="1.8" fill="#fff" opacity="0.07"/><rect x="18.0" y="602.6" width="219.2" height="2.8" fill="#123" opacity="0.06"/><rect x="18.0" y="605.4" width="219.2" height="1.8" fill="#fff" opacity="0.07"/><rect x="18.0" y="607.2" width="219.2" height="2.1" fill="#123" opacity="0.04"/><rect x="18.0" y="609.3" width="219.2" height="2.8" fill="#fff" opacity="0.03"/><rect x="18.0" y="612.1" width="219.2" height="1.5" fill="#123" opacity="0.09"/><rect x="18.0" y="613.6" width="219.2" height="1.3" fill="#123" opacity="0.08"/><rect x="18.0" y="614.9" width="219.2" height="1.4" fill="#fff" opacity="0.06"/><rect x="18.0" y="616.4" width="219.2" height="2.7" fill="#123" opacity="0.07"/><rect x="18.0" y="619.0" width="219.2" height="1.8" fill="#fff" opacity="0.05"/><rect x="18.0" y="620.9" width="219.2" height="2.8" fill="#fff" opacity="0.03"/><rect x="18.0" y="623.7" width="219.2" height="2.2" fill="#123" opacity="0.02"/><rect x="18.0" y="625.9" width="219.2" height="1.1" fill="#fff" opacity="0.06"/><rect x="18.0" y="627.0" width="219.2" height="2.2" fill="#fff" opacity="0.02"/><rect x="18.0" y="629.2" width="219.2" height="2.2" fill="#123" opacity="0.07"/><rect x="18.0" y="631.4" width="219.2" height="2.5" fill="#fff" opacity="0.05"/><rect x="18.0" y="633.8" width="219.2" height="2.7" fill="#123" opacity="0.03"/><rect x="18.0" y="636.5" width="219.2" height="2.7" fill="#123" opacity="0.09"/><rect x="18.0" y="639.2" width="219.2" height="1.5" fill="#123" opacity="0.08"/><rect x="18.0" y="640.6" width="219.2" height="2.0" fill="#fff" opacity="0.02"/><rect x="18.0" y="642.6" width="219.2" height="1.3" fill="#fff" opacity="0.02"/><rect x="18.0" y="643.9" width="219.2" height="2.2" fill="#fff" opacity="0.08"/><rect x="18.0" y="646.1" width="219.2" height="2.5" fill="#123" opacity="0.08"/><rect x="18.0" y="648.6" width="219.2" height="2.4" fill="#123" opacity="0.10"/><rect x="18.0" y="651.0" width="219.2" height="2.3" fill="#123" opacity="0.01"/><rect x="18.0" y="653.3" width="219.2" height="1.2" fill="#fff" opacity="0.02"/><rect x="18.0" y="654.5" width="219.2" height="1.7" fill="#fff" opacity="0.07"/><rect x="18.0" y="656.2" width="219.2" height="2.5" fill="#fff" opacity="0.04"/><rect x="18.0" y="658.7" width="219.2" height="2.1" fill="#fff" opacity="0.01"/><rect x="18.0" y="660.8" width="219.2" height="2.2" fill="#fff" opacity="0.07"/><rect x="18.0" y="663.0" width="219.2" height="2.0" fill="#123" opacity="0.09"/><rect x="18.0" y="665.0" width="219.2" height="1.1" fill="#123" opacity="0.07"/><rect x="18.0" y="666.1" width="219.2" height="1.6" fill="#fff" opacity="0.05"/><rect x="18.0" y="667.7" width="219.2" height="1.7" fill="#123" opacity="0.09"/><rect x="18.0" y="669.4" width="219.2" height="1.8" fill="#fff" opacity="0.05"/><rect x="18.0" y="671.2" width="219.2" height="2.4" fill="#123" opacity="0.06"/><rect x="18.0" y="673.6" width="219.2" height="1.6" fill="#fff" opacity="0.08"/><rect x="18.0" y="675.2" width="219.2" height="2.0" fill="#fff" opacity="0.04"/><rect x="18.0" y="677.2" width="219.2" height="1.5" fill="#123" opacity="0.01"/><rect x="18.0" y="678.7" width="219.2" height="1.5" fill="#fff" opacity="0.05"/><rect x="18.0" y="680.2" width="219.2" height="3.0" fill="#fff" opacity="0.04"/><rect x="18.0" y="683.2" width="219.2" height="2.9" fill="#fff" opacity="0.04"/><rect x="18.0" y="686.1" width="219.2" height="2.6" fill="#fff" opacity="0.08"/><rect x="18.0" y="688.7" width="219.2" height="1.7" fill="#fff" opacity="0.03"/><rect x="18.0" y="690.4" width="219.2" height="1.9" fill="#fff" opacity="0.05"/><rect x="18.0" y="692.3" width="219.2" height="1.1" fill="#fff" opacity="0.10"/><rect x="18.0" y="693.5" width="219.2" height="1.9" fill="#fff" opacity="0.01"/><rect x="18.0" y="695.3" width="219.2" height="1.6" fill="#123" opacity="0.07"/><rect x="18.0" y="696.9" width="219.2" height="2.0" fill="#fff" opacity="0.04"/><rect x="18.0" y="698.9" width="219.2" height="2.6" fill="#fff" opacity="0.06"/><rect x="18.0" y="701.5" width="219.2" height="2.8" fill="#123" opacity="0.06"/><rect x="18.0" y="704.3" width="219.2" height="1.1" fill="#fff" opacity="0.08"/><rect x="18.0" y="705.3" width="219.2" height="1.8" fill="#123" opacity="0.08"/><rect x="18.0" y="707.2" width="219.2" height="2.8" fill="#fff" opacity="0.10"/><rect x="18.0" y="710.0" width="219.2" height="2.5" fill="#123" opacity="0.01"/><rect x="18.0" y="712.5" width="219.2" height="2.6" fill="#fff" opacity="0.10"/><rect x="18.0" y="715.1" width="219.2" height="3.0" fill="#fff" opacity="0.04"/><rect x="18.0" y="718.1" width="219.2" height="1.5" fill="#fff" opacity="0.03"/></g>
</g>
<path d="M17.00 354.14H16.20V357.00H17.00M17.00 351.29H15.45V355.57H16.20M17.00 359.86H16.35V362.72H17.00M15.45 353.43H14.74V361.29H16.35M17.00 348.43H14.17V357.36H14.74M17.00 365.57H16.31V368.43H17.00M17.00 374.15H16.47V377.01H17.00M17.00 379.86H16.47V382.72H17.00M16.47 375.58H15.95V381.29H16.47M17.00 371.29H14.67V378.43H15.95M16.31 367.00H13.43V374.86H14.67M14.17 352.89H11.66V370.93H13.43M17.00 394.15H16.35V397.01H17.00M17.00 391.29H15.82V395.58H16.35M17.00 388.44H14.69V393.44H15.82M17.00 385.58H13.88V390.94H14.69M17.00 402.73H16.52V405.58H17.00M17.00 408.44H16.15V411.30H17.00M16.52 404.15H15.35V409.87H16.15M17.00 399.87H14.40V407.01H15.35M13.88 388.26H12.86V403.44H14.40M11.66 361.91H9.99V395.85H12.86M17.00 419.87H16.18V422.73H17.00M17.00 417.01H15.58V421.30H16.18M17.00 414.16H14.56V419.16H15.58M17.00 428.44H16.13V431.30H17.00M17.00 425.59H15.15V429.87H16.13M17.00 437.02H16.31V439.88H17.00M17.00 434.16H15.43V438.45H16.31M17.00 442.73H16.53V445.59H17.00M15.43 436.30H14.54V444.16H16.53M17.00 451.31H16.20V454.16H17.00M17.00 448.45H15.62V452.73H16.20M14.54 440.23H13.06V450.59H15.62M15.15 427.73H11.40V445.41H13.06M14.56 416.66H10.10V436.57H11.40M9.99 378.88H8.15V426.61H10.10M17.00 462.74H16.12V465.59H17.00M17.00 468.45H16.35V471.31H17.00M16.12 464.17H15.29V469.88H16.35M17.00 459.88H14.35V467.02H15.29M17.00 457.02H13.18V463.45H14.35M17.00 474.17H16.30V477.02H17.00M17.00 482.74H16.29V485.60H17.00M17.00 479.88H15.73V484.17H16.29M17.00 491.31H16.50V494.17H17.00M17.00 488.46H15.84V492.74H16.50M15.73 482.03H14.41V490.60H15.84M16.30 475.60H13.47V486.31H14.41M13.18 460.24H11.69V480.95H13.47M17.00 502.74H16.53V505.60H17.00M17.00 499.89H16.03V504.17H16.53M17.00 497.03H15.00V502.03H16.03M11.69 470.60H9.78V499.53H15.00M17.00 511.32H16.16V514.17H17.00M17.00 508.46H15.15V512.75H16.16M17.00 519.89H16.39V522.75H17.00M17.00 517.03H15.36V521.32H16.39M15.15 510.60H13.80V519.18H15.36M17.00 525.61H16.17V528.46H17.00M17.00 531.32H16.35V534.18H17.00M16.17 527.03H15.42V532.75H16.35M13.80 514.89H12.88V529.89H15.42M17.00 537.04H16.55V539.89H17.00M17.00 545.61H16.36V548.47H17.00M17.00 542.75H15.41V547.04H16.36M17.00 551.33H16.56V554.18H17.00M15.41 544.90H14.69V552.75H16.56M17.00 559.90H16.45V562.76H17.00M17.00 557.04H15.74V561.33H16.45M14.69 548.82H13.91V559.18H15.74M16.55 538.47H13.17V554.00H13.91M17.00 565.61H16.16V568.47H17.00M17.00 574.19H16.12V577.04H17.00M17.00 571.33H15.23V575.62H16.12M16.16 567.04H14.34V573.47H15.23M13.17 546.23H12.08V570.26H14.34M12.88 522.39H9.57V558.25H12.08M9.78 485.06H7.28V540.32H9.57M17.00 585.62H16.21V588.48H17.00M17.00 582.76H15.24V587.05H16.21M17.00 591.33H16.30V594.19H17.00M15.24 584.90H14.39V592.76H16.30M17.00 579.90H13.36V588.83H14.39M17.00 599.91H16.45V602.76H17.00M17.00 597.05H15.55V601.33H16.45M17.00 608.48H16.58V611.34H17.00M17.00 605.62H15.72V609.91H16.58M15.55 599.19H14.21V607.76H15.72M17.00 614.19H16.30V617.05H17.00M17.00 622.77H16.31V625.62H17.00M17.00 619.91H15.70V624.20H16.31M17.00 628.48H16.39V631.34H17.00M15.70 622.05H14.45V629.91H16.39M17.00 634.20H16.52V637.06H17.00M17.00 639.91H16.54V642.77H17.00M16.52 635.63H15.96V641.34H16.54M14.45 625.98H13.79V638.48H15.96M16.30 615.62H12.61V632.23H13.79M14.21 603.48H11.61V623.93H12.61M17.00 645.63H16.52V648.49H17.00M17.00 654.20H16.33V657.06H17.00M17.00 651.34H15.68V655.63H16.33M16.52 647.06H14.78V653.49H15.68M17.00 662.77H16.48V665.63H17.00M17.00 659.92H15.92V664.20H16.48M14.78 650.27H13.99V662.06H15.92M11.61 613.70H10.06V656.17H13.99M13.36 584.37H7.74V634.93H10.06M17.00 668.49H16.25V671.35H17.00M17.00 677.06H16.21V679.92H17.00M17.00 674.21H15.75V678.49H16.21M17.00 682.78H16.37V685.64H17.00M15.75 676.35H15.16V684.21H16.37M17.00 688.49H16.22V691.35H17.00M15.16 680.28H14.42V689.92H16.22M16.25 669.92H13.07V685.10H14.42M17.00 697.07H16.26V699.92H17.00M17.00 694.21H15.61V698.50H16.26M17.00 705.64H16.44V708.50H17.00M17.00 714.21H16.16V717.07H17.00M17.00 711.36H15.53V715.64H16.16M16.44 707.07H14.62V713.50H15.53M17.00 702.78H13.61V710.28H14.62M15.61 696.35H12.03V706.53H13.61M13.07 677.51H11.07V701.44H12.03M7.74 609.65H6.20V689.48H11.07M7.28 512.69H6.20V649.56H6.20M8.15 402.75H6.20V581.13H6.20" stroke="#777" stroke-width="0.4" fill="none"/>
<rect x="16.6" y="347" width="1.4" height="371.5" fill="#222"/>
<path d="M19.57 346.20V345.12H22.70V346.20M25.83 346.20V344.90H28.96V346.20M21.13 345.12V341.87H27.39V344.90M32.09 346.20V344.61H35.22V346.20M38.35 346.20V344.62H41.49V346.20M33.66 344.61V342.52H39.92V344.62M44.62 346.20V344.11H47.75V346.20M54.01 346.20V345.21H57.14V346.20M66.54 346.20V344.68H69.67V346.20M63.41 346.20V342.13H68.10V344.68M60.27 346.20V340.25H65.75V342.13M55.58 345.21V338.66H63.01V340.25M50.88 346.20V336.64H59.30V338.66M46.18 344.11V332.46H55.09V336.64M36.79 342.52V330.53H50.64V332.46M24.26 341.87V327.00H43.71V330.53M72.80 346.20V344.34H75.93V346.20M85.33 346.20V344.30H88.46V346.20M82.19 346.20V342.40H86.89V344.30M79.06 346.20V340.02H84.54V342.40M74.37 344.34V336.68H81.80V340.02M33.99 327.00V327.00H78.08V336.68M94.72 346.20V343.95H97.85V346.20M91.59 346.20V342.07H96.29V343.95M104.11 346.20V343.95H107.25V346.20M100.98 346.20V341.93H105.68V343.95M110.38 346.20V344.85H113.51V346.20M116.64 346.20V344.75H119.77V346.20M111.94 344.85V341.94H118.21V344.75M126.03 346.20V345.05H129.17V346.20M122.90 346.20V342.72H127.60V345.05M115.07 341.94V340.31H125.25V342.72M103.33 341.93V336.79H120.16V340.31M93.94 342.07V332.84H111.75V336.79M132.30 346.20V345.03H135.43V346.20M141.69 346.20V344.54H144.82V346.20M138.56 346.20V343.34H143.26V344.54M147.95 346.20V344.55H151.09V346.20M154.22 346.20V344.28H157.35V346.20M149.52 344.55V342.70H155.78V344.28M140.91 343.34V340.71H152.65V342.70M133.86 345.03V339.15H146.78V340.71M163.61 346.20V344.87H166.74V346.20M160.48 346.20V343.10H165.18V344.87M169.87 346.20V344.10H173.01V346.20M176.14 346.20V345.00H179.27V346.20M182.40 346.20V344.70H185.53V346.20M177.70 345.00V343.21H183.97V344.70M171.44 344.10V340.40H180.83V343.21M162.83 343.10V336.27H176.14V340.40M140.32 339.15V333.58H169.48V336.27M198.06 346.20V344.20H201.19V346.20M194.93 346.20V342.56H199.62V344.20M191.79 346.20V341.07H197.27V342.56M188.66 346.20V338.91H194.53V341.07M207.45 346.20V344.92H210.58V346.20M204.32 346.20V343.17H209.02V344.92M191.60 338.91V336.31H206.67V343.17M154.90 333.58V329.56H199.13V336.31M219.98 346.20V345.11H223.11V346.20M216.85 346.20V343.88H221.54V345.11M213.71 346.20V342.51H219.19V343.88M226.24 346.20V344.75H229.37V346.20M232.50 346.20V344.14H235.63V346.20M227.81 344.75V342.02H234.07V344.14M216.45 342.51V338.76H230.94V342.02M177.02 329.56V327.00H223.70V338.76M102.84 332.84V327.00H200.36V327.00M56.04 327.00V327.00H151.60V327.00" stroke="#777" stroke-width="0.45" fill="none"/>
<text x="244.3" y="351.6" font-size="5.45" text-anchor="start" fill="#222" >TPX2_12</text>
<text x="244.3" y="358.9" font-size="5.45" text-anchor="start" fill="#222" >MAPKAPK2_4</text>
<text x="244.3" y="364.3" font-size="5.45" text-anchor="start" fill="#222" >FEN1_9</text>
<text x="244.3" y="371.9" font-size="5.45" text-anchor="start" fill="#222" >TPX2_3</text>
<text x="244.3" y="383.8" font-size="5.45" text-anchor="start" fill="#222" >TPX2_13</text>
<text x="244.3" y="390.4" font-size="5.45" text-anchor="start" fill="#222" >MYC_5</text>
<text x="244.3" y="397.3" font-size="5.45" text-anchor="start" fill="#222" >ACLY_5</text>
<text x="244.3" y="405.0" font-size="5.45" text-anchor="start" fill="#222" >MYC_7</text>
<text x="244.3" y="420.8" font-size="5.45" text-anchor="start" fill="#222" >FEN1_2</text>
<text x="244.3" y="428.5" font-size="5.45" text-anchor="start" fill="#222" >GAPDH_8</text>
<text x="244.3" y="434.8" font-size="5.45" text-anchor="start" fill="#222" >MYC_1</text>
<text x="244.3" y="440.7" font-size="5.45" text-anchor="start" fill="#222" >FEN1_4</text>
<text x="244.3" y="446.4" font-size="5.45" text-anchor="start" fill="#222" >TPX2_6</text>
<text x="244.3" y="452.0" font-size="5.45" text-anchor="start" fill="#222" >GAPDH_7</text>
<text x="244.3" y="457.6" font-size="5.45" text-anchor="start" fill="#222" >GAPDH_6</text>
<text x="244.3" y="468.8" font-size="5.45" text-anchor="start" fill="#222" >FEN1_8</text>
<text x="244.3" y="474.8" font-size="5.45" text-anchor="start" fill="#222" >ACLY_17</text>
<text x="244.3" y="479.9" font-size="5.45" text-anchor="start" fill="#222" >TPX2_8</text>
<text x="244.3" y="485.0" font-size="5.45" text-anchor="start" fill="#222" >TPX2_1</text>
<text x="244.3" y="490.3" font-size="5.45" text-anchor="start" fill="#222" >MAPKAPK2_1</text>
<text x="244.3" y="496.1" font-size="5.45" text-anchor="start" fill="#222" >TPX2_4</text>
<text x="244.3" y="502.6" font-size="5.45" text-anchor="start" fill="#222" >PTPN1_6</text>
<text x="244.3" y="513.8" font-size="5.45" text-anchor="start" fill="#222" >PTPN11_25</text>
<text x="244.3" y="536.8" font-size="5.45" text-anchor="start" fill="#222" >GAPDH_5</text>
<text x="244.3" y="544.7" font-size="5.45" text-anchor="start" fill="#222" >MAPKAPK2_7</text>
<text x="244.3" y="549.9" font-size="5.45" text-anchor="start" fill="#222" >MYC_6</text>
<text x="244.3" y="555.2" font-size="5.45" text-anchor="start" fill="#222" >PTPN1_12</text>
<text x="244.3" y="560.6" font-size="5.45" text-anchor="start" fill="#222" >FEN1_3</text>
<text x="244.3" y="566.1" font-size="5.45" text-anchor="start" fill="#222" >MAPKAPK2_8</text>
<text x="244.3" y="571.2" font-size="5.45" text-anchor="start" fill="#222" >PTPN11_13</text>
<text x="244.3" y="576.4" font-size="5.45" text-anchor="start" fill="#222" >ACLY_4</text>
<text x="244.3" y="582.0" font-size="5.45" text-anchor="start" fill="#222" >GAPDH_3</text>
<text x="244.3" y="596.1" font-size="5.45" text-anchor="start" fill="#222" >MYC_4</text>
<text x="244.3" y="603.2" font-size="5.45" text-anchor="start" fill="#222" >TPX2_14</text>
<text x="244.3" y="623.9" font-size="5.45" text-anchor="start" fill="#222" >PTPN1_4</text>
<text x="244.3" y="629.9" font-size="5.45" text-anchor="start" fill="#222" >MYC_2</text>
<text x="244.3" y="639.4" font-size="5.45" text-anchor="start" fill="#222" >TPX2_7</text>
<text x="244.3" y="645.9" font-size="5.45" text-anchor="start" fill="#222" >MAPKAPK2_3</text>
<text x="244.3" y="652.0" font-size="5.45" text-anchor="start" fill="#222" >PTPN11_3</text>
<text x="244.3" y="657.1" font-size="5.45" text-anchor="start" fill="#222" >PTPN11_20</text>
<text x="244.3" y="662.3" font-size="5.45" text-anchor="start" fill="#222" >TPX2_2</text>
<text x="244.3" y="668.0" font-size="5.45" text-anchor="start" fill="#222" >TPX2_9</text>
<text x="244.3" y="673.7" font-size="5.45" text-anchor="start" fill="#222" >FEN1_5</text>
<text x="244.3" y="678.9" font-size="5.45" text-anchor="start" fill="#222" >MYC_8</text>
<text x="244.3" y="684.5" font-size="5.45" text-anchor="start" fill="#222" >GAPDH_4</text>
<text x="244.3" y="689.9" font-size="5.45" text-anchor="start" fill="#222" >TPX2_10</text>
<text x="244.3" y="695.0" font-size="5.45" text-anchor="start" fill="#222" >TPX2_5</text>
<text x="244.3" y="700.3" font-size="5.45" text-anchor="start" fill="#222" >GAPDH_9</text>
<text x="244.3" y="707.8" font-size="5.45" text-anchor="start" fill="#222" >TPX2_11</text>
<text x="244.3" y="715.6" font-size="5.45" text-anchor="start" fill="#222" >PTPN1_5</text>
<path d="M237.4 350.5L243.6 349.7M237.4 355.1L243.6 357.0M237.4 360.7L243.6 362.4M237.4 369.8L243.6 370.0M237.4 379.8L243.6 381.9M237.4 387.9L243.6 388.5M237.4 397.4L243.6 395.4M237.4 405.0L243.6 403.1M237.4 417.4L243.6 418.9M237.4 424.2L243.6 426.6M237.4 434.5L243.6 432.9M237.4 441.1L243.6 438.8M237.4 445.0L243.6 444.5M237.4 448.3L243.6 450.1M237.4 454.4L243.6 455.7M237.4 469.0L243.6 466.9M237.4 475.1L243.6 472.9M237.4 475.7L243.6 478.0M237.4 481.5L243.6 483.1M237.4 488.0L243.6 488.4M237.4 493.0L243.6 494.2M237.4 502.0L243.6 500.7M237.4 511.3L243.6 511.9M237.4 536.3L243.6 534.9M237.4 541.1L243.6 542.8M237.4 548.1L243.6 548.0M237.4 555.7L243.6 553.3M237.4 559.7L243.6 558.7M237.4 562.2L243.6 564.2M237.4 567.4L243.6 569.3M237.4 575.2L243.6 574.5M237.4 579.5L243.6 580.1M237.4 593.5L243.6 594.2M237.4 601.2L243.6 601.3M237.4 622.4L243.6 622.0M237.4 630.3L243.6 628.0M237.4 636.2L243.6 637.5M237.4 644.3L243.6 644.0M237.4 648.9L243.6 650.1M237.4 655.4L243.6 655.2M237.4 661.6L243.6 660.4M237.4 664.3L243.6 666.1M237.4 671.7L243.6 671.8M237.4 678.0L243.6 677.0M237.4 680.1L243.6 682.6M237.4 689.4L243.6 688.0M237.4 692.7L243.6 693.1M237.4 698.4L243.6 698.4M237.4 706.5L243.6 705.9M237.4 715.2L243.6 713.7" stroke="#888" stroke-width="0.35" fill="none"/>
<path d="M19.2 718.8L20.5 727.2" stroke="#444" stroke-width="0.45" fill="none"/>
<text x="0" y="0" font-size="8.7" text-anchor="end" fill="#1a1a1a" transform="translate(23.7,731.0) rotate(-57)">METTL14</text>
<path d="M23.7 718.8L27.2 727.2" stroke="#444" stroke-width="0.45" fill="none"/>
<text x="0" y="0" font-size="8.7" text-anchor="end" fill="#1a1a1a" transform="translate(34.7,731.0) rotate(-57)">FTO</text>
<path d="M82.4 718.8L83.6 727.2" stroke="#444" stroke-width="0.45" fill="none"/>
<text x="0" y="0" font-size="8.7" text-anchor="end" fill="#1a1a1a" transform="translate(86.8,731.0) rotate(-57)">METTL3</text>
<path d="M154.4 718.8L154.7 727.2" stroke="#444" stroke-width="0.45" fill="none"/>
<text x="0" y="0" font-size="8.7" text-anchor="end" fill="#1a1a1a" transform="translate(156.1,731.0) rotate(-57)">RBM15</text>
<path d="M172.0 718.8L173.2 727.2" stroke="#444" stroke-width="0.45" fill="none"/>
<text x="0" y="0" font-size="8.7" text-anchor="end" fill="#1a1a1a" transform="translate(176.2,731.0) rotate(-57)">ALKBH5</text>
<path d="M224.4 718.8L225.1 727.2" stroke="#444" stroke-width="0.45" fill="none"/>
<text x="0" y="0" font-size="8.7" text-anchor="end" fill="#1a1a1a" transform="translate(227.3,731.0) rotate(-57)">WTAP</text>
<text x="280.8" y="345.5" font-size="7.05" text-anchor="start" fill="#1a1a1a" >cor_R</text>
<defs><linearGradient id="gD" x1="0" y1="0" x2="0" y2="1"><stop offset="0" stop-color="#34428e"/><stop offset="0.18" stop-color="#4a6fa8"/><stop offset="0.3" stop-color="#7fb0cc"/><stop offset="0.42" stop-color="#d9eef0"/><stop offset="0.5" stop-color="#f3f3b8"/><stop offset="0.62" stop-color="#f0c078"/><stop offset="0.75" stop-color="#dd7452"/><stop offset="0.88" stop-color="#bb3a36"/><stop offset="1" stop-color="#8a1c2c"/></linearGradient></defs>
<rect x="286.7" y="349.4" width="5.4" height="44.4" fill="url(#gD)"/>
<text x="293.3" y="353.8" font-size="5.8" text-anchor="start" fill="#222" >1</text>
<text x="293.3" y="364.3" font-size="5.8" text-anchor="start" fill="#222" >0.5</text>
<text x="293.3" y="374.8" font-size="5.8" text-anchor="start" fill="#222" >0</text>
<text x="293.3" y="385.3" font-size="5.8" text-anchor="start" fill="#222" >−0.5</text>
<text x="293.3" y="395.4" font-size="5.8" text-anchor="start" fill="#222" >−1</text>
<text x="303.2" y="316.9" font-size="14.0" text-anchor="start" fill="#1a1a1a" >E</text>
<text x="366.5" y="361.6" font-size="17.4" text-anchor="middle" fill="#1a1a1a" >B cell</text>
<path d="M367.20 409.30L411.00 409.30A43.8 43.8 0 0 0 402.55 383.44Z" fill="#a5c0cb" stroke="#3a3a3a" stroke-width="0.5" stroke-linejoin="round"/>
<path d="M367.20 409.30L402.55 383.44A43.8 43.8 0 0 0 324.34 418.32Z" fill="#52709a" stroke="#3a3a3a" stroke-width="0.5" stroke-linejoin="round"/>
<path d="M367.20 409.30L324.34 418.32A43.8 43.8 0 0 0 327.64 428.10Z" fill="#b2d98e" stroke="#3a3a3a" stroke-width="0.5" stroke-linejoin="round"/>
<path d="M367.20 409.30L327.64 428.10A43.8 43.8 0 0 0 411.00 409.30Z" fill="#67994a" stroke="#3a3a3a" stroke-width="0.5" stroke-linejoin="round"/>
<rect x="418.2" y="397.5" width="3.4" height="3.4" fill="#a5c0cb" stroke="#555" stroke-width="0.3"/>
<text x="422.6" y="401.6" font-size="7.0" text-anchor="start" fill="#1a1a1a" >5' UTR (10.05%)</text>
<rect x="418.2" y="404.8" width="3.4" height="3.4" fill="#52709a" stroke="#555" stroke-width="0.3"/>
<text x="422.6" y="408.9" font-size="7.0" text-anchor="start" fill="#1a1a1a" >3' UTR (43.25%)</text>
<rect x="418.2" y="411.8" width="3.4" height="3.4" fill="#b2d98e" stroke="#555" stroke-width="0.3"/>
<text x="422.6" y="415.9" font-size="7.0" text-anchor="start" fill="#1a1a1a" >1st Exon (3.76%)</text>
<rect x="418.2" y="418.8" width="3.4" height="3.4" fill="#67994a" stroke="#555" stroke-width="0.3"/>
<text x="422.6" y="422.9" font-size="7.0" text-anchor="start" fill="#1a1a1a" >Other Exon (42.94%)</text>
<text x="557.4" y="361.0" font-size="17.4" text-anchor="middle" fill="#1a1a1a" >T cell</text>
<path d="M556.70 408.20L600.30 408.20A43.6 43.6 0 0 0 592.64 383.51Z" fill="#a5c0cb" stroke="#3a3a3a" stroke-width="0.5" stroke-linejoin="round"/>
<path d="M556.70 408.20L592.64 383.51A43.6 43.6 0 0 0 515.57 422.66Z" fill="#52709a" stroke="#3a3a3a" stroke-width="0.5" stroke-linejoin="round"/>
<path d="M556.70 408.20L515.57 422.66A43.6 43.6 0 0 0 520.27 432.16Z" fill="#b2d98e" stroke="#3a3a3a" stroke-width="0.5" stroke-linejoin="round"/>
<path d="M556.70 408.20L520.27 432.16A43.6 43.6 0 0 0 600.30 408.20Z" fill="#67994a" stroke="#3a3a3a" stroke-width="0.5" stroke-linejoin="round"/>
<rect x="606.7" y="398.1" width="3.4" height="3.4" fill="#a5c0cb" stroke="#555" stroke-width="0.3"/>
<text x="611.8" y="402.2" font-size="7.0" text-anchor="start" fill="#1a1a1a" >5' UTR (9.58%)</text>
<rect x="606.7" y="404.9" width="3.4" height="3.4" fill="#52709a" stroke="#555" stroke-width="0.3"/>
<text x="611.8" y="409.0" font-size="7.0" text-anchor="start" fill="#1a1a1a" >3' UTR (45.8%)</text>
<rect x="606.7" y="411.7" width="3.4" height="3.4" fill="#b2d98e" stroke="#555" stroke-width="0.3"/>
<text x="611.8" y="415.8" font-size="7.0" text-anchor="start" fill="#1a1a1a" >1st Exon (3.88%)</text>
<rect x="606.7" y="418.8" width="3.4" height="3.4" fill="#67994a" stroke="#555" stroke-width="0.3"/>
<text x="611.8" y="422.9" font-size="7.0" text-anchor="start" fill="#1a1a1a" >Other Exon (40.74%)</text>
<text x="368.9" y="508.6" font-size="17.4" text-anchor="middle" fill="#1a1a1a" >Epithelial cell</text>
<path d="M366.50 556.80L410.40 556.80A43.9 43.9 0 0 0 393.73 522.37Z" fill="#a5c0cb" stroke="#3a3a3a" stroke-width="0.5" stroke-linejoin="round"/>
<path d="M366.50 556.80L393.73 522.37A43.9 43.9 0 0 0 333.86 586.16Z" fill="#52709a" stroke="#3a3a3a" stroke-width="0.5" stroke-linejoin="round"/>
<path d="M366.50 556.80L333.86 586.16A43.9 43.9 0 0 0 340.25 591.99Z" fill="#b2d98e" stroke="#3a3a3a" stroke-width="0.5" stroke-linejoin="round"/>
<path d="M366.50 556.80L340.25 591.99A43.9 43.9 0 0 0 410.40 556.80Z" fill="#67994a" stroke="#3a3a3a" stroke-width="0.5" stroke-linejoin="round"/>
<rect x="417.7" y="542.5" width="3.4" height="3.4" fill="#a5c0cb" stroke="#555" stroke-width="0.3"/>
<text x="422.0" y="546.6" font-size="7.0" text-anchor="start" fill="#1a1a1a" >5' UTR (14.35%)</text>
<rect x="417.7" y="549.8" width="3.4" height="3.4" fill="#52709a" stroke="#555" stroke-width="0.3"/>
<text x="422.0" y="553.9" font-size="7.0" text-anchor="start" fill="#1a1a1a" >3' UTR (47.31%)</text>
<rect x="417.7" y="556.8" width="3.4" height="3.4" fill="#b2d98e" stroke="#555" stroke-width="0.3"/>
<text x="422.0" y="560.9" font-size="7.0" text-anchor="start" fill="#1a1a1a" >1st Exon (3.14%)</text>
<rect x="417.7" y="564.1" width="3.4" height="3.4" fill="#67994a" stroke="#555" stroke-width="0.3"/>
<text x="422.0" y="568.2" font-size="7.0" text-anchor="start" fill="#1a1a1a" >Other Exon (35.2%)</text>
<text x="563.0" y="507.7" font-size="17.4" text-anchor="middle" fill="#1a1a1a" >Fibroblasts</text>
<path d="M562.30 555.50L605.40 555.50A43.1 43.1 0 0 0 591.67 523.95Z" fill="#a5c0cb" stroke="#3a3a3a" stroke-width="0.5" stroke-linejoin="round"/>
<path d="M562.30 555.50L591.67 523.95A43.1 43.1 0 0 0 519.48 560.36Z" fill="#52709a" stroke="#3a3a3a" stroke-width="0.5" stroke-linejoin="round"/>
<path d="M562.30 555.50L519.48 560.36A43.1 43.1 0 0 0 521.66 569.84Z" fill="#b2d98e" stroke="#3a3a3a" stroke-width="0.5" stroke-linejoin="round"/>
<path d="M562.30 555.50L521.66 569.84A43.1 43.1 0 0 0 605.40 555.50Z" fill="#67994a" stroke="#3a3a3a" stroke-width="0.5" stroke-linejoin="round"/>
<rect x="613.0" y="543.1" width="3.4" height="3.4" fill="#a5c0cb" stroke="#555" stroke-width="0.3"/>
<text x="617.2" y="547.2" font-size="7.0" text-anchor="start" fill="#1a1a1a" >5' UTR (13.07%)</text>
<rect x="613.0" y="550.7" width="3.4" height="3.4" fill="#52709a" stroke="#555" stroke-width="0.3"/>
<text x="617.2" y="554.8" font-size="7.0" text-anchor="start" fill="#1a1a1a" >3' UTR (38.73%)</text>
<rect x="613.0" y="557.9" width="3.4" height="3.4" fill="#b2d98e" stroke="#555" stroke-width="0.3"/>
<text x="617.2" y="562.0" font-size="7.0" text-anchor="start" fill="#1a1a1a" >1st Exon (3.6%)</text>
<rect x="613.0" y="565.5" width="3.4" height="3.4" fill="#67994a" stroke="#555" stroke-width="0.3"/>
<text x="617.2" y="569.6" font-size="7.0" text-anchor="start" fill="#1a1a1a" >Other Exon (44.6%)</text>
<text x="299.8" y="627.2" font-size="14.0" text-anchor="start" fill="#1a1a1a" >F</text>
<text x="315.4" y="641.0" font-size="10.6" text-anchor="start" fill="#1a1a1a" >Distribution on mRNA</text>
<rect x="292.7" y="649.3" width="146.90000000000003" height="116.80000000000007" fill="#fff"/>
<line x1="316.2" y1="649.3" x2="316.2" y2="766.1" stroke="#f4f4f4" stroke-width="0.5"/><line x1="349.6" y1="649.3" x2="349.6" y2="766.1" stroke="#f4f4f4" stroke-width="0.5"/><line x1="382.9" y1="649.3" x2="382.9" y2="766.1" stroke="#f4f4f4" stroke-width="0.5"/><line x1="416.3" y1="649.3" x2="416.3" y2="766.1" stroke="#f4f4f4" stroke-width="0.5"/><line x1="292.7" y1="742.2" x2="439.6" y2="742.2" stroke="#f4f4f4" stroke-width="0.5"/><line x1="292.7" y1="714.4" x2="439.6" y2="714.4" stroke="#f4f4f4" stroke-width="0.5"/><line x1="292.7" y1="686.6" x2="439.6" y2="686.6" stroke="#f4f4f4" stroke-width="0.5"/><line x1="292.7" y1="658.8" x2="439.6" y2="658.8" stroke="#f4f4f4" stroke-width="0.5"/><line x1="299.5" y1="649.3" x2="299.5" y2="766.1" stroke="#e6e6e6" stroke-width="0.9"/><line x1="332.9" y1="649.3" x2="332.9" y2="766.1" stroke="#e6e6e6" stroke-width="0.9"/><line x1="366.2" y1="649.3" x2="366.2" y2="766.1" stroke="#e6e6e6" stroke-width="0.9"/><line x1="399.6" y1="649.3" x2="399.6" y2="766.1" stroke="#e6e6e6" stroke-width="0.9"/><line x1="433.0" y1="649.3" x2="433.0" y2="766.1" stroke="#e6e6e6" stroke-width="0.9"/><line x1="292.7" y1="756.1" x2="439.6" y2="756.1" stroke="#e6e6e6" stroke-width="0.9"/><line x1="292.7" y1="728.3" x2="439.6" y2="728.3" stroke="#e6e6e6" stroke-width="0.9"/><line x1="292.7" y1="700.5" x2="439.6" y2="700.5" stroke="#e6e6e6" stroke-width="0.9"/><line x1="292.7" y1="672.7" x2="439.6" y2="672.7" stroke="#e6e6e6" stroke-width="0.9"/>
<path d="M299.50 754.71C300.61 754.48 303.95 753.46 306.18 753.32C308.40 753.18 309.51 754.11 312.85 753.88C316.19 753.64 322.86 753.88 326.20 751.93C329.54 749.98 330.65 747.07 332.88 742.20C335.10 737.34 337.32 727.61 339.55 722.74C341.78 717.88 344.00 716.25 346.23 713.01C348.45 709.77 351.34 705.37 352.90 703.28C354.46 701.19 354.46 700.27 355.57 700.50C356.68 700.73 357.79 706.06 359.57 704.67C361.36 703.28 364.47 696.56 366.25 692.16C368.03 687.76 369.14 681.97 370.25 678.26C371.37 674.55 371.81 670.38 372.93 669.92C374.04 669.46 375.82 673.16 376.93 675.48C378.04 677.80 378.04 681.04 379.60 683.82C381.16 686.60 384.05 688.92 386.27 692.16C388.50 695.40 390.72 698.18 392.95 703.28C395.18 708.38 397.85 716.25 399.62 722.74C401.40 729.23 402.52 737.34 403.63 742.20C404.74 747.07 404.74 749.85 406.30 751.93C407.86 754.02 409.64 754.15 412.98 754.71C416.31 755.27 422.99 755.17 426.32 755.27C429.66 755.36 431.89 755.27 433.00 755.27L433.00 756.10L299.50 756.10Z" fill="#c87878" fill-opacity="0.23" stroke="none"/>
<path d="M299.50 755.27C300.61 754.85 303.95 753.00 306.18 752.76C308.40 752.53 309.51 753.78 312.85 753.88C316.19 753.97 322.86 754.57 326.20 753.32C329.54 752.07 330.65 750.54 332.88 746.37C335.10 742.20 337.32 732.47 339.55 728.30C341.78 724.13 344.45 722.51 346.23 721.35C348.00 720.19 348.67 722.97 350.23 721.35C351.79 719.73 354.01 712.78 355.57 711.62C357.13 710.46 357.79 718.57 359.57 714.40C361.36 710.23 364.47 694.48 366.25 686.60C368.03 678.72 369.14 672.47 370.25 667.14C371.37 661.81 372.04 655.56 372.93 654.63C373.81 653.70 374.48 655.79 375.60 661.58C376.71 667.37 377.82 682.89 379.60 689.38C381.38 695.87 384.05 697.26 386.27 700.50C388.50 703.74 390.72 704.21 392.95 708.84C395.18 713.47 397.85 722.28 399.62 728.30C401.40 734.32 402.52 741.04 403.63 744.98C404.74 748.92 404.74 750.31 406.30 751.93C407.86 753.55 408.53 754.11 412.98 754.71C417.43 755.31 429.66 755.40 433.00 755.54L433.00 756.10L299.50 756.10Z" fill="#968cbe" fill-opacity="0.23" stroke="none"/>
<path d="M299.50 755.54C301.73 755.40 309.07 755.31 312.85 754.71C316.63 754.11 319.97 752.62 322.19 751.93C324.42 751.24 324.87 751.24 326.20 750.54C327.53 749.85 328.65 750.54 330.20 747.76C331.76 744.98 333.99 737.80 335.55 733.86C337.10 729.92 337.77 726.68 339.55 724.13C341.33 721.58 344.45 718.80 346.23 718.57C348.00 718.34 348.67 720.19 350.23 722.74C351.79 725.29 354.01 731.31 355.57 733.86C357.13 736.41 358.24 738.49 359.57 738.03C360.91 737.57 362.02 737.34 363.58 731.08C365.14 724.83 367.36 710.23 368.92 700.50C370.48 690.77 371.59 679.65 372.93 672.70C374.26 665.75 375.37 659.26 376.93 658.80C378.49 658.34 380.49 665.29 382.27 669.92C384.05 674.55 385.83 682.89 387.61 686.60C389.39 690.31 391.39 689.84 392.95 692.16C394.51 694.48 395.62 695.87 396.95 700.50C398.29 705.13 399.85 713.47 400.96 719.96C402.07 726.45 402.74 734.32 403.63 739.42C404.52 744.52 404.74 747.99 406.30 750.54C407.86 753.09 408.53 753.88 412.98 754.71C417.43 755.54 429.66 755.40 433.00 755.54L433.00 756.10L299.50 756.10Z" fill="#98b478" fill-opacity="0.23" stroke="none"/>
<path d="M299.50 755.27C301.73 755.03 308.40 754.29 312.85 753.88C317.30 753.46 322.86 754.94 326.20 752.76C329.54 750.59 330.65 746.28 332.88 740.81C335.10 735.34 337.55 725.75 339.55 719.96C341.55 714.17 343.56 708.84 344.89 706.06C346.22 703.28 346.45 702.82 347.56 703.28C348.67 703.74 350.23 707.45 351.56 708.84C352.90 710.23 354.24 712.55 355.57 711.62C356.90 710.69 357.79 708.84 359.57 703.28C361.36 697.72 364.47 683.36 366.25 678.26C368.03 673.16 369.14 671.31 370.25 672.70C371.37 674.09 371.81 682.89 372.93 686.60C374.04 690.31 375.82 693.55 376.93 694.94C378.04 696.33 378.04 694.01 379.60 694.94C381.16 695.87 384.05 698.18 386.27 700.50C388.50 702.82 390.72 704.67 392.95 708.84C395.18 713.01 397.85 719.50 399.62 725.52C401.40 731.54 402.52 740.44 403.63 744.98C404.74 749.52 404.74 751.10 406.30 752.76C407.86 754.43 408.53 754.52 412.98 754.99C417.43 755.45 429.66 755.45 433.00 755.54L433.00 756.10L299.50 756.10Z" fill="#7cb4aa" fill-opacity="0.23" stroke="none"/>
<path d="M299.50 754.71C300.61 754.48 303.95 753.46 306.18 753.32C308.40 753.18 309.51 754.11 312.85 753.88C316.19 753.64 322.86 753.88 326.20 751.93C329.54 749.98 330.65 747.07 332.88 742.20C335.10 737.34 337.32 727.61 339.55 722.74C341.78 717.88 344.00 716.25 346.23 713.01C348.45 709.77 351.34 705.37 352.90 703.28C354.46 701.19 354.46 700.27 355.57 700.50C356.68 700.73 357.79 706.06 359.57 704.67C361.36 703.28 364.47 696.56 366.25 692.16C368.03 687.76 369.14 681.97 370.25 678.26C371.37 674.55 371.81 670.38 372.93 669.92C374.04 669.46 375.82 673.16 376.93 675.48C378.04 677.80 378.04 681.04 379.60 683.82C381.16 686.60 384.05 688.92 386.27 692.16C388.50 695.40 390.72 698.18 392.95 703.28C395.18 708.38 397.85 716.25 399.62 722.74C401.40 729.23 402.52 737.34 403.63 742.20C404.74 747.07 404.74 749.85 406.30 751.93C407.86 754.02 409.64 754.15 412.98 754.71C416.31 755.27 422.99 755.17 426.32 755.27C429.66 755.36 431.89 755.27 433.00 755.27" fill="none" stroke="#cc5a5a" stroke-width="0.9"/>
<path d="M299.50 755.27C300.61 754.85 303.95 753.00 306.18 752.76C308.40 752.53 309.51 753.78 312.85 753.88C316.19 753.97 322.86 754.57 326.20 753.32C329.54 752.07 330.65 750.54 332.88 746.37C335.10 742.20 337.32 732.47 339.55 728.30C341.78 724.13 344.45 722.51 346.23 721.35C348.00 720.19 348.67 722.97 350.23 721.35C351.79 719.73 354.01 712.78 355.57 711.62C357.13 710.46 357.79 718.57 359.57 714.40C361.36 710.23 364.47 694.48 366.25 686.60C368.03 678.72 369.14 672.47 370.25 667.14C371.37 661.81 372.04 655.56 372.93 654.63C373.81 653.70 374.48 655.79 375.60 661.58C376.71 667.37 377.82 682.89 379.60 689.38C381.38 695.87 384.05 697.26 386.27 700.50C388.50 703.74 390.72 704.21 392.95 708.84C395.18 713.47 397.85 722.28 399.62 728.30C401.40 734.32 402.52 741.04 403.63 744.98C404.74 748.92 404.74 750.31 406.30 751.93C407.86 753.55 408.53 754.11 412.98 754.71C417.43 755.31 429.66 755.40 433.00 755.54" fill="none" stroke="#7563b8" stroke-width="0.9"/>
<path d="M299.50 755.54C301.73 755.40 309.07 755.31 312.85 754.71C316.63 754.11 319.97 752.62 322.19 751.93C324.42 751.24 324.87 751.24 326.20 750.54C327.53 749.85 328.65 750.54 330.20 747.76C331.76 744.98 333.99 737.80 335.55 733.86C337.10 729.92 337.77 726.68 339.55 724.13C341.33 721.58 344.45 718.80 346.23 718.57C348.00 718.34 348.67 720.19 350.23 722.74C351.79 725.29 354.01 731.31 355.57 733.86C357.13 736.41 358.24 738.49 359.57 738.03C360.91 737.57 362.02 737.34 363.58 731.08C365.14 724.83 367.36 710.23 368.92 700.50C370.48 690.77 371.59 679.65 372.93 672.70C374.26 665.75 375.37 659.26 376.93 658.80C378.49 658.34 380.49 665.29 382.27 669.92C384.05 674.55 385.83 682.89 387.61 686.60C389.39 690.31 391.39 689.84 392.95 692.16C394.51 694.48 395.62 695.87 396.95 700.50C398.29 705.13 399.85 713.47 400.96 719.96C402.07 726.45 402.74 734.32 403.63 739.42C404.52 744.52 404.74 747.99 406.30 750.54C407.86 753.09 408.53 753.88 412.98 754.71C417.43 755.54 429.66 755.40 433.00 755.54" fill="none" stroke="#62a23e" stroke-width="0.9"/>
<path d="M299.50 755.27C301.73 755.03 308.40 754.29 312.85 753.88C317.30 753.46 322.86 754.94 326.20 752.76C329.54 750.59 330.65 746.28 332.88 740.81C335.10 735.34 337.55 725.75 339.55 719.96C341.55 714.17 343.56 708.84 344.89 706.06C346.22 703.28 346.45 702.82 347.56 703.28C348.67 703.74 350.23 707.45 351.56 708.84C352.90 710.23 354.24 712.55 355.57 711.62C356.90 710.69 357.79 708.84 359.57 703.28C361.36 697.72 364.47 683.36 366.25 678.26C368.03 673.16 369.14 671.31 370.25 672.70C371.37 674.09 371.81 682.89 372.93 686.60C374.04 690.31 375.82 693.55 376.93 694.94C378.04 696.33 378.04 694.01 379.60 694.94C381.16 695.87 384.05 698.18 386.27 700.50C388.50 702.82 390.72 704.67 392.95 708.84C395.18 713.01 397.85 719.50 399.62 725.52C401.40 731.54 402.52 740.44 403.63 744.98C404.74 749.52 404.74 751.10 406.30 752.76C407.86 754.43 408.53 754.52 412.98 754.99C417.43 755.45 429.66 755.45 433.00 755.54" fill="none" stroke="#3fa99c" stroke-width="0.9"/>
<line x1="330.6" y1="649.3" x2="330.6" y2="766.1" stroke="#111" stroke-width="1" stroke-dasharray="1.1,3"/>
<line x1="340.0" y1="649.3" x2="340.0" y2="766.1" stroke="#111" stroke-width="1" stroke-dasharray="1.1,3"/>
<line x1="372.8" y1="649.3" x2="372.8" y2="766.1" stroke="#111" stroke-width="1" stroke-dasharray="1.1,3"/>
<line x1="401.8" y1="649.3" x2="401.8" y2="766.1" stroke="#111" stroke-width="1" stroke-dasharray="1.1,3"/>
<line x1="299.5" y1="759.1" x2="433.0" y2="759.1" stroke="#222" stroke-width="0.9"/>
<rect x="340.0" y="756.8" width="32.8" height="2.4" fill="#e8e8e8" stroke="#333" stroke-width="0.4"/>
<rect x="372.8" y="757.6" width="29.0" height="1.6" fill="#666"/>
<text x="314.9" y="764.6" font-size="5.2" text-anchor="middle" fill="#222" >1kb</text>
<text x="334.8" y="764.6" font-size="5.2" text-anchor="middle" fill="#222" >5'UTR</text>
<text x="356.2" y="764.6" font-size="5.2" text-anchor="middle" fill="#222" >CDS</text>
<text x="387.1" y="764.6" font-size="5.2" text-anchor="middle" fill="#222" >3'UTR</text>
<text x="417.4" y="764.6" font-size="5.2" text-anchor="middle" fill="#222" >1kb</text>
<rect x="292.7" y="649.3" width="146.90000000000003" height="116.80000000000007" fill="none" stroke="#b8b8b8" stroke-width="0.8"/>
<line x1="290.7" y1="756.1" x2="292.7" y2="756.1" stroke="#444" stroke-width="0.6"/>
<text x="289.0" y="759.4" font-size="9.3" text-anchor="end" fill="#222" >0</text>
<line x1="290.7" y1="728.3" x2="292.7" y2="728.3" stroke="#444" stroke-width="0.6"/>
<text x="289.0" y="731.6" font-size="9.3" text-anchor="end" fill="#222" >1</text>
<line x1="290.7" y1="700.5" x2="292.7" y2="700.5" stroke="#444" stroke-width="0.6"/>
<text x="289.0" y="703.8" font-size="9.3" text-anchor="end" fill="#222" >2</text>
<line x1="290.7" y1="672.7" x2="292.7" y2="672.7" stroke="#444" stroke-width="0.6"/>
<text x="289.0" y="676.0" font-size="9.3" text-anchor="end" fill="#222" >3</text>
<line x1="299.5" y1="766.1" x2="299.5" y2="768.1" stroke="#444" stroke-width="0.6"/>
<text x="299.5" y="775.6" font-size="9.3" text-anchor="middle" fill="#222" >0.00</text>
<line x1="332.9" y1="766.1" x2="332.9" y2="768.1" stroke="#444" stroke-width="0.6"/>
<text x="332.9" y="775.6" font-size="9.3" text-anchor="middle" fill="#222" >0.25</text>
<line x1="366.2" y1="766.1" x2="366.2" y2="768.1" stroke="#444" stroke-width="0.6"/>
<text x="366.2" y="775.6" font-size="9.3" text-anchor="middle" fill="#222" >0.50</text>
<line x1="399.6" y1="766.1" x2="399.6" y2="768.1" stroke="#444" stroke-width="0.6"/>
<text x="399.6" y="775.6" font-size="9.3" text-anchor="middle" fill="#222" >0.75</text>
<line x1="433.0" y1="766.1" x2="433.0" y2="768.1" stroke="#444" stroke-width="0.6"/>
<text x="433.0" y="775.6" font-size="9.3" text-anchor="middle" fill="#222" >1.00</text>
<text x="0" y="0" font-size="8.6" text-anchor="middle" fill="#222" transform="translate(281.6,702.3) rotate(-90)">Density</text>
<text x="442.7" y="689.8" font-size="7.35" text-anchor="start" fill="#1a1a1a" >Samples</text>
<rect x="442.6" y="693.8" width="7.7" height="7.8" fill="#d77a7a" fill-opacity="0.22" stroke="#d77a7a" stroke-width="0.9"/>
<line x1="442.6" y1="697.7" x2="450.3" y2="697.7" stroke="#d77a7a" stroke-width="0.9"/>
<text x="451.8" y="700.4" font-size="6.35" text-anchor="start" fill="#1a1a1a" >B cells</text>
<rect x="442.6" y="704.0" width="7.7" height="7.8" fill="#9384c8" fill-opacity="0.22" stroke="#9384c8" stroke-width="0.9"/>
<line x1="442.6" y1="707.9" x2="450.3" y2="707.9" stroke="#9384c8" stroke-width="0.9"/>
<text x="451.8" y="710.6" font-size="6.35" text-anchor="start" fill="#1a1a1a" >T cells</text>
<rect x="442.6" y="714.3" width="7.7" height="7.8" fill="#86b65a" fill-opacity="0.22" stroke="#86b65a" stroke-width="0.9"/>
<line x1="442.6" y1="718.2" x2="450.3" y2="718.2" stroke="#86b65a" stroke-width="0.9"/>
<text x="451.8" y="720.9" font-size="6.35" text-anchor="start" fill="#1a1a1a" >Epithelial cells</text>
<rect x="442.6" y="724.5" width="7.7" height="7.8" fill="#6cc0b4" fill-opacity="0.22" stroke="#6cc0b4" stroke-width="0.9"/>
<line x1="442.6" y1="728.4" x2="450.3" y2="728.4" stroke="#6cc0b4" stroke-width="0.9"/>
<text x="451.8" y="731.1" font-size="6.35" text-anchor="start" fill="#1a1a1a" >Fibroblasts</text>
<text x="495.0" y="626.8" font-size="14.0" text-anchor="start" fill="#1a1a1a" >G</text>
<line x1="494.4" y1="630.9" x2="679" y2="630.9" stroke="#444" stroke-width="0.9"/>
<line x1="494.4" y1="645.0" x2="679" y2="645.0" stroke="#444" stroke-width="0.9"/>
<line x1="494.4" y1="784.6" x2="679" y2="784.6" stroke="#444" stroke-width="0.9"/>
<text x="522.3" y="640.7" font-size="8.7" text-anchor="middle" fill="#1a1a1a" >Cell type</text>
<text x="588.4" y="640.7" font-size="8.7" text-anchor="middle" fill="#1a1a1a" >Motif</text>
<text x="653.9" y="640.7" font-size="8.7" text-anchor="middle" fill="#1a1a1a" >P-value</text>
<text x="522.3" y="669.3" font-size="8.7" text-anchor="middle" fill="#1a1a1a" >B cell</text>
<text x="654.6" y="669.3" font-size="8.7" text-anchor="middle" fill="#1a1a1a" >1e-18</text>
<text x="522.3" y="702.5" font-size="8.7" text-anchor="middle" fill="#1a1a1a" >T cell</text>
<text x="654.6" y="702.5" font-size="8.7" text-anchor="middle" fill="#1a1a1a" >1e-14</text>
<text x="522.3" y="737.2" font-size="8.7" text-anchor="middle" fill="#1a1a1a" >Epithelial cell</text>
<text x="654.6" y="737.2" font-size="8.7" text-anchor="middle" fill="#1a1a1a" >1e-15</text>
<text x="522.3" y="771.2" font-size="8.7" text-anchor="middle" fill="#1a1a1a" >Fibroblasts</text>
<text x="654.6" y="771.2" font-size="8.7" text-anchor="middle" fill="#1a1a1a" >1e-39</text>
<text x="0" y="0" font-size="100" font-weight="bold" fill="#de9535" stroke="#de9535" stroke-width="3.5" transform="translate(554.22,676.63) scale(0.1956,0.3662)">G</text>
<text x="0" y="0" font-size="100" font-weight="bold" fill="#de9535" stroke="#de9535" stroke-width="3.5" transform="translate(568.22,676.63) scale(0.1956,0.3662)">G</text>
<text x="0" y="0" font-size="100" font-weight="bold" fill="#64b54b" stroke="#64b54b" stroke-width="3.5" transform="translate(582.51,673.70) scale(0.1955,0.3290)">A</text>
<text x="0" y="0" font-size="100" font-weight="bold" fill="#b0282c" stroke="#b0282c" stroke-width="3.5" transform="translate(581.69,676.26) scale(0.2183,0.0371)">U</text>
<text x="0" y="0" font-size="100" font-weight="bold" fill="#de9535" stroke="#de9535" stroke-width="3.5" transform="translate(582.22,676.89) scale(0.1941,0.0085)">G</text>
<text x="0" y="0" font-size="100" font-weight="bold" fill="#3a52a1" stroke="#3a52a1" stroke-width="3.5" transform="translate(596.11,676.14) scale(0.1985,0.3592)">C</text>
<text x="0" y="0" font-size="100" font-weight="bold" fill="#de9535" stroke="#de9535" stroke-width="3.5" transform="translate(596.13,677.09) scale(0.1926,0.0085)">G</text>
<text x="0" y="0" font-size="100" font-weight="bold" fill="#b0282c" stroke="#b0282c" stroke-width="3.5" transform="translate(609.39,669.93) scale(0.2183,0.2743)">U</text>
<text x="0" y="0" font-size="100" font-weight="bold" fill="#64b54b" stroke="#64b54b" stroke-width="3.5" transform="translate(610.21,676.20) scale(0.1955,0.0870)">A</text>
<text x="0" y="0" font-size="100" font-weight="bold" fill="#de9535" stroke="#de9535" stroke-width="3.5" transform="translate(609.92,676.79) scale(0.1941,0.0085)">G</text>
<text x="0" y="0" font-size="100" font-weight="bold" fill="#de9535" stroke="#de9535" stroke-width="3.5" transform="translate(554.22,712.21) scale(0.1956,0.3915)">G</text>
<text x="0" y="0" font-size="100" font-weight="bold" fill="#64b54b" stroke="#64b54b" stroke-width="3.5" transform="translate(568.51,710.80) scale(0.1970,0.3768)">A</text>
<text x="0" y="0" font-size="100" font-weight="bold" fill="#de9535" stroke="#de9535" stroke-width="3.5" transform="translate(568.22,711.79) scale(0.1956,0.0141)">G</text>
<text x="0" y="0" font-size="100" font-weight="bold" fill="#3a52a1" stroke="#3a52a1" stroke-width="3.5" transform="translate(568.19,712.59) scale(0.2015,0.0113)">C</text>
<text x="0" y="0" font-size="100" font-weight="bold" fill="#64b54b" stroke="#64b54b" stroke-width="3.5" transform="translate(582.51,711.80) scale(0.1955,0.3913)">A</text>
<text x="0" y="0" font-size="100" font-weight="bold" fill="#de9535" stroke="#de9535" stroke-width="3.5" transform="translate(582.22,712.49) scale(0.1941,0.0099)">G</text>
<text x="0" y="0" font-size="100" font-weight="bold" fill="#3a52a1" stroke="#3a52a1" stroke-width="3.5" transform="translate(596.11,710.73) scale(0.1985,0.3704)">C</text>
<text x="0" y="0" font-size="100" font-weight="bold" fill="#64b54b" stroke="#64b54b" stroke-width="3.5" transform="translate(596.41,712.10) scale(0.1940,0.0145)">A</text>
<text x="0" y="0" font-size="100" font-weight="bold" fill="#64b54b" stroke="#64b54b" stroke-width="3.5" transform="translate(610.21,706.40) scale(0.1955,0.3130)">A</text>
<text x="0" y="0" font-size="100" font-weight="bold" fill="#de9535" stroke="#de9535" stroke-width="3.5" transform="translate(609.92,708.17) scale(0.1941,0.0254)">G</text>
<text x="0" y="0" font-size="100" font-weight="bold" fill="#b0282c" stroke="#b0282c" stroke-width="3.5" transform="translate(609.39,709.97) scale(0.2183,0.0257)">U</text>
<text x="0" y="0" font-size="100" font-weight="bold" fill="#3a52a1" stroke="#3a52a1" stroke-width="3.5" transform="translate(609.90,710.99) scale(0.2000,0.0141)">C</text>
<text x="0" y="0" font-size="100" font-weight="bold" fill="#de9535" stroke="#de9535" stroke-width="3.5" transform="translate(554.22,746.23) scale(0.1956,0.3704)">G</text>
<text x="0" y="0" font-size="100" font-weight="bold" fill="#de9535" stroke="#de9535" stroke-width="3.5" transform="translate(568.22,736.37) scale(0.1956,0.2296)">G</text>
<text x="0" y="0" font-size="100" font-weight="bold" fill="#b0282c" stroke="#b0282c" stroke-width="3.5" transform="translate(567.68,745.27) scale(0.2200,0.1257)">U</text>
<text x="0" y="0" font-size="100" font-weight="bold" fill="#3a52a1" stroke="#3a52a1" stroke-width="3.5" transform="translate(568.19,746.19) scale(0.2015,0.0113)">C</text>
<text x="0" y="0" font-size="100" font-weight="bold" fill="#64b54b" stroke="#64b54b" stroke-width="3.5" transform="translate(582.51,745.70) scale(0.1955,0.3681)">A</text>
<text x="0" y="0" font-size="100" font-weight="bold" fill="#b0282c" stroke="#b0282c" stroke-width="3.5" transform="translate(581.69,746.49) scale(0.2183,0.0114)">U</text>
<text x="0" y="0" font-size="100" font-weight="bold" fill="#3a52a1" stroke="#3a52a1" stroke-width="3.5" transform="translate(596.11,745.24) scale(0.1985,0.3563)">C</text>
<text x="0" y="0" font-size="100" font-weight="bold" fill="#de9535" stroke="#de9535" stroke-width="3.5" transform="translate(596.13,746.39) scale(0.1926,0.0113)">G</text>
<text x="0" y="0" font-size="100" font-weight="bold" fill="#64b54b" stroke="#64b54b" stroke-width="3.5" transform="translate(610.21,728.40) scale(0.1955,0.1174)">A</text>
<text x="0" y="0" font-size="100" font-weight="bold" fill="#3a52a1" stroke="#3a52a1" stroke-width="3.5" transform="translate(609.90,735.89) scale(0.2000,0.1070)">C</text>
<text x="0" y="0" font-size="100" font-weight="bold" fill="#de9535" stroke="#de9535" stroke-width="3.5" transform="translate(609.92,741.23) scale(0.1941,0.0746)">G</text>
<text x="0" y="0" font-size="100" font-weight="bold" fill="#b0282c" stroke="#b0282c" stroke-width="3.5" transform="translate(609.39,745.93) scale(0.2183,0.0671)">U</text>
<text x="0" y="0" font-size="100" font-weight="bold" fill="#de9535" stroke="#de9535" stroke-width="3.5" transform="translate(554.22,775.79) scale(0.1956,0.3099)">G</text>
<text x="0" y="0" font-size="100" font-weight="bold" fill="#b0282c" stroke="#b0282c" stroke-width="3.5" transform="translate(553.68,777.58) scale(0.2200,0.0214)">U</text>
<text x="0" y="0" font-size="100" font-weight="bold" fill="#64b54b" stroke="#64b54b" stroke-width="3.5" transform="translate(554.51,778.60) scale(0.1970,0.0145)">A</text>
<text x="0" y="0" font-size="100" font-weight="bold" fill="#3a52a1" stroke="#3a52a1" stroke-width="3.5" transform="translate(554.19,779.39) scale(0.2015,0.0113)">C</text>
<text x="0" y="0" font-size="100" font-weight="bold" fill="#de9535" stroke="#de9535" stroke-width="3.5" transform="translate(568.22,775.79) scale(0.1956,0.3099)">G</text>
<text x="0" y="0" font-size="100" font-weight="bold" fill="#b0282c" stroke="#b0282c" stroke-width="3.5" transform="translate(567.68,777.58) scale(0.2200,0.0214)">U</text>
<text x="0" y="0" font-size="100" font-weight="bold" fill="#64b54b" stroke="#64b54b" stroke-width="3.5" transform="translate(568.51,778.60) scale(0.1970,0.0145)">A</text>
<text x="0" y="0" font-size="100" font-weight="bold" fill="#3a52a1" stroke="#3a52a1" stroke-width="3.5" transform="translate(568.19,779.39) scale(0.2015,0.0113)">C</text>
<text x="0" y="0" font-size="100" font-weight="bold" fill="#64b54b" stroke="#64b54b" stroke-width="3.5" transform="translate(582.51,776.30) scale(0.1955,0.3217)">A</text>
<text x="0" y="0" font-size="100" font-weight="bold" fill="#de9535" stroke="#de9535" stroke-width="3.5" transform="translate(582.22,777.48) scale(0.1941,0.0169)">G</text>
<text x="0" y="0" font-size="100" font-weight="bold" fill="#b0282c" stroke="#b0282c" stroke-width="3.5" transform="translate(581.69,778.68) scale(0.2183,0.0171)">U</text>
<text x="0" y="0" font-size="100" font-weight="bold" fill="#3a52a1" stroke="#3a52a1" stroke-width="3.5" transform="translate(582.20,779.49) scale(0.2000,0.0113)">C</text>
<text x="0" y="0" font-size="100" font-weight="bold" fill="#3a52a1" stroke="#3a52a1" stroke-width="3.5" transform="translate(596.11,775.99) scale(0.1985,0.3127)">C</text>
<text x="0" y="0" font-size="100" font-weight="bold" fill="#de9535" stroke="#de9535" stroke-width="3.5" transform="translate(596.13,777.48) scale(0.1926,0.0169)">G</text>
<text x="0" y="0" font-size="100" font-weight="bold" fill="#64b54b" stroke="#64b54b" stroke-width="3.5" transform="translate(596.41,778.50) scale(0.1940,0.0145)">A</text>
<text x="0" y="0" font-size="100" font-weight="bold" fill="#b0282c" stroke="#b0282c" stroke-width="3.5" transform="translate(595.60,779.29) scale(0.2167,0.0114)">U</text>
<text x="0" y="0" font-size="100" font-weight="bold" fill="#b0282c" stroke="#b0282c" stroke-width="3.5" transform="translate(609.39,773.12) scale(0.2183,0.2757)">U</text>
<text x="0" y="0" font-size="100" font-weight="bold" fill="#64b54b" stroke="#64b54b" stroke-width="3.5" transform="translate(610.21,775.90) scale(0.1955,0.0362)">A</text>
<text x="0" y="0" font-size="100" font-weight="bold" fill="#de9535" stroke="#de9535" stroke-width="3.5" transform="translate(609.92,777.38) scale(0.1941,0.0211)">G</text>
<text x="0" y="0" font-size="100" font-weight="bold" fill="#3a52a1" stroke="#3a52a1" stroke-width="3.5" transform="translate(609.90,778.39) scale(0.2000,0.0141)">C</text>
</svg></body></html>
